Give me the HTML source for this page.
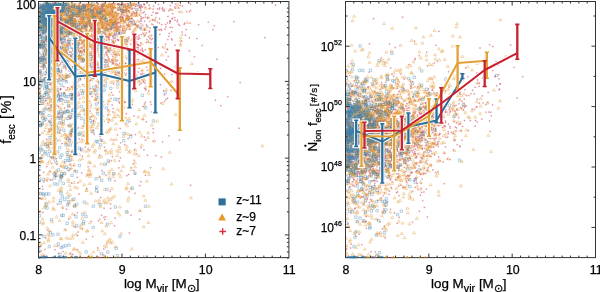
<!DOCTYPE html>
<html><head><meta charset="utf-8"><style>html,body{margin:0;padding:0;background:#fff;width:600px;height:292px;overflow:hidden}svg{display:block;filter:blur(0.25px)}</style></head><body>
<svg xmlns="http://www.w3.org/2000/svg" width="600" height="292" viewBox="0 0 600 292">
<defs><filter id="bl" x="-5%" y="-5%" width="110%" height="110%"><feGaussianBlur stdDeviation="0.45"/></filter><clipPath id="cl"><rect x="38.5" y="1.5" width="250.4" height="256.1"/></clipPath><clipPath id="cr"><rect x="345.5" y="1.5" width="250.0" height="256.1"/></clipPath></defs>
<g clip-path="url(#cl)"><g fill="none" filter="url(#bl)">
<path stroke="#cf4a64" stroke-width="0.6" opacity="0.65" d="M92.6 21.4h1.8M93.5 20.5v1.8M142.0 119.4h1.8M142.9 118.5v1.8M86.6 15.3h1.8M87.5 14.4v1.8M82.6 4.8h1.8M83.5 3.9v1.8M131.2 76.5h1.8M132.1 75.6v1.8M59.4 39.6h1.8M60.3 38.7v1.8M165.1 99.4h1.8M166.0 98.5v1.8M101.4 24.5h1.8M102.3 23.6v1.8M120.6 11.5h1.8M121.5 10.6v1.8M175.6 51.6h1.8M176.5 50.7v1.8M114.5 23.1h1.8M115.4 22.2v1.8M114.3 18.3h1.8M115.2 17.4v1.8M116.0 26.6h1.8M116.9 25.7v1.8M67.7 21.5h1.8M68.6 20.6v1.8M53.1 79.5h1.8M54.0 78.6v1.8M181.4 34.8h1.8M182.3 33.9v1.8M51.0 20.1h1.8M51.9 19.2v1.8M71.7 37.9h1.8M72.6 37.0v1.8M82.7 24.7h1.8M83.6 23.8v1.8M161.6 141.8h1.8M162.5 140.9v1.8M98.3 8.4h1.8M99.2 7.5v1.8M121.8 41.0h1.8M122.7 40.1v1.8M95.2 7.7h1.8M96.1 6.8v1.8M55.6 9.7h1.8M56.5 8.8v1.8M77.5 6.1h1.8M78.4 5.2v1.8M141.4 73.3h1.8M142.3 72.4v1.8M81.5 35.1h1.8M82.4 34.2v1.8M68.7 52.2h1.8M69.6 51.3v1.8M152.3 141.2h1.8M153.2 140.3v1.8M48.4 131.5h1.8M49.3 130.6v1.8M183.8 23.1h1.8M184.7 22.2v1.8M171.1 39.9h1.8M172.0 39.0v1.8M151.5 38.6h1.8M152.4 37.7v1.8M51.4 35.5h1.8M52.3 34.6v1.8M125.5 29.1h1.8M126.4 28.2v1.8M104.9 60.1h1.8M105.8 59.2v1.8M115.6 23.7h1.8M116.5 22.8v1.8M130.8 5.9h1.8M131.7 5.0v1.8M75.4 27.6h1.8M76.3 26.7v1.8M79.4 18.5h1.8M80.3 17.6v1.8M155.3 42.9h1.8M156.2 42.0v1.8M132.3 163.9h1.8M133.2 163.0v1.8M91.4 71.4h1.8M92.3 70.5v1.8M82.5 135.6h1.8M83.4 134.7v1.8M114.8 12.8h1.8M115.7 11.9v1.8M109.7 47.3h1.8M110.6 46.4v1.8M110.6 92.5h1.8M111.5 91.6v1.8M87.1 6.4h1.8M88.0 5.5v1.8M138.7 219.2h1.8M139.6 218.3v1.8M65.2 69.3h1.8M66.1 68.4v1.8M100.9 114.5h1.8M101.8 113.6v1.8M150.7 111.9h1.8M151.6 111.0v1.8M89.4 16.1h1.8M90.3 15.2v1.8M88.7 20.7h1.8M89.6 19.8v1.8M117.5 80.9h1.8M118.4 80.0v1.8M112.6 41.5h1.8M113.5 40.6v1.8M75.2 62.3h1.8M76.1 61.4v1.8M114.5 41.0h1.8M115.4 40.1v1.8M103.5 147.2h1.8M104.4 146.3v1.8M74.3 18.8h1.8M75.2 17.9v1.8M183.3 24.4h1.8M184.2 23.5v1.8M48.9 171.2h1.8M49.8 170.3v1.8M56.1 36.8h1.8M57.0 35.9v1.8M69.0 32.6h1.8M69.9 31.7v1.8M138.2 21.8h1.8M139.1 20.9v1.8M103.2 28.6h1.8M104.1 27.7v1.8M124.9 16.2h1.8M125.8 15.3v1.8M165.4 68.0h1.8M166.3 67.1v1.8M138.8 84.9h1.8M139.7 84.0v1.8M70.7 17.9h1.8M71.6 17.0v1.8M140.2 4.9h1.8M141.1 4.0v1.8M189.7 185.2h1.8M190.6 184.3v1.8M120.3 4.6h1.8M121.2 3.7v1.8M155.7 29.6h1.8M156.6 28.7v1.8M95.3 37.8h1.8M96.2 36.9v1.8M94.3 52.2h1.8M95.2 51.3v1.8M42.3 114.1h1.8M43.2 113.2v1.8M56.0 23.3h1.8M56.9 22.4v1.8M80.8 7.9h1.8M81.7 7.0v1.8M113.5 26.9h1.8M114.4 26.0v1.8M67.0 125.7h1.8M67.9 124.8v1.8M61.8 32.1h1.8M62.7 31.2v1.8M141.7 6.9h1.8M142.6 6.0v1.8M69.4 24.0h1.8M70.3 23.1v1.8M118.4 161.0h1.8M119.3 160.1v1.8M130.8 21.9h1.8M131.7 21.0v1.8M129.8 80.3h1.8M130.7 79.4v1.8M139.0 6.5h1.8M139.9 5.6v1.8M131.5 34.0h1.8M132.4 33.1v1.8M70.8 9.7h1.8M71.7 8.8v1.8M59.6 9.4h1.8M60.5 8.5v1.8M132.4 11.7h1.8M133.3 10.8v1.8M114.9 20.6h1.8M115.8 19.7v1.8M57.7 113.1h1.8M58.6 112.2v1.8M62.2 42.5h1.8M63.1 41.6v1.8M126.8 40.8h1.8M127.7 39.9v1.8M58.6 19.6h1.8M59.5 18.7v1.8M125.6 44.4h1.8M126.5 43.5v1.8M108.2 4.0h1.8M109.1 3.1v1.8M130.4 15.3h1.8M131.3 14.4v1.8M82.5 49.9h1.8M83.4 49.0v1.8M64.1 67.7h1.8M65.0 66.8v1.8M121.8 29.7h1.8M122.7 28.8v1.8M117.3 4.3h1.8M118.2 3.4v1.8M46.8 103.3h1.8M47.7 102.4v1.8M143.8 88.5h1.8M144.7 87.6v1.8M119.6 37.4h1.8M120.5 36.5v1.8M73.8 18.5h1.8M74.7 17.6v1.8M69.3 118.8h1.8M70.2 117.9v1.8M71.9 37.3h1.8M72.8 36.4v1.8M133.3 160.3h1.8M134.2 159.4v1.8M51.8 25.6h1.8M52.7 24.7v1.8M55.0 173.4h1.8M55.9 172.5v1.8M105.4 82.7h1.8M106.3 81.8v1.8M105.1 175.4h1.8M106.0 174.5v1.8M100.8 9.8h1.8M101.7 8.9v1.8M101.8 11.1h1.8M102.7 10.2v1.8M78.9 36.8h1.8M79.8 35.9v1.8M41.9 17.4h1.8M42.8 16.5v1.8M86.9 9.1h1.8M87.8 8.2v1.8M105.6 70.8h1.8M106.5 69.9v1.8M101.7 65.1h1.8M102.6 64.2v1.8M100.7 215.2h1.8M101.6 214.3v1.8M76.1 53.3h1.8M77.0 52.4v1.8M103.8 9.5h1.8M104.7 8.6v1.8M62.1 11.1h1.8M63.0 10.2v1.8M159.6 68.4h1.8M160.5 67.5v1.8M107.3 29.0h1.8M108.2 28.1v1.8M85.8 46.4h1.8M86.7 45.5v1.8M50.7 118.6h1.8M51.6 117.7v1.8M91.6 13.6h1.8M92.5 12.7v1.8M134.4 143.3h1.8M135.3 142.4v1.8M128.4 233.0h1.8M129.3 232.1v1.8M119.7 142.8h1.8M120.6 141.9v1.8M80.1 40.3h1.8M81.0 39.4v1.8M90.0 10.5h1.8M90.9 9.6v1.8M123.8 144.7h1.8M124.7 143.8v1.8M42.5 66.8h1.8M43.4 65.9v1.8M70.6 11.5h1.8M71.5 10.6v1.8M62.0 26.6h1.8M62.9 25.7v1.8M142.2 12.8h1.8M143.1 11.9v1.8M77.7 55.6h1.8M78.6 54.7v1.8M73.9 32.0h1.8M74.8 31.1v1.8M51.3 34.3h1.8M52.2 33.4v1.8M146.5 155.2h1.8M147.4 154.3v1.8M73.9 26.1h1.8M74.8 25.2v1.8M113.9 21.8h1.8M114.8 20.9v1.8M213.4 25.8h1.8M214.3 24.9v1.8M93.9 8.2h1.8M94.8 7.3v1.8M117.5 23.2h1.8M118.4 22.3v1.8M58.2 13.0h1.8M59.1 12.1v1.8M144.4 102.3h1.8M145.3 101.4v1.8M112.7 84.2h1.8M113.6 83.3v1.8M101.9 40.1h1.8M102.8 39.2v1.8M60.3 71.2h1.8M61.2 70.3v1.8M38.7 22.1h1.8M39.6 21.2v1.8M47.7 108.5h1.8M48.6 107.6v1.8M43.8 47.7h1.8M44.7 46.8v1.8M113.7 33.3h1.8M114.6 32.4v1.8M82.3 18.4h1.8M83.2 17.5v1.8M47.9 94.2h1.8M48.8 93.3v1.8M85.0 38.9h1.8M85.9 38.0v1.8M86.3 9.9h1.8M87.2 9.0v1.8M55.2 39.8h1.8M56.1 38.9v1.8M126.0 58.7h1.8M126.9 57.8v1.8M52.1 91.1h1.8M53.0 90.2v1.8M114.2 35.1h1.8M115.1 34.2v1.8M50.3 34.8h1.8M51.2 33.9v1.8M117.1 115.4h1.8M118.0 114.5v1.8M91.6 24.6h1.8M92.5 23.7v1.8M71.0 72.9h1.8M71.9 72.0v1.8M176.3 21.8h1.8M177.2 20.9v1.8M101.0 35.2h1.8M101.9 34.3v1.8M138.3 35.3h1.8M139.2 34.4v1.8M78.2 21.3h1.8M79.1 20.4v1.8M100.1 19.8h1.8M101.0 18.9v1.8M104.2 33.6h1.8M105.1 32.7v1.8M76.0 70.6h1.8M76.9 69.7v1.8M122.4 20.4h1.8M123.3 19.5v1.8M120.4 10.1h1.8M121.3 9.2v1.8M80.7 19.3h1.8M81.6 18.4v1.8M91.5 24.0h1.8M92.4 23.1v1.8M144.3 49.9h1.8M145.2 49.0v1.8M106.5 24.9h1.8M107.4 24.0v1.8M85.0 14.5h1.8M85.9 13.6v1.8M59.2 133.0h1.8M60.1 132.1v1.8M207.4 22.2h1.8M208.3 21.3v1.8M147.5 54.2h1.8M148.4 53.3v1.8M150.8 15.4h1.8M151.7 14.5v1.8M143.0 4.0h1.8M143.9 3.1v1.8M39.5 47.8h1.8M40.4 46.9v1.8M100.3 22.3h1.8M101.2 21.4v1.8M73.4 6.9h1.8M74.3 6.0v1.8M132.0 46.9h1.8M132.9 46.0v1.8M188.6 37.8h1.8M189.5 36.9v1.8M113.1 52.3h1.8M114.0 51.4v1.8M101.8 15.8h1.8M102.7 14.9v1.8M92.2 42.8h1.8M93.1 41.9v1.8M56.9 20.9h1.8M57.8 20.0v1.8M79.7 149.3h1.8M80.6 148.4v1.8M86.2 33.6h1.8M87.1 32.7v1.8M65.7 14.1h1.8M66.6 13.2v1.8M113.6 34.8h1.8M114.5 33.9v1.8M102.3 254.8h1.8M103.2 253.9v1.8M72.7 129.2h1.8M73.6 128.3v1.8M105.7 24.1h1.8M106.6 23.2v1.8M61.6 47.5h1.8M62.5 46.6v1.8M151.0 24.1h1.8M151.9 23.2v1.8M89.4 33.4h1.8M90.3 32.5v1.8M46.1 37.3h1.8M47.0 36.4v1.8M75.0 15.0h1.8M75.9 14.1v1.8M160.4 157.0h1.8M161.3 156.1v1.8M122.0 9.4h1.8M122.9 8.5v1.8M92.7 121.1h1.8M93.6 120.2v1.8M45.4 98.0h1.8M46.3 97.1v1.8M176.1 89.3h1.8M177.0 88.4v1.8M135.8 25.9h1.8M136.7 25.0v1.8M162.0 10.5h1.8M162.9 9.6v1.8M96.6 16.3h1.8M97.5 15.4v1.8M131.1 63.2h1.8M132.0 62.3v1.8M93.8 15.9h1.8M94.7 15.0v1.8M133.0 170.7h1.8M133.9 169.8v1.8M141.1 70.6h1.8M142.0 69.7v1.8M105.1 74.8h1.8M106.0 73.9v1.8M72.8 36.9h1.8M73.7 36.0v1.8M84.2 17.4h1.8M85.1 16.5v1.8M77.3 232.0h1.8M78.2 231.1v1.8M80.1 30.7h1.8M81.0 29.8v1.8M56.6 30.3h1.8M57.5 29.4v1.8M155.3 13.7h1.8M156.2 12.8v1.8M144.8 89.0h1.8M145.7 88.1v1.8M82.5 10.7h1.8M83.4 9.8v1.8M86.4 34.6h1.8M87.3 33.7v1.8M97.0 192.2h1.8M97.9 191.3v1.8M167.9 10.8h1.8M168.8 9.9v1.8M69.9 134.9h1.8M70.8 134.0v1.8M75.8 11.1h1.8M76.7 10.2v1.8M79.8 51.0h1.8M80.7 50.1v1.8M97.0 65.2h1.8M97.9 64.3v1.8M100.5 95.0h1.8M101.4 94.1v1.8M163.7 101.3h1.8M164.6 100.4v1.8M47.3 14.9h1.8M48.2 14.0v1.8M120.4 81.2h1.8M121.3 80.3v1.8M89.9 88.8h1.8M90.8 87.9v1.8M114.1 180.8h1.8M115.0 179.9v1.8M123.9 32.8h1.8M124.8 31.9v1.8M122.1 33.4h1.8M123.0 32.5v1.8M122.7 40.6h1.8M123.6 39.7v1.8M66.9 5.8h1.8M67.8 4.9v1.8M81.2 42.8h1.8M82.1 41.9v1.8M82.0 18.3h1.8M82.9 17.4v1.8M126.7 16.0h1.8M127.6 15.1v1.8M60.6 57.3h1.8M61.5 56.4v1.8M108.7 34.6h1.8M109.6 33.7v1.8M95.4 40.8h1.8M96.3 39.9v1.8M93.5 8.0h1.8M94.4 7.1v1.8M120.2 43.5h1.8M121.1 42.6v1.8M92.0 13.7h1.8M92.9 12.8v1.8M100.2 35.4h1.8M101.1 34.5v1.8M103.9 67.3h1.8M104.8 66.4v1.8M63.1 7.0h1.8M64.0 6.1v1.8M47.4 145.3h1.8M48.3 144.4v1.8M171.8 18.2h1.8M172.7 17.3v1.8M140.0 5.7h1.8M140.9 4.8v1.8M77.8 92.7h1.8M78.7 91.8v1.8M100.4 13.1h1.8M101.3 12.2v1.8M126.1 175.7h1.8M127.0 174.8v1.8M93.4 45.2h1.8M94.3 44.3v1.8M112.8 62.3h1.8M113.7 61.4v1.8M89.4 4.8h1.8M90.3 3.9v1.8M68.2 71.0h1.8M69.1 70.1v1.8M40.8 27.4h1.8M41.7 26.5v1.8M239.3 82.6h1.8M240.2 81.7v1.8M136.1 63.7h1.8M137.0 62.8v1.8M56.3 21.2h1.8M57.2 20.3v1.8M100.6 141.0h1.8M101.5 140.1v1.8M145.5 24.7h1.8M146.4 23.8v1.8M57.3 35.9h1.8M58.2 35.0v1.8M62.0 79.7h1.8M62.9 78.8v1.8M96.1 15.1h1.8M97.0 14.2v1.8M89.2 75.2h1.8M90.1 74.3v1.8M96.8 25.1h1.8M97.7 24.2v1.8M121.4 16.9h1.8M122.3 16.0v1.8M84.3 5.3h1.8M85.2 4.4v1.8M79.4 71.8h1.8M80.3 70.9v1.8M74.8 89.5h1.8M75.7 88.6v1.8M48.9 77.9h1.8M49.8 77.0v1.8M150.3 104.4h1.8M151.2 103.5v1.8M101.5 27.7h1.8M102.4 26.8v1.8M125.2 18.3h1.8M126.1 17.4v1.8M72.9 226.8h1.8M73.8 225.9v1.8M112.2 8.0h1.8M113.1 7.1v1.8M112.8 16.4h1.8M113.7 15.5v1.8M50.2 85.4h1.8M51.1 84.5v1.8M117.0 28.6h1.8M117.9 27.7v1.8M56.5 16.8h1.8M57.4 15.9v1.8M128.8 66.5h1.8M129.7 65.6v1.8M103.1 217.4h1.8M104.0 216.5v1.8M83.3 21.6h1.8M84.2 20.7v1.8M46.5 5.0h1.8M47.4 4.1v1.8M82.7 33.4h1.8M83.6 32.5v1.8M134.1 13.1h1.8M135.0 12.2v1.8M152.8 42.3h1.8M153.7 41.4v1.8M91.1 51.7h1.8M92.0 50.8v1.8M59.2 8.8h1.8M60.1 7.9v1.8M166.6 98.3h1.8M167.5 97.4v1.8M94.2 8.8h1.8M95.1 7.9v1.8M126.8 6.6h1.8M127.7 5.7v1.8M101.4 94.7h1.8M102.3 93.8v1.8M66.8 8.7h1.8M67.7 7.8v1.8M120.7 13.0h1.8M121.6 12.1v1.8M178.2 71.0h1.8M179.1 70.1v1.8M89.9 25.0h1.8M90.8 24.1v1.8M39.2 34.0h1.8M40.1 33.1v1.8M80.2 35.7h1.8M81.1 34.8v1.8M121.2 17.4h1.8M122.1 16.5v1.8M158.6 18.8h1.8M159.5 17.9v1.8M79.7 50.8h1.8M80.6 49.9v1.8M146.7 70.3h1.8M147.6 69.4v1.8M77.6 127.8h1.8M78.5 126.9v1.8M89.2 63.4h1.8M90.1 62.5v1.8M148.2 4.9h1.8M149.1 4.0v1.8M59.4 18.0h1.8M60.3 17.1v1.8M101.1 25.8h1.8M102.0 24.9v1.8M87.2 148.8h1.8M88.1 147.9v1.8M140.1 21.4h1.8M141.0 20.5v1.8M79.4 30.9h1.8M80.3 30.0v1.8M188.7 11.8h1.8M189.6 10.9v1.8M154.1 31.4h1.8M155.0 30.5v1.8M92.2 37.5h1.8M93.1 36.6v1.8M57.7 106.7h1.8M58.6 105.8v1.8M133.3 43.3h1.8M134.2 42.4v1.8M43.1 41.6h1.8M44.0 40.7v1.8M76.9 7.8h1.8M77.8 6.9v1.8M58.7 65.2h1.8M59.6 64.3v1.8M151.9 27.6h1.8M152.8 26.7v1.8M42.0 212.5h1.8M42.9 211.6v1.8M70.7 61.4h1.8M71.6 60.5v1.8M52.4 16.4h1.8M53.3 15.5v1.8M137.2 25.2h1.8M138.1 24.3v1.8M74.5 14.2h1.8M75.4 13.3v1.8M67.4 17.0h1.8M68.3 16.1v1.8M104.6 11.5h1.8M105.5 10.6v1.8M143.5 104.0h1.8M144.4 103.1v1.8M81.9 33.8h1.8M82.8 32.9v1.8M52.3 9.5h1.8M53.2 8.6v1.8M78.6 13.4h1.8M79.5 12.5v1.8M107.6 10.8h1.8M108.5 9.9v1.8M137.9 79.8h1.8M138.8 78.9v1.8M69.7 15.9h1.8M70.6 15.0v1.8M169.4 20.8h1.8M170.3 19.9v1.8M94.4 40.7h1.8M95.3 39.8v1.8M163.4 11.1h1.8M164.3 10.2v1.8M52.5 7.1h1.8M53.4 6.2v1.8M133.7 24.5h1.8M134.6 23.6v1.8M103.0 19.2h1.8M103.9 18.3v1.8M106.9 104.1h1.8M107.8 103.2v1.8M116.5 29.8h1.8M117.4 28.9v1.8M91.3 15.6h1.8M92.2 14.7v1.8M101.0 170.5h1.8M101.9 169.6v1.8M96.5 35.7h1.8M97.4 34.8v1.8M74.5 118.7h1.8M75.4 117.8v1.8M141.5 55.8h1.8M142.4 54.9v1.8M123.3 73.0h1.8M124.2 72.1v1.8M115.2 21.4h1.8M116.1 20.5v1.8M58.8 98.7h1.8M59.7 97.8v1.8M98.2 43.3h1.8M99.1 42.4v1.8M87.3 166.7h1.8M88.2 165.8v1.8M79.1 35.1h1.8M80.0 34.2v1.8M166.6 22.9h1.8M167.5 22.0v1.8M69.3 73.5h1.8M70.2 72.6v1.8M97.3 16.6h1.8M98.2 15.7v1.8M69.3 52.0h1.8M70.2 51.1v1.8M58.0 71.7h1.8M58.9 70.8v1.8M73.1 107.5h1.8M74.0 106.6v1.8M84.8 22.9h1.8M85.7 22.0v1.8M94.7 25.2h1.8M95.6 24.3v1.8M57.4 14.8h1.8M58.3 13.9v1.8M97.5 221.0h1.8M98.4 220.1v1.8M131.0 18.4h1.8M131.9 17.5v1.8M49.4 51.0h1.8M50.3 50.1v1.8M48.2 38.9h1.8M49.1 38.0v1.8M108.5 39.7h1.8M109.4 38.8v1.8M91.3 46.9h1.8M92.2 46.0v1.8M115.0 61.2h1.8M115.9 60.3v1.8M131.1 18.6h1.8M132.0 17.7v1.8M83.0 40.8h1.8M83.9 39.9v1.8M133.6 149.8h1.8M134.5 148.9v1.8M84.0 40.7h1.8M84.9 39.8v1.8M80.8 32.4h1.8M81.7 31.5v1.8M92.0 5.3h1.8M92.9 4.4v1.8M54.7 62.3h1.8M55.6 61.4v1.8M155.0 12.9h1.8M155.9 12.0v1.8M94.0 49.6h1.8M94.9 48.7v1.8M84.7 40.8h1.8M85.6 39.9v1.8M138.8 185.6h1.8M139.7 184.7v1.8M110.4 160.7h1.8M111.3 159.8v1.8M121.8 38.9h1.8M122.7 38.0v1.8M81.0 20.0h1.8M81.9 19.1v1.8M115.9 28.0h1.8M116.8 27.1v1.8M100.7 6.2h1.8M101.6 5.3v1.8M63.8 162.6h1.8M64.7 161.7v1.8M181.2 32.0h1.8M182.1 31.1v1.8M40.2 245.7h1.8M41.1 244.8v1.8M169.4 27.3h1.8M170.3 26.4v1.8M51.7 153.1h1.8M52.6 152.2v1.8M58.1 12.0h1.8M59.0 11.1v1.8M78.3 16.3h1.8M79.2 15.4v1.8M131.0 13.6h1.8M131.9 12.7v1.8M119.0 22.3h1.8M119.9 21.4v1.8M94.8 16.4h1.8M95.7 15.5v1.8M57.9 15.4h1.8M58.8 14.5v1.8M118.9 103.0h1.8M119.8 102.1v1.8M117.4 10.3h1.8M118.3 9.4v1.8M87.9 17.2h1.8M88.8 16.3v1.8M177.3 84.4h1.8M178.2 83.5v1.8M87.8 13.8h1.8M88.7 12.9v1.8M78.4 9.9h1.8M79.3 9.0v1.8M135.7 12.4h1.8M136.6 11.5v1.8M42.4 53.2h1.8M43.3 52.3v1.8M159.5 84.7h1.8M160.4 83.8v1.8M112.4 63.3h1.8M113.3 62.4v1.8M152.4 128.6h1.8M153.3 127.7v1.8M86.5 100.3h1.8M87.4 99.4v1.8M112.1 36.5h1.8M113.0 35.6v1.8M107.5 37.7h1.8M108.4 36.8v1.8M92.4 9.0h1.8M93.3 8.1v1.8M78.1 7.8h1.8M79.0 6.9v1.8M56.3 24.7h1.8M57.2 23.8v1.8M70.2 136.8h1.8M71.1 135.9v1.8M60.8 42.1h1.8M61.7 41.2v1.8M99.4 56.4h1.8M100.3 55.5v1.8M113.7 47.7h1.8M114.6 46.8v1.8M78.6 23.0h1.8M79.5 22.1v1.8M78.1 25.2h1.8M79.0 24.3v1.8M44.7 59.6h1.8M45.6 58.7v1.8M123.0 20.6h1.8M123.9 19.7v1.8M77.3 25.4h1.8M78.2 24.5v1.8M45.8 166.4h1.8M46.7 165.5v1.8M116.7 4.4h1.8M117.6 3.5v1.8M77.3 64.5h1.8M78.2 63.6v1.8M142.7 81.8h1.8M143.6 80.9v1.8M102.9 24.9h1.8M103.8 24.0v1.8M104.4 59.6h1.8M105.3 58.7v1.8M111.5 13.8h1.8M112.4 12.9v1.8M67.7 63.7h1.8M68.6 62.8v1.8M105.4 22.0h1.8M106.3 21.1v1.8M143.7 21.3h1.8M144.6 20.4v1.8M158.9 34.4h1.8M159.8 33.5v1.8M43.3 41.3h1.8M44.2 40.4v1.8M88.2 35.5h1.8M89.1 34.6v1.8M126.3 25.3h1.8M127.2 24.4v1.8M111.4 23.9h1.8M112.3 23.0v1.8M42.0 9.7h1.8M42.9 8.8v1.8M41.2 155.0h1.8M42.1 154.1v1.8M98.7 18.4h1.8M99.6 17.5v1.8M70.4 86.8h1.8M71.3 85.9v1.8M97.1 23.0h1.8M98.0 22.1v1.8M105.5 54.2h1.8M106.4 53.3v1.8M103.2 15.7h1.8M104.1 14.8v1.8M107.7 38.4h1.8M108.6 37.5v1.8M70.8 56.1h1.8M71.7 55.2v1.8M72.8 30.4h1.8M73.7 29.5v1.8M126.1 10.8h1.8M127.0 9.9v1.8M81.3 24.9h1.8M82.2 24.0v1.8M78.4 7.5h1.8M79.3 6.6v1.8M59.6 88.6h1.8M60.5 87.7v1.8M104.2 12.1h1.8M105.1 11.2v1.8M163.6 74.0h1.8M164.5 73.1v1.8M149.1 38.5h1.8M150.0 37.6v1.8M54.1 12.9h1.8M55.0 12.0v1.8M72.1 20.4h1.8M73.0 19.5v1.8M163.5 94.8h1.8M164.4 93.9v1.8M158.4 29.9h1.8M159.3 29.0v1.8M99.2 107.7h1.8M100.1 106.8v1.8M95.9 43.5h1.8M96.8 42.6v1.8M169.2 21.8h1.8M170.1 20.9v1.8M76.5 88.8h1.8M77.4 87.9v1.8M61.7 74.9h1.8M62.6 74.0v1.8M79.5 24.7h1.8M80.4 23.8v1.8M95.9 70.3h1.8M96.8 69.4v1.8M143.4 11.8h1.8M144.3 10.9v1.8M102.2 6.6h1.8M103.1 5.7v1.8M117.0 4.0h1.8M117.9 3.1v1.8M143.2 4.8h1.8M144.1 3.9v1.8M54.0 249.7h1.8M54.9 248.8v1.8M184.4 35.2h1.8M185.3 34.3v1.8M146.9 18.1h1.8M147.8 17.2v1.8M165.1 26.9h1.8M166.0 26.0v1.8M53.4 33.6h1.8M54.3 32.7v1.8M92.8 12.0h1.8M93.7 11.1v1.8M56.5 15.0h1.8M57.4 14.1v1.8M80.2 150.8h1.8M81.1 149.9v1.8M82.9 67.5h1.8M83.8 66.6v1.8M89.0 80.3h1.8M89.9 79.4v1.8M142.4 17.7h1.8M143.3 16.8v1.8M162.6 90.6h1.8M163.5 89.7v1.8M105.0 6.1h1.8M105.9 5.2v1.8M154.9 17.7h1.8M155.8 16.8v1.8M73.5 51.5h1.8M74.4 50.6v1.8M94.0 46.2h1.8M94.9 45.3v1.8M86.6 84.5h1.8M87.5 83.6v1.8M97.2 38.6h1.8M98.1 37.7v1.8M57.5 11.4h1.8M58.4 10.5v1.8M133.7 66.1h1.8M134.6 65.2v1.8M67.4 12.9h1.8M68.3 12.0v1.8M89.3 29.3h1.8M90.2 28.4v1.8M158.5 23.2h1.8M159.4 22.3v1.8M71.2 25.7h1.8M72.1 24.8v1.8M47.0 6.0h1.8M47.9 5.1v1.8M178.7 139.9h1.8M179.6 139.0v1.8M108.5 29.2h1.8M109.4 28.3v1.8M57.6 253.4h1.8M58.5 252.5v1.8M93.2 66.0h1.8M94.1 65.1v1.8M108.1 51.3h1.8M109.0 50.4v1.8M127.7 16.9h1.8M128.6 16.0v1.8M50.1 13.0h1.8M51.0 12.1v1.8M123.5 7.0h1.8M124.4 6.1v1.8M80.4 8.4h1.8M81.3 7.5v1.8M89.8 46.2h1.8M90.7 45.3v1.8M87.8 5.0h1.8M88.7 4.1v1.8M44.3 75.0h1.8M45.2 74.1v1.8M39.5 15.6h1.8M40.4 14.7v1.8M71.3 23.6h1.8M72.2 22.7v1.8M66.4 45.7h1.8M67.3 44.8v1.8M107.0 49.9h1.8M107.9 49.0v1.8M45.8 139.3h1.8M46.7 138.4v1.8M130.1 215.2h1.8M131.0 214.3v1.8M78.9 21.9h1.8M79.8 21.0v1.8M74.1 81.3h1.8M75.0 80.4v1.8M119.1 27.5h1.8M120.0 26.6v1.8M138.3 7.1h1.8M139.2 6.2v1.8M99.7 8.3h1.8M100.6 7.4v1.8M118.8 91.8h1.8M119.7 90.9v1.8M188.5 50.9h1.8M189.4 50.0v1.8M40.6 199.0h1.8M41.5 198.1v1.8M117.7 72.7h1.8M118.6 71.8v1.8M38.8 23.3h1.8M39.7 22.4v1.8M172.2 72.2h1.8M173.1 71.3v1.8M73.9 67.4h1.8M74.8 66.5v1.8M70.8 18.9h1.8M71.7 18.0v1.8M141.6 50.9h1.8M142.5 50.0v1.8M174.2 20.3h1.8M175.1 19.4v1.8M78.3 9.1h1.8M79.2 8.2v1.8M96.1 11.3h1.8M97.0 10.4v1.8M141.1 74.7h1.8M142.0 73.8v1.8M99.8 197.5h1.8M100.7 196.6v1.8M79.6 51.8h1.8M80.5 50.9v1.8M38.4 124.8h1.8M39.3 123.9v1.8M69.5 164.6h1.8M70.4 163.7v1.8M136.0 12.4h1.8M136.9 11.5v1.8M38.6 84.1h1.8M39.5 83.2v1.8M152.4 132.6h1.8M153.3 131.7v1.8M93.4 7.4h1.8M94.3 6.5v1.8M115.1 63.6h1.8M116.0 62.7v1.8M139.3 7.0h1.8M140.2 6.1v1.8M84.3 14.1h1.8M85.2 13.2v1.8M41.4 13.5h1.8M42.3 12.6v1.8M79.0 98.9h1.8M79.9 98.0v1.8M69.6 22.4h1.8M70.5 21.5v1.8M154.8 65.3h1.8M155.7 64.4v1.8M122.4 12.4h1.8M123.3 11.5v1.8M139.2 45.8h1.8M140.1 44.9v1.8M63.8 52.8h1.8M64.7 51.9v1.8M101.4 6.4h1.8M102.3 5.5v1.8M80.6 19.9h1.8M81.5 19.0v1.8M68.0 42.9h1.8M68.9 42.0v1.8M164.8 24.4h1.8M165.7 23.5v1.8M193.6 56.7h1.8M194.5 55.8v1.8M66.6 87.7h1.8M67.5 86.8v1.8M179.1 75.6h1.8M180.0 74.7v1.8M62.2 10.0h1.8M63.1 9.1v1.8M179.4 5.5h1.8M180.3 4.6v1.8M92.1 48.0h1.8M93.0 47.1v1.8M101.7 7.9h1.8M102.6 7.0v1.8M95.2 32.5h1.8M96.1 31.6v1.8M100.2 8.7h1.8M101.1 7.8v1.8M55.3 15.2h1.8M56.2 14.3v1.8M119.7 25.5h1.8M120.6 24.6v1.8M63.4 29.8h1.8M64.3 28.9v1.8M125.6 9.0h1.8M126.5 8.1v1.8M71.2 94.5h1.8M72.1 93.6v1.8"/>
<path stroke="#cf4a64" stroke-width="0.6" opacity="0.65" d="M141.4 50.0h1.8M142.3 49.1v1.8M165.2 52.3h1.8M166.1 51.4v1.8M118.9 32.9h1.8M119.8 32.0v1.8M57.6 93.2h1.8M58.5 92.3v1.8M125.6 11.8h1.8M126.5 10.9v1.8M55.7 12.0h1.8M56.6 11.1v1.8M96.3 25.6h1.8M97.2 24.7v1.8M47.2 54.5h1.8M48.1 53.6v1.8M121.0 49.2h1.8M121.9 48.3v1.8M144.4 175.2h1.8M145.3 174.3v1.8M133.8 23.8h1.8M134.7 22.9v1.8M39.9 77.7h1.8M40.8 76.8v1.8M124.5 30.9h1.8M125.4 30.0v1.8M63.0 56.2h1.8M63.9 55.3v1.8M127.6 25.2h1.8M128.5 24.3v1.8M114.4 21.8h1.8M115.3 20.9v1.8M56.1 4.0h1.8M57.0 3.1v1.8M161.7 47.0h1.8M162.6 46.1v1.8M119.0 29.8h1.8M119.9 28.9v1.8M80.0 23.2h1.8M80.9 22.3v1.8M112.3 22.4h1.8M113.2 21.5v1.8M59.9 62.8h1.8M60.8 61.9v1.8M152.2 25.0h1.8M153.1 24.1v1.8M81.6 42.3h1.8M82.5 41.4v1.8M107.6 36.4h1.8M108.5 35.5v1.8M75.7 39.5h1.8M76.6 38.6v1.8M58.1 16.8h1.8M59.0 15.9v1.8M146.0 26.2h1.8M146.9 25.3v1.8M226.9 96.8h1.8M227.8 95.9v1.8M144.3 7.4h1.8M145.2 6.5v1.8M123.9 102.5h1.8M124.8 101.6v1.8M122.4 7.1h1.8M123.3 6.2v1.8M95.8 11.1h1.8M96.7 10.2v1.8M61.6 16.2h1.8M62.5 15.3v1.8M129.2 4.8h1.8M130.1 3.9v1.8M134.5 134.6h1.8M135.4 133.7v1.8M137.2 47.5h1.8M138.1 46.6v1.8M82.3 62.1h1.8M83.2 61.2v1.8M201.3 45.4h1.8M202.2 44.5v1.8M142.2 106.5h1.8M143.1 105.6v1.8M39.3 14.4h1.8M40.2 13.5v1.8M84.4 60.2h1.8M85.3 59.3v1.8M77.7 49.9h1.8M78.6 49.0v1.8M123.1 15.1h1.8M124.0 14.2v1.8M143.6 30.2h1.8M144.5 29.3v1.8M73.7 47.6h1.8M74.6 46.7v1.8M97.1 7.1h1.8M98.0 6.2v1.8M131.1 59.3h1.8M132.0 58.4v1.8M107.5 15.0h1.8M108.4 14.1v1.8M95.5 70.4h1.8M96.4 69.5v1.8M120.5 16.0h1.8M121.4 15.1v1.8M80.4 43.9h1.8M81.3 43.0v1.8M73.4 33.5h1.8M74.3 32.6v1.8M74.3 6.1h1.8M75.2 5.2v1.8M82.7 23.6h1.8M83.6 22.7v1.8M134.1 193.3h1.8M135.0 192.4v1.8M149.5 79.8h1.8M150.4 78.9v1.8M154.9 155.7h1.8M155.8 154.8v1.8M122.7 12.4h1.8M123.6 11.5v1.8M96.3 109.5h1.8M97.2 108.6v1.8M86.0 40.9h1.8M86.9 40.0v1.8M138.8 38.2h1.8M139.7 37.3v1.8M46.0 4.9h1.8M46.9 4.0v1.8M153.8 29.9h1.8M154.7 29.0v1.8M119.6 19.1h1.8M120.5 18.2v1.8M137.9 4.9h1.8M138.8 4.0v1.8M156.5 60.4h1.8M157.4 59.5v1.8M61.2 7.5h1.8M62.1 6.6v1.8M72.6 93.8h1.8M73.5 92.9v1.8M103.3 33.0h1.8M104.2 32.1v1.8M105.3 36.7h1.8M106.2 35.8v1.8M55.7 51.5h1.8M56.6 50.6v1.8M48.5 60.3h1.8M49.4 59.4v1.8M122.2 17.3h1.8M123.1 16.4v1.8M149.1 27.9h1.8M150.0 27.0v1.8M108.5 119.8h1.8M109.4 118.9v1.8M169.4 5.6h1.8M170.3 4.7v1.8M59.0 36.2h1.8M59.9 35.3v1.8M178.3 11.9h1.8M179.2 11.0v1.8M139.9 181.7h1.8M140.8 180.8v1.8M117.4 29.1h1.8M118.3 28.2v1.8M57.8 17.7h1.8M58.7 16.8v1.8M158.5 9.2h1.8M159.4 8.3v1.8M63.6 108.0h1.8M64.5 107.1v1.8M76.4 14.0h1.8M77.3 13.1v1.8M80.9 17.7h1.8M81.8 16.8v1.8M134.6 6.5h1.8M135.5 5.6v1.8M103.2 73.1h1.8M104.1 72.2v1.8M55.4 104.7h1.8M56.3 103.8v1.8M101.3 18.0h1.8M102.2 17.1v1.8M149.7 101.9h1.8M150.6 101.0v1.8M137.4 72.1h1.8M138.3 71.2v1.8M65.4 57.8h1.8M66.3 56.9v1.8M40.8 41.1h1.8M41.7 40.2v1.8M111.0 39.9h1.8M111.9 39.0v1.8M114.2 7.6h1.8M115.1 6.7v1.8M58.4 48.2h1.8M59.3 47.3v1.8M94.3 90.0h1.8M95.2 89.1v1.8M98.3 6.5h1.8M99.2 5.6v1.8M126.8 18.2h1.8M127.7 17.3v1.8M101.3 66.6h1.8M102.2 65.7v1.8M118.5 98.4h1.8M119.4 97.5v1.8M93.9 26.8h1.8M94.8 25.9v1.8M110.2 98.5h1.8M111.1 97.6v1.8M101.6 26.1h1.8M102.5 25.2v1.8M101.1 59.7h1.8M102.0 58.8v1.8M49.5 157.1h1.8M50.4 156.2v1.8M112.9 26.2h1.8M113.8 25.3v1.8M121.0 84.5h1.8M121.9 83.6v1.8M143.5 29.9h1.8M144.4 29.0v1.8M89.0 23.6h1.8M89.9 22.7v1.8M122.8 48.9h1.8M123.7 48.0v1.8M106.3 55.3h1.8M107.2 54.4v1.8M97.2 81.7h1.8M98.1 80.8v1.8M92.6 120.4h1.8M93.5 119.5v1.8M56.7 246.2h1.8M57.6 245.3v1.8M99.2 136.2h1.8M100.1 135.3v1.8M126.0 24.9h1.8M126.9 24.0v1.8M113.9 7.9h1.8M114.8 7.0v1.8M88.9 46.5h1.8M89.8 45.6v1.8M60.0 166.4h1.8M60.9 165.5v1.8M143.1 74.0h1.8M144.0 73.1v1.8M49.6 41.0h1.8M50.5 40.1v1.8M60.5 14.4h1.8M61.4 13.5v1.8M61.1 143.6h1.8M62.0 142.7v1.8M139.5 210.9h1.8M140.4 210.0v1.8M151.2 79.9h1.8M152.1 79.0v1.8M81.9 19.1h1.8M82.8 18.2v1.8M161.4 8.8h1.8M162.3 7.9v1.8M92.5 129.7h1.8M93.4 128.8v1.8M68.0 170.8h1.8M68.9 169.9v1.8M98.1 67.2h1.8M99.0 66.3v1.8M62.5 35.9h1.8M63.4 35.0v1.8M73.8 20.7h1.8M74.7 19.8v1.8M111.6 11.2h1.8M112.5 10.3v1.8M76.7 30.4h1.8M77.6 29.5v1.8M78.1 194.0h1.8M79.0 193.1v1.8M90.0 27.6h1.8M90.9 26.7v1.8M38.9 12.9h1.8M39.8 12.0v1.8M68.7 7.1h1.8M69.6 6.2v1.8M154.6 55.3h1.8M155.5 54.4v1.8M73.4 58.1h1.8M74.3 57.2v1.8M96.0 40.0h1.8M96.9 39.1v1.8M133.5 8.2h1.8M134.4 7.3v1.8M174.0 6.8h1.8M174.9 5.9v1.8M78.7 36.1h1.8M79.6 35.2v1.8M66.0 46.4h1.8M66.9 45.5v1.8M120.0 5.0h1.8M120.9 4.1v1.8M58.1 99.6h1.8M59.0 98.7v1.8M79.0 51.5h1.8M79.9 50.6v1.8M115.1 25.5h1.8M116.0 24.6v1.8M41.1 25.7h1.8M42.0 24.8v1.8M100.1 8.1h1.8M101.0 7.2v1.8M73.8 39.8h1.8M74.7 38.9v1.8M62.7 112.6h1.8M63.6 111.7v1.8M91.4 96.5h1.8M92.3 95.6v1.8M56.6 58.6h1.8M57.5 57.7v1.8M119.3 9.4h1.8M120.2 8.5v1.8M156.8 13.1h1.8M157.7 12.2v1.8M124.2 10.1h1.8M125.1 9.2v1.8M77.1 182.8h1.8M78.0 181.9v1.8M44.2 40.4h1.8M45.1 39.5v1.8M84.7 72.3h1.8M85.6 71.4v1.8M96.4 67.6h1.8M97.3 66.7v1.8M103.1 4.0h1.8M104.0 3.1v1.8M133.9 84.6h1.8M134.8 83.7v1.8M150.8 35.3h1.8M151.7 34.4v1.8M136.3 38.9h1.8M137.2 38.0v1.8M82.7 6.7h1.8M83.6 5.8v1.8M122.3 74.3h1.8M123.2 73.4v1.8M135.8 41.9h1.8M136.7 41.0v1.8M122.5 26.3h1.8M123.4 25.4v1.8M86.5 72.5h1.8M87.4 71.6v1.8M112.8 139.9h1.8M113.7 139.0v1.8M86.9 175.2h1.8M87.8 174.3v1.8M91.5 14.6h1.8M92.4 13.7v1.8M96.1 42.9h1.8M97.0 42.0v1.8M88.5 101.0h1.8M89.4 100.1v1.8M104.0 219.5h1.8M104.9 218.6v1.8M106.0 37.2h1.8M106.9 36.3v1.8M109.0 35.3h1.8M109.9 34.4v1.8M151.8 19.8h1.8M152.7 18.9v1.8M126.8 20.1h1.8M127.7 19.2v1.8M63.3 168.1h1.8M64.2 167.2v1.8M74.7 44.2h1.8M75.6 43.3v1.8M42.9 172.2h1.8M43.8 171.3v1.8M99.6 20.0h1.8M100.5 19.1v1.8M55.3 24.9h1.8M56.2 24.0v1.8M77.5 51.3h1.8M78.4 50.4v1.8M94.3 38.3h1.8M95.2 37.4v1.8M166.7 49.3h1.8M167.6 48.4v1.8M43.0 96.6h1.8M43.9 95.7v1.8M166.3 49.4h1.8M167.2 48.5v1.8M139.9 23.8h1.8M140.8 22.9v1.8M77.9 59.2h1.8M78.8 58.3v1.8M111.9 16.0h1.8M112.8 15.1v1.8M140.7 7.0h1.8M141.6 6.1v1.8M133.5 21.1h1.8M134.4 20.2v1.8M78.2 28.8h1.8M79.1 27.9v1.8M78.7 5.5h1.8M79.6 4.6v1.8M103.8 64.9h1.8M104.7 64.0v1.8M89.1 25.2h1.8M90.0 24.3v1.8M51.9 124.9h1.8M52.8 124.0v1.8M74.3 51.1h1.8M75.2 50.2v1.8M41.7 14.0h1.8M42.6 13.1v1.8M68.0 15.3h1.8M68.9 14.4v1.8M116.5 134.9h1.8M117.4 134.0v1.8M105.8 48.3h1.8M106.7 47.4v1.8M67.8 137.9h1.8M68.7 137.0v1.8M101.4 14.9h1.8M102.3 14.0v1.8M51.6 82.6h1.8M52.5 81.7v1.8M69.3 24.3h1.8M70.2 23.4v1.8M64.3 18.8h1.8M65.2 17.9v1.8M58.9 42.2h1.8M59.8 41.3v1.8M138.9 7.9h1.8M139.8 7.0v1.8M42.6 69.3h1.8M43.5 68.4v1.8M145.5 32.8h1.8M146.4 31.9v1.8M127.5 23.2h1.8M128.4 22.3v1.8M142.5 81.4h1.8M143.4 80.5v1.8M49.9 40.2h1.8M50.8 39.3v1.8M174.0 45.2h1.8M174.9 44.3v1.8M47.6 23.4h1.8M48.5 22.5v1.8M169.6 82.3h1.8M170.5 81.4v1.8M84.8 13.8h1.8M85.7 12.9v1.8M70.6 134.7h1.8M71.5 133.8v1.8M151.4 19.8h1.8M152.3 18.9v1.8M91.8 56.6h1.8M92.7 55.7v1.8M84.1 26.3h1.8M85.0 25.4v1.8M124.3 10.3h1.8M125.2 9.4v1.8M160.8 24.6h1.8M161.7 23.7v1.8M81.9 4.4h1.8M82.8 3.5v1.8M74.9 47.0h1.8M75.8 46.1v1.8M85.1 27.6h1.8M86.0 26.7v1.8M102.2 22.9h1.8M103.1 22.0v1.8M134.8 24.9h1.8M135.7 24.0v1.8M61.8 23.3h1.8M62.7 22.4v1.8M83.7 51.2h1.8M84.6 50.3v1.8M112.2 77.6h1.8M113.1 76.7v1.8M86.5 4.6h1.8M87.4 3.7v1.8M93.8 40.4h1.8M94.7 39.5v1.8M63.6 27.9h1.8M64.5 27.0v1.8M73.8 5.6h1.8M74.7 4.7v1.8M102.3 6.1h1.8M103.2 5.2v1.8M80.4 47.9h1.8M81.3 47.0v1.8M59.0 27.7h1.8M59.9 26.8v1.8M71.5 23.4h1.8M72.4 22.5v1.8M65.1 8.3h1.8M66.0 7.4v1.8M216.0 59.2h1.8M216.9 58.3v1.8M72.9 59.2h1.8M73.8 58.3v1.8M128.6 18.4h1.8M129.5 17.5v1.8M84.3 32.8h1.8M85.2 31.9v1.8M88.2 20.8h1.8M89.1 19.9v1.8M106.9 24.2h1.8M107.8 23.3v1.8M85.5 29.6h1.8M86.4 28.7v1.8M94.2 5.8h1.8M95.1 4.9v1.8M130.8 23.7h1.8M131.7 22.8v1.8M80.1 12.6h1.8M81.0 11.7v1.8M65.6 209.3h1.8M66.5 208.4v1.8M58.6 31.0h1.8M59.5 30.1v1.8M63.6 14.3h1.8M64.5 13.4v1.8M91.3 28.2h1.8M92.2 27.3v1.8M57.0 30.1h1.8M57.9 29.2v1.8M109.1 12.9h1.8M110.0 12.0v1.8M165.5 60.0h1.8M166.4 59.1v1.8M103.2 208.3h1.8M104.1 207.4v1.8M47.2 78.4h1.8M48.1 77.5v1.8M54.8 19.8h1.8M55.7 18.9v1.8M73.6 14.1h1.8M74.5 13.2v1.8M166.0 81.3h1.8M166.9 80.4v1.8M115.7 69.1h1.8M116.6 68.2v1.8M63.8 12.1h1.8M64.7 11.2v1.8M39.1 56.6h1.8M40.0 55.7v1.8M78.2 4.0h1.8M79.1 3.1v1.8M46.4 17.2h1.8M47.3 16.3v1.8M65.5 52.3h1.8M66.4 51.4v1.8M52.1 10.5h1.8M53.0 9.6v1.8M113.9 20.0h1.8M114.8 19.1v1.8M84.8 78.5h1.8M85.7 77.6v1.8M71.8 62.0h1.8M72.7 61.1v1.8M111.8 4.0h1.8M112.7 3.1v1.8M52.1 7.2h1.8M53.0 6.3v1.8M95.2 12.1h1.8M96.1 11.2v1.8M67.7 27.1h1.8M68.6 26.2v1.8M93.2 134.3h1.8M94.1 133.4v1.8M144.5 17.2h1.8M145.4 16.3v1.8M62.6 26.6h1.8M63.5 25.7v1.8M57.7 4.9h1.8M58.6 4.0v1.8M37.7 138.3h1.8M38.6 137.4v1.8M133.7 4.0h1.8M134.6 3.1v1.8M76.1 40.5h1.8M77.0 39.6v1.8M106.2 21.1h1.8M107.1 20.2v1.8M65.1 90.1h1.8M66.0 89.2v1.8M67.9 34.0h1.8M68.8 33.1v1.8M92.7 15.5h1.8M93.6 14.6v1.8M87.8 8.8h1.8M88.7 7.9v1.8M171.3 27.5h1.8M172.2 26.6v1.8M130.5 134.9h1.8M131.4 134.0v1.8M90.3 27.3h1.8M91.2 26.4v1.8M111.7 63.4h1.8M112.6 62.5v1.8M219.9 105.7h1.8M220.8 104.8v1.8M126.4 15.4h1.8M127.3 14.5v1.8M112.9 43.6h1.8M113.8 42.7v1.8M148.0 90.8h1.8M148.9 89.9v1.8M143.7 28.8h1.8M144.6 27.9v1.8M131.2 104.7h1.8M132.1 103.8v1.8M106.2 7.9h1.8M107.1 7.0v1.8M139.5 74.1h1.8M140.4 73.2v1.8M50.0 105.7h1.8M50.9 104.8v1.8M136.3 76.9h1.8M137.2 76.0v1.8M111.1 59.6h1.8M112.0 58.7v1.8M57.5 117.4h1.8M58.4 116.5v1.8M137.8 45.5h1.8M138.7 44.6v1.8M154.2 20.2h1.8M155.1 19.3v1.8M152.2 12.3h1.8M153.1 11.4v1.8M77.4 13.8h1.8M78.3 12.9v1.8M127.9 11.2h1.8M128.8 10.3v1.8M90.8 49.2h1.8M91.7 48.3v1.8M95.1 188.5h1.8M96.0 187.6v1.8M128.3 26.7h1.8M129.2 25.8v1.8M140.0 16.4h1.8M140.9 15.5v1.8M114.4 22.1h1.8M115.3 21.2v1.8M114.9 54.5h1.8M115.8 53.6v1.8M68.4 16.0h1.8M69.3 15.1v1.8M96.7 247.8h1.8M97.6 246.9v1.8M98.0 54.5h1.8M98.9 53.6v1.8M74.0 23.7h1.8M74.9 22.8v1.8M102.9 76.6h1.8M103.8 75.7v1.8M59.6 64.1h1.8M60.5 63.2v1.8M111.4 11.2h1.8M112.3 10.3v1.8M77.0 81.9h1.8M77.9 81.0v1.8M122.8 4.0h1.8M123.7 3.1v1.8M88.2 73.7h1.8M89.1 72.8v1.8M104.7 18.1h1.8M105.6 17.2v1.8M97.6 12.2h1.8M98.5 11.3v1.8M119.6 16.7h1.8M120.5 15.8v1.8M115.6 15.9h1.8M116.5 15.0v1.8M93.9 14.8h1.8M94.8 13.9v1.8M127.3 63.9h1.8M128.2 63.0v1.8M98.0 45.0h1.8M98.9 44.1v1.8M135.7 14.8h1.8M136.6 13.9v1.8M71.7 23.0h1.8M72.6 22.1v1.8M160.2 29.4h1.8M161.1 28.5v1.8M127.8 10.9h1.8M128.7 10.0v1.8M106.8 115.1h1.8M107.7 114.2v1.8M139.8 8.8h1.8M140.7 7.9v1.8M134.7 36.2h1.8M135.6 35.3v1.8M79.7 9.1h1.8M80.6 8.2v1.8M114.1 4.0h1.8M115.0 3.1v1.8M139.3 50.1h1.8M140.2 49.2v1.8M85.1 31.4h1.8M86.0 30.5v1.8M78.5 31.7h1.8M79.4 30.8v1.8M99.2 29.2h1.8M100.1 28.3v1.8M42.5 33.2h1.8M43.4 32.3v1.8M114.4 38.7h1.8M115.3 37.8v1.8M51.4 148.0h1.8M52.3 147.1v1.8M67.0 30.2h1.8M67.9 29.3v1.8M81.3 28.2h1.8M82.2 27.3v1.8M59.9 11.6h1.8M60.8 10.7v1.8M144.6 14.7h1.8M145.5 13.8v1.8M65.7 139.6h1.8M66.6 138.7v1.8M105.6 40.5h1.8M106.5 39.6v1.8M63.8 39.4h1.8M64.7 38.5v1.8M51.9 54.1h1.8M52.8 53.2v1.8M148.7 83.0h1.8M149.6 82.1v1.8M82.9 17.9h1.8M83.8 17.0v1.8M133.4 32.2h1.8M134.3 31.3v1.8M118.2 102.0h1.8M119.1 101.1v1.8M76.1 104.8h1.8M77.0 103.9v1.8M85.1 58.9h1.8M86.0 58.0v1.8M40.6 6.4h1.8M41.5 5.5v1.8M160.1 103.1h1.8M161.0 102.2v1.8M76.1 94.2h1.8M77.0 93.3v1.8M135.2 4.8h1.8M136.1 3.9v1.8M125.5 113.7h1.8M126.4 112.8v1.8M114.2 12.9h1.8M115.1 12.0v1.8M167.9 36.3h1.8M168.8 35.4v1.8M160.4 30.3h1.8M161.3 29.4v1.8M68.8 44.4h1.8M69.7 43.5v1.8M60.0 17.3h1.8M60.9 16.4v1.8M71.3 39.5h1.8M72.2 38.6v1.8M156.6 8.9h1.8M157.5 8.0v1.8M67.9 219.3h1.8M68.8 218.4v1.8M96.6 20.2h1.8M97.5 19.3v1.8M127.6 38.6h1.8M128.5 37.7v1.8M68.7 31.2h1.8M69.6 30.3v1.8M55.0 22.5h1.8M55.9 21.6v1.8M85.8 188.5h1.8M86.7 187.6v1.8M55.3 6.7h1.8M56.2 5.8v1.8M101.4 10.4h1.8M102.3 9.5v1.8M71.6 38.9h1.8M72.5 38.0v1.8M102.9 249.0h1.8M103.8 248.1v1.8M98.6 155.1h1.8M99.5 154.2v1.8M48.4 121.3h1.8M49.3 120.4v1.8M86.1 17.4h1.8M87.0 16.5v1.8M119.4 128.5h1.8M120.3 127.6v1.8M154.1 57.8h1.8M155.0 56.9v1.8M52.4 10.3h1.8M53.3 9.4v1.8M117.9 167.9h1.8M118.8 167.0v1.8M91.1 5.7h1.8M92.0 4.8v1.8M41.8 41.1h1.8M42.7 40.2v1.8M101.6 27.9h1.8M102.5 27.0v1.8M54.8 22.1h1.8M55.7 21.2v1.8M74.8 73.6h1.8M75.7 72.7v1.8M42.0 48.2h1.8M42.9 47.3v1.8M61.7 99.4h1.8M62.6 98.5v1.8M85.3 29.5h1.8M86.2 28.6v1.8M124.7 75.2h1.8M125.6 74.3v1.8M103.3 41.9h1.8M104.2 41.0v1.8M94.8 95.0h1.8M95.7 94.1v1.8M127.5 11.1h1.8M128.4 10.2v1.8M140.1 29.8h1.8M141.0 28.9v1.8M97.4 28.0h1.8M98.3 27.1v1.8M50.9 163.5h1.8M51.8 162.6v1.8M71.5 95.5h1.8M72.4 94.6v1.8M139.8 27.7h1.8M140.7 26.8v1.8M105.4 164.3h1.8M106.3 163.4v1.8M90.9 36.6h1.8M91.8 35.7v1.8M148.7 8.4h1.8M149.6 7.5v1.8M51.4 17.5h1.8M52.3 16.6v1.8M83.9 5.1h1.8M84.8 4.2v1.8M127.6 174.4h1.8M128.5 173.5v1.8M60.0 39.5h1.8M60.9 38.6v1.8M83.8 7.5h1.8M84.7 6.6v1.8M48.9 49.3h1.8M49.8 48.4v1.8M104.1 10.7h1.8M105.0 9.8v1.8M166.9 39.6h1.8M167.8 38.7v1.8M101.0 5.8h1.8M101.9 4.9v1.8M89.5 80.3h1.8M90.4 79.4v1.8M121.4 49.8h1.8M122.3 48.9v1.8M78.2 138.9h1.8M79.1 138.0v1.8M58.7 75.7h1.8M59.6 74.8v1.8M48.8 30.0h1.8M49.7 29.1v1.8M45.9 50.8h1.8M46.8 49.9v1.8M121.8 101.2h1.8M122.7 100.3v1.8M70.9 17.0h1.8M71.8 16.1v1.8M87.2 21.4h1.8M88.1 20.5v1.8M132.4 20.3h1.8M133.3 19.4v1.8M76.4 235.6h1.8M77.3 234.7v1.8M103.1 10.4h1.8M104.0 9.5v1.8M112.3 108.6h1.8M113.2 107.7v1.8M63.8 36.4h1.8M64.7 35.5v1.8M78.5 32.2h1.8M79.4 31.3v1.8M178.7 25.4h1.8M179.6 24.5v1.8M102.5 91.0h1.8M103.4 90.1v1.8M56.8 13.3h1.8M57.7 12.4v1.8M114.6 74.9h1.8M115.5 74.0v1.8M112.1 7.2h1.8M113.0 6.3v1.8M163.3 9.3h1.8M164.2 8.4v1.8M82.5 45.9h1.8M83.4 45.0v1.8M90.2 117.2h1.8M91.1 116.3v1.8M137.0 44.7h1.8M137.9 43.8v1.8M147.5 63.4h1.8M148.4 62.5v1.8M58.7 50.5h1.8M59.6 49.6v1.8M119.5 66.4h1.8M120.4 65.5v1.8M82.4 126.3h1.8M83.3 125.4v1.8M64.1 57.0h1.8M65.0 56.1v1.8M66.7 53.1h1.8M67.6 52.2v1.8M118.9 55.2h1.8M119.8 54.3v1.8M49.5 180.0h1.8M50.4 179.1v1.8M74.7 80.9h1.8M75.6 80.0v1.8M71.3 152.1h1.8M72.2 151.2v1.8M120.7 4.4h1.8M121.6 3.5v1.8M171.1 18.8h1.8M172.0 17.9v1.8M91.4 6.2h1.8M92.3 5.3v1.8M63.0 19.6h1.8M63.9 18.7v1.8M52.9 28.1h1.8M53.8 27.2v1.8M100.3 58.5h1.8M101.2 57.6v1.8M76.3 26.3h1.8M77.2 25.4v1.8M129.8 44.2h1.8M130.7 43.3v1.8M112.1 95.1h1.8M113.0 94.2v1.8M139.9 10.6h1.8M140.8 9.7v1.8M164.1 29.2h1.8M165.0 28.3v1.8M111.9 4.0h1.8M112.8 3.1v1.8M78.1 8.6h1.8M79.0 7.7v1.8M124.3 5.6h1.8M125.2 4.7v1.8M137.8 37.0h1.8M138.7 36.1v1.8M110.6 10.1h1.8M111.5 9.2v1.8M46.0 28.8h1.8M46.9 27.9v1.8M42.9 41.8h1.8M43.8 40.9v1.8M38.4 134.9h1.8M39.3 134.0v1.8M176.6 20.2h1.8M177.5 19.3v1.8M110.0 50.3h1.8M110.9 49.4v1.8M128.3 191.8h1.8M129.2 190.9v1.8M126.7 85.7h1.8M127.6 84.8v1.8M95.9 50.1h1.8M96.8 49.2v1.8M90.4 221.4h1.8M91.3 220.5v1.8M95.0 85.3h1.8M95.9 84.4v1.8M71.7 66.9h1.8M72.6 66.0v1.8M77.4 8.3h1.8M78.3 7.4v1.8M170.0 90.5h1.8M170.9 89.6v1.8M128.1 37.1h1.8M129.0 36.2v1.8M88.6 23.6h1.8M89.5 22.7v1.8M71.9 9.0h1.8M72.8 8.1v1.8M131.5 32.7h1.8M132.4 31.8v1.8M174.8 4.0h1.8M175.7 3.1v1.8M78.8 94.5h1.8M79.7 93.6v1.8M134.5 44.7h1.8M135.4 43.8v1.8M90.5 28.2h1.8M91.4 27.3v1.8M95.2 54.3h1.8M96.1 53.4v1.8M70.6 98.9h1.8M71.5 98.0v1.8M110.0 6.2h1.8M110.9 5.3v1.8M119.7 55.0h1.8M120.6 54.1v1.8M169.1 21.1h1.8M170.0 20.2v1.8M111.7 41.5h1.8M112.6 40.6v1.8M60.0 33.6h1.8M60.9 32.7v1.8M114.7 27.3h1.8M115.6 26.4v1.8M74.8 61.6h1.8M75.7 60.7v1.8M131.6 8.8h1.8M132.5 7.9v1.8M81.0 67.0h1.8M81.9 66.1v1.8M46.5 45.8h1.8M47.4 44.9v1.8M125.2 7.9h1.8M126.1 7.0v1.8M145.8 67.2h1.8M146.7 66.3v1.8M52.9 59.9h1.8M53.8 59.0v1.8M110.5 28.4h1.8M111.4 27.5v1.8M116.7 60.2h1.8M117.6 59.3v1.8M133.5 13.0h1.8M134.4 12.1v1.8M51.0 24.4h1.8M51.9 23.5v1.8M89.4 94.4h1.8M90.3 93.5v1.8M78.0 15.0h1.8M78.9 14.1v1.8M85.0 7.8h1.8M85.9 6.9v1.8M94.3 26.5h1.8M95.2 25.6v1.8M128.1 97.2h1.8M129.0 96.3v1.8M84.3 48.9h1.8M85.2 48.0v1.8M111.1 68.8h1.8M112.0 67.9v1.8M125.8 17.7h1.8M126.7 16.8v1.8M52.5 46.6h1.8M53.4 45.7v1.8M95.6 13.2h1.8M96.5 12.3v1.8M73.8 52.7h1.8M74.7 51.8v1.8M91.8 236.7h1.8M92.7 235.8v1.8M168.1 135.9h1.8M169.0 135.0v1.8M131.8 33.4h1.8M132.7 32.5v1.8M54.5 176.1h1.8M55.4 175.2v1.8M97.6 42.3h1.8M98.5 41.4v1.8M189.3 23.1h1.8M190.2 22.2v1.8M76.2 249.4h1.8M77.1 248.5v1.8M97.3 8.8h1.8M98.2 7.9v1.8M185.3 29.6h1.8M186.2 28.7v1.8M109.2 19.2h1.8M110.1 18.3v1.8M124.7 63.7h1.8M125.6 62.8v1.8M140.2 147.7h1.8M141.1 146.8v1.8M64.6 229.7h1.8M65.5 228.8v1.8M65.5 78.1h1.8M66.4 77.2v1.8M170.6 38.9h1.8M171.5 38.0v1.8M123.2 21.7h1.8M124.1 20.8v1.8M91.0 5.6h1.8M91.9 4.7v1.8M57.2 114.1h1.8M58.1 113.2v1.8M64.8 32.5h1.8M65.7 31.6v1.8M114.6 28.9h1.8M115.5 28.0v1.8M115.7 31.1h1.8M116.6 30.2v1.8M132.9 56.8h1.8M133.8 55.9v1.8M71.4 25.5h1.8M72.3 24.6v1.8M59.2 58.3h1.8M60.1 57.4v1.8M180.5 41.0h1.8M181.4 40.1v1.8M77.0 8.0h1.8M77.9 7.1v1.8M61.0 18.0h1.8M61.9 17.1v1.8M109.8 21.1h1.8M110.7 20.2v1.8M101.8 16.5h1.8M102.7 15.6v1.8M43.0 17.0h1.8M43.9 16.1v1.8M53.6 172.3h1.8M54.5 171.4v1.8M136.0 44.2h1.8M136.9 43.3v1.8M71.4 15.6h1.8M72.3 14.7v1.8M59.1 12.2h1.8M60.0 11.3v1.8M66.5 40.5h1.8M67.4 39.6v1.8M41.5 186.4h1.8M42.4 185.5v1.8M51.2 18.4h1.8M52.1 17.5v1.8M127.4 67.7h1.8M128.3 66.8v1.8M86.1 23.8h1.8M87.0 22.9v1.8M147.6 42.0h1.8M148.5 41.1v1.8M112.8 28.3h1.8M113.7 27.4v1.8M122.3 9.3h1.8M123.2 8.4v1.8M113.6 225.8h1.8M114.5 224.9v1.8M56.4 204.2h1.8M57.3 203.3v1.8M127.7 64.3h1.8M128.6 63.4v1.8M76.5 108.5h1.8M77.4 107.6v1.8M137.0 44.8h1.8M137.9 43.9v1.8M137.5 59.4h1.8M138.4 58.5v1.8M39.1 102.1h1.8M40.0 101.2v1.8M38.3 11.5h1.8M39.2 10.6v1.8M121.1 13.7h1.8M122.0 12.8v1.8M110.3 4.0h1.8M111.2 3.1v1.8M68.1 10.6h1.8M69.0 9.7v1.8M99.7 84.2h1.8M100.6 83.3v1.8"/>
<path stroke="#cf4a64" stroke-width="0.6" opacity="0.65" d="M71.1 5.2h1.8M72.0 4.3v1.8M238.2 128.3h1.8M239.1 127.4v1.8M89.5 65.5h1.8M90.4 64.6v1.8M72.2 58.8h1.8M73.1 57.9v1.8M39.0 74.2h1.8M39.9 73.3v1.8M59.8 11.3h1.8M60.7 10.4v1.8M140.8 18.3h1.8M141.7 17.4v1.8M82.7 11.3h1.8M83.6 10.4v1.8M107.4 122.5h1.8M108.3 121.6v1.8M95.8 18.6h1.8M96.7 17.7v1.8M169.0 23.1h1.8M169.9 22.2v1.8M97.9 18.8h1.8M98.8 17.9v1.8M62.1 251.6h1.8M63.0 250.7v1.8M57.2 22.2h1.8M58.1 21.3v1.8M62.1 5.2h1.8M63.0 4.3v1.8M91.1 17.7h1.8M92.0 16.8v1.8M124.7 63.0h1.8M125.6 62.1v1.8M85.7 40.3h1.8M86.6 39.4v1.8M49.7 32.0h1.8M50.6 31.1v1.8M69.6 11.6h1.8M70.5 10.7v1.8M116.5 39.6h1.8M117.4 38.7v1.8M49.3 50.8h1.8M50.2 49.9v1.8M115.5 24.3h1.8M116.4 23.4v1.8M86.0 73.2h1.8M86.9 72.3v1.8M90.9 10.1h1.8M91.8 9.2v1.8M101.2 7.4h1.8M102.1 6.5v1.8M69.6 15.1h1.8M70.5 14.2v1.8M135.6 153.9h1.8M136.5 153.0v1.8M74.9 26.6h1.8M75.8 25.7v1.8M118.4 72.9h1.8M119.3 72.0v1.8M105.2 5.5h1.8M106.1 4.6v1.8M64.0 19.6h1.8M64.9 18.7v1.8M133.3 56.2h1.8M134.2 55.3v1.8M80.0 37.1h1.8M80.9 36.2v1.8M108.2 58.9h1.8M109.1 58.0v1.8M73.7 170.8h1.8M74.6 169.9v1.8M95.2 44.0h1.8M96.1 43.1v1.8M146.8 17.9h1.8M147.7 17.0v1.8M81.8 33.5h1.8M82.7 32.6v1.8M50.9 9.3h1.8M51.8 8.4v1.8M143.1 149.8h1.8M144.0 148.9v1.8M61.5 115.4h1.8M62.4 114.5v1.8M68.5 67.2h1.8M69.4 66.3v1.8M91.5 63.1h1.8M92.4 62.2v1.8M131.0 21.8h1.8M131.9 20.9v1.8M48.0 129.0h1.8M48.9 128.1v1.8M82.6 13.4h1.8M83.5 12.5v1.8M67.6 23.3h1.8M68.5 22.4v1.8M109.3 191.3h1.8M110.2 190.4v1.8M94.3 43.5h1.8M95.2 42.6v1.8M90.3 105.2h1.8M91.2 104.3v1.8M83.0 50.5h1.8M83.9 49.6v1.8M64.5 42.1h1.8M65.4 41.2v1.8M42.9 181.9h1.8M43.8 181.0v1.8M132.5 36.2h1.8M133.4 35.3v1.8M76.1 38.5h1.8M77.0 37.6v1.8M87.7 8.8h1.8M88.6 7.9v1.8M63.0 86.7h1.8M63.9 85.8v1.8M56.7 73.6h1.8M57.6 72.7v1.8M135.8 75.2h1.8M136.7 74.3v1.8M99.6 31.3h1.8M100.5 30.4v1.8M65.1 8.0h1.8M66.0 7.1v1.8M81.5 10.6h1.8M82.4 9.7v1.8M118.5 7.4h1.8M119.4 6.5v1.8M117.1 19.3h1.8M118.0 18.4v1.8M122.6 4.9h1.8M123.5 4.0v1.8M55.9 164.5h1.8M56.8 163.6v1.8M95.4 86.8h1.8M96.3 85.9v1.8M45.1 62.9h1.8M46.0 62.0v1.8M80.7 28.8h1.8M81.6 27.9v1.8M91.8 17.9h1.8M92.7 17.0v1.8M134.3 82.5h1.8M135.2 81.6v1.8M140.9 79.8h1.8M141.8 78.9v1.8M148.4 32.1h1.8M149.3 31.2v1.8M99.9 21.4h1.8M100.8 20.5v1.8M111.8 17.7h1.8M112.7 16.8v1.8M115.6 54.7h1.8M116.5 53.8v1.8M117.6 22.5h1.8M118.5 21.6v1.8M44.9 238.2h1.8M45.8 237.3v1.8M117.4 35.3h1.8M118.3 34.4v1.8M106.0 243.8h1.8M106.9 242.9v1.8M95.9 13.4h1.8M96.8 12.5v1.8M113.5 54.2h1.8M114.4 53.3v1.8M117.5 13.6h1.8M118.4 12.7v1.8M122.2 18.4h1.8M123.1 17.5v1.8M106.0 26.9h1.8M106.9 26.0v1.8M75.6 16.5h1.8M76.5 15.6v1.8M91.7 10.2h1.8M92.6 9.3v1.8M86.6 21.2h1.8M87.5 20.3v1.8M149.7 167.7h1.8M150.6 166.8v1.8M95.7 10.2h1.8M96.6 9.3v1.8M81.2 47.8h1.8M82.1 46.9v1.8M38.2 11.6h1.8M39.1 10.7v1.8M76.3 177.4h1.8M77.2 176.5v1.8M45.1 100.5h1.8M46.0 99.6v1.8M164.7 44.3h1.8M165.6 43.4v1.8M43.1 255.0h1.8M44.0 254.1v1.8M115.2 23.2h1.8M116.1 22.3v1.8M189.6 4.0h1.8M190.5 3.1v1.8M119.7 21.0h1.8M120.6 20.1v1.8M40.2 72.3h1.8M41.1 71.4v1.8M141.6 61.4h1.8M142.5 60.5v1.8M86.6 8.2h1.8M87.5 7.3v1.8M46.9 12.3h1.8M47.8 11.4v1.8M69.7 7.4h1.8M70.6 6.5v1.8M72.0 254.4h1.8M72.9 253.5v1.8M98.2 33.6h1.8M99.1 32.7v1.8M59.6 50.9h1.8M60.5 50.0v1.8M111.5 156.7h1.8M112.4 155.8v1.8M66.0 36.2h1.8M66.9 35.3v1.8M72.4 6.8h1.8M73.3 5.9v1.8M59.7 89.6h1.8M60.6 88.7v1.8M144.1 83.1h1.8M145.0 82.2v1.8M102.1 43.1h1.8M103.0 42.2v1.8M87.2 4.4h1.8M88.1 3.5v1.8M53.7 52.0h1.8M54.6 51.1v1.8M129.9 7.8h1.8M130.8 6.9v1.8M130.6 18.7h1.8M131.5 17.8v1.8M57.9 24.5h1.8M58.8 23.6v1.8M120.4 21.0h1.8M121.3 20.1v1.8M61.5 117.1h1.8M62.4 116.2v1.8M174.4 8.3h1.8M175.3 7.4v1.8M136.0 36.8h1.8M136.9 35.9v1.8M104.5 30.6h1.8M105.4 29.7v1.8M168.3 33.4h1.8M169.2 32.5v1.8M100.8 41.5h1.8M101.7 40.6v1.8M50.2 56.9h1.8M51.1 56.0v1.8M125.0 6.3h1.8M125.9 5.4v1.8M107.9 24.4h1.8M108.8 23.5v1.8M102.9 85.9h1.8M103.8 85.0v1.8M102.3 10.5h1.8M103.2 9.6v1.8M76.5 212.8h1.8M77.4 211.9v1.8M66.1 21.3h1.8M67.0 20.4v1.8M85.7 22.3h1.8M86.6 21.4v1.8M98.2 29.6h1.8M99.1 28.7v1.8M70.0 133.5h1.8M70.9 132.6v1.8M111.1 62.0h1.8M112.0 61.1v1.8M145.5 121.8h1.8M146.4 120.9v1.8M85.3 9.7h1.8M86.2 8.8v1.8M99.0 58.3h1.8M99.9 57.4v1.8M131.8 38.5h1.8M132.7 37.6v1.8M74.2 75.6h1.8M75.1 74.7v1.8M111.9 16.5h1.8M112.8 15.6v1.8M41.9 189.3h1.8M42.8 188.4v1.8M103.1 4.2h1.8M104.0 3.3v1.8M75.8 32.3h1.8M76.7 31.4v1.8M109.1 26.0h1.8M110.0 25.1v1.8M145.4 42.5h1.8M146.3 41.6v1.8M60.7 31.8h1.8M61.6 30.9v1.8M51.2 116.0h1.8M52.1 115.1v1.8M104.8 216.7h1.8M105.7 215.8v1.8M64.7 24.0h1.8M65.6 23.1v1.8M87.2 10.3h1.8M88.1 9.4v1.8M84.4 40.1h1.8M85.3 39.2v1.8M105.4 26.5h1.8M106.3 25.6v1.8M79.4 17.4h1.8M80.3 16.5v1.8M71.5 95.4h1.8M72.4 94.5v1.8M108.1 60.5h1.8M109.0 59.6v1.8M96.8 8.9h1.8M97.7 8.0v1.8M79.6 10.6h1.8M80.5 9.7v1.8M44.0 249.6h1.8M44.9 248.7v1.8M68.4 7.2h1.8M69.3 6.3v1.8M99.9 40.1h1.8M100.8 39.2v1.8M140.5 83.2h1.8M141.4 82.3v1.8M147.6 36.7h1.8M148.5 35.8v1.8M46.1 180.8h1.8M47.0 179.9v1.8M78.7 5.2h1.8M79.6 4.3v1.8M76.6 143.0h1.8M77.5 142.1v1.8M111.7 11.3h1.8M112.6 10.4v1.8M185.8 11.6h1.8M186.7 10.7v1.8M107.4 110.2h1.8M108.3 109.3v1.8M71.3 7.5h1.8M72.2 6.6v1.8M57.0 34.6h1.8M57.9 33.7v1.8M98.9 71.0h1.8M99.8 70.1v1.8M103.5 62.0h1.8M104.4 61.1v1.8M105.2 52.6h1.8M106.1 51.7v1.8M189.8 10.4h1.8M190.7 9.5v1.8M155.3 27.1h1.8M156.2 26.2v1.8M98.8 219.2h1.8M99.7 218.3v1.8M58.4 28.9h1.8M59.3 28.0v1.8M84.3 51.7h1.8M85.2 50.8v1.8M102.6 101.6h1.8M103.5 100.7v1.8M88.6 12.0h1.8M89.5 11.1v1.8M86.3 89.0h1.8M87.2 88.1v1.8M74.1 4.3h1.8M75.0 3.4v1.8M120.6 14.7h1.8M121.5 13.8v1.8M50.9 14.1h1.8M51.8 13.2v1.8M73.4 4.0h1.8M74.3 3.1v1.8M56.3 57.9h1.8M57.2 57.0v1.8M70.8 48.3h1.8M71.7 47.4v1.8M132.9 73.8h1.8M133.8 72.9v1.8M93.5 29.4h1.8M94.4 28.5v1.8M233.0 21.7h1.8M233.9 20.8v1.8M131.9 33.1h1.8M132.8 32.2v1.8M74.3 20.2h1.8M75.2 19.3v1.8M101.9 76.9h1.8M102.8 76.0v1.8M51.8 6.0h1.8M52.7 5.1v1.8M150.3 39.7h1.8M151.2 38.8v1.8M56.7 106.0h1.8M57.6 105.1v1.8M51.2 179.9h1.8M52.1 179.0v1.8M81.5 156.2h1.8M82.4 155.3v1.8M74.2 117.3h1.8M75.1 116.4v1.8M39.1 91.7h1.8M40.0 90.8v1.8M107.3 7.2h1.8M108.2 6.3v1.8M92.5 11.6h1.8M93.4 10.7v1.8M99.4 11.4h1.8M100.3 10.5v1.8M86.3 18.0h1.8M87.2 17.1v1.8M94.1 19.5h1.8M95.0 18.6v1.8M77.8 10.5h1.8M78.7 9.6v1.8M50.0 73.5h1.8M50.9 72.6v1.8M127.1 25.7h1.8M128.0 24.8v1.8M87.1 32.8h1.8M88.0 31.9v1.8M110.4 27.5h1.8M111.3 26.6v1.8M126.8 81.9h1.8M127.7 81.0v1.8M82.0 21.0h1.8M82.9 20.1v1.8M137.6 39.3h1.8M138.5 38.4v1.8M127.1 4.1h1.8M128.0 3.2v1.8M101.7 10.7h1.8M102.6 9.8v1.8M149.4 71.2h1.8M150.3 70.3v1.8M84.4 147.1h1.8M85.3 146.2v1.8M37.8 27.9h1.8M38.7 27.0v1.8M167.1 16.4h1.8M168.0 15.5v1.8M83.0 61.1h1.8M83.9 60.2v1.8M60.9 43.6h1.8M61.8 42.7v1.8M88.7 26.2h1.8M89.6 25.3v1.8M39.5 34.8h1.8M40.4 33.9v1.8M111.5 60.6h1.8M112.4 59.7v1.8M119.5 158.0h1.8M120.4 157.1v1.8M125.4 73.8h1.8M126.3 72.9v1.8M179.5 44.2h1.8M180.4 43.3v1.8M44.4 50.2h1.8M45.3 49.3v1.8M61.1 43.9h1.8M62.0 43.0v1.8M108.8 37.2h1.8M109.7 36.3v1.8M115.3 30.6h1.8M116.2 29.7v1.8M126.4 6.2h1.8M127.3 5.3v1.8M72.9 165.9h1.8M73.8 165.0v1.8M150.0 42.9h1.8M150.9 42.0v1.8M45.7 7.6h1.8M46.6 6.7v1.8M102.1 19.7h1.8M103.0 18.8v1.8M55.4 158.5h1.8M56.3 157.6v1.8M88.6 18.7h1.8M89.5 17.8v1.8M155.4 59.8h1.8M156.3 58.9v1.8M76.4 33.4h1.8M77.3 32.5v1.8M117.8 27.2h1.8M118.7 26.3v1.8M66.8 21.5h1.8M67.7 20.6v1.8M52.7 25.9h1.8M53.6 25.0v1.8M37.7 43.8h1.8M38.6 42.9v1.8M69.0 16.8h1.8M69.9 15.9v1.8M105.8 23.9h1.8M106.7 23.0v1.8M80.9 23.3h1.8M81.8 22.4v1.8M91.9 49.5h1.8M92.8 48.6v1.8M212.0 29.6h1.8M212.9 28.7v1.8M82.5 7.4h1.8M83.4 6.5v1.8M69.2 253.4h1.8M70.1 252.5v1.8M157.3 47.6h1.8M158.2 46.7v1.8M143.7 4.6h1.8M144.6 3.7v1.8M134.1 173.9h1.8M135.0 173.0v1.8M69.2 139.3h1.8M70.1 138.4v1.8M141.9 25.3h1.8M142.8 24.4v1.8M116.7 22.7h1.8M117.6 21.8v1.8M82.2 13.8h1.8M83.1 12.9v1.8M55.8 16.3h1.8M56.7 15.4v1.8M128.1 7.6h1.8M129.0 6.7v1.8M112.0 9.5h1.8M112.9 8.6v1.8M127.2 138.8h1.8M128.1 137.9v1.8M78.6 42.9h1.8M79.5 42.0v1.8M65.8 44.2h1.8M66.7 43.3v1.8M112.5 42.7h1.8M113.4 41.8v1.8M50.5 99.0h1.8M51.4 98.1v1.8M148.9 21.3h1.8M149.8 20.4v1.8M49.6 25.2h1.8M50.5 24.3v1.8M88.3 45.2h1.8M89.2 44.3v1.8M104.2 19.2h1.8M105.1 18.3v1.8M55.3 94.3h1.8M56.2 93.4v1.8M181.7 6.1h1.8M182.6 5.2v1.8M81.0 26.8h1.8M81.9 25.9v1.8M63.3 37.1h1.8M64.2 36.2v1.8M73.6 214.8h1.8M74.5 213.9v1.8M116.8 13.7h1.8M117.7 12.8v1.8M44.2 8.9h1.8M45.1 8.0v1.8M119.2 17.5h1.8M120.1 16.6v1.8M129.5 21.9h1.8M130.4 21.0v1.8M109.9 13.3h1.8M110.8 12.4v1.8M65.0 66.0h1.8M65.9 65.1v1.8M130.2 167.7h1.8M131.1 166.8v1.8M140.1 18.6h1.8M141.0 17.7v1.8M117.5 40.5h1.8M118.4 39.6v1.8M88.8 150.2h1.8M89.7 149.3v1.8M88.3 23.3h1.8M89.2 22.4v1.8M109.3 61.9h1.8M110.2 61.0v1.8M69.5 24.0h1.8M70.4 23.1v1.8M142.2 33.3h1.8M143.1 32.4v1.8M122.3 31.9h1.8M123.2 31.0v1.8M104.5 34.3h1.8M105.4 33.4v1.8M90.7 11.4h1.8M91.6 10.5v1.8M263.9 37.6h1.8M264.8 36.7v1.8M158.7 7.9h1.8M159.6 7.0v1.8M153.5 73.7h1.8M154.4 72.8v1.8M67.1 54.9h1.8M68.0 54.0v1.8M81.7 5.9h1.8M82.6 5.0v1.8M120.5 41.7h1.8M121.4 40.8v1.8M73.0 72.0h1.8M73.9 71.1v1.8M86.1 25.1h1.8M87.0 24.2v1.8M144.6 140.1h1.8M145.5 139.2v1.8M117.4 4.0h1.8M118.3 3.1v1.8M75.0 57.1h1.8M75.9 56.2v1.8M53.7 15.5h1.8M54.6 14.6v1.8M54.1 41.3h1.8M55.0 40.4v1.8M55.1 9.5h1.8M56.0 8.6v1.8M154.0 93.8h1.8M154.9 92.9v1.8M87.4 4.5h1.8M88.3 3.6v1.8M108.2 25.5h1.8M109.1 24.6v1.8M38.6 31.8h1.8M39.5 30.9v1.8M118.5 4.0h1.8M119.4 3.1v1.8M76.8 9.3h1.8M77.7 8.4v1.8M97.6 102.7h1.8M98.5 101.8v1.8M97.2 4.0h1.8M98.1 3.1v1.8M152.6 67.8h1.8M153.5 66.9v1.8M61.1 32.4h1.8M62.0 31.5v1.8M92.4 34.2h1.8M93.3 33.3v1.8M121.5 30.6h1.8M122.4 29.7v1.8M47.2 12.6h1.8M48.1 11.7v1.8M70.2 60.9h1.8M71.1 60.0v1.8M134.7 78.7h1.8M135.6 77.8v1.8M95.3 16.2h1.8M96.2 15.3v1.8M171.8 13.6h1.8M172.7 12.7v1.8M144.2 34.9h1.8M145.1 34.0v1.8M109.8 204.2h1.8M110.7 203.3v1.8M118.8 63.3h1.8M119.7 62.4v1.8M71.6 43.7h1.8M72.5 42.8v1.8M137.1 49.2h1.8M138.0 48.3v1.8M138.8 15.0h1.8M139.7 14.1v1.8M138.3 68.4h1.8M139.2 67.5v1.8M55.0 176.1h1.8M55.9 175.2v1.8M66.9 21.0h1.8M67.8 20.1v1.8M103.4 10.6h1.8M104.3 9.7v1.8M78.7 66.7h1.8M79.6 65.8v1.8M110.7 20.0h1.8M111.6 19.1v1.8M40.3 250.9h1.8M41.2 250.0v1.8M115.4 33.7h1.8M116.3 32.8v1.8M116.6 64.5h1.8M117.5 63.6v1.8M148.3 47.5h1.8M149.2 46.6v1.8M67.5 204.3h1.8M68.4 203.4v1.8M117.1 39.9h1.8M118.0 39.0v1.8M51.4 16.8h1.8M52.3 15.9v1.8M46.3 28.8h1.8M47.2 27.9v1.8M146.0 39.7h1.8M146.9 38.8v1.8M72.3 16.3h1.8M73.2 15.4v1.8M92.7 34.9h1.8M93.6 34.0v1.8M97.6 4.0h1.8M98.5 3.1v1.8M161.6 7.8h1.8M162.5 6.9v1.8M152.6 6.2h1.8M153.5 5.3v1.8M124.5 124.2h1.8M125.4 123.3v1.8M104.5 19.1h1.8M105.4 18.2v1.8M54.3 46.7h1.8M55.2 45.8v1.8M81.7 228.8h1.8M82.6 227.9v1.8M106.2 36.0h1.8M107.1 35.1v1.8M109.8 208.4h1.8M110.7 207.5v1.8M169.0 9.3h1.8M169.9 8.4v1.8M41.8 47.9h1.8M42.7 47.0v1.8M115.1 24.3h1.8M116.0 23.4v1.8M54.2 98.5h1.8M55.1 97.6v1.8M142.2 51.6h1.8M143.1 50.7v1.8M136.9 54.1h1.8M137.8 53.2v1.8M105.8 14.4h1.8M106.7 13.5v1.8M42.1 4.0h1.8M43.0 3.1v1.8M52.9 144.4h1.8M53.8 143.5v1.8M99.7 13.0h1.8M100.6 12.1v1.8M141.3 48.3h1.8M142.2 47.4v1.8M129.2 121.4h1.8M130.1 120.5v1.8M111.0 25.4h1.8M111.9 24.5v1.8M85.0 50.1h1.8M85.9 49.2v1.8M125.7 9.2h1.8M126.6 8.3v1.8M109.8 22.8h1.8M110.7 21.9v1.8M91.7 40.6h1.8M92.6 39.7v1.8M110.2 14.1h1.8M111.1 13.2v1.8M87.3 40.8h1.8M88.2 39.9v1.8M94.1 14.9h1.8M95.0 14.0v1.8M152.2 9.1h1.8M153.1 8.2v1.8M129.2 29.1h1.8M130.1 28.2v1.8M90.4 26.8h1.8M91.3 25.9v1.8M133.1 116.0h1.8M134.0 115.1v1.8M66.7 10.3h1.8M67.6 9.4v1.8M148.7 31.2h1.8M149.6 30.3v1.8M99.3 73.5h1.8M100.2 72.6v1.8M143.5 137.1h1.8M144.4 136.2v1.8M77.9 7.0h1.8M78.8 6.1v1.8M74.2 67.1h1.8M75.1 66.2v1.8M110.9 19.7h1.8M111.8 18.8v1.8M170.8 31.8h1.8M171.7 30.9v1.8M102.0 22.6h1.8M102.9 21.7v1.8M114.3 218.1h1.8M115.2 217.2v1.8M50.4 35.1h1.8M51.3 34.2v1.8M125.4 11.1h1.8M126.3 10.2v1.8M137.0 26.5h1.8M137.9 25.6v1.8M41.2 5.0h1.8M42.1 4.1v1.8M48.6 16.0h1.8M49.5 15.1v1.8M74.7 10.7h1.8M75.6 9.8v1.8M120.1 7.8h1.8M121.0 6.9v1.8M154.2 33.8h1.8M155.1 32.9v1.8M110.3 29.4h1.8M111.2 28.5v1.8M105.8 46.9h1.8M106.7 46.0v1.8M50.3 43.8h1.8M51.2 42.9v1.8M156.5 22.3h1.8M157.4 21.4v1.8M100.8 23.9h1.8M101.7 23.0v1.8M80.8 173.0h1.8M81.7 172.1v1.8M115.5 28.5h1.8M116.4 27.6v1.8M68.3 7.3h1.8M69.2 6.4v1.8M45.6 36.1h1.8M46.5 35.2v1.8M111.6 12.1h1.8M112.5 11.2v1.8M52.7 4.9h1.8M53.6 4.0v1.8M53.8 114.1h1.8M54.7 113.2v1.8M68.8 16.2h1.8M69.7 15.3v1.8M107.2 56.9h1.8M108.1 56.0v1.8M104.3 150.3h1.8M105.2 149.4v1.8M93.7 33.2h1.8M94.6 32.3v1.8M59.0 10.4h1.8M59.9 9.5v1.8M118.9 17.2h1.8M119.8 16.3v1.8M167.3 56.3h1.8M168.2 55.4v1.8M95.1 99.7h1.8M96.0 98.8v1.8M131.4 14.9h1.8M132.3 14.0v1.8M44.4 58.7h1.8M45.3 57.8v1.8M63.6 92.9h1.8M64.5 92.0v1.8M116.6 26.1h1.8M117.5 25.2v1.8M118.4 65.6h1.8M119.3 64.7v1.8M102.7 58.5h1.8M103.6 57.6v1.8M89.2 9.9h1.8M90.1 9.0v1.8M62.2 10.8h1.8M63.1 9.9v1.8M51.6 17.7h1.8M52.5 16.8v1.8M197.7 24.7h1.8M198.6 23.8v1.8M47.0 230.4h1.8M47.9 229.5v1.8M80.5 6.2h1.8M81.4 5.3v1.8M111.8 56.4h1.8M112.7 55.5v1.8M132.5 42.3h1.8M133.4 41.4v1.8M110.0 4.9h1.8M110.9 4.0v1.8M71.3 98.2h1.8M72.2 97.3v1.8M115.4 74.8h1.8M116.3 73.9v1.8M196.0 38.5h1.8M196.9 37.6v1.8M96.1 6.0h1.8M97.0 5.1v1.8M56.0 31.7h1.8M56.9 30.8v1.8M61.8 208.2h1.8M62.7 207.3v1.8M125.3 12.5h1.8M126.2 11.6v1.8M46.9 23.7h1.8M47.8 22.8v1.8M59.8 89.2h1.8M60.7 88.3v1.8M126.6 52.4h1.8M127.5 51.5v1.8M59.8 130.3h1.8M60.7 129.4v1.8M112.4 23.8h1.8M113.3 22.9v1.8M61.7 54.3h1.8M62.6 53.4v1.8M111.3 105.0h1.8M112.2 104.1v1.8M49.0 84.0h1.8M49.9 83.1v1.8M107.4 31.0h1.8M108.3 30.1v1.8M123.4 43.5h1.8M124.3 42.6v1.8M57.6 36.9h1.8M58.5 36.0v1.8M118.2 32.6h1.8M119.1 31.7v1.8M61.2 10.1h1.8M62.1 9.2v1.8M135.5 13.9h1.8M136.4 13.0v1.8M70.6 183.1h1.8M71.5 182.2v1.8M140.0 43.0h1.8M140.9 42.1v1.8M104.0 23.3h1.8M104.9 22.4v1.8M63.4 11.8h1.8M64.3 10.9v1.8M77.9 95.4h1.8M78.8 94.5v1.8M74.6 227.2h1.8M75.5 226.3v1.8M107.8 7.5h1.8M108.7 6.6v1.8M89.8 39.1h1.8M90.7 38.2v1.8M81.7 84.5h1.8M82.6 83.6v1.8M150.2 80.1h1.8M151.1 79.2v1.8M49.9 35.5h1.8M50.8 34.6v1.8M85.8 63.4h1.8M86.7 62.5v1.8M50.6 125.7h1.8M51.5 124.8v1.8M43.8 130.8h1.8M44.7 129.9v1.8M85.4 239.2h1.8M86.3 238.3v1.8M65.7 27.6h1.8M66.6 26.7v1.8M68.2 33.5h1.8M69.1 32.6v1.8M128.9 29.3h1.8M129.8 28.4v1.8M108.7 16.9h1.8M109.6 16.0v1.8M175.6 68.9h1.8M176.5 68.0v1.8M112.9 24.3h1.8M113.8 23.4v1.8M84.5 26.1h1.8M85.4 25.2v1.8M85.4 11.4h1.8M86.3 10.5v1.8M103.3 4.8h1.8M104.2 3.9v1.8M91.2 67.4h1.8M92.1 66.5v1.8M214.5 100.2h1.8M215.4 99.3v1.8M119.7 9.3h1.8M120.6 8.4v1.8M49.0 34.6h1.8M49.9 33.7v1.8M118.6 33.6h1.8M119.5 32.7v1.8M89.0 110.8h1.8M89.9 109.9v1.8M161.1 64.2h1.8M162.0 63.3v1.8M71.4 20.2h1.8M72.3 19.3v1.8M85.4 11.2h1.8M86.3 10.3v1.8M83.9 78.2h1.8M84.8 77.3v1.8M140.2 20.2h1.8M141.1 19.3v1.8M72.3 54.1h1.8M73.2 53.2v1.8M54.2 19.5h1.8M55.1 18.6v1.8M127.8 25.5h1.8M128.7 24.6v1.8M98.8 177.1h1.8M99.7 176.2v1.8M144.9 90.0h1.8M145.8 89.1v1.8M109.5 48.6h1.8M110.4 47.7v1.8M103.8 46.5h1.8M104.7 45.6v1.8M119.8 38.1h1.8M120.7 37.2v1.8M94.7 22.5h1.8M95.6 21.6v1.8M73.6 79.2h1.8M74.5 78.3v1.8M69.6 55.6h1.8M70.5 54.7v1.8M58.0 78.7h1.8M58.9 77.8v1.8M131.0 9.1h1.8M131.9 8.2v1.8M105.4 47.3h1.8M106.3 46.4v1.8M65.8 50.9h1.8M66.7 50.0v1.8M102.6 8.5h1.8M103.5 7.6v1.8M86.5 64.9h1.8M87.4 64.0v1.8M57.9 69.4h1.8M58.8 68.5v1.8M65.2 81.0h1.8M66.1 80.1v1.8M177.9 8.0h1.8M178.8 7.1v1.8M46.1 9.5h1.8M47.0 8.6v1.8M124.3 4.0h1.8M125.2 3.1v1.8M93.8 12.5h1.8M94.7 11.6v1.8M47.3 46.0h1.8M48.2 45.1v1.8M70.1 7.2h1.8M71.0 6.3v1.8M114.0 22.1h1.8M114.9 21.2v1.8M57.0 13.5h1.8M57.9 12.6v1.8M94.7 28.6h1.8M95.6 27.7v1.8M63.0 12.0h1.8M63.9 11.1v1.8M142.8 256.2h1.8M143.7 255.3v1.8M81.2 139.2h1.8M82.1 138.3v1.8M119.2 26.7h1.8M120.1 25.8v1.8M112.6 38.5h1.8M113.5 37.6v1.8M69.8 169.0h1.8M70.7 168.1v1.8M153.7 69.5h1.8M154.6 68.6v1.8M88.3 18.1h1.8M89.2 17.2v1.8M69.6 118.2h1.8M70.5 117.3v1.8M121.5 27.8h1.8M122.4 26.9v1.8M92.2 35.4h1.8M93.1 34.5v1.8M171.3 10.0h1.8M172.2 9.1v1.8M47.1 49.6h1.8M48.0 48.7v1.8M99.6 16.7h1.8M100.5 15.8v1.8M157.5 4.5h1.8M158.4 3.6v1.8M42.9 64.6h1.8M43.8 63.7v1.8M40.2 20.4h1.8M41.1 19.5v1.8M109.5 12.9h1.8M110.4 12.0v1.8M94.0 57.8h1.8M94.9 56.9v1.8M81.5 52.0h1.8M82.4 51.1v1.8M86.8 17.7h1.8M87.7 16.8v1.8M111.9 112.0h1.8M112.8 111.1v1.8M136.2 47.5h1.8M137.1 46.6v1.8M76.4 16.6h1.8M77.3 15.7v1.8M88.4 81.7h1.8M89.3 80.8v1.8M128.3 16.4h1.8M129.2 15.5v1.8M173.8 17.6h1.8M174.7 16.7v1.8M90.4 55.2h1.8M91.3 54.3v1.8M63.2 93.1h1.8M64.1 92.2v1.8M98.9 20.4h1.8M99.8 19.5v1.8M73.8 24.5h1.8M74.7 23.6v1.8M109.6 28.6h1.8M110.5 27.7v1.8M140.4 34.5h1.8M141.3 33.6v1.8M124.2 102.0h1.8M125.1 101.1v1.8M128.2 99.5h1.8M129.1 98.6v1.8M96.0 9.6h1.8M96.9 8.7v1.8M67.4 116.0h1.8M68.3 115.1v1.8M119.9 89.2h1.8M120.8 88.3v1.8M40.4 66.7h1.8M41.3 65.8v1.8M87.0 6.3h1.8M87.9 5.4v1.8M81.0 22.0h1.8M81.9 21.1v1.8M55.7 43.5h1.8M56.6 42.6v1.8M79.5 78.9h1.8M80.4 78.0v1.8M47.1 24.7h1.8M48.0 23.8v1.8M177.5 24.3h1.8M178.4 23.4v1.8M170.9 74.5h1.8M171.8 73.6v1.8M48.3 15.1h1.8M49.2 14.2v1.8M143.4 36.1h1.8M144.3 35.2v1.8M93.7 64.8h1.8M94.6 63.9v1.8M274.6 5.1h1.8M275.5 4.2v1.8M72.1 24.6h1.8M73.0 23.7v1.8M156.2 62.3h1.8M157.1 61.4v1.8M101.4 6.4h1.8M102.3 5.5v1.8M55.5 143.9h1.8M56.4 143.0v1.8M92.5 48.6h1.8M93.4 47.7v1.8M86.1 71.0h1.8M87.0 70.1v1.8M88.6 31.0h1.8M89.5 30.1v1.8M65.7 15.1h1.8M66.6 14.2v1.8M67.7 22.9h1.8M68.6 22.0v1.8M128.6 11.9h1.8M129.5 11.0v1.8M77.0 33.1h1.8M77.9 32.2v1.8M92.7 9.5h1.8M93.6 8.6v1.8"/>
<path stroke="#e0962e" stroke-width="0.6" opacity="0.62" d="M56.9 70.7l1.5 2.5h-3.0zM76.2 232.7l1.5 2.5h-3.0zM110.3 31.3l1.5 2.5h-3.0zM161.9 53.4l1.5 2.5h-3.0zM46.5 27.8l1.5 2.5h-3.0zM83.8 15.3l1.5 2.5h-3.0zM82.1 25.6l1.5 2.5h-3.0zM45.0 5.2l1.5 2.5h-3.0zM98.9 13.4l1.5 2.5h-3.0zM101.4 36.6l1.5 2.5h-3.0zM107.1 59.7l1.5 2.5h-3.0zM69.9 20.7l1.5 2.5h-3.0zM43.4 23.8l1.5 2.5h-3.0zM65.6 116.9l1.5 2.5h-3.0zM89.2 75.2l1.5 2.5h-3.0zM74.6 19.8l1.5 2.5h-3.0zM60.9 32.5l1.5 2.5h-3.0zM86.7 127.7l1.5 2.5h-3.0zM97.4 29.2l1.5 2.5h-3.0zM59.8 71.6l1.5 2.5h-3.0zM67.9 99.8l1.5 2.5h-3.0zM97.2 68.6l1.5 2.5h-3.0zM117.5 26.4l1.5 2.5h-3.0zM51.1 5.9l1.5 2.5h-3.0zM63.8 122.4l1.5 2.5h-3.0zM121.2 231.8l1.5 2.5h-3.0zM104.3 70.0l1.5 2.5h-3.0zM118.9 52.7l1.5 2.5h-3.0zM46.5 16.8l1.5 2.5h-3.0zM54.8 100.4l1.5 2.5h-3.0zM89.5 117.0l1.5 2.5h-3.0zM132.2 63.9l1.5 2.5h-3.0zM62.9 122.6l1.5 2.5h-3.0zM180.7 39.3l1.5 2.5h-3.0zM56.8 42.6l1.5 2.5h-3.0zM75.2 70.4l1.5 2.5h-3.0zM98.7 41.1l1.5 2.5h-3.0zM106.2 245.1l1.5 2.5h-3.0zM89.7 34.3l1.5 2.5h-3.0zM62.4 24.1l1.5 2.5h-3.0zM43.6 6.8l1.5 2.5h-3.0zM107.5 117.1l1.5 2.5h-3.0zM49.5 159.5l1.5 2.5h-3.0zM60.3 9.4l1.5 2.5h-3.0zM70.6 155.4l1.5 2.5h-3.0zM67.4 64.8l1.5 2.5h-3.0zM90.0 174.9l1.5 2.5h-3.0zM91.2 21.2l1.5 2.5h-3.0zM94.3 8.4l1.5 2.5h-3.0zM58.7 78.0l1.5 2.5h-3.0zM91.3 2.5l1.5 2.5h-3.0zM103.8 30.1l1.5 2.5h-3.0zM85.0 117.3l1.5 2.5h-3.0zM89.9 181.9l1.5 2.5h-3.0zM66.4 27.0l1.5 2.5h-3.0zM101.9 51.9l1.5 2.5h-3.0zM150.7 51.9l1.5 2.5h-3.0zM63.5 25.5l1.5 2.5h-3.0zM102.2 84.6l1.5 2.5h-3.0zM72.8 149.3l1.5 2.5h-3.0zM75.6 29.3l1.5 2.5h-3.0zM132.6 30.3l1.5 2.5h-3.0zM64.8 77.2l1.5 2.5h-3.0zM48.7 30.3l1.5 2.5h-3.0zM97.9 36.0l1.5 2.5h-3.0zM107.7 26.4l1.5 2.5h-3.0zM73.1 127.0l1.5 2.5h-3.0zM116.6 25.4l1.5 2.5h-3.0zM53.1 69.6l1.5 2.5h-3.0zM87.5 43.8l1.5 2.5h-3.0zM91.9 2.6l1.5 2.5h-3.0zM87.1 201.9l1.5 2.5h-3.0zM131.8 247.4l1.5 2.5h-3.0zM89.1 44.8l1.5 2.5h-3.0zM111.1 80.8l1.5 2.5h-3.0zM49.6 10.9l1.5 2.5h-3.0zM128.2 16.2l1.5 2.5h-3.0zM113.4 20.9l1.5 2.5h-3.0zM97.0 11.9l1.5 2.5h-3.0zM135.0 165.3l1.5 2.5h-3.0zM87.6 229.1l1.5 2.5h-3.0zM105.0 15.2l1.5 2.5h-3.0zM101.4 123.1l1.5 2.5h-3.0zM68.8 59.0l1.5 2.5h-3.0zM58.5 3.7l1.5 2.5h-3.0zM70.0 2.5l1.5 2.5h-3.0zM79.3 158.6l1.5 2.5h-3.0zM91.4 78.1l1.5 2.5h-3.0zM112.4 32.8l1.5 2.5h-3.0zM49.8 2.5l1.5 2.5h-3.0zM64.8 18.7l1.5 2.5h-3.0zM51.9 8.7l1.5 2.5h-3.0zM80.5 5.7l1.5 2.5h-3.0zM87.6 18.2l1.5 2.5h-3.0zM126.4 37.2l1.5 2.5h-3.0zM57.4 15.6l1.5 2.5h-3.0zM40.6 12.0l1.5 2.5h-3.0zM63.4 53.7l1.5 2.5h-3.0zM93.9 27.3l1.5 2.5h-3.0zM107.3 61.3l1.5 2.5h-3.0zM111.4 148.7l1.5 2.5h-3.0zM79.8 54.8l1.5 2.5h-3.0zM142.1 68.6l1.5 2.5h-3.0zM119.4 147.1l1.5 2.5h-3.0zM64.4 91.7l1.5 2.5h-3.0zM56.7 170.5l1.5 2.5h-3.0zM52.7 155.3l1.5 2.5h-3.0zM53.6 153.0l1.5 2.5h-3.0zM94.6 120.4l1.5 2.5h-3.0zM103.7 14.2l1.5 2.5h-3.0zM56.5 15.3l1.5 2.5h-3.0zM52.6 10.7l1.5 2.5h-3.0zM82.5 58.9l1.5 2.5h-3.0zM170.7 8.0l1.5 2.5h-3.0zM40.5 191.7l1.5 2.5h-3.0zM82.7 67.5l1.5 2.5h-3.0zM44.3 63.4l1.5 2.5h-3.0zM42.3 20.8l1.5 2.5h-3.0zM46.9 36.5l1.5 2.5h-3.0zM91.2 72.3l1.5 2.5h-3.0zM72.3 16.0l1.5 2.5h-3.0zM70.1 163.1l1.5 2.5h-3.0zM60.2 30.7l1.5 2.5h-3.0zM122.8 64.5l1.5 2.5h-3.0zM94.3 150.6l1.5 2.5h-3.0zM98.8 121.7l1.5 2.5h-3.0zM107.5 28.4l1.5 2.5h-3.0zM41.3 84.1l1.5 2.5h-3.0zM135.2 45.2l1.5 2.5h-3.0zM123.4 23.8l1.5 2.5h-3.0zM39.9 70.3l1.5 2.5h-3.0zM86.7 62.6l1.5 2.5h-3.0zM52.9 65.6l1.5 2.5h-3.0zM80.5 11.2l1.5 2.5h-3.0zM50.7 50.3l1.5 2.5h-3.0zM110.0 198.0l1.5 2.5h-3.0zM91.9 34.6l1.5 2.5h-3.0zM57.0 62.0l1.5 2.5h-3.0zM87.1 21.3l1.5 2.5h-3.0zM45.4 17.9l1.5 2.5h-3.0zM52.1 220.3l1.5 2.5h-3.0zM62.2 102.0l1.5 2.5h-3.0zM95.6 116.7l1.5 2.5h-3.0zM163.3 167.2l1.5 2.5h-3.0zM73.5 35.3l1.5 2.5h-3.0zM116.6 34.7l1.5 2.5h-3.0zM109.2 176.1l1.5 2.5h-3.0zM75.5 65.0l1.5 2.5h-3.0zM75.3 82.6l1.5 2.5h-3.0zM95.1 87.9l1.5 2.5h-3.0zM99.7 42.1l1.5 2.5h-3.0zM114.9 50.2l1.5 2.5h-3.0zM50.8 54.2l1.5 2.5h-3.0zM50.5 36.1l1.5 2.5h-3.0zM78.6 31.0l1.5 2.5h-3.0zM56.5 123.3l1.5 2.5h-3.0zM107.7 12.2l1.5 2.5h-3.0zM114.3 14.2l1.5 2.5h-3.0zM106.6 7.1l1.5 2.5h-3.0zM84.4 20.0l1.5 2.5h-3.0zM106.1 11.6l1.5 2.5h-3.0zM39.2 90.9l1.5 2.5h-3.0zM89.7 100.9l1.5 2.5h-3.0zM53.3 199.8l1.5 2.5h-3.0zM68.4 21.8l1.5 2.5h-3.0zM61.4 120.8l1.5 2.5h-3.0zM72.4 23.2l1.5 2.5h-3.0zM82.3 216.7l1.5 2.5h-3.0zM84.7 52.3l1.5 2.5h-3.0zM54.6 4.8l1.5 2.5h-3.0zM108.8 109.3l1.5 2.5h-3.0zM43.4 22.3l1.5 2.5h-3.0zM145.3 169.9l1.5 2.5h-3.0zM87.8 73.4l1.5 2.5h-3.0zM52.9 81.1l1.5 2.5h-3.0zM83.3 39.2l1.5 2.5h-3.0zM52.2 47.5l1.5 2.5h-3.0zM93.1 24.3l1.5 2.5h-3.0zM139.3 108.1l1.5 2.5h-3.0zM39.9 244.1l1.5 2.5h-3.0zM73.4 87.4l1.5 2.5h-3.0zM86.6 3.5l1.5 2.5h-3.0zM125.5 106.0l1.5 2.5h-3.0zM88.2 40.0l1.5 2.5h-3.0zM44.8 2.9l1.5 2.5h-3.0zM66.0 141.6l1.5 2.5h-3.0zM47.3 18.8l1.5 2.5h-3.0zM87.6 10.3l1.5 2.5h-3.0zM81.5 222.8l1.5 2.5h-3.0zM102.3 68.9l1.5 2.5h-3.0zM69.9 9.3l1.5 2.5h-3.0zM40.0 6.9l1.5 2.5h-3.0zM48.8 42.9l1.5 2.5h-3.0zM54.0 2.5l1.5 2.5h-3.0zM70.5 188.1l1.5 2.5h-3.0zM92.1 16.3l1.5 2.5h-3.0zM124.8 35.1l1.5 2.5h-3.0zM117.6 75.0l1.5 2.5h-3.0zM50.5 99.2l1.5 2.5h-3.0zM50.1 170.1l1.5 2.5h-3.0zM120.2 11.7l1.5 2.5h-3.0zM107.7 196.5l1.5 2.5h-3.0zM50.7 3.1l1.5 2.5h-3.0zM43.1 24.7l1.5 2.5h-3.0zM52.3 11.0l1.5 2.5h-3.0zM59.5 12.8l1.5 2.5h-3.0zM48.0 161.7l1.5 2.5h-3.0zM75.5 5.1l1.5 2.5h-3.0zM99.3 54.5l1.5 2.5h-3.0zM57.5 45.9l1.5 2.5h-3.0zM103.2 102.4l1.5 2.5h-3.0zM47.8 52.6l1.5 2.5h-3.0zM42.1 20.4l1.5 2.5h-3.0zM83.6 100.1l1.5 2.5h-3.0zM95.2 42.2l1.5 2.5h-3.0zM49.6 18.2l1.5 2.5h-3.0zM74.6 7.5l1.5 2.5h-3.0zM77.2 27.8l1.5 2.5h-3.0zM49.1 16.2l1.5 2.5h-3.0zM42.8 222.5l1.5 2.5h-3.0zM45.8 91.1l1.5 2.5h-3.0zM148.4 221.0l1.5 2.5h-3.0zM48.4 16.0l1.5 2.5h-3.0zM41.5 196.8l1.5 2.5h-3.0zM102.9 11.5l1.5 2.5h-3.0zM110.7 241.3l1.5 2.5h-3.0zM122.2 19.3l1.5 2.5h-3.0zM88.5 17.3l1.5 2.5h-3.0zM93.8 27.8l1.5 2.5h-3.0zM66.7 51.7l1.5 2.5h-3.0zM70.1 193.5l1.5 2.5h-3.0zM85.1 3.6l1.5 2.5h-3.0zM108.8 41.4l1.5 2.5h-3.0zM49.7 106.6l1.5 2.5h-3.0zM62.5 36.7l1.5 2.5h-3.0zM46.2 7.7l1.5 2.5h-3.0zM60.3 17.9l1.5 2.5h-3.0zM112.1 28.2l1.5 2.5h-3.0zM115.2 15.0l1.5 2.5h-3.0zM101.6 17.3l1.5 2.5h-3.0zM99.3 20.2l1.5 2.5h-3.0zM75.1 55.4l1.5 2.5h-3.0zM80.5 50.0l1.5 2.5h-3.0zM175.6 65.2l1.5 2.5h-3.0zM116.5 75.7l1.5 2.5h-3.0zM121.9 17.0l1.5 2.5h-3.0zM78.1 249.5l1.5 2.5h-3.0zM71.5 9.7l1.5 2.5h-3.0zM79.3 13.8l1.5 2.5h-3.0zM98.2 108.1l1.5 2.5h-3.0zM122.3 19.3l1.5 2.5h-3.0zM127.8 27.3l1.5 2.5h-3.0zM49.5 20.7l1.5 2.5h-3.0zM68.6 149.1l1.5 2.5h-3.0zM144.6 32.6l1.5 2.5h-3.0zM79.1 57.7l1.5 2.5h-3.0zM101.1 12.7l1.5 2.5h-3.0zM113.8 115.7l1.5 2.5h-3.0zM45.0 18.1l1.5 2.5h-3.0zM101.7 18.7l1.5 2.5h-3.0zM70.8 133.3l1.5 2.5h-3.0zM117.7 65.1l1.5 2.5h-3.0zM96.0 106.6l1.5 2.5h-3.0zM104.2 35.3l1.5 2.5h-3.0zM56.1 125.3l1.5 2.5h-3.0zM106.5 9.0l1.5 2.5h-3.0zM89.7 6.9l1.5 2.5h-3.0zM43.3 255.3l1.5 2.5h-3.0zM144.6 104.4l1.5 2.5h-3.0zM102.8 9.1l1.5 2.5h-3.0zM56.7 17.7l1.5 2.5h-3.0zM111.1 67.1l1.5 2.5h-3.0zM102.7 3.9l1.5 2.5h-3.0zM134.5 22.5l1.5 2.5h-3.0zM95.7 22.6l1.5 2.5h-3.0zM71.2 32.5l1.5 2.5h-3.0zM111.7 25.5l1.5 2.5h-3.0zM131.3 38.6l1.5 2.5h-3.0zM126.0 116.7l1.5 2.5h-3.0zM67.5 191.2l1.5 2.5h-3.0zM119.4 28.7l1.5 2.5h-3.0zM108.0 64.5l1.5 2.5h-3.0zM127.0 8.8l1.5 2.5h-3.0zM149.8 6.6l1.5 2.5h-3.0zM47.8 16.5l1.5 2.5h-3.0zM112.2 22.4l1.5 2.5h-3.0zM45.9 126.0l1.5 2.5h-3.0zM81.9 8.5l1.5 2.5h-3.0zM43.2 23.3l1.5 2.5h-3.0zM43.7 61.1l1.5 2.5h-3.0zM63.6 6.2l1.5 2.5h-3.0zM90.1 19.1l1.5 2.5h-3.0zM60.0 32.3l1.5 2.5h-3.0zM97.0 35.7l1.5 2.5h-3.0zM42.2 253.1l1.5 2.5h-3.0zM75.5 2.8l1.5 2.5h-3.0zM109.0 172.2l1.5 2.5h-3.0zM53.1 75.1l1.5 2.5h-3.0zM129.2 21.9l1.5 2.5h-3.0zM44.3 7.3l1.5 2.5h-3.0zM71.5 24.5l1.5 2.5h-3.0zM99.9 80.1l1.5 2.5h-3.0zM49.7 13.6l1.5 2.5h-3.0zM65.0 48.3l1.5 2.5h-3.0zM64.4 172.3l1.5 2.5h-3.0zM115.5 2.7l1.5 2.5h-3.0zM118.0 16.4l1.5 2.5h-3.0zM67.3 30.7l1.5 2.5h-3.0zM125.7 11.8l1.5 2.5h-3.0zM124.1 28.0l1.5 2.5h-3.0zM119.0 75.6l1.5 2.5h-3.0zM123.8 119.9l1.5 2.5h-3.0zM126.4 79.2l1.5 2.5h-3.0zM88.4 16.0l1.5 2.5h-3.0zM74.7 169.4l1.5 2.5h-3.0zM90.5 5.7l1.5 2.5h-3.0zM50.4 49.0l1.5 2.5h-3.0zM116.4 13.3l1.5 2.5h-3.0zM122.5 97.6l1.5 2.5h-3.0zM54.0 96.8l1.5 2.5h-3.0zM86.0 14.0l1.5 2.5h-3.0zM44.2 24.0l1.5 2.5h-3.0zM95.7 8.1l1.5 2.5h-3.0zM98.6 7.9l1.5 2.5h-3.0zM57.3 11.1l1.5 2.5h-3.0zM129.5 10.8l1.5 2.5h-3.0zM149.4 68.1l1.5 2.5h-3.0zM85.5 20.8l1.5 2.5h-3.0zM98.4 22.5l1.5 2.5h-3.0zM136.6 14.2l1.5 2.5h-3.0zM129.1 133.0l1.5 2.5h-3.0zM55.7 63.8l1.5 2.5h-3.0zM112.7 67.9l1.5 2.5h-3.0zM85.3 11.0l1.5 2.5h-3.0zM84.0 24.8l1.5 2.5h-3.0zM93.6 10.3l1.5 2.5h-3.0zM128.7 196.4l1.5 2.5h-3.0zM95.0 3.3l1.5 2.5h-3.0zM100.3 65.8l1.5 2.5h-3.0zM60.8 17.6l1.5 2.5h-3.0zM58.7 18.7l1.5 2.5h-3.0zM64.1 43.5l1.5 2.5h-3.0zM47.2 37.3l1.5 2.5h-3.0zM123.7 135.0l1.5 2.5h-3.0zM90.1 32.1l1.5 2.5h-3.0zM128.1 5.4l1.5 2.5h-3.0zM148.0 136.1l1.5 2.5h-3.0zM142.8 77.5l1.5 2.5h-3.0zM113.0 21.9l1.5 2.5h-3.0zM132.5 2.5l1.5 2.5h-3.0zM85.6 13.1l1.5 2.5h-3.0zM58.2 41.3l1.5 2.5h-3.0zM45.3 115.9l1.5 2.5h-3.0zM101.2 20.2l1.5 2.5h-3.0zM58.6 47.4l1.5 2.5h-3.0zM65.7 5.8l1.5 2.5h-3.0zM44.6 196.6l1.5 2.5h-3.0zM89.2 2.6l1.5 2.5h-3.0zM121.3 45.9l1.5 2.5h-3.0zM262.4 144.3l1.5 2.5h-3.0zM80.1 23.2l1.5 2.5h-3.0zM59.3 2.5l1.5 2.5h-3.0zM104.8 23.8l1.5 2.5h-3.0zM92.7 76.6l1.5 2.5h-3.0zM41.7 143.2l1.5 2.5h-3.0zM119.3 2.9l1.5 2.5h-3.0zM69.2 8.2l1.5 2.5h-3.0zM89.0 160.6l1.5 2.5h-3.0zM46.3 21.9l1.5 2.5h-3.0zM53.6 196.4l1.5 2.5h-3.0zM69.2 23.4l1.5 2.5h-3.0zM60.7 236.8l1.5 2.5h-3.0zM61.2 164.1l1.5 2.5h-3.0zM86.7 92.5l1.5 2.5h-3.0zM75.5 19.0l1.5 2.5h-3.0zM69.7 115.7l1.5 2.5h-3.0zM82.2 14.9l1.5 2.5h-3.0zM145.3 198.8l1.5 2.5h-3.0zM120.9 25.0l1.5 2.5h-3.0zM104.9 24.8l1.5 2.5h-3.0zM91.9 16.1l1.5 2.5h-3.0zM97.5 16.5l1.5 2.5h-3.0zM53.9 207.9l1.5 2.5h-3.0zM74.6 69.7l1.5 2.5h-3.0zM103.2 13.0l1.5 2.5h-3.0zM129.2 117.0l1.5 2.5h-3.0zM129.8 49.7l1.5 2.5h-3.0zM38.9 22.5l1.5 2.5h-3.0zM122.4 35.9l1.5 2.5h-3.0zM102.8 10.3l1.5 2.5h-3.0zM116.1 137.9l1.5 2.5h-3.0zM49.5 141.8l1.5 2.5h-3.0zM131.0 14.5l1.5 2.5h-3.0zM40.6 45.5l1.5 2.5h-3.0zM41.7 94.4l1.5 2.5h-3.0zM95.2 148.8l1.5 2.5h-3.0zM112.3 9.4l1.5 2.5h-3.0zM123.9 100.2l1.5 2.5h-3.0zM130.1 149.7l1.5 2.5h-3.0zM67.1 10.2l1.5 2.5h-3.0zM102.3 49.9l1.5 2.5h-3.0zM59.1 44.1l1.5 2.5h-3.0zM105.7 10.7l1.5 2.5h-3.0zM56.2 3.0l1.5 2.5h-3.0zM68.6 37.8l1.5 2.5h-3.0zM108.8 8.8l1.5 2.5h-3.0zM66.0 19.2l1.5 2.5h-3.0zM61.7 21.5l1.5 2.5h-3.0zM88.7 43.3l1.5 2.5h-3.0zM86.4 47.2l1.5 2.5h-3.0zM101.4 19.8l1.5 2.5h-3.0zM119.9 119.3l1.5 2.5h-3.0zM107.3 76.8l1.5 2.5h-3.0zM77.0 14.1l1.5 2.5h-3.0zM44.8 20.9l1.5 2.5h-3.0zM129.2 4.7l1.5 2.5h-3.0zM81.0 9.0l1.5 2.5h-3.0zM43.3 3.6l1.5 2.5h-3.0zM43.3 148.6l1.5 2.5h-3.0zM88.2 87.3l1.5 2.5h-3.0zM87.2 17.0l1.5 2.5h-3.0zM111.9 167.9l1.5 2.5h-3.0zM79.0 84.6l1.5 2.5h-3.0zM83.4 19.9l1.5 2.5h-3.0zM69.4 9.3l1.5 2.5h-3.0zM103.5 19.3l1.5 2.5h-3.0zM148.2 40.3l1.5 2.5h-3.0zM122.2 101.2l1.5 2.5h-3.0zM98.7 107.2l1.5 2.5h-3.0zM99.1 30.3l1.5 2.5h-3.0zM108.2 57.4l1.5 2.5h-3.0zM43.7 65.3l1.5 2.5h-3.0zM126.4 18.0l1.5 2.5h-3.0zM117.2 17.7l1.5 2.5h-3.0zM102.0 73.9l1.5 2.5h-3.0zM49.9 33.2l1.5 2.5h-3.0zM133.6 3.0l1.5 2.5h-3.0zM90.5 12.7l1.5 2.5h-3.0zM102.4 24.6l1.5 2.5h-3.0zM95.9 50.4l1.5 2.5h-3.0zM118.5 49.0l1.5 2.5h-3.0zM69.2 74.7l1.5 2.5h-3.0zM115.4 115.0l1.5 2.5h-3.0zM63.8 17.6l1.5 2.5h-3.0zM91.5 8.9l1.5 2.5h-3.0zM46.5 69.4l1.5 2.5h-3.0zM124.3 28.3l1.5 2.5h-3.0zM43.5 15.4l1.5 2.5h-3.0zM58.2 35.7l1.5 2.5h-3.0zM127.0 40.4l1.5 2.5h-3.0zM61.9 3.9l1.5 2.5h-3.0zM105.9 72.0l1.5 2.5h-3.0zM76.4 13.9l1.5 2.5h-3.0zM50.9 109.6l1.5 2.5h-3.0zM73.5 34.4l1.5 2.5h-3.0zM57.1 43.6l1.5 2.5h-3.0zM55.8 15.2l1.5 2.5h-3.0zM44.9 26.5l1.5 2.5h-3.0zM110.1 2.7l1.5 2.5h-3.0zM99.2 6.9l1.5 2.5h-3.0zM49.6 138.6l1.5 2.5h-3.0zM58.1 26.8l1.5 2.5h-3.0zM64.6 163.4l1.5 2.5h-3.0zM50.2 2.7l1.5 2.5h-3.0zM89.4 169.1l1.5 2.5h-3.0zM51.8 37.3l1.5 2.5h-3.0zM42.2 6.4l1.5 2.5h-3.0zM60.4 3.0l1.5 2.5h-3.0zM96.9 5.7l1.5 2.5h-3.0zM70.5 14.3l1.5 2.5h-3.0zM67.3 30.3l1.5 2.5h-3.0zM100.2 9.6l1.5 2.5h-3.0zM107.3 5.7l1.5 2.5h-3.0zM132.7 52.5l1.5 2.5h-3.0zM71.2 19.0l1.5 2.5h-3.0zM108.8 19.2l1.5 2.5h-3.0zM39.9 88.8l1.5 2.5h-3.0zM114.1 15.7l1.5 2.5h-3.0zM72.4 26.5l1.5 2.5h-3.0zM56.8 161.2l1.5 2.5h-3.0zM73.3 20.6l1.5 2.5h-3.0zM41.1 159.1l1.5 2.5h-3.0zM90.9 3.7l1.5 2.5h-3.0zM107.7 32.0l1.5 2.5h-3.0zM126.4 40.8l1.5 2.5h-3.0zM83.7 33.2l1.5 2.5h-3.0zM52.9 36.8l1.5 2.5h-3.0zM52.7 138.5l1.5 2.5h-3.0zM98.4 35.6l1.5 2.5h-3.0zM115.8 71.9l1.5 2.5h-3.0zM141.7 143.7l1.5 2.5h-3.0zM117.2 154.0l1.5 2.5h-3.0zM78.8 15.0l1.5 2.5h-3.0zM119.9 109.4l1.5 2.5h-3.0zM104.2 26.8l1.5 2.5h-3.0zM110.6 18.8l1.5 2.5h-3.0zM105.8 33.8l1.5 2.5h-3.0zM131.7 87.5l1.5 2.5h-3.0zM48.6 21.7l1.5 2.5h-3.0zM49.1 146.4l1.5 2.5h-3.0zM56.0 7.4l1.5 2.5h-3.0zM63.5 17.7l1.5 2.5h-3.0zM49.1 7.4l1.5 2.5h-3.0zM54.7 2.8l1.5 2.5h-3.0zM44.1 241.1l1.5 2.5h-3.0zM124.3 8.9l1.5 2.5h-3.0zM96.3 5.7l1.5 2.5h-3.0zM50.5 99.9l1.5 2.5h-3.0zM103.5 119.3l1.5 2.5h-3.0zM43.6 10.8l1.5 2.5h-3.0zM90.0 6.0l1.5 2.5h-3.0zM114.7 158.9l1.5 2.5h-3.0zM70.3 21.5l1.5 2.5h-3.0zM46.9 122.8l1.5 2.5h-3.0zM68.9 18.5l1.5 2.5h-3.0zM49.6 9.7l1.5 2.5h-3.0zM60.7 13.6l1.5 2.5h-3.0zM47.3 226.6l1.5 2.5h-3.0zM42.3 115.4l1.5 2.5h-3.0zM56.3 3.6l1.5 2.5h-3.0zM54.1 72.4l1.5 2.5h-3.0zM44.0 52.4l1.5 2.5h-3.0zM56.4 23.6l1.5 2.5h-3.0zM82.5 12.4l1.5 2.5h-3.0zM121.7 17.9l1.5 2.5h-3.0zM113.7 5.0l1.5 2.5h-3.0zM62.3 22.2l1.5 2.5h-3.0zM45.4 4.9l1.5 2.5h-3.0zM101.0 7.0l1.5 2.5h-3.0zM128.2 17.4l1.5 2.5h-3.0zM127.4 8.8l1.5 2.5h-3.0zM84.4 20.7l1.5 2.5h-3.0zM113.1 62.0l1.5 2.5h-3.0zM69.6 184.1l1.5 2.5h-3.0zM126.2 187.5l1.5 2.5h-3.0zM47.5 15.6l1.5 2.5h-3.0zM58.8 44.0l1.5 2.5h-3.0zM85.2 149.7l1.5 2.5h-3.0zM64.5 20.0l1.5 2.5h-3.0zM61.3 20.6l1.5 2.5h-3.0zM93.0 17.2l1.5 2.5h-3.0zM60.8 31.2l1.5 2.5h-3.0zM47.2 13.8l1.5 2.5h-3.0zM57.1 6.7l1.5 2.5h-3.0zM71.7 13.4l1.5 2.5h-3.0zM45.2 13.0l1.5 2.5h-3.0zM70.5 132.1l1.5 2.5h-3.0zM78.3 46.0l1.5 2.5h-3.0zM101.5 221.0l1.5 2.5h-3.0zM96.9 16.9l1.5 2.5h-3.0zM68.5 2.5l1.5 2.5h-3.0zM68.4 4.6l1.5 2.5h-3.0zM46.3 47.9l1.5 2.5h-3.0zM88.5 154.1l1.5 2.5h-3.0zM116.0 18.9l1.5 2.5h-3.0zM77.0 23.1l1.5 2.5h-3.0zM60.1 17.3l1.5 2.5h-3.0zM77.1 44.8l1.5 2.5h-3.0zM65.0 228.2l1.5 2.5h-3.0zM84.4 88.9l1.5 2.5h-3.0zM44.2 16.3l1.5 2.5h-3.0zM69.0 139.7l1.5 2.5h-3.0zM75.1 41.1l1.5 2.5h-3.0zM70.2 16.0l1.5 2.5h-3.0zM63.4 12.7l1.5 2.5h-3.0zM126.8 185.9l1.5 2.5h-3.0zM77.3 186.5l1.5 2.5h-3.0zM71.1 19.1l1.5 2.5h-3.0zM83.1 74.1l1.5 2.5h-3.0zM100.2 42.0l1.5 2.5h-3.0zM56.9 50.2l1.5 2.5h-3.0zM60.0 36.7l1.5 2.5h-3.0zM60.8 23.3l1.5 2.5h-3.0zM69.2 31.0l1.5 2.5h-3.0zM85.4 24.0l1.5 2.5h-3.0zM153.0 80.6l1.5 2.5h-3.0zM107.9 200.4l1.5 2.5h-3.0zM56.2 61.4l1.5 2.5h-3.0zM78.2 41.8l1.5 2.5h-3.0zM117.1 46.3l1.5 2.5h-3.0zM111.2 137.9l1.5 2.5h-3.0zM140.6 59.7l1.5 2.5h-3.0zM71.4 26.1l1.5 2.5h-3.0zM113.4 58.3l1.5 2.5h-3.0zM75.0 24.8l1.5 2.5h-3.0zM114.3 22.1l1.5 2.5h-3.0zM119.4 150.3l1.5 2.5h-3.0zM105.7 201.4l1.5 2.5h-3.0zM97.2 110.1l1.5 2.5h-3.0zM68.6 180.1l1.5 2.5h-3.0zM90.7 59.9l1.5 2.5h-3.0zM74.5 79.6l1.5 2.5h-3.0zM77.4 19.6l1.5 2.5h-3.0zM86.6 3.4l1.5 2.5h-3.0zM49.5 102.3l1.5 2.5h-3.0zM127.2 67.9l1.5 2.5h-3.0zM169.7 150.8l1.5 2.5h-3.0zM87.8 58.5l1.5 2.5h-3.0zM57.1 115.1l1.5 2.5h-3.0zM50.4 90.3l1.5 2.5h-3.0zM77.5 5.8l1.5 2.5h-3.0zM57.1 18.9l1.5 2.5h-3.0zM42.2 12.2l1.5 2.5h-3.0zM52.1 14.1l1.5 2.5h-3.0zM119.2 145.0l1.5 2.5h-3.0zM127.0 17.5l1.5 2.5h-3.0zM64.8 47.6l1.5 2.5h-3.0zM43.1 140.0l1.5 2.5h-3.0zM48.4 4.0l1.5 2.5h-3.0zM39.4 17.9l1.5 2.5h-3.0zM116.4 11.3l1.5 2.5h-3.0zM99.2 198.4l1.5 2.5h-3.0zM117.7 24.1l1.5 2.5h-3.0zM113.3 12.0l1.5 2.5h-3.0zM128.9 18.0l1.5 2.5h-3.0zM92.2 17.7l1.5 2.5h-3.0zM106.2 11.6l1.5 2.5h-3.0zM138.4 115.3l1.5 2.5h-3.0zM116.9 15.3l1.5 2.5h-3.0zM118.9 172.4l1.5 2.5h-3.0zM43.4 41.9l1.5 2.5h-3.0zM61.0 23.0l1.5 2.5h-3.0zM50.5 120.5l1.5 2.5h-3.0zM78.9 29.7l1.5 2.5h-3.0zM41.9 58.9l1.5 2.5h-3.0zM73.0 223.2l1.5 2.5h-3.0zM51.2 16.1l1.5 2.5h-3.0zM63.0 27.1l1.5 2.5h-3.0zM94.4 3.2l1.5 2.5h-3.0zM74.8 21.4l1.5 2.5h-3.0zM180.7 43.5l1.5 2.5h-3.0zM110.7 127.2l1.5 2.5h-3.0zM122.9 118.2l1.5 2.5h-3.0zM191.0 196.3l1.5 2.5h-3.0zM66.3 20.2l1.5 2.5h-3.0zM79.3 22.2l1.5 2.5h-3.0zM62.4 12.9l1.5 2.5h-3.0zM112.8 20.0l1.5 2.5h-3.0zM53.8 86.0l1.5 2.5h-3.0zM92.1 27.0l1.5 2.5h-3.0zM94.6 30.0l1.5 2.5h-3.0zM121.2 55.1l1.5 2.5h-3.0zM94.0 89.1l1.5 2.5h-3.0zM98.7 92.5l1.5 2.5h-3.0zM52.1 15.0l1.5 2.5h-3.0zM42.8 108.7l1.5 2.5h-3.0zM47.5 142.0l1.5 2.5h-3.0zM40.3 17.1l1.5 2.5h-3.0z"/>
<path stroke="#e0962e" stroke-width="0.6" opacity="0.62" d="M50.1 184.4l1.5 2.5h-3.0zM54.8 139.0l1.5 2.5h-3.0zM86.5 104.4l1.5 2.5h-3.0zM68.8 5.9l1.5 2.5h-3.0zM60.4 6.8l1.5 2.5h-3.0zM65.2 140.8l1.5 2.5h-3.0zM84.9 112.6l1.5 2.5h-3.0zM107.3 14.7l1.5 2.5h-3.0zM93.5 16.5l1.5 2.5h-3.0zM126.5 17.5l1.5 2.5h-3.0zM73.1 4.8l1.5 2.5h-3.0zM52.3 150.2l1.5 2.5h-3.0zM73.9 13.2l1.5 2.5h-3.0zM79.6 5.1l1.5 2.5h-3.0zM102.9 14.6l1.5 2.5h-3.0zM51.7 107.8l1.5 2.5h-3.0zM47.7 38.2l1.5 2.5h-3.0zM92.5 43.1l1.5 2.5h-3.0zM49.0 25.7l1.5 2.5h-3.0zM79.4 27.8l1.5 2.5h-3.0zM103.1 7.8l1.5 2.5h-3.0zM55.2 30.4l1.5 2.5h-3.0zM77.2 10.2l1.5 2.5h-3.0zM60.0 7.9l1.5 2.5h-3.0zM135.4 13.7l1.5 2.5h-3.0zM70.4 123.8l1.5 2.5h-3.0zM85.8 50.6l1.5 2.5h-3.0zM59.2 33.2l1.5 2.5h-3.0zM131.5 5.4l1.5 2.5h-3.0zM85.9 44.8l1.5 2.5h-3.0zM82.7 4.9l1.5 2.5h-3.0zM44.9 45.8l1.5 2.5h-3.0zM72.8 2.7l1.5 2.5h-3.0zM97.4 19.2l1.5 2.5h-3.0zM94.7 5.0l1.5 2.5h-3.0zM126.2 7.1l1.5 2.5h-3.0zM160.2 72.6l1.5 2.5h-3.0zM45.8 9.2l1.5 2.5h-3.0zM107.9 13.0l1.5 2.5h-3.0zM108.8 160.4l1.5 2.5h-3.0zM76.2 82.0l1.5 2.5h-3.0zM111.8 4.1l1.5 2.5h-3.0zM80.6 2.5l1.5 2.5h-3.0zM57.5 41.3l1.5 2.5h-3.0zM106.9 12.8l1.5 2.5h-3.0zM59.3 21.5l1.5 2.5h-3.0zM75.3 4.7l1.5 2.5h-3.0zM97.5 50.0l1.5 2.5h-3.0zM65.1 47.3l1.5 2.5h-3.0zM48.7 36.2l1.5 2.5h-3.0zM98.4 41.4l1.5 2.5h-3.0zM117.8 211.0l1.5 2.5h-3.0zM102.4 82.6l1.5 2.5h-3.0zM127.7 16.0l1.5 2.5h-3.0zM116.3 70.2l1.5 2.5h-3.0zM77.1 50.0l1.5 2.5h-3.0zM56.9 16.1l1.5 2.5h-3.0zM143.7 225.2l1.5 2.5h-3.0zM54.0 13.0l1.5 2.5h-3.0zM54.3 9.2l1.5 2.5h-3.0zM60.1 26.4l1.5 2.5h-3.0zM119.5 33.5l1.5 2.5h-3.0zM71.5 18.2l1.5 2.5h-3.0zM65.2 7.3l1.5 2.5h-3.0zM90.3 105.9l1.5 2.5h-3.0zM51.0 105.0l1.5 2.5h-3.0zM89.0 82.5l1.5 2.5h-3.0zM132.5 98.2l1.5 2.5h-3.0zM54.9 244.3l1.5 2.5h-3.0zM52.6 132.5l1.5 2.5h-3.0zM53.0 18.5l1.5 2.5h-3.0zM43.8 54.1l1.5 2.5h-3.0zM46.1 27.8l1.5 2.5h-3.0zM110.0 22.5l1.5 2.5h-3.0zM60.1 74.8l1.5 2.5h-3.0zM54.3 171.7l1.5 2.5h-3.0zM120.9 34.9l1.5 2.5h-3.0zM75.3 8.3l1.5 2.5h-3.0zM60.4 36.7l1.5 2.5h-3.0zM81.4 45.9l1.5 2.5h-3.0zM73.6 23.3l1.5 2.5h-3.0zM96.2 95.5l1.5 2.5h-3.0zM83.3 35.3l1.5 2.5h-3.0zM144.4 170.1l1.5 2.5h-3.0zM116.1 12.5l1.5 2.5h-3.0zM63.5 5.0l1.5 2.5h-3.0zM100.0 25.3l1.5 2.5h-3.0zM44.6 30.3l1.5 2.5h-3.0zM141.8 42.3l1.5 2.5h-3.0zM65.7 51.3l1.5 2.5h-3.0zM56.5 150.7l1.5 2.5h-3.0zM39.0 59.7l1.5 2.5h-3.0zM54.1 23.7l1.5 2.5h-3.0zM109.2 239.6l1.5 2.5h-3.0zM113.1 174.9l1.5 2.5h-3.0zM62.0 174.2l1.5 2.5h-3.0zM62.4 47.6l1.5 2.5h-3.0zM107.6 4.7l1.5 2.5h-3.0zM178.0 2.8l1.5 2.5h-3.0zM79.4 30.5l1.5 2.5h-3.0zM86.6 24.7l1.5 2.5h-3.0zM146.8 56.4l1.5 2.5h-3.0zM68.9 16.8l1.5 2.5h-3.0zM138.1 13.3l1.5 2.5h-3.0zM113.8 21.1l1.5 2.5h-3.0zM50.5 14.1l1.5 2.5h-3.0zM64.8 18.3l1.5 2.5h-3.0zM60.9 21.3l1.5 2.5h-3.0zM78.1 132.8l1.5 2.5h-3.0zM39.3 94.0l1.5 2.5h-3.0zM49.4 14.7l1.5 2.5h-3.0zM117.8 28.4l1.5 2.5h-3.0zM68.8 5.0l1.5 2.5h-3.0zM39.2 18.8l1.5 2.5h-3.0zM129.7 24.7l1.5 2.5h-3.0zM80.1 225.3l1.5 2.5h-3.0zM66.0 25.2l1.5 2.5h-3.0zM58.1 114.3l1.5 2.5h-3.0zM73.2 140.6l1.5 2.5h-3.0zM122.2 17.6l1.5 2.5h-3.0zM90.5 172.2l1.5 2.5h-3.0zM61.3 121.5l1.5 2.5h-3.0zM95.8 98.0l1.5 2.5h-3.0zM90.1 4.6l1.5 2.5h-3.0zM98.5 11.2l1.5 2.5h-3.0zM85.6 4.4l1.5 2.5h-3.0zM80.4 56.1l1.5 2.5h-3.0zM72.8 14.5l1.5 2.5h-3.0zM97.6 2.7l1.5 2.5h-3.0zM76.9 12.2l1.5 2.5h-3.0zM119.6 213.5l1.5 2.5h-3.0zM48.6 97.6l1.5 2.5h-3.0zM45.8 2.5l1.5 2.5h-3.0zM89.3 12.8l1.5 2.5h-3.0zM43.2 95.8l1.5 2.5h-3.0zM83.7 58.3l1.5 2.5h-3.0zM64.8 6.3l1.5 2.5h-3.0zM66.2 30.0l1.5 2.5h-3.0zM77.7 12.5l1.5 2.5h-3.0zM42.5 160.0l1.5 2.5h-3.0zM83.4 139.3l1.5 2.5h-3.0zM45.2 49.6l1.5 2.5h-3.0zM127.1 124.4l1.5 2.5h-3.0zM131.6 3.1l1.5 2.5h-3.0zM137.7 19.2l1.5 2.5h-3.0zM91.5 33.4l1.5 2.5h-3.0zM136.3 22.3l1.5 2.5h-3.0zM93.5 13.8l1.5 2.5h-3.0zM68.0 2.5l1.5 2.5h-3.0zM42.1 26.0l1.5 2.5h-3.0zM89.5 19.7l1.5 2.5h-3.0zM66.3 20.4l1.5 2.5h-3.0zM111.7 9.1l1.5 2.5h-3.0zM71.5 198.6l1.5 2.5h-3.0zM86.8 229.7l1.5 2.5h-3.0zM110.8 7.2l1.5 2.5h-3.0zM77.5 153.2l1.5 2.5h-3.0zM84.1 7.2l1.5 2.5h-3.0zM88.6 35.8l1.5 2.5h-3.0zM115.4 11.2l1.5 2.5h-3.0zM42.5 131.2l1.5 2.5h-3.0zM50.1 22.7l1.5 2.5h-3.0zM41.1 10.2l1.5 2.5h-3.0zM108.6 46.4l1.5 2.5h-3.0zM61.1 13.0l1.5 2.5h-3.0zM49.6 14.4l1.5 2.5h-3.0zM44.1 58.3l1.5 2.5h-3.0zM67.1 108.9l1.5 2.5h-3.0zM49.3 95.7l1.5 2.5h-3.0zM46.0 48.5l1.5 2.5h-3.0zM96.6 15.1l1.5 2.5h-3.0zM120.2 63.5l1.5 2.5h-3.0zM67.2 146.8l1.5 2.5h-3.0zM99.7 12.2l1.5 2.5h-3.0zM88.8 168.1l1.5 2.5h-3.0zM116.0 58.8l1.5 2.5h-3.0zM55.5 24.9l1.5 2.5h-3.0zM71.2 166.5l1.5 2.5h-3.0zM59.4 126.6l1.5 2.5h-3.0zM85.7 37.7l1.5 2.5h-3.0zM72.9 220.5l1.5 2.5h-3.0zM69.5 4.5l1.5 2.5h-3.0zM99.1 155.8l1.5 2.5h-3.0zM42.4 40.0l1.5 2.5h-3.0zM76.0 40.6l1.5 2.5h-3.0zM96.3 12.7l1.5 2.5h-3.0zM88.6 42.3l1.5 2.5h-3.0zM127.9 199.3l1.5 2.5h-3.0zM52.5 2.5l1.5 2.5h-3.0zM129.0 150.7l1.5 2.5h-3.0zM89.3 115.7l1.5 2.5h-3.0zM82.8 7.7l1.5 2.5h-3.0zM71.9 92.8l1.5 2.5h-3.0zM61.2 188.0l1.5 2.5h-3.0zM108.2 99.3l1.5 2.5h-3.0zM87.9 172.3l1.5 2.5h-3.0zM63.7 76.6l1.5 2.5h-3.0zM83.0 57.0l1.5 2.5h-3.0zM98.8 26.9l1.5 2.5h-3.0zM47.6 132.1l1.5 2.5h-3.0zM105.6 4.7l1.5 2.5h-3.0zM52.0 18.5l1.5 2.5h-3.0zM83.6 26.8l1.5 2.5h-3.0zM92.6 114.2l1.5 2.5h-3.0zM66.3 73.9l1.5 2.5h-3.0zM54.9 23.5l1.5 2.5h-3.0zM87.7 98.4l1.5 2.5h-3.0zM98.4 248.4l1.5 2.5h-3.0zM74.6 23.6l1.5 2.5h-3.0zM55.4 51.2l1.5 2.5h-3.0zM87.9 14.2l1.5 2.5h-3.0zM90.7 125.2l1.5 2.5h-3.0zM110.1 10.4l1.5 2.5h-3.0zM78.3 9.6l1.5 2.5h-3.0zM70.6 8.4l1.5 2.5h-3.0zM97.8 13.7l1.5 2.5h-3.0zM104.9 22.6l1.5 2.5h-3.0zM48.6 3.4l1.5 2.5h-3.0zM46.7 29.0l1.5 2.5h-3.0zM59.0 174.3l1.5 2.5h-3.0zM66.9 133.9l1.5 2.5h-3.0zM48.3 8.3l1.5 2.5h-3.0zM91.6 14.3l1.5 2.5h-3.0zM91.4 9.1l1.5 2.5h-3.0zM108.3 22.0l1.5 2.5h-3.0zM88.1 7.7l1.5 2.5h-3.0zM62.6 205.5l1.5 2.5h-3.0zM92.9 38.8l1.5 2.5h-3.0zM90.5 3.7l1.5 2.5h-3.0zM50.4 18.2l1.5 2.5h-3.0zM74.4 9.2l1.5 2.5h-3.0zM98.7 26.0l1.5 2.5h-3.0zM73.8 21.1l1.5 2.5h-3.0zM83.5 18.5l1.5 2.5h-3.0zM59.1 18.5l1.5 2.5h-3.0zM71.1 21.9l1.5 2.5h-3.0zM50.1 129.2l1.5 2.5h-3.0zM97.4 33.4l1.5 2.5h-3.0zM151.8 123.5l1.5 2.5h-3.0zM133.2 11.9l1.5 2.5h-3.0zM69.6 15.8l1.5 2.5h-3.0zM91.2 191.9l1.5 2.5h-3.0zM79.8 31.0l1.5 2.5h-3.0zM139.6 208.9l1.5 2.5h-3.0zM45.6 77.8l1.5 2.5h-3.0zM177.2 5.6l1.5 2.5h-3.0zM94.0 53.0l1.5 2.5h-3.0zM58.7 31.4l1.5 2.5h-3.0zM70.1 7.7l1.5 2.5h-3.0zM111.3 5.9l1.5 2.5h-3.0zM40.1 43.4l1.5 2.5h-3.0zM93.7 142.9l1.5 2.5h-3.0zM41.3 99.6l1.5 2.5h-3.0zM132.8 11.1l1.5 2.5h-3.0zM43.2 221.0l1.5 2.5h-3.0zM90.8 21.4l1.5 2.5h-3.0zM85.6 45.3l1.5 2.5h-3.0zM61.0 117.1l1.5 2.5h-3.0zM104.8 232.3l1.5 2.5h-3.0zM56.5 10.9l1.5 2.5h-3.0zM57.9 47.8l1.5 2.5h-3.0zM47.9 233.1l1.5 2.5h-3.0zM57.9 152.6l1.5 2.5h-3.0zM77.8 12.8l1.5 2.5h-3.0zM69.9 215.7l1.5 2.5h-3.0zM64.0 60.3l1.5 2.5h-3.0zM80.4 55.9l1.5 2.5h-3.0zM45.4 24.5l1.5 2.5h-3.0zM124.7 19.8l1.5 2.5h-3.0zM121.4 21.3l1.5 2.5h-3.0zM101.6 48.1l1.5 2.5h-3.0zM94.5 164.5l1.5 2.5h-3.0zM72.8 212.6l1.5 2.5h-3.0zM113.0 40.2l1.5 2.5h-3.0zM96.9 30.5l1.5 2.5h-3.0zM111.4 18.4l1.5 2.5h-3.0zM69.9 19.0l1.5 2.5h-3.0zM41.9 28.7l1.5 2.5h-3.0zM57.1 63.5l1.5 2.5h-3.0zM60.2 8.8l1.5 2.5h-3.0zM106.7 26.2l1.5 2.5h-3.0zM81.4 226.9l1.5 2.5h-3.0zM107.9 37.5l1.5 2.5h-3.0zM44.4 43.0l1.5 2.5h-3.0zM137.4 8.2l1.5 2.5h-3.0zM154.5 18.6l1.5 2.5h-3.0zM89.9 39.1l1.5 2.5h-3.0zM124.5 5.7l1.5 2.5h-3.0zM103.6 200.8l1.5 2.5h-3.0zM62.5 66.4l1.5 2.5h-3.0zM110.2 31.0l1.5 2.5h-3.0zM80.5 13.7l1.5 2.5h-3.0zM90.5 20.4l1.5 2.5h-3.0zM115.4 71.1l1.5 2.5h-3.0zM103.9 29.6l1.5 2.5h-3.0zM79.7 5.9l1.5 2.5h-3.0zM46.4 28.4l1.5 2.5h-3.0zM63.3 7.7l1.5 2.5h-3.0zM133.0 31.4l1.5 2.5h-3.0zM171.6 182.5l1.5 2.5h-3.0zM45.3 76.7l1.5 2.5h-3.0zM72.9 28.6l1.5 2.5h-3.0zM127.3 13.3l1.5 2.5h-3.0zM145.4 28.0l1.5 2.5h-3.0zM69.5 11.5l1.5 2.5h-3.0zM79.2 55.5l1.5 2.5h-3.0zM101.6 36.0l1.5 2.5h-3.0zM50.7 81.7l1.5 2.5h-3.0zM39.3 16.8l1.5 2.5h-3.0zM116.5 20.6l1.5 2.5h-3.0zM121.4 169.3l1.5 2.5h-3.0zM39.4 23.6l1.5 2.5h-3.0zM61.0 12.6l1.5 2.5h-3.0zM97.2 71.6l1.5 2.5h-3.0zM83.5 67.2l1.5 2.5h-3.0zM62.9 4.9l1.5 2.5h-3.0zM49.9 30.0l1.5 2.5h-3.0zM113.4 48.5l1.5 2.5h-3.0zM78.1 33.3l1.5 2.5h-3.0zM98.7 36.1l1.5 2.5h-3.0zM69.5 19.5l1.5 2.5h-3.0zM81.7 12.5l1.5 2.5h-3.0zM47.9 144.8l1.5 2.5h-3.0zM98.4 21.6l1.5 2.5h-3.0zM43.4 35.9l1.5 2.5h-3.0zM80.0 77.5l1.5 2.5h-3.0zM110.7 33.4l1.5 2.5h-3.0zM67.8 29.7l1.5 2.5h-3.0zM116.1 122.2l1.5 2.5h-3.0zM110.8 22.2l1.5 2.5h-3.0zM78.3 46.8l1.5 2.5h-3.0zM136.4 122.4l1.5 2.5h-3.0zM122.1 79.0l1.5 2.5h-3.0zM49.2 54.1l1.5 2.5h-3.0zM68.0 43.0l1.5 2.5h-3.0zM76.9 6.4l1.5 2.5h-3.0zM109.9 4.0l1.5 2.5h-3.0zM64.7 44.6l1.5 2.5h-3.0zM43.2 24.6l1.5 2.5h-3.0zM83.3 6.3l1.5 2.5h-3.0zM98.2 11.6l1.5 2.5h-3.0zM73.0 30.9l1.5 2.5h-3.0zM93.1 42.8l1.5 2.5h-3.0zM107.5 49.1l1.5 2.5h-3.0zM136.6 3.8l1.5 2.5h-3.0zM94.3 42.3l1.5 2.5h-3.0zM94.8 7.4l1.5 2.5h-3.0zM64.9 18.1l1.5 2.5h-3.0zM64.2 17.5l1.5 2.5h-3.0zM53.7 69.1l1.5 2.5h-3.0zM58.7 8.0l1.5 2.5h-3.0zM80.6 33.6l1.5 2.5h-3.0zM93.0 57.5l1.5 2.5h-3.0zM83.2 39.5l1.5 2.5h-3.0zM94.3 34.1l1.5 2.5h-3.0zM112.0 5.5l1.5 2.5h-3.0zM48.6 5.9l1.5 2.5h-3.0zM73.7 48.5l1.5 2.5h-3.0zM119.9 66.1l1.5 2.5h-3.0zM122.0 17.0l1.5 2.5h-3.0zM103.5 22.1l1.5 2.5h-3.0zM86.2 29.9l1.5 2.5h-3.0zM88.0 11.4l1.5 2.5h-3.0zM48.6 237.8l1.5 2.5h-3.0zM93.9 55.6l1.5 2.5h-3.0zM79.3 153.0l1.5 2.5h-3.0zM116.0 64.2l1.5 2.5h-3.0zM74.1 38.0l1.5 2.5h-3.0zM42.6 14.9l1.5 2.5h-3.0zM49.1 7.5l1.5 2.5h-3.0zM112.6 6.4l1.5 2.5h-3.0zM73.2 18.3l1.5 2.5h-3.0zM42.9 18.0l1.5 2.5h-3.0zM78.4 62.5l1.5 2.5h-3.0zM48.1 8.4l1.5 2.5h-3.0zM57.5 7.9l1.5 2.5h-3.0zM95.5 98.2l1.5 2.5h-3.0zM73.6 85.3l1.5 2.5h-3.0zM63.9 48.7l1.5 2.5h-3.0zM44.4 13.9l1.5 2.5h-3.0zM49.6 11.2l1.5 2.5h-3.0zM100.4 38.1l1.5 2.5h-3.0zM71.0 12.0l1.5 2.5h-3.0zM39.7 11.1l1.5 2.5h-3.0zM61.2 24.1l1.5 2.5h-3.0zM105.5 15.7l1.5 2.5h-3.0zM111.8 21.9l1.5 2.5h-3.0zM87.8 22.0l1.5 2.5h-3.0zM97.5 84.7l1.5 2.5h-3.0zM69.0 88.7l1.5 2.5h-3.0zM102.2 15.9l1.5 2.5h-3.0zM47.2 24.6l1.5 2.5h-3.0zM44.4 100.4l1.5 2.5h-3.0zM96.6 126.3l1.5 2.5h-3.0zM102.3 229.4l1.5 2.5h-3.0zM65.1 44.8l1.5 2.5h-3.0zM97.7 21.4l1.5 2.5h-3.0zM62.2 45.7l1.5 2.5h-3.0zM117.1 51.7l1.5 2.5h-3.0zM109.3 33.0l1.5 2.5h-3.0zM90.0 32.5l1.5 2.5h-3.0zM83.6 57.5l1.5 2.5h-3.0zM104.0 2.5l1.5 2.5h-3.0zM51.7 17.8l1.5 2.5h-3.0zM123.2 164.8l1.5 2.5h-3.0zM75.7 11.4l1.5 2.5h-3.0zM56.5 32.6l1.5 2.5h-3.0zM54.2 67.1l1.5 2.5h-3.0zM131.4 168.3l1.5 2.5h-3.0zM69.4 236.9l1.5 2.5h-3.0zM75.7 31.3l1.5 2.5h-3.0zM69.7 31.3l1.5 2.5h-3.0zM48.6 15.5l1.5 2.5h-3.0zM89.7 19.3l1.5 2.5h-3.0zM112.1 52.1l1.5 2.5h-3.0zM44.4 50.2l1.5 2.5h-3.0zM52.8 29.2l1.5 2.5h-3.0zM44.3 25.5l1.5 2.5h-3.0zM111.1 3.0l1.5 2.5h-3.0zM81.1 28.7l1.5 2.5h-3.0zM120.3 16.5l1.5 2.5h-3.0zM103.3 3.3l1.5 2.5h-3.0zM75.4 32.7l1.5 2.5h-3.0zM79.3 11.8l1.5 2.5h-3.0zM90.1 19.5l1.5 2.5h-3.0zM74.3 204.5l1.5 2.5h-3.0zM74.1 42.3l1.5 2.5h-3.0zM109.0 4.6l1.5 2.5h-3.0zM48.0 5.2l1.5 2.5h-3.0zM74.8 27.1l1.5 2.5h-3.0zM126.6 77.8l1.5 2.5h-3.0zM104.3 254.6l1.5 2.5h-3.0zM97.7 10.1l1.5 2.5h-3.0zM49.3 9.8l1.5 2.5h-3.0zM45.2 55.5l1.5 2.5h-3.0zM67.1 17.2l1.5 2.5h-3.0zM58.4 21.4l1.5 2.5h-3.0zM65.3 136.5l1.5 2.5h-3.0zM108.6 5.3l1.5 2.5h-3.0zM96.8 18.5l1.5 2.5h-3.0zM52.4 20.1l1.5 2.5h-3.0zM87.8 83.3l1.5 2.5h-3.0zM108.3 21.3l1.5 2.5h-3.0zM113.0 13.6l1.5 2.5h-3.0zM48.4 16.0l1.5 2.5h-3.0zM112.7 16.7l1.5 2.5h-3.0zM109.0 13.0l1.5 2.5h-3.0zM55.7 45.3l1.5 2.5h-3.0zM67.9 143.3l1.5 2.5h-3.0zM81.0 30.4l1.5 2.5h-3.0zM71.9 130.6l1.5 2.5h-3.0zM50.7 29.0l1.5 2.5h-3.0zM74.1 35.0l1.5 2.5h-3.0zM108.0 3.7l1.5 2.5h-3.0zM81.4 50.2l1.5 2.5h-3.0zM118.8 74.3l1.5 2.5h-3.0zM99.6 30.2l1.5 2.5h-3.0zM55.2 24.9l1.5 2.5h-3.0zM45.8 201.1l1.5 2.5h-3.0zM50.2 15.0l1.5 2.5h-3.0zM108.5 130.0l1.5 2.5h-3.0zM132.6 2.7l1.5 2.5h-3.0zM74.1 8.1l1.5 2.5h-3.0zM47.6 87.3l1.5 2.5h-3.0zM126.5 147.8l1.5 2.5h-3.0zM62.5 16.3l1.5 2.5h-3.0zM39.2 24.2l1.5 2.5h-3.0zM66.1 34.4l1.5 2.5h-3.0zM72.6 198.3l1.5 2.5h-3.0zM89.9 221.2l1.5 2.5h-3.0zM55.6 25.1l1.5 2.5h-3.0zM68.6 14.0l1.5 2.5h-3.0zM53.1 131.6l1.5 2.5h-3.0zM71.0 154.2l1.5 2.5h-3.0zM78.2 41.1l1.5 2.5h-3.0zM93.1 15.9l1.5 2.5h-3.0zM101.3 11.2l1.5 2.5h-3.0zM53.2 18.8l1.5 2.5h-3.0zM111.7 24.1l1.5 2.5h-3.0zM91.1 16.1l1.5 2.5h-3.0zM91.0 27.3l1.5 2.5h-3.0zM129.1 24.2l1.5 2.5h-3.0zM134.4 75.6l1.5 2.5h-3.0zM74.1 69.8l1.5 2.5h-3.0zM52.0 127.2l1.5 2.5h-3.0zM109.7 13.0l1.5 2.5h-3.0zM66.8 32.5l1.5 2.5h-3.0zM117.1 78.8l1.5 2.5h-3.0zM72.7 70.0l1.5 2.5h-3.0zM100.2 37.5l1.5 2.5h-3.0zM97.8 18.4l1.5 2.5h-3.0zM54.8 14.5l1.5 2.5h-3.0zM60.9 7.6l1.5 2.5h-3.0zM61.2 27.1l1.5 2.5h-3.0zM142.8 117.4l1.5 2.5h-3.0zM64.4 9.8l1.5 2.5h-3.0zM117.4 64.3l1.5 2.5h-3.0zM73.8 247.4l1.5 2.5h-3.0zM92.4 145.0l1.5 2.5h-3.0zM67.3 15.6l1.5 2.5h-3.0zM105.9 29.6l1.5 2.5h-3.0zM134.9 28.2l1.5 2.5h-3.0zM53.5 6.9l1.5 2.5h-3.0zM107.4 239.8l1.5 2.5h-3.0zM45.1 106.8l1.5 2.5h-3.0zM49.2 21.7l1.5 2.5h-3.0zM120.5 175.1l1.5 2.5h-3.0zM127.3 16.0l1.5 2.5h-3.0zM74.3 21.4l1.5 2.5h-3.0zM110.4 27.4l1.5 2.5h-3.0zM94.4 29.7l1.5 2.5h-3.0zM42.4 11.0l1.5 2.5h-3.0zM97.7 62.1l1.5 2.5h-3.0zM126.1 131.9l1.5 2.5h-3.0zM64.0 10.0l1.5 2.5h-3.0zM78.4 105.3l1.5 2.5h-3.0zM117.7 107.9l1.5 2.5h-3.0zM102.0 25.4l1.5 2.5h-3.0zM40.7 19.7l1.5 2.5h-3.0zM50.6 4.3l1.5 2.5h-3.0zM164.5 45.9l1.5 2.5h-3.0zM106.4 9.5l1.5 2.5h-3.0zM113.9 43.1l1.5 2.5h-3.0zM60.9 31.0l1.5 2.5h-3.0zM84.2 183.3l1.5 2.5h-3.0zM150.0 34.8l1.5 2.5h-3.0zM101.9 3.4l1.5 2.5h-3.0zM77.7 9.5l1.5 2.5h-3.0zM101.1 154.9l1.5 2.5h-3.0zM61.2 74.5l1.5 2.5h-3.0zM98.0 45.8l1.5 2.5h-3.0zM51.1 19.4l1.5 2.5h-3.0zM89.5 13.8l1.5 2.5h-3.0zM50.1 23.3l1.5 2.5h-3.0zM87.3 49.9l1.5 2.5h-3.0zM75.9 61.1l1.5 2.5h-3.0zM115.7 26.1l1.5 2.5h-3.0zM68.1 74.7l1.5 2.5h-3.0zM97.7 18.3l1.5 2.5h-3.0zM82.1 21.1l1.5 2.5h-3.0zM79.5 19.0l1.5 2.5h-3.0zM157.2 119.5l1.5 2.5h-3.0zM100.5 205.1l1.5 2.5h-3.0zM98.2 39.2l1.5 2.5h-3.0zM70.8 54.5l1.5 2.5h-3.0zM86.7 42.2l1.5 2.5h-3.0zM52.7 6.8l1.5 2.5h-3.0zM44.1 4.8l1.5 2.5h-3.0zM100.9 21.9l1.5 2.5h-3.0zM69.1 201.1l1.5 2.5h-3.0zM52.2 6.4l1.5 2.5h-3.0zM72.9 233.8l1.5 2.5h-3.0zM47.5 58.7l1.5 2.5h-3.0zM113.2 80.0l1.5 2.5h-3.0zM82.5 10.4l1.5 2.5h-3.0zM114.3 6.2l1.5 2.5h-3.0zM100.2 42.9l1.5 2.5h-3.0zM86.0 62.9l1.5 2.5h-3.0zM89.4 11.2l1.5 2.5h-3.0zM65.2 22.2l1.5 2.5h-3.0zM105.9 20.5l1.5 2.5h-3.0zM67.2 153.2l1.5 2.5h-3.0zM143.7 27.3l1.5 2.5h-3.0zM109.5 128.0l1.5 2.5h-3.0zM106.9 20.1l1.5 2.5h-3.0zM62.2 32.2l1.5 2.5h-3.0zM105.8 27.0l1.5 2.5h-3.0zM105.6 2.6l1.5 2.5h-3.0zM86.5 25.8l1.5 2.5h-3.0zM92.7 72.6l1.5 2.5h-3.0zM55.0 77.0l1.5 2.5h-3.0zM139.7 130.7l1.5 2.5h-3.0zM45.8 6.1l1.5 2.5h-3.0zM111.2 221.3l1.5 2.5h-3.0zM61.7 134.3l1.5 2.5h-3.0zM42.1 154.6l1.5 2.5h-3.0zM124.1 26.1l1.5 2.5h-3.0zM77.8 27.4l1.5 2.5h-3.0zM83.1 90.5l1.5 2.5h-3.0zM148.9 173.1l1.5 2.5h-3.0zM56.0 3.4l1.5 2.5h-3.0zM45.3 22.3l1.5 2.5h-3.0zM39.3 91.4l1.5 2.5h-3.0zM63.1 165.0l1.5 2.5h-3.0zM54.4 35.2l1.5 2.5h-3.0zM74.5 35.9l1.5 2.5h-3.0zM110.0 20.0l1.5 2.5h-3.0zM49.9 24.9l1.5 2.5h-3.0zM54.4 155.6l1.5 2.5h-3.0zM49.3 234.6l1.5 2.5h-3.0zM74.4 7.9l1.5 2.5h-3.0zM91.9 91.8l1.5 2.5h-3.0zM122.7 8.5l1.5 2.5h-3.0zM100.4 15.6l1.5 2.5h-3.0zM114.1 30.4l1.5 2.5h-3.0zM92.0 130.2l1.5 2.5h-3.0zM69.8 18.4l1.5 2.5h-3.0zM76.2 49.1l1.5 2.5h-3.0zM57.0 20.4l1.5 2.5h-3.0zM41.8 73.8l1.5 2.5h-3.0zM73.8 3.8l1.5 2.5h-3.0zM55.2 14.2l1.5 2.5h-3.0zM58.9 23.3l1.5 2.5h-3.0zM75.8 31.0l1.5 2.5h-3.0zM79.4 27.6l1.5 2.5h-3.0zM99.9 69.5l1.5 2.5h-3.0zM94.1 88.6l1.5 2.5h-3.0zM53.7 7.1l1.5 2.5h-3.0zM47.8 40.1l1.5 2.5h-3.0zM70.4 5.3l1.5 2.5h-3.0zM73.9 14.0l1.5 2.5h-3.0zM131.6 23.4l1.5 2.5h-3.0zM80.5 27.4l1.5 2.5h-3.0zM78.7 100.9l1.5 2.5h-3.0zM112.4 240.6l1.5 2.5h-3.0zM47.4 30.4l1.5 2.5h-3.0zM74.6 29.4l1.5 2.5h-3.0zM95.6 7.2l1.5 2.5h-3.0zM124.8 21.2l1.5 2.5h-3.0zM98.7 124.0l1.5 2.5h-3.0zM63.5 26.3l1.5 2.5h-3.0zM40.1 209.8l1.5 2.5h-3.0zM113.3 17.3l1.5 2.5h-3.0zM102.9 40.0l1.5 2.5h-3.0zM50.9 6.7l1.5 2.5h-3.0zM127.1 17.0l1.5 2.5h-3.0zM77.9 62.4l1.5 2.5h-3.0zM62.4 21.8l1.5 2.5h-3.0zM72.9 7.6l1.5 2.5h-3.0zM110.1 237.5l1.5 2.5h-3.0zM54.0 14.3l1.5 2.5h-3.0zM86.0 9.0l1.5 2.5h-3.0zM69.5 16.5l1.5 2.5h-3.0zM73.4 13.9l1.5 2.5h-3.0zM86.9 46.1l1.5 2.5h-3.0zM104.6 187.9l1.5 2.5h-3.0zM84.2 84.1l1.5 2.5h-3.0zM63.1 6.7l1.5 2.5h-3.0zM122.3 91.8l1.5 2.5h-3.0zM73.3 12.1l1.5 2.5h-3.0zM86.6 188.6l1.5 2.5h-3.0zM99.6 175.5l1.5 2.5h-3.0zM50.7 51.6l1.5 2.5h-3.0zM86.4 28.3l1.5 2.5h-3.0zM114.2 194.6l1.5 2.5h-3.0zM82.0 157.2l1.5 2.5h-3.0zM53.4 62.2l1.5 2.5h-3.0zM101.6 21.3l1.5 2.5h-3.0z"/>
<path stroke="#e0962e" stroke-width="0.6" opacity="0.62" d="M49.2 200.4l1.5 2.5h-3.0zM61.8 8.5l1.5 2.5h-3.0zM81.7 19.6l1.5 2.5h-3.0zM134.5 13.9l1.5 2.5h-3.0zM53.3 29.5l1.5 2.5h-3.0zM48.9 21.1l1.5 2.5h-3.0zM92.4 45.1l1.5 2.5h-3.0zM115.1 54.9l1.5 2.5h-3.0zM69.7 57.7l1.5 2.5h-3.0zM85.3 45.6l1.5 2.5h-3.0zM59.4 18.6l1.5 2.5h-3.0zM51.3 5.2l1.5 2.5h-3.0zM66.2 75.4l1.5 2.5h-3.0zM50.6 141.7l1.5 2.5h-3.0zM39.4 175.8l1.5 2.5h-3.0zM83.3 6.5l1.5 2.5h-3.0zM90.3 161.1l1.5 2.5h-3.0zM51.8 5.9l1.5 2.5h-3.0zM93.4 250.4l1.5 2.5h-3.0zM64.8 24.3l1.5 2.5h-3.0zM112.1 118.6l1.5 2.5h-3.0zM171.8 80.0l1.5 2.5h-3.0zM81.1 28.6l1.5 2.5h-3.0zM84.4 30.6l1.5 2.5h-3.0zM79.7 37.6l1.5 2.5h-3.0zM52.7 165.7l1.5 2.5h-3.0zM59.6 50.0l1.5 2.5h-3.0zM39.8 24.6l1.5 2.5h-3.0zM91.8 24.2l1.5 2.5h-3.0zM93.8 11.2l1.5 2.5h-3.0zM111.8 187.0l1.5 2.5h-3.0zM50.2 28.7l1.5 2.5h-3.0zM134.7 2.7l1.5 2.5h-3.0zM55.0 27.7l1.5 2.5h-3.0zM66.4 236.4l1.5 2.5h-3.0zM57.3 89.0l1.5 2.5h-3.0zM135.6 89.0l1.5 2.5h-3.0zM80.2 251.7l1.5 2.5h-3.0zM137.2 24.9l1.5 2.5h-3.0zM82.7 40.8l1.5 2.5h-3.0zM49.4 37.6l1.5 2.5h-3.0zM45.7 142.6l1.5 2.5h-3.0zM90.6 34.2l1.5 2.5h-3.0zM69.3 7.4l1.5 2.5h-3.0zM152.0 67.5l1.5 2.5h-3.0zM88.6 14.3l1.5 2.5h-3.0zM41.0 17.8l1.5 2.5h-3.0zM92.5 24.6l1.5 2.5h-3.0zM73.8 84.1l1.5 2.5h-3.0zM66.1 20.3l1.5 2.5h-3.0zM91.4 58.0l1.5 2.5h-3.0zM117.7 13.0l1.5 2.5h-3.0zM74.3 163.2l1.5 2.5h-3.0zM80.3 179.6l1.5 2.5h-3.0zM119.8 205.5l1.5 2.5h-3.0zM63.4 6.7l1.5 2.5h-3.0zM48.6 26.5l1.5 2.5h-3.0zM97.3 60.6l1.5 2.5h-3.0zM53.9 20.1l1.5 2.5h-3.0zM44.0 206.2l1.5 2.5h-3.0zM60.5 40.0l1.5 2.5h-3.0zM50.6 29.2l1.5 2.5h-3.0zM108.5 11.6l1.5 2.5h-3.0zM70.1 31.5l1.5 2.5h-3.0zM82.1 8.1l1.5 2.5h-3.0zM73.2 22.2l1.5 2.5h-3.0zM84.2 4.6l1.5 2.5h-3.0zM113.5 40.7l1.5 2.5h-3.0zM113.3 69.6l1.5 2.5h-3.0zM98.9 29.4l1.5 2.5h-3.0zM90.4 51.1l1.5 2.5h-3.0zM114.2 18.7l1.5 2.5h-3.0zM71.6 15.5l1.5 2.5h-3.0zM95.1 8.2l1.5 2.5h-3.0zM106.2 224.5l1.5 2.5h-3.0zM90.1 110.9l1.5 2.5h-3.0zM143.6 58.8l1.5 2.5h-3.0zM115.5 127.6l1.5 2.5h-3.0zM73.4 30.3l1.5 2.5h-3.0zM54.3 29.7l1.5 2.5h-3.0zM53.9 85.6l1.5 2.5h-3.0zM87.1 93.7l1.5 2.5h-3.0zM45.6 15.9l1.5 2.5h-3.0zM81.3 20.8l1.5 2.5h-3.0zM58.6 188.9l1.5 2.5h-3.0zM120.6 7.8l1.5 2.5h-3.0zM64.5 74.6l1.5 2.5h-3.0zM50.1 87.6l1.5 2.5h-3.0zM66.2 20.1l1.5 2.5h-3.0zM98.8 17.6l1.5 2.5h-3.0zM47.7 24.9l1.5 2.5h-3.0zM79.2 42.6l1.5 2.5h-3.0zM126.4 55.0l1.5 2.5h-3.0zM62.7 111.1l1.5 2.5h-3.0zM50.6 4.4l1.5 2.5h-3.0zM79.0 38.5l1.5 2.5h-3.0zM75.0 87.0l1.5 2.5h-3.0zM60.2 4.6l1.5 2.5h-3.0zM47.1 7.4l1.5 2.5h-3.0zM52.7 8.0l1.5 2.5h-3.0zM134.5 152.1l1.5 2.5h-3.0zM51.3 29.6l1.5 2.5h-3.0zM57.3 17.0l1.5 2.5h-3.0zM126.2 25.2l1.5 2.5h-3.0zM72.5 24.1l1.5 2.5h-3.0zM58.3 16.8l1.5 2.5h-3.0zM119.0 21.6l1.5 2.5h-3.0zM70.9 252.2l1.5 2.5h-3.0zM62.0 15.9l1.5 2.5h-3.0zM41.9 123.3l1.5 2.5h-3.0zM68.9 16.7l1.5 2.5h-3.0zM103.8 37.4l1.5 2.5h-3.0zM62.7 13.0l1.5 2.5h-3.0zM122.7 12.5l1.5 2.5h-3.0zM58.8 10.8l1.5 2.5h-3.0zM81.4 109.1l1.5 2.5h-3.0zM67.3 27.9l1.5 2.5h-3.0zM43.3 113.5l1.5 2.5h-3.0zM40.0 64.9l1.5 2.5h-3.0zM58.6 16.5l1.5 2.5h-3.0zM114.9 111.6l1.5 2.5h-3.0zM102.6 114.0l1.5 2.5h-3.0zM108.5 12.0l1.5 2.5h-3.0zM59.6 218.9l1.5 2.5h-3.0zM109.7 99.4l1.5 2.5h-3.0zM94.4 46.2l1.5 2.5h-3.0zM138.7 154.1l1.5 2.5h-3.0zM117.8 44.3l1.5 2.5h-3.0zM110.5 9.6l1.5 2.5h-3.0zM148.3 15.6l1.5 2.5h-3.0zM79.0 32.4l1.5 2.5h-3.0zM54.5 69.9l1.5 2.5h-3.0zM126.8 144.8l1.5 2.5h-3.0zM92.2 38.6l1.5 2.5h-3.0zM75.2 19.1l1.5 2.5h-3.0zM55.7 131.5l1.5 2.5h-3.0zM102.4 2.6l1.5 2.5h-3.0zM97.4 30.7l1.5 2.5h-3.0zM58.8 34.8l1.5 2.5h-3.0zM79.7 12.4l1.5 2.5h-3.0zM102.3 25.8l1.5 2.5h-3.0zM67.9 33.4l1.5 2.5h-3.0zM111.6 13.6l1.5 2.5h-3.0zM66.5 2.5l1.5 2.5h-3.0zM40.1 30.0l1.5 2.5h-3.0zM61.5 170.0l1.5 2.5h-3.0zM48.8 19.9l1.5 2.5h-3.0zM47.6 27.2l1.5 2.5h-3.0zM131.4 100.1l1.5 2.5h-3.0zM89.7 16.1l1.5 2.5h-3.0zM86.5 120.6l1.5 2.5h-3.0zM120.2 115.0l1.5 2.5h-3.0zM60.2 28.6l1.5 2.5h-3.0zM58.9 21.3l1.5 2.5h-3.0zM65.6 29.8l1.5 2.5h-3.0zM85.3 27.0l1.5 2.5h-3.0zM85.0 44.4l1.5 2.5h-3.0zM115.3 28.9l1.5 2.5h-3.0zM145.9 85.5l1.5 2.5h-3.0zM46.2 24.7l1.5 2.5h-3.0zM105.4 7.3l1.5 2.5h-3.0zM117.3 85.7l1.5 2.5h-3.0zM72.2 95.3l1.5 2.5h-3.0zM64.2 62.4l1.5 2.5h-3.0zM53.7 91.9l1.5 2.5h-3.0zM104.7 8.7l1.5 2.5h-3.0zM65.8 24.2l1.5 2.5h-3.0zM61.6 175.8l1.5 2.5h-3.0zM45.3 204.4l1.5 2.5h-3.0zM39.2 13.2l1.5 2.5h-3.0zM57.9 90.4l1.5 2.5h-3.0zM111.7 70.7l1.5 2.5h-3.0zM73.8 30.6l1.5 2.5h-3.0zM117.9 7.6l1.5 2.5h-3.0zM148.4 91.6l1.5 2.5h-3.0zM71.5 86.7l1.5 2.5h-3.0zM83.3 134.1l1.5 2.5h-3.0zM79.3 112.0l1.5 2.5h-3.0zM82.8 240.9l1.5 2.5h-3.0zM60.4 25.7l1.5 2.5h-3.0zM136.9 58.9l1.5 2.5h-3.0zM52.2 33.6l1.5 2.5h-3.0zM47.0 25.1l1.5 2.5h-3.0zM96.3 7.8l1.5 2.5h-3.0zM127.4 37.3l1.5 2.5h-3.0zM75.0 135.1l1.5 2.5h-3.0zM144.5 78.5l1.5 2.5h-3.0zM84.9 210.9l1.5 2.5h-3.0zM143.6 61.8l1.5 2.5h-3.0zM112.3 13.7l1.5 2.5h-3.0zM77.5 17.4l1.5 2.5h-3.0zM67.8 62.3l1.5 2.5h-3.0zM93.0 114.2l1.5 2.5h-3.0zM109.3 150.8l1.5 2.5h-3.0zM102.8 25.7l1.5 2.5h-3.0zM107.7 28.1l1.5 2.5h-3.0zM72.0 73.1l1.5 2.5h-3.0zM77.9 38.3l1.5 2.5h-3.0zM81.5 17.8l1.5 2.5h-3.0zM75.1 82.1l1.5 2.5h-3.0zM146.9 179.6l1.5 2.5h-3.0zM112.3 58.6l1.5 2.5h-3.0zM178.6 77.8l1.5 2.5h-3.0zM114.0 172.2l1.5 2.5h-3.0zM53.2 25.7l1.5 2.5h-3.0zM54.7 35.9l1.5 2.5h-3.0zM65.6 2.7l1.5 2.5h-3.0zM51.6 45.8l1.5 2.5h-3.0zM53.8 125.6l1.5 2.5h-3.0zM100.0 16.7l1.5 2.5h-3.0zM52.3 10.0l1.5 2.5h-3.0zM74.6 19.6l1.5 2.5h-3.0zM59.4 53.9l1.5 2.5h-3.0zM40.4 42.4l1.5 2.5h-3.0zM66.7 41.9l1.5 2.5h-3.0zM48.3 239.3l1.5 2.5h-3.0zM77.5 56.1l1.5 2.5h-3.0zM113.3 142.2l1.5 2.5h-3.0zM109.2 169.9l1.5 2.5h-3.0zM158.1 27.7l1.5 2.5h-3.0zM87.3 13.0l1.5 2.5h-3.0zM68.1 65.5l1.5 2.5h-3.0zM52.5 11.0l1.5 2.5h-3.0zM90.3 172.9l1.5 2.5h-3.0zM74.5 14.3l1.5 2.5h-3.0zM154.5 139.5l1.5 2.5h-3.0zM58.2 93.6l1.5 2.5h-3.0zM79.4 11.7l1.5 2.5h-3.0zM82.0 71.2l1.5 2.5h-3.0zM108.7 2.5l1.5 2.5h-3.0zM97.4 21.1l1.5 2.5h-3.0zM56.0 27.1l1.5 2.5h-3.0zM100.8 16.5l1.5 2.5h-3.0zM187.3 21.0l1.5 2.5h-3.0zM56.9 85.6l1.5 2.5h-3.0zM115.0 28.4l1.5 2.5h-3.0zM83.4 23.5l1.5 2.5h-3.0zM92.4 124.9l1.5 2.5h-3.0zM99.0 201.3l1.5 2.5h-3.0zM61.1 107.4l1.5 2.5h-3.0zM98.6 6.5l1.5 2.5h-3.0zM106.6 151.7l1.5 2.5h-3.0zM49.8 229.5l1.5 2.5h-3.0zM66.7 73.4l1.5 2.5h-3.0zM77.5 9.2l1.5 2.5h-3.0zM131.2 187.1l1.5 2.5h-3.0zM55.7 12.0l1.5 2.5h-3.0zM65.4 26.8l1.5 2.5h-3.0zM123.1 62.2l1.5 2.5h-3.0zM79.7 20.9l1.5 2.5h-3.0zM82.8 53.4l1.5 2.5h-3.0zM65.0 26.5l1.5 2.5h-3.0zM48.7 130.1l1.5 2.5h-3.0zM85.7 13.5l1.5 2.5h-3.0zM114.8 56.9l1.5 2.5h-3.0zM104.5 244.3l1.5 2.5h-3.0zM102.3 69.8l1.5 2.5h-3.0zM136.8 25.8l1.5 2.5h-3.0zM88.8 45.0l1.5 2.5h-3.0zM175.7 112.9l1.5 2.5h-3.0zM104.6 25.4l1.5 2.5h-3.0zM95.1 48.1l1.5 2.5h-3.0zM83.2 95.8l1.5 2.5h-3.0zM106.7 75.3l1.5 2.5h-3.0zM181.3 10.4l1.5 2.5h-3.0zM55.8 123.2l1.5 2.5h-3.0zM103.7 17.2l1.5 2.5h-3.0zM128.5 6.1l1.5 2.5h-3.0zM97.6 28.8l1.5 2.5h-3.0zM122.1 9.3l1.5 2.5h-3.0zM110.2 20.0l1.5 2.5h-3.0zM66.1 48.7l1.5 2.5h-3.0zM89.6 13.9l1.5 2.5h-3.0zM81.1 56.4l1.5 2.5h-3.0zM57.1 58.8l1.5 2.5h-3.0zM134.7 27.5l1.5 2.5h-3.0zM105.8 52.3l1.5 2.5h-3.0zM103.9 79.4l1.5 2.5h-3.0zM89.9 22.4l1.5 2.5h-3.0zM144.6 113.9l1.5 2.5h-3.0zM106.8 130.7l1.5 2.5h-3.0zM105.9 149.0l1.5 2.5h-3.0zM68.6 99.9l1.5 2.5h-3.0zM74.4 247.7l1.5 2.5h-3.0zM57.5 19.1l1.5 2.5h-3.0zM117.9 29.5l1.5 2.5h-3.0zM89.4 50.7l1.5 2.5h-3.0zM45.6 204.4l1.5 2.5h-3.0zM58.6 22.2l1.5 2.5h-3.0zM72.9 7.5l1.5 2.5h-3.0zM85.9 9.2l1.5 2.5h-3.0zM99.2 20.1l1.5 2.5h-3.0zM58.0 22.3l1.5 2.5h-3.0zM86.5 4.6l1.5 2.5h-3.0zM73.9 181.0l1.5 2.5h-3.0zM129.3 7.5l1.5 2.5h-3.0zM65.2 132.8l1.5 2.5h-3.0zM47.0 24.3l1.5 2.5h-3.0zM76.9 94.3l1.5 2.5h-3.0zM87.5 35.0l1.5 2.5h-3.0zM72.0 18.5l1.5 2.5h-3.0zM105.0 34.6l1.5 2.5h-3.0zM47.4 140.3l1.5 2.5h-3.0zM42.8 102.2l1.5 2.5h-3.0zM91.2 253.9l1.5 2.5h-3.0zM88.2 17.7l1.5 2.5h-3.0zM77.6 53.7l1.5 2.5h-3.0zM75.2 203.9l1.5 2.5h-3.0zM86.5 54.0l1.5 2.5h-3.0zM134.2 37.6l1.5 2.5h-3.0zM143.6 194.3l1.5 2.5h-3.0zM70.3 154.0l1.5 2.5h-3.0zM53.2 206.6l1.5 2.5h-3.0zM50.6 75.4l1.5 2.5h-3.0zM72.6 236.6l1.5 2.5h-3.0zM79.1 13.8l1.5 2.5h-3.0zM145.7 6.7l1.5 2.5h-3.0zM61.5 27.1l1.5 2.5h-3.0zM88.1 149.5l1.5 2.5h-3.0zM109.4 23.9l1.5 2.5h-3.0zM88.8 23.2l1.5 2.5h-3.0zM54.3 34.3l1.5 2.5h-3.0zM55.8 44.2l1.5 2.5h-3.0zM46.8 17.4l1.5 2.5h-3.0zM104.8 12.1l1.5 2.5h-3.0zM92.7 29.5l1.5 2.5h-3.0zM121.2 37.0l1.5 2.5h-3.0zM45.7 35.1l1.5 2.5h-3.0zM82.2 16.7l1.5 2.5h-3.0zM131.4 105.3l1.5 2.5h-3.0zM40.0 24.4l1.5 2.5h-3.0zM65.8 16.2l1.5 2.5h-3.0zM60.6 26.8l1.5 2.5h-3.0zM67.9 14.9l1.5 2.5h-3.0zM56.6 215.4l1.5 2.5h-3.0zM83.5 42.4l1.5 2.5h-3.0zM96.1 61.3l1.5 2.5h-3.0zM49.3 9.7l1.5 2.5h-3.0zM89.2 64.9l1.5 2.5h-3.0zM97.1 12.0l1.5 2.5h-3.0zM94.1 13.2l1.5 2.5h-3.0zM73.3 122.6l1.5 2.5h-3.0zM138.6 79.4l1.5 2.5h-3.0zM60.9 5.0l1.5 2.5h-3.0zM90.1 53.0l1.5 2.5h-3.0zM114.5 10.3l1.5 2.5h-3.0zM108.7 65.8l1.5 2.5h-3.0zM58.5 51.8l1.5 2.5h-3.0zM68.2 17.4l1.5 2.5h-3.0zM68.0 6.4l1.5 2.5h-3.0zM77.3 113.6l1.5 2.5h-3.0zM82.6 49.2l1.5 2.5h-3.0zM44.8 39.7l1.5 2.5h-3.0zM40.5 241.7l1.5 2.5h-3.0zM53.0 156.5l1.5 2.5h-3.0zM83.5 108.0l1.5 2.5h-3.0zM78.2 3.0l1.5 2.5h-3.0zM53.8 10.4l1.5 2.5h-3.0zM127.8 2.5l1.5 2.5h-3.0zM105.0 44.8l1.5 2.5h-3.0zM66.9 27.0l1.5 2.5h-3.0zM96.4 17.9l1.5 2.5h-3.0zM54.7 22.5l1.5 2.5h-3.0zM86.7 13.0l1.5 2.5h-3.0zM45.9 8.1l1.5 2.5h-3.0zM106.0 16.0l1.5 2.5h-3.0zM117.8 78.4l1.5 2.5h-3.0zM93.5 20.5l1.5 2.5h-3.0zM46.1 61.0l1.5 2.5h-3.0zM147.3 25.0l1.5 2.5h-3.0zM91.9 51.1l1.5 2.5h-3.0zM73.2 85.1l1.5 2.5h-3.0zM68.1 177.8l1.5 2.5h-3.0zM72.4 13.4l1.5 2.5h-3.0zM39.2 161.5l1.5 2.5h-3.0zM74.5 41.9l1.5 2.5h-3.0zM108.9 47.9l1.5 2.5h-3.0zM44.2 8.8l1.5 2.5h-3.0zM48.0 172.7l1.5 2.5h-3.0zM111.2 18.8l1.5 2.5h-3.0zM109.0 22.1l1.5 2.5h-3.0zM41.6 160.6l1.5 2.5h-3.0zM52.9 47.0l1.5 2.5h-3.0zM85.0 41.9l1.5 2.5h-3.0zM75.2 21.3l1.5 2.5h-3.0zM100.7 42.2l1.5 2.5h-3.0zM74.9 185.5l1.5 2.5h-3.0zM90.5 74.3l1.5 2.5h-3.0zM42.1 11.0l1.5 2.5h-3.0zM51.4 26.0l1.5 2.5h-3.0zM53.2 16.8l1.5 2.5h-3.0zM85.6 8.8l1.5 2.5h-3.0zM97.6 17.7l1.5 2.5h-3.0zM103.6 54.3l1.5 2.5h-3.0zM112.1 19.8l1.5 2.5h-3.0zM111.9 13.8l1.5 2.5h-3.0zM52.9 10.8l1.5 2.5h-3.0zM98.3 4.5l1.5 2.5h-3.0zM123.8 30.7l1.5 2.5h-3.0zM47.9 177.0l1.5 2.5h-3.0zM60.0 54.7l1.5 2.5h-3.0zM96.7 13.6l1.5 2.5h-3.0zM70.2 125.1l1.5 2.5h-3.0zM120.8 49.2l1.5 2.5h-3.0zM82.9 14.2l1.5 2.5h-3.0zM49.4 37.3l1.5 2.5h-3.0zM57.8 73.6l1.5 2.5h-3.0zM57.4 3.8l1.5 2.5h-3.0zM61.1 189.6l1.5 2.5h-3.0zM114.9 15.6l1.5 2.5h-3.0zM80.9 38.4l1.5 2.5h-3.0zM124.0 4.4l1.5 2.5h-3.0zM73.0 152.8l1.5 2.5h-3.0zM52.1 10.0l1.5 2.5h-3.0zM110.1 17.5l1.5 2.5h-3.0zM166.4 88.0l1.5 2.5h-3.0zM51.7 6.1l1.5 2.5h-3.0zM43.3 19.6l1.5 2.5h-3.0zM96.4 62.8l1.5 2.5h-3.0zM79.3 37.4l1.5 2.5h-3.0zM59.4 5.0l1.5 2.5h-3.0zM50.8 10.8l1.5 2.5h-3.0zM124.5 38.7l1.5 2.5h-3.0zM69.3 111.6l1.5 2.5h-3.0zM109.7 93.3l1.5 2.5h-3.0zM64.3 12.4l1.5 2.5h-3.0zM76.2 37.3l1.5 2.5h-3.0zM85.2 43.1l1.5 2.5h-3.0zM91.1 43.7l1.5 2.5h-3.0zM69.6 42.8l1.5 2.5h-3.0zM101.3 162.3l1.5 2.5h-3.0zM47.9 67.1l1.5 2.5h-3.0zM63.7 6.9l1.5 2.5h-3.0zM197.8 71.2l1.5 2.5h-3.0zM95.8 25.4l1.5 2.5h-3.0zM45.8 177.9l1.5 2.5h-3.0zM102.6 47.7l1.5 2.5h-3.0zM40.9 35.5l1.5 2.5h-3.0zM97.1 18.7l1.5 2.5h-3.0zM103.4 4.2l1.5 2.5h-3.0zM64.6 132.7l1.5 2.5h-3.0zM72.0 158.0l1.5 2.5h-3.0zM47.6 47.3l1.5 2.5h-3.0zM49.2 14.7l1.5 2.5h-3.0zM58.3 15.6l1.5 2.5h-3.0zM112.7 4.5l1.5 2.5h-3.0zM97.7 73.3l1.5 2.5h-3.0zM68.2 12.4l1.5 2.5h-3.0zM49.4 20.9l1.5 2.5h-3.0zM59.9 6.4l1.5 2.5h-3.0zM85.3 23.0l1.5 2.5h-3.0zM71.9 128.2l1.5 2.5h-3.0zM126.6 43.9l1.5 2.5h-3.0zM51.5 24.4l1.5 2.5h-3.0zM69.6 10.1l1.5 2.5h-3.0zM68.7 87.0l1.5 2.5h-3.0zM103.2 19.2l1.5 2.5h-3.0zM104.3 198.6l1.5 2.5h-3.0zM41.6 4.7l1.5 2.5h-3.0zM45.3 19.7l1.5 2.5h-3.0zM86.4 189.1l1.5 2.5h-3.0zM40.2 58.7l1.5 2.5h-3.0zM84.1 123.1l1.5 2.5h-3.0zM86.4 36.9l1.5 2.5h-3.0zM112.3 4.5l1.5 2.5h-3.0zM87.1 30.4l1.5 2.5h-3.0zM105.7 27.2l1.5 2.5h-3.0zM62.7 160.6l1.5 2.5h-3.0zM45.9 36.9l1.5 2.5h-3.0zM56.9 34.0l1.5 2.5h-3.0zM111.6 151.6l1.5 2.5h-3.0zM110.1 18.9l1.5 2.5h-3.0zM180.6 35.9l1.5 2.5h-3.0zM103.5 36.8l1.5 2.5h-3.0zM73.1 37.5l1.5 2.5h-3.0zM107.5 23.1l1.5 2.5h-3.0zM65.7 251.6l1.5 2.5h-3.0zM64.7 9.1l1.5 2.5h-3.0zM88.5 71.1l1.5 2.5h-3.0zM87.4 115.9l1.5 2.5h-3.0zM90.7 9.5l1.5 2.5h-3.0zM40.6 77.6l1.5 2.5h-3.0zM65.0 16.0l1.5 2.5h-3.0zM44.0 12.5l1.5 2.5h-3.0zM90.5 11.9l1.5 2.5h-3.0zM78.5 10.0l1.5 2.5h-3.0zM43.5 62.8l1.5 2.5h-3.0zM63.4 22.7l1.5 2.5h-3.0zM91.0 128.1l1.5 2.5h-3.0zM123.7 9.7l1.5 2.5h-3.0zM78.6 27.5l1.5 2.5h-3.0zM86.9 173.9l1.5 2.5h-3.0zM48.8 39.7l1.5 2.5h-3.0zM83.7 130.8l1.5 2.5h-3.0zM100.6 8.1l1.5 2.5h-3.0zM87.5 89.8l1.5 2.5h-3.0zM44.6 16.6l1.5 2.5h-3.0zM105.3 6.4l1.5 2.5h-3.0zM141.6 134.5l1.5 2.5h-3.0zM53.1 46.6l1.5 2.5h-3.0zM61.8 48.7l1.5 2.5h-3.0zM73.1 24.7l1.5 2.5h-3.0zM68.7 104.6l1.5 2.5h-3.0zM135.0 161.2l1.5 2.5h-3.0zM53.3 2.5l1.5 2.5h-3.0zM93.5 12.4l1.5 2.5h-3.0zM148.4 170.6l1.5 2.5h-3.0zM66.1 135.9l1.5 2.5h-3.0zM88.1 9.9l1.5 2.5h-3.0zM82.1 126.0l1.5 2.5h-3.0zM85.7 23.5l1.5 2.5h-3.0zM115.7 64.3l1.5 2.5h-3.0zM42.3 121.6l1.5 2.5h-3.0zM73.1 19.1l1.5 2.5h-3.0zM48.1 17.1l1.5 2.5h-3.0zM118.3 4.9l1.5 2.5h-3.0zM99.9 99.1l1.5 2.5h-3.0zM102.8 4.1l1.5 2.5h-3.0zM72.2 101.6l1.5 2.5h-3.0zM59.1 52.5l1.5 2.5h-3.0zM89.8 41.9l1.5 2.5h-3.0zM114.6 5.3l1.5 2.5h-3.0zM95.8 17.0l1.5 2.5h-3.0zM116.7 27.3l1.5 2.5h-3.0zM112.1 196.4l1.5 2.5h-3.0zM40.8 16.4l1.5 2.5h-3.0zM112.1 6.4l1.5 2.5h-3.0zM65.5 63.9l1.5 2.5h-3.0zM108.8 112.4l1.5 2.5h-3.0zM149.1 204.7l1.5 2.5h-3.0zM63.5 33.3l1.5 2.5h-3.0zM57.1 7.8l1.5 2.5h-3.0zM40.8 29.7l1.5 2.5h-3.0zM125.4 20.3l1.5 2.5h-3.0zM67.8 48.0l1.5 2.5h-3.0zM71.7 26.0l1.5 2.5h-3.0zM118.7 6.7l1.5 2.5h-3.0zM127.3 210.7l1.5 2.5h-3.0zM44.4 10.3l1.5 2.5h-3.0zM109.5 12.3l1.5 2.5h-3.0zM59.6 138.5l1.5 2.5h-3.0zM43.1 5.2l1.5 2.5h-3.0zM45.7 5.8l1.5 2.5h-3.0zM58.9 19.4l1.5 2.5h-3.0zM78.3 54.7l1.5 2.5h-3.0zM51.5 32.7l1.5 2.5h-3.0zM99.9 15.4l1.5 2.5h-3.0zM148.2 131.2l1.5 2.5h-3.0zM162.7 101.9l1.5 2.5h-3.0zM74.6 14.0l1.5 2.5h-3.0zM85.5 32.4l1.5 2.5h-3.0zM53.0 59.8l1.5 2.5h-3.0zM89.9 28.9l1.5 2.5h-3.0zM99.6 29.5l1.5 2.5h-3.0zM114.9 20.1l1.5 2.5h-3.0zM127.8 181.9l1.5 2.5h-3.0zM40.0 6.9l1.5 2.5h-3.0zM110.1 6.3l1.5 2.5h-3.0zM83.6 17.0l1.5 2.5h-3.0zM135.5 148.6l1.5 2.5h-3.0zM82.0 74.4l1.5 2.5h-3.0zM51.0 19.3l1.5 2.5h-3.0zM38.6 70.8l1.5 2.5h-3.0zM139.6 80.8l1.5 2.5h-3.0zM62.2 22.2l1.5 2.5h-3.0zM148.9 55.9l1.5 2.5h-3.0zM95.8 199.5l1.5 2.5h-3.0zM53.5 8.4l1.5 2.5h-3.0zM50.7 126.9l1.5 2.5h-3.0zM73.6 23.6l1.5 2.5h-3.0zM57.1 25.7l1.5 2.5h-3.0zM61.2 185.8l1.5 2.5h-3.0zM58.3 131.0l1.5 2.5h-3.0zM95.4 97.5l1.5 2.5h-3.0zM114.5 43.9l1.5 2.5h-3.0zM153.8 48.0l1.5 2.5h-3.0zM68.5 25.4l1.5 2.5h-3.0zM45.2 79.3l1.5 2.5h-3.0zM93.6 122.9l1.5 2.5h-3.0zM69.2 104.4l1.5 2.5h-3.0zM127.2 2.8l1.5 2.5h-3.0zM99.5 146.2l1.5 2.5h-3.0zM80.9 16.7l1.5 2.5h-3.0zM80.7 140.0l1.5 2.5h-3.0zM43.2 43.0l1.5 2.5h-3.0zM42.5 217.4l1.5 2.5h-3.0zM50.4 72.2l1.5 2.5h-3.0zM68.7 134.0l1.5 2.5h-3.0zM48.4 7.0l1.5 2.5h-3.0zM58.1 16.5l1.5 2.5h-3.0zM46.0 53.2l1.5 2.5h-3.0zM100.2 137.8l1.5 2.5h-3.0zM109.1 118.6l1.5 2.5h-3.0zM130.5 15.9l1.5 2.5h-3.0zM50.3 128.4l1.5 2.5h-3.0zM59.9 106.4l1.5 2.5h-3.0zM90.6 23.9l1.5 2.5h-3.0zM47.1 103.4l1.5 2.5h-3.0zM57.4 9.4l1.5 2.5h-3.0zM74.1 18.9l1.5 2.5h-3.0zM93.2 16.9l1.5 2.5h-3.0zM47.1 5.9l1.5 2.5h-3.0zM84.4 7.8l1.5 2.5h-3.0zM51.1 133.9l1.5 2.5h-3.0zM79.1 9.9l1.5 2.5h-3.0zM94.9 27.6l1.5 2.5h-3.0zM92.4 65.7l1.5 2.5h-3.0zM95.5 19.2l1.5 2.5h-3.0zM93.2 55.2l1.5 2.5h-3.0zM49.1 33.6l1.5 2.5h-3.0zM86.4 25.2l1.5 2.5h-3.0zM97.3 79.2l1.5 2.5h-3.0zM63.5 10.2l1.5 2.5h-3.0zM90.0 29.3l1.5 2.5h-3.0zM116.8 149.5l1.5 2.5h-3.0zM106.6 46.1l1.5 2.5h-3.0zM116.3 18.9l1.5 2.5h-3.0zM115.4 245.2l1.5 2.5h-3.0zM86.5 6.5l1.5 2.5h-3.0zM48.8 6.2l1.5 2.5h-3.0zM117.0 53.5l1.5 2.5h-3.0zM110.3 14.9l1.5 2.5h-3.0zM69.5 63.7l1.5 2.5h-3.0zM57.5 40.1l1.5 2.5h-3.0zM90.4 5.8l1.5 2.5h-3.0zM99.8 23.3l1.5 2.5h-3.0zM61.3 237.4l1.5 2.5h-3.0zM57.0 23.9l1.5 2.5h-3.0zM124.2 4.9l1.5 2.5h-3.0zM69.2 10.2l1.5 2.5h-3.0zM60.4 4.8l1.5 2.5h-3.0zM42.3 10.9l1.5 2.5h-3.0zM96.0 13.7l1.5 2.5h-3.0zM62.2 125.3l1.5 2.5h-3.0zM88.4 20.9l1.5 2.5h-3.0zM56.2 169.5l1.5 2.5h-3.0zM61.5 10.9l1.5 2.5h-3.0zM192.0 62.1l1.5 2.5h-3.0zM120.9 101.2l1.5 2.5h-3.0zM61.2 2.5l1.5 2.5h-3.0zM81.3 31.4l1.5 2.5h-3.0zM104.6 140.9l1.5 2.5h-3.0zM93.4 15.2l1.5 2.5h-3.0zM105.2 78.3l1.5 2.5h-3.0zM94.2 11.4l1.5 2.5h-3.0zM140.6 11.0l1.5 2.5h-3.0zM66.4 53.6l1.5 2.5h-3.0zM113.1 15.5l1.5 2.5h-3.0z"/>
<path stroke="#3b7eab" stroke-width="0.6" opacity="0.6" d="M86.0 101.0h2.4v2.4h-2.4zM69.1 143.8h2.4v2.4h-2.4zM71.5 109.1h2.4v2.4h-2.4zM92.8 16.4h2.4v2.4h-2.4zM49.0 37.2h2.4v2.4h-2.4zM144.3 106.7h2.4v2.4h-2.4zM44.8 14.2h2.4v2.4h-2.4zM44.5 5.2h2.4v2.4h-2.4zM56.8 31.8h2.4v2.4h-2.4zM59.6 37.8h2.4v2.4h-2.4zM56.0 2.8h2.4v2.4h-2.4zM50.2 12.6h2.4v2.4h-2.4zM90.8 121.6h2.4v2.4h-2.4zM80.4 148.2h2.4v2.4h-2.4zM60.4 60.0h2.4v2.4h-2.4zM53.3 42.1h2.4v2.4h-2.4zM48.5 23.2h2.4v2.4h-2.4zM49.2 25.1h2.4v2.4h-2.4zM41.8 116.8h2.4v2.4h-2.4zM51.6 50.0h2.4v2.4h-2.4zM57.1 69.1h2.4v2.4h-2.4zM54.3 14.8h2.4v2.4h-2.4zM82.5 220.5h2.4v2.4h-2.4zM46.7 18.5h2.4v2.4h-2.4zM59.6 8.8h2.4v2.4h-2.4zM78.2 164.3h2.4v2.4h-2.4zM98.6 12.2h2.4v2.4h-2.4zM47.8 11.6h2.4v2.4h-2.4zM100.4 45.9h2.4v2.4h-2.4zM54.3 14.6h2.4v2.4h-2.4zM67.3 31.5h2.4v2.4h-2.4zM45.4 93.2h2.4v2.4h-2.4zM52.6 3.9h2.4v2.4h-2.4zM77.1 63.7h2.4v2.4h-2.4zM43.8 143.4h2.4v2.4h-2.4zM54.2 70.8h2.4v2.4h-2.4zM40.4 97.9h2.4v2.4h-2.4zM131.0 186.9h2.4v2.4h-2.4zM85.0 113.5h2.4v2.4h-2.4zM75.1 116.1h2.4v2.4h-2.4zM44.0 107.7h2.4v2.4h-2.4zM71.8 13.8h2.4v2.4h-2.4zM46.2 12.0h2.4v2.4h-2.4zM55.7 46.7h2.4v2.4h-2.4zM73.3 204.8h2.4v2.4h-2.4zM77.4 37.4h2.4v2.4h-2.4zM47.8 89.6h2.4v2.4h-2.4zM58.6 146.5h2.4v2.4h-2.4zM52.2 5.3h2.4v2.4h-2.4zM66.3 203.9h2.4v2.4h-2.4zM56.4 68.5h2.4v2.4h-2.4zM75.6 224.3h2.4v2.4h-2.4zM53.2 12.3h2.4v2.4h-2.4zM53.1 173.0h2.4v2.4h-2.4zM37.8 52.5h2.4v2.4h-2.4zM43.0 64.9h2.4v2.4h-2.4zM54.9 32.1h2.4v2.4h-2.4zM52.1 12.0h2.4v2.4h-2.4zM70.9 97.0h2.4v2.4h-2.4zM62.2 7.7h2.4v2.4h-2.4zM39.5 147.0h2.4v2.4h-2.4zM48.9 4.7h2.4v2.4h-2.4zM48.3 15.9h2.4v2.4h-2.4zM54.1 46.2h2.4v2.4h-2.4zM53.1 11.0h2.4v2.4h-2.4zM105.4 18.6h2.4v2.4h-2.4zM47.9 114.4h2.4v2.4h-2.4zM76.7 12.1h2.4v2.4h-2.4zM57.3 111.0h2.4v2.4h-2.4zM53.9 4.8h2.4v2.4h-2.4zM60.8 7.8h2.4v2.4h-2.4zM43.3 19.8h2.4v2.4h-2.4zM55.1 9.2h2.4v2.4h-2.4zM44.9 12.9h2.4v2.4h-2.4zM41.1 54.0h2.4v2.4h-2.4zM89.2 57.8h2.4v2.4h-2.4zM39.2 20.3h2.4v2.4h-2.4zM37.8 157.2h2.4v2.4h-2.4zM41.9 62.7h2.4v2.4h-2.4zM63.5 198.2h2.4v2.4h-2.4zM55.3 30.7h2.4v2.4h-2.4zM73.2 23.8h2.4v2.4h-2.4zM39.9 123.0h2.4v2.4h-2.4zM44.4 41.6h2.4v2.4h-2.4zM45.0 20.8h2.4v2.4h-2.4zM73.2 93.0h2.4v2.4h-2.4zM83.3 5.7h2.4v2.4h-2.4zM65.1 9.0h2.4v2.4h-2.4zM65.2 166.0h2.4v2.4h-2.4zM39.2 124.1h2.4v2.4h-2.4zM49.4 28.9h2.4v2.4h-2.4zM61.7 79.3h2.4v2.4h-2.4zM40.8 102.1h2.4v2.4h-2.4zM41.3 23.4h2.4v2.4h-2.4zM52.6 95.1h2.4v2.4h-2.4zM67.5 41.2h2.4v2.4h-2.4zM49.9 9.2h2.4v2.4h-2.4zM65.3 61.0h2.4v2.4h-2.4zM45.4 192.8h2.4v2.4h-2.4zM112.0 25.2h2.4v2.4h-2.4zM39.5 96.1h2.4v2.4h-2.4zM48.8 29.5h2.4v2.4h-2.4zM58.5 3.5h2.4v2.4h-2.4zM49.0 25.1h2.4v2.4h-2.4zM85.6 23.9h2.4v2.4h-2.4zM49.3 25.2h2.4v2.4h-2.4zM37.5 248.5h2.4v2.4h-2.4zM88.9 119.5h2.4v2.4h-2.4zM56.7 7.2h2.4v2.4h-2.4zM41.7 12.2h2.4v2.4h-2.4zM94.6 91.5h2.4v2.4h-2.4zM47.7 13.8h2.4v2.4h-2.4zM50.1 32.6h2.4v2.4h-2.4zM40.2 20.3h2.4v2.4h-2.4zM71.7 5.1h2.4v2.4h-2.4zM112.4 172.5h2.4v2.4h-2.4zM81.1 14.0h2.4v2.4h-2.4zM43.6 37.2h2.4v2.4h-2.4zM53.8 136.6h2.4v2.4h-2.4zM77.4 67.2h2.4v2.4h-2.4zM45.0 17.4h2.4v2.4h-2.4zM68.4 40.5h2.4v2.4h-2.4zM64.9 143.7h2.4v2.4h-2.4zM62.0 7.4h2.4v2.4h-2.4zM40.7 15.0h2.4v2.4h-2.4zM57.9 36.3h2.4v2.4h-2.4zM38.4 5.0h2.4v2.4h-2.4zM49.0 5.4h2.4v2.4h-2.4zM39.8 148.6h2.4v2.4h-2.4zM66.9 95.4h2.4v2.4h-2.4zM86.0 70.1h2.4v2.4h-2.4zM54.8 10.4h2.4v2.4h-2.4zM59.8 175.5h2.4v2.4h-2.4zM95.4 189.6h2.4v2.4h-2.4zM56.7 7.2h2.4v2.4h-2.4zM42.4 111.4h2.4v2.4h-2.4zM37.7 76.7h2.4v2.4h-2.4zM45.6 28.5h2.4v2.4h-2.4zM39.3 124.5h2.4v2.4h-2.4zM73.4 12.5h2.4v2.4h-2.4zM46.6 6.0h2.4v2.4h-2.4zM125.4 210.6h2.4v2.4h-2.4zM73.3 81.5h2.4v2.4h-2.4zM47.3 6.9h2.4v2.4h-2.4zM95.5 186.1h2.4v2.4h-2.4zM66.2 58.3h2.4v2.4h-2.4zM37.3 51.1h2.4v2.4h-2.4zM78.1 147.0h2.4v2.4h-2.4zM89.0 91.4h2.4v2.4h-2.4zM59.7 112.6h2.4v2.4h-2.4zM44.4 118.1h2.4v2.4h-2.4zM79.1 26.0h2.4v2.4h-2.4zM80.1 89.3h2.4v2.4h-2.4zM69.1 93.6h2.4v2.4h-2.4zM62.0 120.3h2.4v2.4h-2.4zM51.0 104.5h2.4v2.4h-2.4zM60.6 4.1h2.4v2.4h-2.4zM58.7 47.6h2.4v2.4h-2.4zM82.0 68.4h2.4v2.4h-2.4zM50.5 12.0h2.4v2.4h-2.4zM37.7 28.3h2.4v2.4h-2.4zM57.1 30.2h2.4v2.4h-2.4zM67.1 200.5h2.4v2.4h-2.4zM44.8 17.3h2.4v2.4h-2.4zM117.6 71.2h2.4v2.4h-2.4zM40.5 20.0h2.4v2.4h-2.4zM40.3 27.8h2.4v2.4h-2.4zM50.7 33.1h2.4v2.4h-2.4zM46.4 23.5h2.4v2.4h-2.4zM48.2 20.2h2.4v2.4h-2.4zM72.0 4.9h2.4v2.4h-2.4zM49.5 30.2h2.4v2.4h-2.4zM37.6 16.2h2.4v2.4h-2.4zM38.0 59.7h2.4v2.4h-2.4zM41.0 40.2h2.4v2.4h-2.4zM84.8 215.2h2.4v2.4h-2.4zM55.0 15.9h2.4v2.4h-2.4zM57.4 99.6h2.4v2.4h-2.4zM135.4 8.4h2.4v2.4h-2.4zM45.3 34.7h2.4v2.4h-2.4zM56.0 55.7h2.4v2.4h-2.4zM42.7 22.2h2.4v2.4h-2.4zM49.1 35.1h2.4v2.4h-2.4zM61.8 59.5h2.4v2.4h-2.4zM91.0 11.1h2.4v2.4h-2.4zM47.6 4.1h2.4v2.4h-2.4zM54.3 33.2h2.4v2.4h-2.4zM48.6 11.2h2.4v2.4h-2.4zM51.9 11.8h2.4v2.4h-2.4zM74.9 27.2h2.4v2.4h-2.4zM100.5 179.0h2.4v2.4h-2.4zM52.2 4.8h2.4v2.4h-2.4zM64.4 100.1h2.4v2.4h-2.4zM66.0 151.5h2.4v2.4h-2.4zM56.9 4.1h2.4v2.4h-2.4zM64.5 244.6h2.4v2.4h-2.4zM38.0 70.2h2.4v2.4h-2.4zM79.5 53.0h2.4v2.4h-2.4zM91.5 2.8h2.4v2.4h-2.4zM41.7 27.7h2.4v2.4h-2.4zM58.4 20.7h2.4v2.4h-2.4zM51.7 12.1h2.4v2.4h-2.4zM56.5 182.9h2.4v2.4h-2.4zM59.6 70.1h2.4v2.4h-2.4zM43.6 2.8h2.4v2.4h-2.4zM47.1 9.9h2.4v2.4h-2.4zM40.1 14.2h2.4v2.4h-2.4zM47.8 17.0h2.4v2.4h-2.4zM69.1 115.6h2.4v2.4h-2.4zM63.7 3.7h2.4v2.4h-2.4zM47.2 7.1h2.4v2.4h-2.4zM87.0 53.0h2.4v2.4h-2.4zM48.3 31.2h2.4v2.4h-2.4zM57.4 95.2h2.4v2.4h-2.4zM58.0 24.0h2.4v2.4h-2.4zM49.2 25.0h2.4v2.4h-2.4zM55.9 79.3h2.4v2.4h-2.4zM100.1 16.5h2.4v2.4h-2.4zM59.5 29.8h2.4v2.4h-2.4zM76.4 6.2h2.4v2.4h-2.4zM78.6 10.8h2.4v2.4h-2.4zM43.7 13.5h2.4v2.4h-2.4zM54.5 17.1h2.4v2.4h-2.4zM64.8 5.5h2.4v2.4h-2.4zM53.1 32.9h2.4v2.4h-2.4zM48.0 51.2h2.4v2.4h-2.4zM46.6 3.3h2.4v2.4h-2.4zM47.7 95.9h2.4v2.4h-2.4zM71.0 114.8h2.4v2.4h-2.4zM65.9 222.1h2.4v2.4h-2.4zM62.5 25.2h2.4v2.4h-2.4zM60.5 46.2h2.4v2.4h-2.4zM47.0 61.6h2.4v2.4h-2.4zM61.5 92.7h2.4v2.4h-2.4zM87.0 42.4h2.4v2.4h-2.4zM56.9 34.6h2.4v2.4h-2.4zM56.8 116.9h2.4v2.4h-2.4zM43.6 87.3h2.4v2.4h-2.4zM43.7 24.2h2.4v2.4h-2.4zM44.5 44.5h2.4v2.4h-2.4zM108.6 178.7h2.4v2.4h-2.4zM90.4 10.5h2.4v2.4h-2.4zM45.5 4.5h2.4v2.4h-2.4zM116.5 31.8h2.4v2.4h-2.4zM66.1 10.3h2.4v2.4h-2.4zM45.5 91.1h2.4v2.4h-2.4zM74.7 21.9h2.4v2.4h-2.4zM83.3 8.3h2.4v2.4h-2.4zM95.3 102.8h2.4v2.4h-2.4zM47.7 10.5h2.4v2.4h-2.4zM73.1 36.7h2.4v2.4h-2.4zM46.5 17.3h2.4v2.4h-2.4zM56.0 8.3h2.4v2.4h-2.4zM84.4 49.0h2.4v2.4h-2.4zM46.8 20.8h2.4v2.4h-2.4zM62.8 25.4h2.4v2.4h-2.4zM43.7 152.6h2.4v2.4h-2.4zM109.6 87.1h2.4v2.4h-2.4zM60.4 28.7h2.4v2.4h-2.4zM50.6 10.3h2.4v2.4h-2.4zM59.8 9.2h2.4v2.4h-2.4zM54.2 8.6h2.4v2.4h-2.4zM58.7 6.9h2.4v2.4h-2.4zM57.4 4.2h2.4v2.4h-2.4zM49.9 5.4h2.4v2.4h-2.4zM37.7 45.4h2.4v2.4h-2.4zM100.2 252.6h2.4v2.4h-2.4zM47.2 26.4h2.4v2.4h-2.4zM115.1 247.0h2.4v2.4h-2.4zM66.8 195.9h2.4v2.4h-2.4zM42.3 193.5h2.4v2.4h-2.4zM38.3 94.8h2.4v2.4h-2.4zM46.2 25.1h2.4v2.4h-2.4zM41.1 5.6h2.4v2.4h-2.4zM49.1 67.7h2.4v2.4h-2.4zM46.7 15.3h2.4v2.4h-2.4zM59.6 95.9h2.4v2.4h-2.4zM82.0 58.4h2.4v2.4h-2.4zM47.6 74.4h2.4v2.4h-2.4zM73.5 59.2h2.4v2.4h-2.4zM48.3 48.2h2.4v2.4h-2.4zM43.3 53.7h2.4v2.4h-2.4zM44.1 77.5h2.4v2.4h-2.4zM52.1 13.1h2.4v2.4h-2.4zM59.9 246.4h2.4v2.4h-2.4zM61.7 245.4h2.4v2.4h-2.4zM58.5 38.5h2.4v2.4h-2.4zM55.7 20.3h2.4v2.4h-2.4zM63.6 3.5h2.4v2.4h-2.4zM51.6 12.9h2.4v2.4h-2.4zM53.6 3.8h2.4v2.4h-2.4zM56.0 13.1h2.4v2.4h-2.4zM91.3 14.8h2.4v2.4h-2.4zM71.6 59.0h2.4v2.4h-2.4zM49.4 4.2h2.4v2.4h-2.4zM50.1 9.2h2.4v2.4h-2.4zM122.5 10.1h2.4v2.4h-2.4zM50.2 21.2h2.4v2.4h-2.4zM55.8 68.4h2.4v2.4h-2.4zM41.1 8.1h2.4v2.4h-2.4zM92.2 204.9h2.4v2.4h-2.4zM46.9 39.1h2.4v2.4h-2.4zM48.9 6.1h2.4v2.4h-2.4zM60.3 114.9h2.4v2.4h-2.4zM42.2 11.8h2.4v2.4h-2.4zM49.1 231.6h2.4v2.4h-2.4zM55.1 25.4h2.4v2.4h-2.4zM50.1 3.0h2.4v2.4h-2.4zM40.6 79.6h2.4v2.4h-2.4zM68.7 159.0h2.4v2.4h-2.4zM42.3 192.7h2.4v2.4h-2.4zM47.4 4.8h2.4v2.4h-2.4zM61.9 4.9h2.4v2.4h-2.4zM51.1 28.6h2.4v2.4h-2.4zM48.7 8.7h2.4v2.4h-2.4zM68.6 124.0h2.4v2.4h-2.4z"/>
<path stroke="#3b7eab" stroke-width="0.6" opacity="0.6" d="M64.9 13.4h2.4v2.4h-2.4zM46.3 2.8h2.4v2.4h-2.4zM69.8 31.9h2.4v2.4h-2.4zM51.4 15.8h2.4v2.4h-2.4zM48.4 43.9h2.4v2.4h-2.4zM73.8 55.9h2.4v2.4h-2.4zM44.6 11.1h2.4v2.4h-2.4zM66.2 3.4h2.4v2.4h-2.4zM70.8 174.1h2.4v2.4h-2.4zM49.1 36.1h2.4v2.4h-2.4zM97.6 11.8h2.4v2.4h-2.4zM37.4 24.1h2.4v2.4h-2.4zM83.7 9.9h2.4v2.4h-2.4zM39.6 38.2h2.4v2.4h-2.4zM103.0 88.9h2.4v2.4h-2.4zM72.2 37.2h2.4v2.4h-2.4zM107.3 50.4h2.4v2.4h-2.4zM65.2 19.6h2.4v2.4h-2.4zM63.5 23.4h2.4v2.4h-2.4zM45.4 52.4h2.4v2.4h-2.4zM60.2 10.2h2.4v2.4h-2.4zM54.6 25.7h2.4v2.4h-2.4zM44.9 13.8h2.4v2.4h-2.4zM99.5 143.7h2.4v2.4h-2.4zM71.7 129.0h2.4v2.4h-2.4zM102.5 46.2h2.4v2.4h-2.4zM53.2 182.7h2.4v2.4h-2.4zM44.2 150.8h2.4v2.4h-2.4zM51.4 23.8h2.4v2.4h-2.4zM82.6 4.1h2.4v2.4h-2.4zM51.5 42.5h2.4v2.4h-2.4zM46.8 3.3h2.4v2.4h-2.4zM45.4 9.0h2.4v2.4h-2.4zM68.9 27.5h2.4v2.4h-2.4zM43.9 21.4h2.4v2.4h-2.4zM132.7 22.2h2.4v2.4h-2.4zM66.9 167.8h2.4v2.4h-2.4zM46.6 2.8h2.4v2.4h-2.4zM120.7 9.1h2.4v2.4h-2.4zM60.5 2.8h2.4v2.4h-2.4zM52.8 38.2h2.4v2.4h-2.4zM46.8 13.1h2.4v2.4h-2.4zM46.6 21.5h2.4v2.4h-2.4zM88.2 20.4h2.4v2.4h-2.4zM48.3 29.6h2.4v2.4h-2.4zM58.8 38.3h2.4v2.4h-2.4zM72.5 47.8h2.4v2.4h-2.4zM47.9 26.7h2.4v2.4h-2.4zM105.6 28.1h2.4v2.4h-2.4zM46.7 15.7h2.4v2.4h-2.4zM65.2 80.6h2.4v2.4h-2.4zM50.1 21.1h2.4v2.4h-2.4zM53.4 4.4h2.4v2.4h-2.4zM55.7 126.6h2.4v2.4h-2.4zM40.6 33.7h2.4v2.4h-2.4zM60.2 18.4h2.4v2.4h-2.4zM39.3 57.8h2.4v2.4h-2.4zM41.4 5.9h2.4v2.4h-2.4zM74.2 115.4h2.4v2.4h-2.4zM75.4 170.4h2.4v2.4h-2.4zM93.6 39.0h2.4v2.4h-2.4zM52.9 3.5h2.4v2.4h-2.4zM42.5 16.2h2.4v2.4h-2.4zM100.8 4.3h2.4v2.4h-2.4zM91.0 69.1h2.4v2.4h-2.4zM59.8 191.9h2.4v2.4h-2.4zM85.4 63.8h2.4v2.4h-2.4zM65.9 47.1h2.4v2.4h-2.4zM81.6 213.0h2.4v2.4h-2.4zM70.2 21.0h2.4v2.4h-2.4zM69.1 57.3h2.4v2.4h-2.4zM66.6 137.4h2.4v2.4h-2.4zM70.6 98.0h2.4v2.4h-2.4zM57.8 46.9h2.4v2.4h-2.4zM74.4 6.6h2.4v2.4h-2.4zM48.6 120.0h2.4v2.4h-2.4zM47.8 82.4h2.4v2.4h-2.4zM46.5 11.0h2.4v2.4h-2.4zM44.2 13.4h2.4v2.4h-2.4zM62.8 23.8h2.4v2.4h-2.4zM65.4 63.5h2.4v2.4h-2.4zM67.7 8.6h2.4v2.4h-2.4zM53.6 23.6h2.4v2.4h-2.4zM44.5 14.1h2.4v2.4h-2.4zM58.6 31.2h2.4v2.4h-2.4zM55.2 47.6h2.4v2.4h-2.4zM53.7 97.3h2.4v2.4h-2.4zM56.4 9.1h2.4v2.4h-2.4zM49.3 16.4h2.4v2.4h-2.4zM47.1 55.4h2.4v2.4h-2.4zM38.0 151.1h2.4v2.4h-2.4zM81.3 6.6h2.4v2.4h-2.4zM152.2 119.8h2.4v2.4h-2.4zM46.2 5.4h2.4v2.4h-2.4zM72.4 12.2h2.4v2.4h-2.4zM44.3 91.6h2.4v2.4h-2.4zM52.0 11.5h2.4v2.4h-2.4zM98.4 82.0h2.4v2.4h-2.4zM74.8 127.8h2.4v2.4h-2.4zM104.9 60.2h2.4v2.4h-2.4zM57.2 94.6h2.4v2.4h-2.4zM57.4 23.9h2.4v2.4h-2.4zM51.7 128.4h2.4v2.4h-2.4zM54.2 42.3h2.4v2.4h-2.4zM41.4 122.3h2.4v2.4h-2.4zM38.3 10.3h2.4v2.4h-2.4zM53.8 10.1h2.4v2.4h-2.4zM53.3 176.8h2.4v2.4h-2.4zM57.0 242.7h2.4v2.4h-2.4zM75.7 47.3h2.4v2.4h-2.4zM70.5 11.8h2.4v2.4h-2.4zM58.6 98.7h2.4v2.4h-2.4zM56.6 3.3h2.4v2.4h-2.4zM57.7 81.3h2.4v2.4h-2.4zM85.0 250.7h2.4v2.4h-2.4zM38.3 16.0h2.4v2.4h-2.4zM48.9 8.8h2.4v2.4h-2.4zM47.0 8.9h2.4v2.4h-2.4zM66.0 34.2h2.4v2.4h-2.4zM43.1 16.6h2.4v2.4h-2.4zM96.6 37.8h2.4v2.4h-2.4zM38.0 26.1h2.4v2.4h-2.4zM45.7 11.5h2.4v2.4h-2.4zM51.8 233.6h2.4v2.4h-2.4zM106.4 223.0h2.4v2.4h-2.4zM51.2 36.0h2.4v2.4h-2.4zM46.1 20.0h2.4v2.4h-2.4zM50.7 15.1h2.4v2.4h-2.4zM64.8 95.3h2.4v2.4h-2.4zM60.0 78.0h2.4v2.4h-2.4zM87.6 86.4h2.4v2.4h-2.4zM37.9 95.1h2.4v2.4h-2.4zM62.5 51.3h2.4v2.4h-2.4zM97.0 10.2h2.4v2.4h-2.4zM50.4 218.6h2.4v2.4h-2.4zM43.2 18.0h2.4v2.4h-2.4zM54.8 60.9h2.4v2.4h-2.4zM56.6 26.4h2.4v2.4h-2.4zM53.7 20.8h2.4v2.4h-2.4zM39.9 44.2h2.4v2.4h-2.4zM45.1 85.0h2.4v2.4h-2.4zM81.6 31.4h2.4v2.4h-2.4zM93.9 38.3h2.4v2.4h-2.4zM76.0 44.7h2.4v2.4h-2.4zM128.7 3.8h2.4v2.4h-2.4zM97.6 43.3h2.4v2.4h-2.4zM55.0 13.8h2.4v2.4h-2.4zM45.5 12.5h2.4v2.4h-2.4zM53.8 77.3h2.4v2.4h-2.4zM55.0 32.0h2.4v2.4h-2.4zM107.8 68.9h2.4v2.4h-2.4zM41.1 45.2h2.4v2.4h-2.4zM70.9 23.6h2.4v2.4h-2.4zM45.0 36.5h2.4v2.4h-2.4zM77.1 23.5h2.4v2.4h-2.4zM56.8 29.6h2.4v2.4h-2.4zM53.5 24.7h2.4v2.4h-2.4zM37.7 45.3h2.4v2.4h-2.4zM47.0 49.0h2.4v2.4h-2.4zM68.8 17.6h2.4v2.4h-2.4zM116.3 254.6h2.4v2.4h-2.4zM43.2 24.0h2.4v2.4h-2.4zM60.7 153.7h2.4v2.4h-2.4zM56.5 150.7h2.4v2.4h-2.4zM59.3 6.3h2.4v2.4h-2.4zM39.2 35.7h2.4v2.4h-2.4zM126.2 120.6h2.4v2.4h-2.4zM38.5 99.0h2.4v2.4h-2.4zM42.6 42.5h2.4v2.4h-2.4zM43.8 77.8h2.4v2.4h-2.4zM92.4 86.3h2.4v2.4h-2.4zM42.3 5.7h2.4v2.4h-2.4zM51.5 61.1h2.4v2.4h-2.4zM58.8 15.6h2.4v2.4h-2.4zM64.6 58.2h2.4v2.4h-2.4zM54.8 17.7h2.4v2.4h-2.4zM50.3 5.5h2.4v2.4h-2.4zM42.8 78.6h2.4v2.4h-2.4zM57.5 20.1h2.4v2.4h-2.4zM59.0 178.9h2.4v2.4h-2.4zM113.6 97.9h2.4v2.4h-2.4zM55.6 16.1h2.4v2.4h-2.4zM45.4 9.8h2.4v2.4h-2.4zM88.0 8.8h2.4v2.4h-2.4zM44.4 18.1h2.4v2.4h-2.4zM51.6 11.9h2.4v2.4h-2.4zM63.0 2.8h2.4v2.4h-2.4zM49.1 17.1h2.4v2.4h-2.4zM68.6 54.5h2.4v2.4h-2.4zM54.2 116.5h2.4v2.4h-2.4zM59.3 156.3h2.4v2.4h-2.4zM42.9 65.6h2.4v2.4h-2.4zM42.7 13.6h2.4v2.4h-2.4zM66.4 7.9h2.4v2.4h-2.4zM50.0 123.0h2.4v2.4h-2.4zM63.3 53.4h2.4v2.4h-2.4zM37.8 46.9h2.4v2.4h-2.4zM55.4 20.9h2.4v2.4h-2.4zM116.7 82.8h2.4v2.4h-2.4zM79.1 131.8h2.4v2.4h-2.4zM83.1 5.6h2.4v2.4h-2.4zM52.6 18.9h2.4v2.4h-2.4zM93.2 16.6h2.4v2.4h-2.4zM78.3 133.2h2.4v2.4h-2.4zM101.0 105.3h2.4v2.4h-2.4zM66.2 110.1h2.4v2.4h-2.4zM45.8 16.5h2.4v2.4h-2.4zM91.6 75.5h2.4v2.4h-2.4zM117.4 8.0h2.4v2.4h-2.4zM76.8 43.3h2.4v2.4h-2.4zM58.3 16.3h2.4v2.4h-2.4zM40.6 20.2h2.4v2.4h-2.4zM54.1 137.4h2.4v2.4h-2.4zM66.6 58.9h2.4v2.4h-2.4zM45.3 83.5h2.4v2.4h-2.4zM48.2 3.8h2.4v2.4h-2.4zM55.5 12.5h2.4v2.4h-2.4zM100.8 31.4h2.4v2.4h-2.4zM52.7 17.9h2.4v2.4h-2.4zM50.7 14.3h2.4v2.4h-2.4zM43.7 5.4h2.4v2.4h-2.4zM96.9 87.9h2.4v2.4h-2.4zM49.1 46.5h2.4v2.4h-2.4zM49.0 9.2h2.4v2.4h-2.4zM63.1 111.6h2.4v2.4h-2.4zM100.5 139.1h2.4v2.4h-2.4zM62.6 38.9h2.4v2.4h-2.4zM58.3 5.6h2.4v2.4h-2.4zM119.1 31.9h2.4v2.4h-2.4zM54.1 19.7h2.4v2.4h-2.4zM71.6 10.1h2.4v2.4h-2.4zM45.8 206.8h2.4v2.4h-2.4zM68.8 20.0h2.4v2.4h-2.4zM47.0 49.7h2.4v2.4h-2.4zM45.4 12.3h2.4v2.4h-2.4zM52.6 10.8h2.4v2.4h-2.4zM78.8 9.1h2.4v2.4h-2.4zM55.7 25.4h2.4v2.4h-2.4zM55.3 41.8h2.4v2.4h-2.4zM50.3 7.4h2.4v2.4h-2.4zM42.8 7.8h2.4v2.4h-2.4zM69.2 131.3h2.4v2.4h-2.4zM48.7 20.5h2.4v2.4h-2.4zM42.0 178.2h2.4v2.4h-2.4zM40.0 34.5h2.4v2.4h-2.4zM58.8 28.8h2.4v2.4h-2.4zM118.7 235.3h2.4v2.4h-2.4zM96.6 112.6h2.4v2.4h-2.4zM56.5 2.8h2.4v2.4h-2.4zM51.9 30.6h2.4v2.4h-2.4zM51.5 10.8h2.4v2.4h-2.4zM57.2 4.6h2.4v2.4h-2.4zM51.1 32.0h2.4v2.4h-2.4zM40.9 17.6h2.4v2.4h-2.4zM63.1 94.2h2.4v2.4h-2.4zM58.8 93.3h2.4v2.4h-2.4zM54.5 174.4h2.4v2.4h-2.4zM49.5 15.9h2.4v2.4h-2.4zM71.5 51.6h2.4v2.4h-2.4zM39.5 79.8h2.4v2.4h-2.4zM92.0 226.3h2.4v2.4h-2.4zM37.7 165.5h2.4v2.4h-2.4zM47.5 21.2h2.4v2.4h-2.4zM60.5 174.6h2.4v2.4h-2.4zM68.6 45.8h2.4v2.4h-2.4zM51.9 87.4h2.4v2.4h-2.4zM38.4 11.0h2.4v2.4h-2.4zM67.2 104.0h2.4v2.4h-2.4zM43.5 17.0h2.4v2.4h-2.4zM59.4 199.0h2.4v2.4h-2.4zM75.6 26.0h2.4v2.4h-2.4zM42.8 32.6h2.4v2.4h-2.4zM44.0 29.0h2.4v2.4h-2.4zM43.1 94.1h2.4v2.4h-2.4zM71.2 111.2h2.4v2.4h-2.4zM83.2 17.0h2.4v2.4h-2.4zM47.4 24.0h2.4v2.4h-2.4zM55.5 11.8h2.4v2.4h-2.4zM141.2 94.1h2.4v2.4h-2.4zM59.3 3.7h2.4v2.4h-2.4zM49.5 15.7h2.4v2.4h-2.4zM50.3 49.6h2.4v2.4h-2.4zM38.4 6.7h2.4v2.4h-2.4zM49.4 16.3h2.4v2.4h-2.4zM50.0 17.3h2.4v2.4h-2.4zM75.5 203.0h2.4v2.4h-2.4zM57.2 51.5h2.4v2.4h-2.4zM41.0 21.2h2.4v2.4h-2.4zM75.6 42.5h2.4v2.4h-2.4zM50.9 20.6h2.4v2.4h-2.4zM62.1 182.2h2.4v2.4h-2.4zM78.1 77.9h2.4v2.4h-2.4zM62.0 214.0h2.4v2.4h-2.4zM59.8 6.5h2.4v2.4h-2.4zM50.7 13.7h2.4v2.4h-2.4zM41.3 58.9h2.4v2.4h-2.4zM103.6 163.0h2.4v2.4h-2.4zM49.0 6.8h2.4v2.4h-2.4zM49.1 42.5h2.4v2.4h-2.4zM70.1 15.4h2.4v2.4h-2.4zM59.7 116.7h2.4v2.4h-2.4zM63.6 3.2h2.4v2.4h-2.4zM54.8 8.3h2.4v2.4h-2.4zM80.3 105.3h2.4v2.4h-2.4zM63.8 3.7h2.4v2.4h-2.4zM76.7 14.6h2.4v2.4h-2.4zM37.8 19.9h2.4v2.4h-2.4zM43.0 29.9h2.4v2.4h-2.4zM41.1 37.2h2.4v2.4h-2.4zM47.7 20.1h2.4v2.4h-2.4zM46.5 36.9h2.4v2.4h-2.4zM48.1 245.4h2.4v2.4h-2.4zM45.6 38.3h2.4v2.4h-2.4zM98.8 203.4h2.4v2.4h-2.4zM62.9 9.7h2.4v2.4h-2.4zM40.8 56.9h2.4v2.4h-2.4z"/>
<path stroke="#3b7eab" stroke-width="0.6" opacity="0.6" d="M46.5 19.3h2.4v2.4h-2.4zM43.0 119.1h2.4v2.4h-2.4zM51.3 19.2h2.4v2.4h-2.4zM48.7 30.0h2.4v2.4h-2.4zM106.6 250.9h2.4v2.4h-2.4zM67.7 243.9h2.4v2.4h-2.4zM73.0 54.0h2.4v2.4h-2.4zM68.3 38.1h2.4v2.4h-2.4zM47.2 57.6h2.4v2.4h-2.4zM39.6 15.3h2.4v2.4h-2.4zM77.9 73.2h2.4v2.4h-2.4zM45.1 2.8h2.4v2.4h-2.4zM45.7 17.0h2.4v2.4h-2.4zM70.9 129.6h2.4v2.4h-2.4zM57.3 6.7h2.4v2.4h-2.4zM53.1 142.8h2.4v2.4h-2.4zM119.5 4.5h2.4v2.4h-2.4zM57.9 9.9h2.4v2.4h-2.4zM56.8 233.1h2.4v2.4h-2.4zM43.4 59.6h2.4v2.4h-2.4zM92.4 29.2h2.4v2.4h-2.4zM79.4 6.7h2.4v2.4h-2.4zM46.7 67.5h2.4v2.4h-2.4zM90.0 64.4h2.4v2.4h-2.4zM72.8 198.0h2.4v2.4h-2.4zM51.0 9.9h2.4v2.4h-2.4zM42.7 44.1h2.4v2.4h-2.4zM38.0 61.3h2.4v2.4h-2.4zM46.3 27.1h2.4v2.4h-2.4zM46.3 145.3h2.4v2.4h-2.4zM59.5 19.6h2.4v2.4h-2.4zM43.9 23.6h2.4v2.4h-2.4zM38.1 221.1h2.4v2.4h-2.4zM124.4 39.2h2.4v2.4h-2.4zM53.7 49.5h2.4v2.4h-2.4zM47.8 39.0h2.4v2.4h-2.4zM61.1 10.0h2.4v2.4h-2.4zM81.3 92.4h2.4v2.4h-2.4zM109.7 26.9h2.4v2.4h-2.4zM40.9 58.2h2.4v2.4h-2.4zM60.2 83.9h2.4v2.4h-2.4zM52.6 22.9h2.4v2.4h-2.4zM83.0 200.9h2.4v2.4h-2.4zM52.2 16.4h2.4v2.4h-2.4zM42.9 235.1h2.4v2.4h-2.4zM64.3 159.3h2.4v2.4h-2.4zM57.7 27.5h2.4v2.4h-2.4zM38.1 179.1h2.4v2.4h-2.4zM49.9 39.3h2.4v2.4h-2.4zM39.3 112.5h2.4v2.4h-2.4zM50.0 58.2h2.4v2.4h-2.4zM44.6 26.0h2.4v2.4h-2.4zM40.4 14.0h2.4v2.4h-2.4zM59.4 8.2h2.4v2.4h-2.4zM46.8 50.4h2.4v2.4h-2.4zM38.4 214.5h2.4v2.4h-2.4zM60.8 59.0h2.4v2.4h-2.4zM48.2 26.5h2.4v2.4h-2.4zM104.1 84.6h2.4v2.4h-2.4zM64.0 110.4h2.4v2.4h-2.4zM60.6 172.7h2.4v2.4h-2.4zM38.2 3.8h2.4v2.4h-2.4zM57.7 11.3h2.4v2.4h-2.4zM54.8 49.6h2.4v2.4h-2.4zM39.6 4.0h2.4v2.4h-2.4zM40.2 42.2h2.4v2.4h-2.4zM50.7 53.3h2.4v2.4h-2.4zM136.9 3.3h2.4v2.4h-2.4zM122.7 132.4h2.4v2.4h-2.4zM50.0 19.6h2.4v2.4h-2.4zM83.8 108.9h2.4v2.4h-2.4zM72.4 108.4h2.4v2.4h-2.4zM48.1 150.1h2.4v2.4h-2.4zM49.4 59.8h2.4v2.4h-2.4zM63.3 64.8h2.4v2.4h-2.4zM39.4 111.5h2.4v2.4h-2.4zM122.4 139.5h2.4v2.4h-2.4zM48.7 4.0h2.4v2.4h-2.4zM113.1 44.8h2.4v2.4h-2.4zM48.8 15.9h2.4v2.4h-2.4zM41.8 7.9h2.4v2.4h-2.4zM105.6 64.6h2.4v2.4h-2.4zM43.2 23.9h2.4v2.4h-2.4zM39.4 15.7h2.4v2.4h-2.4zM42.2 7.0h2.4v2.4h-2.4zM45.6 19.1h2.4v2.4h-2.4zM58.3 9.2h2.4v2.4h-2.4zM42.0 6.8h2.4v2.4h-2.4zM59.0 19.3h2.4v2.4h-2.4zM56.7 11.5h2.4v2.4h-2.4zM50.4 23.4h2.4v2.4h-2.4zM38.9 85.3h2.4v2.4h-2.4zM98.6 67.7h2.4v2.4h-2.4zM46.7 38.9h2.4v2.4h-2.4zM44.2 16.7h2.4v2.4h-2.4zM67.2 159.2h2.4v2.4h-2.4zM67.0 110.2h2.4v2.4h-2.4zM58.8 253.1h2.4v2.4h-2.4zM53.0 101.7h2.4v2.4h-2.4zM52.3 11.5h2.4v2.4h-2.4zM37.4 82.5h2.4v2.4h-2.4zM39.2 27.6h2.4v2.4h-2.4zM61.8 41.6h2.4v2.4h-2.4zM42.0 82.8h2.4v2.4h-2.4zM60.0 175.6h2.4v2.4h-2.4zM54.1 96.2h2.4v2.4h-2.4zM43.8 79.8h2.4v2.4h-2.4zM47.0 9.2h2.4v2.4h-2.4zM90.8 7.4h2.4v2.4h-2.4zM52.8 29.8h2.4v2.4h-2.4zM63.4 172.0h2.4v2.4h-2.4zM50.1 5.5h2.4v2.4h-2.4zM42.9 19.6h2.4v2.4h-2.4zM49.9 31.0h2.4v2.4h-2.4zM47.3 153.9h2.4v2.4h-2.4zM84.0 25.0h2.4v2.4h-2.4zM58.2 4.3h2.4v2.4h-2.4zM40.6 12.0h2.4v2.4h-2.4zM51.5 11.9h2.4v2.4h-2.4zM51.1 40.3h2.4v2.4h-2.4zM42.0 57.4h2.4v2.4h-2.4zM53.9 106.4h2.4v2.4h-2.4zM100.5 9.2h2.4v2.4h-2.4zM61.0 195.2h2.4v2.4h-2.4zM65.8 13.3h2.4v2.4h-2.4zM102.2 172.0h2.4v2.4h-2.4zM46.6 51.4h2.4v2.4h-2.4zM51.6 31.9h2.4v2.4h-2.4zM58.0 121.8h2.4v2.4h-2.4zM91.7 130.6h2.4v2.4h-2.4zM48.9 18.8h2.4v2.4h-2.4zM52.3 10.9h2.4v2.4h-2.4zM43.7 21.0h2.4v2.4h-2.4zM63.2 37.7h2.4v2.4h-2.4zM86.9 47.3h2.4v2.4h-2.4zM59.4 110.6h2.4v2.4h-2.4zM45.4 203.3h2.4v2.4h-2.4zM82.0 73.0h2.4v2.4h-2.4zM72.1 66.6h2.4v2.4h-2.4zM60.7 98.8h2.4v2.4h-2.4zM65.0 3.1h2.4v2.4h-2.4zM41.1 26.8h2.4v2.4h-2.4zM46.2 86.2h2.4v2.4h-2.4zM39.9 44.4h2.4v2.4h-2.4zM42.9 30.5h2.4v2.4h-2.4zM61.7 6.2h2.4v2.4h-2.4zM41.7 12.6h2.4v2.4h-2.4zM47.0 30.9h2.4v2.4h-2.4zM47.5 44.0h2.4v2.4h-2.4zM50.5 56.1h2.4v2.4h-2.4zM39.5 61.1h2.4v2.4h-2.4zM39.2 26.2h2.4v2.4h-2.4zM58.5 31.7h2.4v2.4h-2.4zM65.0 21.2h2.4v2.4h-2.4zM62.6 129.1h2.4v2.4h-2.4zM45.6 80.3h2.4v2.4h-2.4zM48.8 136.4h2.4v2.4h-2.4zM56.2 66.1h2.4v2.4h-2.4zM41.3 27.7h2.4v2.4h-2.4zM70.4 17.4h2.4v2.4h-2.4zM65.4 22.2h2.4v2.4h-2.4zM95.8 48.0h2.4v2.4h-2.4zM54.7 24.2h2.4v2.4h-2.4zM112.6 35.1h2.4v2.4h-2.4zM68.6 139.6h2.4v2.4h-2.4zM45.4 12.8h2.4v2.4h-2.4zM83.9 120.3h2.4v2.4h-2.4zM62.4 31.1h2.4v2.4h-2.4zM50.7 12.9h2.4v2.4h-2.4zM116.3 98.5h2.4v2.4h-2.4zM66.9 117.2h2.4v2.4h-2.4zM46.2 70.6h2.4v2.4h-2.4zM52.4 24.2h2.4v2.4h-2.4zM69.3 32.5h2.4v2.4h-2.4zM53.1 12.7h2.4v2.4h-2.4zM57.8 18.7h2.4v2.4h-2.4zM47.1 27.6h2.4v2.4h-2.4zM41.5 12.8h2.4v2.4h-2.4zM43.5 98.5h2.4v2.4h-2.4zM54.2 63.4h2.4v2.4h-2.4zM87.7 91.9h2.4v2.4h-2.4zM58.7 28.4h2.4v2.4h-2.4zM37.6 30.0h2.4v2.4h-2.4zM39.9 10.0h2.4v2.4h-2.4zM60.5 214.5h2.4v2.4h-2.4zM52.1 11.0h2.4v2.4h-2.4zM63.3 31.2h2.4v2.4h-2.4zM105.2 106.7h2.4v2.4h-2.4zM82.7 26.1h2.4v2.4h-2.4zM45.6 11.0h2.4v2.4h-2.4zM51.4 67.2h2.4v2.4h-2.4zM49.3 51.3h2.4v2.4h-2.4zM114.1 205.8h2.4v2.4h-2.4zM45.7 19.7h2.4v2.4h-2.4zM133.8 172.0h2.4v2.4h-2.4zM79.8 66.2h2.4v2.4h-2.4zM144.4 205.2h2.4v2.4h-2.4zM52.5 37.7h2.4v2.4h-2.4zM49.6 73.5h2.4v2.4h-2.4zM70.3 93.3h2.4v2.4h-2.4zM60.8 8.9h2.4v2.4h-2.4zM57.8 30.0h2.4v2.4h-2.4zM107.1 159.7h2.4v2.4h-2.4zM57.2 25.5h2.4v2.4h-2.4zM103.2 15.2h2.4v2.4h-2.4zM43.8 71.9h2.4v2.4h-2.4zM47.6 192.7h2.4v2.4h-2.4zM55.1 9.0h2.4v2.4h-2.4zM92.5 38.1h2.4v2.4h-2.4zM57.3 129.9h2.4v2.4h-2.4zM97.0 96.4h2.4v2.4h-2.4zM43.7 57.9h2.4v2.4h-2.4zM70.6 18.2h2.4v2.4h-2.4zM56.6 88.7h2.4v2.4h-2.4zM66.5 75.0h2.4v2.4h-2.4zM74.9 215.6h2.4v2.4h-2.4zM45.2 86.1h2.4v2.4h-2.4zM129.5 135.5h2.4v2.4h-2.4zM55.6 19.2h2.4v2.4h-2.4zM51.7 17.2h2.4v2.4h-2.4zM54.6 32.3h2.4v2.4h-2.4zM94.8 177.6h2.4v2.4h-2.4zM59.8 36.7h2.4v2.4h-2.4zM71.1 150.9h2.4v2.4h-2.4zM49.0 5.5h2.4v2.4h-2.4zM95.0 140.0h2.4v2.4h-2.4zM112.4 22.5h2.4v2.4h-2.4zM42.0 16.8h2.4v2.4h-2.4zM43.4 31.2h2.4v2.4h-2.4zM40.3 5.1h2.4v2.4h-2.4zM42.8 6.9h2.4v2.4h-2.4zM56.6 47.4h2.4v2.4h-2.4zM43.0 46.7h2.4v2.4h-2.4zM85.0 110.5h2.4v2.4h-2.4zM42.2 49.0h2.4v2.4h-2.4zM41.7 56.2h2.4v2.4h-2.4zM38.5 43.1h2.4v2.4h-2.4zM50.1 16.7h2.4v2.4h-2.4zM46.8 72.2h2.4v2.4h-2.4zM80.3 117.2h2.4v2.4h-2.4zM43.7 16.2h2.4v2.4h-2.4zM57.2 168.7h2.4v2.4h-2.4zM99.7 11.8h2.4v2.4h-2.4zM54.1 5.4h2.4v2.4h-2.4zM37.3 39.9h2.4v2.4h-2.4zM45.0 9.9h2.4v2.4h-2.4zM164.1 91.5h2.4v2.4h-2.4zM128.6 19.2h2.4v2.4h-2.4zM50.3 142.3h2.4v2.4h-2.4zM73.5 64.7h2.4v2.4h-2.4zM42.0 9.8h2.4v2.4h-2.4zM46.5 14.3h2.4v2.4h-2.4zM39.6 22.8h2.4v2.4h-2.4zM59.8 3.7h2.4v2.4h-2.4zM53.8 15.6h2.4v2.4h-2.4zM90.8 26.2h2.4v2.4h-2.4zM104.6 18.9h2.4v2.4h-2.4zM43.1 9.5h2.4v2.4h-2.4zM105.8 188.3h2.4v2.4h-2.4zM59.7 32.4h2.4v2.4h-2.4zM92.3 74.1h2.4v2.4h-2.4zM45.8 7.8h2.4v2.4h-2.4zM39.3 192.3h2.4v2.4h-2.4zM60.0 53.9h2.4v2.4h-2.4zM69.2 30.4h2.4v2.4h-2.4zM39.4 69.6h2.4v2.4h-2.4zM77.7 114.4h2.4v2.4h-2.4zM51.2 156.0h2.4v2.4h-2.4zM42.3 31.0h2.4v2.4h-2.4zM46.3 23.4h2.4v2.4h-2.4zM48.5 23.5h2.4v2.4h-2.4zM60.4 29.7h2.4v2.4h-2.4zM42.7 9.7h2.4v2.4h-2.4zM39.6 46.0h2.4v2.4h-2.4zM39.9 15.0h2.4v2.4h-2.4zM53.2 19.2h2.4v2.4h-2.4zM66.2 20.1h2.4v2.4h-2.4zM49.9 7.9h2.4v2.4h-2.4zM38.6 19.0h2.4v2.4h-2.4zM61.6 25.8h2.4v2.4h-2.4zM50.8 22.1h2.4v2.4h-2.4zM79.6 9.6h2.4v2.4h-2.4zM82.2 222.5h2.4v2.4h-2.4zM48.9 12.4h2.4v2.4h-2.4zM47.6 53.2h2.4v2.4h-2.4zM42.6 4.6h2.4v2.4h-2.4zM92.2 76.0h2.4v2.4h-2.4zM44.8 2.9h2.4v2.4h-2.4zM69.3 6.0h2.4v2.4h-2.4zM54.2 5.6h2.4v2.4h-2.4zM50.4 28.8h2.4v2.4h-2.4zM52.1 2.9h2.4v2.4h-2.4zM54.3 159.8h2.4v2.4h-2.4zM50.5 19.6h2.4v2.4h-2.4zM47.0 4.1h2.4v2.4h-2.4zM41.2 7.4h2.4v2.4h-2.4zM55.1 20.6h2.4v2.4h-2.4zM47.6 108.4h2.4v2.4h-2.4zM89.7 54.9h2.4v2.4h-2.4zM46.8 48.3h2.4v2.4h-2.4zM80.0 59.7h2.4v2.4h-2.4zM66.8 155.3h2.4v2.4h-2.4zM40.4 73.5h2.4v2.4h-2.4zM41.3 30.4h2.4v2.4h-2.4zM74.4 131.7h2.4v2.4h-2.4zM55.0 139.5h2.4v2.4h-2.4zM50.3 36.7h2.4v2.4h-2.4zM48.2 13.3h2.4v2.4h-2.4zM96.2 140.7h2.4v2.4h-2.4zM39.6 17.7h2.4v2.4h-2.4zM76.6 6.4h2.4v2.4h-2.4zM54.7 47.5h2.4v2.4h-2.4zM46.7 37.3h2.4v2.4h-2.4zM58.9 201.8h2.4v2.4h-2.4zM139.2 26.1h2.4v2.4h-2.4z"/>
</g></g>
<g clip-path="url(#cr)"><g fill="none" filter="url(#bl)">
<path stroke="#cf4a64" stroke-width="0.6" opacity="0.65" d="M386.6 116.1h1.8M387.5 115.2v1.8M388.8 105.4h1.8M389.7 104.5v1.8M406.0 103.5h1.8M406.9 102.6v1.8M364.2 142.9h1.8M365.1 142.0v1.8M401.3 98.8h1.8M402.2 97.9v1.8M414.7 138.8h1.8M415.6 137.9v1.8M384.4 125.3h1.8M385.3 124.4v1.8M364.6 108.7h1.8M365.5 107.8v1.8M429.5 136.3h1.8M430.4 135.4v1.8M375.6 177.8h1.8M376.5 176.9v1.8M352.9 107.7h1.8M353.8 106.8v1.8M345.8 155.2h1.8M346.7 154.3v1.8M438.0 31.4h1.8M438.9 30.5v1.8M389.9 129.3h1.8M390.8 128.4v1.8M388.3 191.2h1.8M389.2 190.3v1.8M349.5 88.8h1.8M350.4 87.9v1.8M380.6 151.1h1.8M381.5 150.2v1.8M403.3 117.4h1.8M404.2 116.5v1.8M379.7 161.0h1.8M380.6 160.1v1.8M366.9 138.8h1.8M367.8 137.9v1.8M406.8 138.4h1.8M407.7 137.5v1.8M350.6 166.1h1.8M351.5 165.2v1.8M419.5 195.2h1.8M420.4 194.3v1.8M443.8 125.4h1.8M444.7 124.5v1.8M363.4 133.2h1.8M364.3 132.3v1.8M374.8 139.0h1.8M375.7 138.1v1.8M369.3 95.7h1.8M370.2 94.8v1.8M422.9 152.2h1.8M423.8 151.3v1.8M499.5 83.7h1.8M500.4 82.8v1.8M374.9 143.9h1.8M375.8 143.0v1.8M358.1 143.2h1.8M359.0 142.3v1.8M357.6 77.6h1.8M358.5 76.7v1.8M361.0 244.7h1.8M361.9 243.8v1.8M412.3 129.4h1.8M413.2 128.5v1.8M404.5 125.7h1.8M405.4 124.8v1.8M411.5 222.3h1.8M412.4 221.4v1.8M380.3 180.8h1.8M381.2 179.9v1.8M398.0 177.0h1.8M398.9 176.1v1.8M386.2 155.7h1.8M387.1 154.8v1.8M388.1 127.0h1.8M389.0 126.1v1.8M397.4 136.4h1.8M398.3 135.5v1.8M361.4 103.6h1.8M362.3 102.7v1.8M349.0 100.4h1.8M349.9 99.5v1.8M409.9 88.4h1.8M410.8 87.5v1.8M439.5 101.3h1.8M440.4 100.4v1.8M371.1 101.2h1.8M372.0 100.3v1.8M380.0 111.1h1.8M380.9 110.2v1.8M403.6 124.6h1.8M404.5 123.7v1.8M344.7 160.9h1.8M345.6 160.0v1.8M390.7 112.6h1.8M391.6 111.7v1.8M350.2 111.9h1.8M351.1 111.0v1.8M353.4 157.0h1.8M354.3 156.1v1.8M371.3 142.2h1.8M372.2 141.3v1.8M433.5 154.9h1.8M434.4 154.0v1.8M476.6 80.0h1.8M477.5 79.1v1.8M353.8 92.2h1.8M354.7 91.3v1.8M444.5 121.1h1.8M445.4 120.2v1.8M421.0 137.7h1.8M421.9 136.8v1.8M408.0 64.7h1.8M408.9 63.8v1.8M421.4 149.1h1.8M422.3 148.2v1.8M368.3 146.4h1.8M369.2 145.5v1.8M433.9 107.5h1.8M434.8 106.6v1.8M351.3 157.3h1.8M352.2 156.4v1.8M389.2 165.5h1.8M390.1 164.6v1.8M408.5 101.8h1.8M409.4 100.9v1.8M377.5 147.4h1.8M378.4 146.5v1.8M374.5 251.9h1.8M375.4 251.0v1.8M390.1 129.2h1.8M391.0 128.3v1.8M461.6 88.5h1.8M462.5 87.6v1.8M456.3 109.8h1.8M457.2 108.9v1.8M367.7 164.7h1.8M368.6 163.8v1.8M389.2 156.6h1.8M390.1 155.7v1.8M382.3 165.0h1.8M383.2 164.1v1.8M389.8 145.3h1.8M390.7 144.4v1.8M430.8 123.7h1.8M431.7 122.8v1.8M372.8 129.5h1.8M373.7 128.6v1.8M364.7 168.8h1.8M365.6 167.9v1.8M383.2 156.5h1.8M384.1 155.6v1.8M361.2 173.8h1.8M362.1 172.9v1.8M406.3 115.3h1.8M407.2 114.4v1.8M355.6 144.2h1.8M356.5 143.3v1.8M398.8 141.6h1.8M399.7 140.7v1.8M378.7 140.1h1.8M379.6 139.2v1.8M509.8 45.0h1.8M510.7 44.1v1.8M348.8 161.4h1.8M349.7 160.5v1.8M394.4 136.6h1.8M395.3 135.7v1.8M369.8 140.6h1.8M370.7 139.7v1.8M359.3 180.0h1.8M360.2 179.1v1.8M396.7 177.0h1.8M397.6 176.1v1.8M429.8 138.3h1.8M430.7 137.4v1.8M404.7 153.3h1.8M405.6 152.4v1.8M364.9 142.6h1.8M365.8 141.7v1.8M383.5 123.4h1.8M384.4 122.5v1.8M373.9 183.2h1.8M374.8 182.3v1.8M369.8 144.7h1.8M370.7 143.8v1.8M459.0 99.2h1.8M459.9 98.3v1.8M362.6 128.4h1.8M363.5 127.5v1.8M385.5 133.0h1.8M386.4 132.1v1.8M410.5 122.5h1.8M411.4 121.6v1.8M355.3 98.8h1.8M356.2 97.9v1.8M365.9 185.8h1.8M366.8 184.9v1.8M397.6 174.0h1.8M398.5 173.1v1.8M391.3 111.5h1.8M392.2 110.6v1.8M463.6 120.5h1.8M464.5 119.6v1.8M406.5 165.5h1.8M407.4 164.6v1.8M349.9 96.2h1.8M350.8 95.3v1.8M449.4 111.1h1.8M450.3 110.2v1.8M424.0 121.8h1.8M424.9 120.9v1.8M432.8 147.5h1.8M433.7 146.6v1.8M462.0 106.1h1.8M462.9 105.2v1.8M345.2 140.3h1.8M346.1 139.4v1.8M417.5 100.0h1.8M418.4 99.1v1.8M377.9 125.3h1.8M378.8 124.4v1.8M446.4 158.9h1.8M447.3 158.0v1.8M352.8 133.8h1.8M353.7 132.9v1.8M412.0 96.8h1.8M412.9 95.9v1.8M389.6 152.2h1.8M390.5 151.3v1.8M387.5 114.7h1.8M388.4 113.8v1.8M368.0 124.2h1.8M368.9 123.3v1.8M367.9 128.6h1.8M368.8 127.7v1.8M398.0 124.5h1.8M398.9 123.6v1.8M389.5 99.8h1.8M390.4 98.9v1.8M402.2 104.9h1.8M403.1 104.0v1.8M409.6 127.0h1.8M410.5 126.1v1.8M406.2 138.8h1.8M407.1 137.9v1.8M437.4 146.4h1.8M438.3 145.5v1.8M374.3 110.9h1.8M375.2 110.0v1.8M376.3 120.8h1.8M377.2 119.9v1.8M385.6 99.4h1.8M386.5 98.5v1.8M351.7 147.5h1.8M352.6 146.6v1.8M397.8 133.7h1.8M398.7 132.8v1.8M446.4 104.6h1.8M447.3 103.7v1.8M363.2 128.0h1.8M364.1 127.1v1.8M406.9 118.3h1.8M407.8 117.4v1.8M359.3 198.3h1.8M360.2 197.4v1.8M410.4 86.8h1.8M411.3 85.9v1.8M405.0 144.8h1.8M405.9 143.9v1.8M347.1 126.1h1.8M348.0 125.2v1.8M414.0 162.9h1.8M414.9 162.0v1.8M368.0 155.7h1.8M368.9 154.8v1.8M498.2 89.8h1.8M499.1 88.9v1.8M412.8 124.7h1.8M413.7 123.8v1.8M378.2 140.5h1.8M379.1 139.6v1.8M350.6 157.3h1.8M351.5 156.4v1.8M441.5 100.0h1.8M442.4 99.1v1.8M392.1 144.6h1.8M393.0 143.7v1.8M364.2 99.3h1.8M365.1 98.4v1.8M362.5 182.0h1.8M363.4 181.1v1.8M345.5 137.7h1.8M346.4 136.8v1.8M418.6 211.3h1.8M419.5 210.4v1.8M351.0 155.4h1.8M351.9 154.5v1.8M412.4 136.4h1.8M413.3 135.5v1.8M377.2 118.3h1.8M378.1 117.4v1.8M349.7 248.0h1.8M350.6 247.1v1.8M412.8 181.0h1.8M413.7 180.1v1.8M427.6 93.0h1.8M428.5 92.1v1.8M403.1 148.6h1.8M404.0 147.7v1.8M390.3 135.5h1.8M391.2 134.6v1.8M460.4 130.7h1.8M461.3 129.8v1.8M344.7 136.8h1.8M345.6 135.9v1.8M385.9 131.5h1.8M386.8 130.6v1.8M396.1 165.6h1.8M397.0 164.7v1.8M353.6 134.0h1.8M354.5 133.1v1.8M352.8 133.8h1.8M353.7 132.9v1.8M380.6 123.2h1.8M381.5 122.3v1.8M463.9 89.6h1.8M464.8 88.7v1.8M444.9 137.5h1.8M445.8 136.6v1.8M369.8 147.3h1.8M370.7 146.4v1.8M346.6 108.0h1.8M347.5 107.1v1.8M377.1 119.5h1.8M378.0 118.6v1.8M382.0 128.4h1.8M382.9 127.5v1.8M371.9 109.8h1.8M372.8 108.9v1.8M423.3 131.2h1.8M424.2 130.3v1.8M471.8 90.3h1.8M472.7 89.4v1.8M481.0 119.1h1.8M481.9 118.2v1.8M406.7 127.4h1.8M407.6 126.5v1.8M364.7 173.1h1.8M365.6 172.2v1.8M423.8 148.5h1.8M424.7 147.6v1.8M363.5 129.8h1.8M364.4 128.9v1.8M370.5 97.6h1.8M371.4 96.7v1.8M360.1 141.8h1.8M361.0 140.9v1.8M378.9 135.4h1.8M379.8 134.5v1.8M488.0 112.1h1.8M488.9 111.2v1.8M357.8 171.4h1.8M358.7 170.5v1.8M350.9 168.6h1.8M351.8 167.7v1.8M444.6 146.9h1.8M445.5 146.0v1.8M357.4 150.3h1.8M358.3 149.4v1.8M398.3 136.0h1.8M399.2 135.1v1.8M344.7 134.2h1.8M345.6 133.3v1.8M379.6 167.1h1.8M380.5 166.2v1.8M393.5 130.2h1.8M394.4 129.3v1.8M435.7 120.4h1.8M436.6 119.5v1.8M374.6 173.4h1.8M375.5 172.5v1.8M366.4 128.3h1.8M367.3 127.4v1.8M345.7 168.5h1.8M346.6 167.6v1.8M408.3 152.9h1.8M409.2 152.0v1.8M355.7 184.4h1.8M356.6 183.5v1.8M381.6 111.2h1.8M382.5 110.3v1.8M369.5 119.2h1.8M370.4 118.3v1.8M394.1 115.8h1.8M395.0 114.9v1.8M449.0 126.5h1.8M449.9 125.6v1.8M364.8 154.8h1.8M365.7 153.9v1.8M377.7 170.7h1.8M378.6 169.8v1.8M395.6 98.1h1.8M396.5 97.2v1.8M367.6 87.3h1.8M368.5 86.4v1.8M469.4 120.5h1.8M470.3 119.6v1.8M455.4 76.3h1.8M456.3 75.4v1.8M412.4 120.2h1.8M413.3 119.3v1.8M392.2 149.6h1.8M393.1 148.7v1.8M388.6 44.0h1.8M389.5 43.1v1.8M387.7 115.4h1.8M388.6 114.5v1.8M363.3 106.7h1.8M364.2 105.8v1.8M348.3 159.2h1.8M349.2 158.3v1.8M419.2 108.5h1.8M420.1 107.6v1.8M416.9 126.7h1.8M417.8 125.8v1.8M351.4 128.5h1.8M352.3 127.6v1.8M420.0 104.3h1.8M420.9 103.4v1.8M424.3 103.0h1.8M425.2 102.1v1.8M397.4 151.1h1.8M398.3 150.2v1.8M481.4 95.9h1.8M482.3 95.0v1.8M394.5 116.8h1.8M395.4 115.9v1.8M403.9 152.7h1.8M404.8 151.8v1.8M387.0 106.0h1.8M387.9 105.1v1.8M346.7 123.1h1.8M347.6 122.2v1.8M470.1 93.8h1.8M471.0 92.9v1.8M395.8 173.6h1.8M396.7 172.7v1.8M365.0 161.9h1.8M365.9 161.0v1.8M438.1 141.3h1.8M439.0 140.4v1.8M392.6 124.9h1.8M393.5 124.0v1.8M439.5 105.6h1.8M440.4 104.7v1.8M367.4 98.5h1.8M368.3 97.6v1.8M384.1 158.2h1.8M385.0 157.3v1.8M345.6 249.2h1.8M346.5 248.3v1.8M353.5 186.4h1.8M354.4 185.5v1.8M379.2 120.5h1.8M380.1 119.6v1.8M437.2 143.6h1.8M438.1 142.7v1.8M394.8 109.3h1.8M395.7 108.4v1.8M387.8 160.8h1.8M388.7 159.9v1.8M402.0 141.8h1.8M402.9 140.9v1.8M433.7 143.5h1.8M434.6 142.6v1.8M411.0 150.3h1.8M411.9 149.4v1.8M379.0 105.2h1.8M379.9 104.3v1.8M350.9 157.2h1.8M351.8 156.3v1.8M427.2 121.1h1.8M428.1 120.2v1.8M366.5 199.2h1.8M367.4 198.3v1.8M372.4 168.5h1.8M373.3 167.6v1.8M351.2 161.6h1.8M352.1 160.7v1.8M385.9 133.3h1.8M386.8 132.4v1.8M369.8 131.6h1.8M370.7 130.7v1.8M363.7 154.4h1.8M364.6 153.5v1.8M521.8 76.7h1.8M522.7 75.8v1.8M361.5 114.2h1.8M362.4 113.3v1.8M409.1 158.2h1.8M410.0 157.3v1.8M370.2 180.7h1.8M371.1 179.8v1.8M447.5 124.1h1.8M448.4 123.2v1.8M349.1 124.0h1.8M350.0 123.1v1.8M434.2 108.4h1.8M435.1 107.5v1.8M409.7 123.1h1.8M410.6 122.2v1.8M349.9 176.3h1.8M350.8 175.4v1.8M371.1 166.4h1.8M372.0 165.5v1.8M481.6 78.0h1.8M482.5 77.1v1.8M420.0 114.1h1.8M420.9 113.2v1.8M367.1 159.1h1.8M368.0 158.2v1.8M367.7 111.4h1.8M368.6 110.5v1.8M431.8 143.2h1.8M432.7 142.3v1.8M350.0 141.1h1.8M350.9 140.2v1.8M345.9 138.1h1.8M346.8 137.2v1.8M395.3 149.1h1.8M396.2 148.2v1.8M350.9 148.4h1.8M351.8 147.5v1.8M376.8 173.8h1.8M377.7 172.9v1.8M372.6 134.6h1.8M373.5 133.7v1.8M473.5 109.5h1.8M474.4 108.6v1.8M474.7 120.4h1.8M475.6 119.5v1.8M389.7 179.1h1.8M390.6 178.2v1.8M429.7 120.0h1.8M430.6 119.1v1.8M380.0 129.5h1.8M380.9 128.6v1.8M347.1 146.1h1.8M348.0 145.2v1.8M364.7 100.7h1.8M365.6 99.8v1.8M434.9 172.6h1.8M435.8 171.7v1.8M436.8 144.5h1.8M437.7 143.6v1.8M381.1 184.2h1.8M382.0 183.3v1.8M423.4 121.0h1.8M424.3 120.1v1.8M350.7 151.6h1.8M351.6 150.7v1.8M362.2 176.7h1.8M363.1 175.8v1.8M414.7 140.4h1.8M415.6 139.5v1.8M386.9 133.4h1.8M387.8 132.5v1.8M358.7 151.0h1.8M359.6 150.1v1.8M398.1 143.4h1.8M399.0 142.5v1.8M365.9 159.1h1.8M366.8 158.2v1.8M350.8 136.5h1.8M351.7 135.6v1.8M432.0 170.0h1.8M432.9 169.1v1.8M384.6 165.3h1.8M385.5 164.4v1.8M379.1 110.6h1.8M380.0 109.7v1.8M347.6 158.4h1.8M348.5 157.5v1.8M423.2 173.0h1.8M424.1 172.1v1.8M382.3 181.1h1.8M383.2 180.2v1.8M379.0 164.0h1.8M379.9 163.1v1.8M404.2 150.9h1.8M405.1 150.0v1.8M361.1 128.9h1.8M362.0 128.0v1.8M424.8 139.7h1.8M425.7 138.8v1.8M398.1 107.3h1.8M399.0 106.4v1.8M410.1 130.8h1.8M411.0 129.9v1.8M365.6 137.2h1.8M366.5 136.3v1.8M386.5 140.4h1.8M387.4 139.5v1.8M384.2 238.0h1.8M385.1 237.1v1.8M449.9 97.6h1.8M450.8 96.7v1.8M493.0 66.2h1.8M493.9 65.3v1.8M379.7 164.0h1.8M380.6 163.1v1.8M427.7 89.0h1.8M428.6 88.1v1.8M349.0 161.2h1.8M349.9 160.3v1.8M375.8 117.9h1.8M376.7 117.0v1.8M369.8 199.3h1.8M370.7 198.4v1.8M409.8 125.8h1.8M410.7 124.9v1.8M414.5 120.5h1.8M415.4 119.6v1.8M450.4 132.2h1.8M451.3 131.3v1.8M348.3 153.1h1.8M349.2 152.2v1.8M423.0 106.2h1.8M423.9 105.3v1.8M357.2 128.5h1.8M358.1 127.6v1.8M391.6 146.5h1.8M392.5 145.6v1.8M484.3 74.2h1.8M485.2 73.3v1.8M383.5 226.2h1.8M384.4 225.3v1.8M431.0 153.5h1.8M431.9 152.6v1.8M449.0 112.2h1.8M449.9 111.3v1.8M347.8 140.2h1.8M348.7 139.3v1.8M488.6 121.0h1.8M489.5 120.1v1.8M368.5 165.4h1.8M369.4 164.5v1.8M351.5 166.5h1.8M352.4 165.6v1.8M373.0 133.2h1.8M373.9 132.3v1.8M388.8 140.2h1.8M389.7 139.3v1.8M384.0 153.1h1.8M384.9 152.2v1.8M491.8 46.5h1.8M492.7 45.6v1.8M373.6 121.0h1.8M374.5 120.1v1.8M431.1 116.5h1.8M432.0 115.6v1.8M389.2 151.1h1.8M390.1 150.2v1.8M393.0 88.1h1.8M393.9 87.2v1.8M461.6 126.4h1.8M462.5 125.5v1.8M412.6 165.4h1.8M413.5 164.5v1.8M422.2 132.1h1.8M423.1 131.2v1.8M399.6 153.1h1.8M400.5 152.2v1.8M368.4 143.5h1.8M369.3 142.6v1.8M401.5 121.1h1.8M402.4 120.2v1.8M413.8 131.3h1.8M414.7 130.4v1.8M381.0 88.0h1.8M381.9 87.1v1.8M417.6 139.2h1.8M418.5 138.3v1.8M373.1 147.3h1.8M374.0 146.4v1.8M423.9 139.1h1.8M424.8 138.2v1.8M386.3 202.2h1.8M387.2 201.3v1.8M389.5 209.2h1.8M390.4 208.3v1.8M401.1 146.9h1.8M402.0 146.0v1.8M430.0 135.3h1.8M430.9 134.4v1.8M363.4 202.8h1.8M364.3 201.9v1.8M364.3 167.9h1.8M365.2 167.0v1.8M365.2 118.1h1.8M366.1 117.2v1.8M396.4 88.2h1.8M397.3 87.3v1.8M381.1 84.6h1.8M382.0 83.7v1.8M408.4 141.4h1.8M409.3 140.5v1.8M435.9 92.7h1.8M436.8 91.8v1.8M372.1 121.6h1.8M373.0 120.7v1.8M425.1 117.2h1.8M426.0 116.3v1.8M384.8 82.2h1.8M385.7 81.3v1.8M423.9 112.7h1.8M424.8 111.8v1.8M431.1 130.2h1.8M432.0 129.3v1.8M410.9 167.8h1.8M411.8 166.9v1.8M353.3 128.7h1.8M354.2 127.8v1.8M377.4 109.3h1.8M378.3 108.4v1.8M392.2 126.5h1.8M393.1 125.6v1.8M347.1 223.7h1.8M348.0 222.8v1.8M387.4 109.9h1.8M388.3 109.0v1.8M426.4 130.1h1.8M427.3 129.2v1.8M498.7 89.0h1.8M499.6 88.1v1.8M358.9 155.6h1.8M359.8 154.7v1.8M353.2 92.0h1.8M354.1 91.1v1.8M377.6 191.7h1.8M378.5 190.8v1.8M408.0 94.7h1.8M408.9 93.8v1.8M388.4 144.1h1.8M389.3 143.2v1.8M444.9 109.7h1.8M445.8 108.8v1.8M366.3 197.9h1.8M367.2 197.0v1.8M412.1 121.7h1.8M413.0 120.8v1.8M396.3 114.6h1.8M397.2 113.7v1.8M478.2 86.4h1.8M479.1 85.5v1.8M451.9 109.9h1.8M452.8 109.0v1.8M381.6 148.8h1.8M382.5 147.9v1.8M394.8 83.8h1.8M395.7 82.9v1.8M373.9 106.4h1.8M374.8 105.5v1.8M349.2 125.3h1.8M350.1 124.4v1.8M364.3 143.1h1.8M365.2 142.2v1.8M362.8 142.1h1.8M363.7 141.2v1.8M354.7 112.5h1.8M355.6 111.6v1.8M415.4 139.1h1.8M416.3 138.2v1.8M431.4 112.8h1.8M432.3 111.9v1.8M415.2 125.5h1.8M416.1 124.6v1.8M360.3 161.4h1.8M361.2 160.5v1.8M361.1 139.0h1.8M362.0 138.1v1.8M397.7 186.2h1.8M398.6 185.3v1.8M379.1 221.9h1.8M380.0 221.0v1.8M411.9 123.5h1.8M412.8 122.6v1.8M400.5 144.9h1.8M401.4 144.0v1.8M430.4 151.2h1.8M431.3 150.3v1.8M399.9 74.1h1.8M400.8 73.2v1.8M372.0 106.0h1.8M372.9 105.1v1.8M417.6 144.7h1.8M418.5 143.8v1.8M359.1 137.6h1.8M360.0 136.7v1.8M345.3 136.6h1.8M346.2 135.7v1.8M366.8 189.5h1.8M367.7 188.6v1.8M399.1 117.5h1.8M400.0 116.6v1.8M417.0 120.9h1.8M417.9 120.0v1.8M370.1 107.5h1.8M371.0 106.6v1.8M389.3 107.2h1.8M390.2 106.3v1.8M399.9 185.2h1.8M400.8 184.3v1.8M403.4 167.5h1.8M404.3 166.6v1.8M391.6 168.5h1.8M392.5 167.6v1.8M377.9 154.1h1.8M378.8 153.2v1.8M432.4 105.5h1.8M433.3 104.6v1.8M390.0 129.9h1.8M390.9 129.0v1.8M357.1 142.0h1.8M358.0 141.1v1.8M412.9 149.9h1.8M413.8 149.0v1.8M357.8 115.2h1.8M358.7 114.3v1.8M404.7 136.5h1.8M405.6 135.6v1.8M371.7 151.1h1.8M372.6 150.2v1.8M494.5 76.2h1.8M495.4 75.3v1.8M350.0 162.4h1.8M350.9 161.5v1.8M398.1 91.5h1.8M399.0 90.6v1.8M409.0 131.7h1.8M409.9 130.8v1.8M381.0 182.6h1.8M381.9 181.7v1.8M351.3 128.3h1.8M352.2 127.4v1.8M384.9 155.8h1.8M385.8 154.9v1.8M365.9 134.5h1.8M366.8 133.6v1.8M424.5 146.0h1.8M425.4 145.1v1.8M359.4 108.0h1.8M360.3 107.1v1.8M399.0 160.1h1.8M399.9 159.2v1.8M378.6 96.2h1.8M379.5 95.3v1.8M358.3 173.6h1.8M359.2 172.7v1.8M396.3 155.6h1.8M397.2 154.7v1.8M436.5 142.2h1.8M437.4 141.3v1.8M353.6 137.4h1.8M354.5 136.5v1.8M465.6 95.6h1.8M466.5 94.7v1.8M513.1 67.5h1.8M514.0 66.6v1.8M367.5 113.5h1.8M368.4 112.6v1.8M387.4 118.7h1.8M388.3 117.8v1.8M365.2 221.4h1.8M366.1 220.5v1.8M351.6 85.9h1.8M352.5 85.0v1.8M361.7 127.8h1.8M362.6 126.9v1.8M388.6 135.4h1.8M389.5 134.5v1.8M352.0 108.6h1.8M352.9 107.7v1.8M389.8 67.9h1.8M390.7 67.0v1.8M382.4 195.7h1.8M383.3 194.8v1.8M461.1 101.4h1.8M462.0 100.5v1.8M374.1 91.8h1.8M375.0 90.9v1.8M360.3 86.8h1.8M361.2 85.9v1.8M351.2 86.0h1.8M352.1 85.1v1.8M394.2 128.6h1.8M395.1 127.7v1.8M361.8 150.2h1.8M362.7 149.3v1.8M356.6 176.1h1.8M357.5 175.2v1.8M366.9 126.8h1.8M367.8 125.9v1.8M433.6 126.0h1.8M434.5 125.1v1.8M425.8 145.0h1.8M426.7 144.1v1.8M370.8 167.2h1.8M371.7 166.3v1.8M378.3 162.7h1.8M379.2 161.8v1.8M394.2 138.1h1.8M395.1 137.2v1.8M365.6 135.9h1.8M366.5 135.0v1.8M437.8 157.1h1.8M438.7 156.2v1.8M359.2 132.0h1.8M360.1 131.1v1.8M434.7 128.4h1.8M435.6 127.5v1.8M398.8 159.7h1.8M399.7 158.8v1.8M380.5 113.3h1.8M381.4 112.4v1.8M381.6 184.5h1.8M382.5 183.6v1.8M431.4 123.8h1.8M432.3 122.9v1.8M375.6 157.8h1.8M376.5 156.9v1.8M361.1 170.8h1.8M362.0 169.9v1.8M368.5 202.7h1.8M369.4 201.8v1.8M389.3 136.1h1.8M390.2 135.2v1.8M369.7 119.9h1.8M370.6 119.0v1.8M345.2 159.5h1.8M346.1 158.6v1.8M400.8 142.8h1.8M401.7 141.9v1.8M387.2 114.3h1.8M388.1 113.4v1.8M365.7 123.2h1.8M366.6 122.3v1.8M369.5 118.2h1.8M370.4 117.3v1.8M395.8 105.3h1.8M396.7 104.4v1.8M399.0 137.5h1.8M399.9 136.6v1.8M489.2 131.4h1.8M490.1 130.5v1.8M373.6 138.8h1.8M374.5 137.9v1.8M423.0 192.0h1.8M423.9 191.1v1.8M395.1 125.0h1.8M396.0 124.1v1.8M463.7 107.3h1.8M464.6 106.4v1.8M369.9 129.7h1.8M370.8 128.8v1.8M360.2 131.8h1.8M361.1 130.9v1.8M353.1 179.7h1.8M354.0 178.8v1.8M370.2 142.7h1.8M371.1 141.8v1.8M443.4 106.3h1.8M444.3 105.4v1.8M368.8 170.2h1.8M369.7 169.3v1.8M356.7 142.6h1.8M357.6 141.7v1.8M440.5 121.0h1.8M441.4 120.1v1.8M365.1 216.5h1.8M366.0 215.6v1.8M348.5 183.0h1.8M349.4 182.1v1.8M371.9 164.7h1.8M372.8 163.8v1.8M384.4 157.9h1.8M385.3 157.0v1.8M349.5 154.6h1.8M350.4 153.7v1.8M444.4 122.8h1.8M445.3 121.9v1.8M372.6 138.0h1.8M373.5 137.1v1.8M388.5 175.6h1.8M389.4 174.7v1.8M360.5 162.7h1.8M361.4 161.8v1.8M374.6 162.7h1.8M375.5 161.8v1.8M439.3 117.0h1.8M440.2 116.1v1.8M385.6 105.1h1.8M386.5 104.2v1.8M385.9 137.5h1.8M386.8 136.6v1.8M401.4 132.1h1.8M402.3 131.2v1.8M438.3 134.9h1.8M439.2 134.0v1.8M358.6 110.3h1.8M359.5 109.4v1.8M383.1 143.2h1.8M384.0 142.3v1.8M373.9 111.9h1.8M374.8 111.0v1.8M383.6 192.9h1.8M384.5 192.0v1.8M359.7 148.5h1.8M360.6 147.6v1.8M347.6 160.2h1.8M348.5 159.3v1.8M422.8 156.5h1.8M423.7 155.6v1.8M371.2 125.0h1.8M372.1 124.1v1.8M406.7 114.1h1.8M407.6 113.2v1.8M362.1 150.1h1.8M363.0 149.2v1.8M390.9 155.2h1.8M391.8 154.3v1.8M383.3 159.9h1.8M384.2 159.0v1.8M370.5 200.9h1.8M371.4 200.0v1.8M420.2 132.6h1.8M421.1 131.7v1.8M405.4 176.6h1.8M406.3 175.7v1.8M387.2 115.1h1.8M388.1 114.2v1.8M488.7 44.7h1.8M489.6 43.8v1.8M418.5 128.2h1.8M419.4 127.3v1.8M395.9 118.3h1.8M396.8 117.4v1.8M352.5 129.1h1.8M353.4 128.2v1.8M350.5 112.0h1.8M351.4 111.1v1.8M436.3 61.3h1.8M437.2 60.4v1.8M418.6 112.5h1.8M419.5 111.6v1.8M416.8 86.9h1.8M417.7 86.0v1.8M389.9 163.7h1.8M390.8 162.8v1.8M391.5 152.2h1.8M392.4 151.3v1.8M346.8 116.4h1.8M347.7 115.5v1.8M413.8 146.2h1.8M414.7 145.3v1.8M353.3 122.3h1.8M354.2 121.4v1.8M497.9 74.8h1.8M498.8 73.9v1.8M354.2 118.7h1.8M355.1 117.8v1.8M374.8 155.3h1.8M375.7 154.4v1.8M413.1 153.3h1.8M414.0 152.4v1.8M350.9 129.6h1.8M351.8 128.7v1.8M356.5 153.5h1.8M357.4 152.6v1.8M420.6 139.6h1.8M421.5 138.7v1.8M372.9 159.9h1.8M373.8 159.0v1.8M389.4 115.6h1.8M390.3 114.7v1.8M400.2 154.9h1.8M401.1 154.0v1.8M425.1 161.5h1.8M426.0 160.6v1.8"/>
<path stroke="#cf4a64" stroke-width="0.6" opacity="0.65" d="M387.0 133.8h1.8M387.9 132.9v1.8M358.9 190.9h1.8M359.8 190.0v1.8M390.9 74.1h1.8M391.8 73.2v1.8M414.2 144.6h1.8M415.1 143.7v1.8M415.9 123.8h1.8M416.8 122.9v1.8M395.7 146.3h1.8M396.6 145.4v1.8M373.6 115.6h1.8M374.5 114.7v1.8M372.0 180.8h1.8M372.9 179.9v1.8M385.0 166.2h1.8M385.9 165.3v1.8M374.8 172.6h1.8M375.7 171.7v1.8M401.5 159.0h1.8M402.4 158.1v1.8M386.9 151.7h1.8M387.8 150.8v1.8M365.1 101.1h1.8M366.0 100.2v1.8M398.1 195.8h1.8M399.0 194.9v1.8M395.6 192.7h1.8M396.5 191.8v1.8M347.5 164.4h1.8M348.4 163.5v1.8M372.7 108.7h1.8M373.6 107.8v1.8M369.7 169.1h1.8M370.6 168.2v1.8M384.5 110.5h1.8M385.4 109.6v1.8M410.5 172.3h1.8M411.4 171.4v1.8M351.8 155.6h1.8M352.7 154.7v1.8M369.8 120.1h1.8M370.7 119.2v1.8M363.3 152.4h1.8M364.2 151.5v1.8M366.9 159.0h1.8M367.8 158.1v1.8M377.6 121.3h1.8M378.5 120.4v1.8M363.9 123.7h1.8M364.8 122.8v1.8M411.5 172.5h1.8M412.4 171.6v1.8M414.8 111.8h1.8M415.7 110.9v1.8M395.7 116.5h1.8M396.6 115.6v1.8M361.3 143.4h1.8M362.2 142.5v1.8M400.1 137.8h1.8M401.0 136.9v1.8M365.1 142.9h1.8M366.0 142.0v1.8M380.7 148.2h1.8M381.6 147.3v1.8M396.6 97.5h1.8M397.5 96.6v1.8M380.5 179.8h1.8M381.4 178.9v1.8M387.8 130.4h1.8M388.7 129.5v1.8M383.4 120.0h1.8M384.3 119.1v1.8M365.2 179.3h1.8M366.1 178.4v1.8M411.1 131.2h1.8M412.0 130.3v1.8M431.6 132.5h1.8M432.5 131.6v1.8M383.4 151.2h1.8M384.3 150.3v1.8M349.2 93.0h1.8M350.1 92.1v1.8M402.2 127.9h1.8M403.1 127.0v1.8M345.5 158.6h1.8M346.4 157.7v1.8M362.3 145.8h1.8M363.2 144.9v1.8M360.0 149.7h1.8M360.9 148.8v1.8M375.6 138.6h1.8M376.5 137.7v1.8M397.9 167.7h1.8M398.8 166.8v1.8M411.7 81.7h1.8M412.6 80.8v1.8M367.7 134.7h1.8M368.6 133.8v1.8M422.1 131.6h1.8M423.0 130.7v1.8M364.1 132.0h1.8M365.0 131.1v1.8M419.9 123.9h1.8M420.8 123.0v1.8M389.6 157.8h1.8M390.5 156.9v1.8M443.7 153.1h1.8M444.6 152.2v1.8M400.2 126.3h1.8M401.1 125.4v1.8M409.4 158.5h1.8M410.3 157.6v1.8M385.4 111.9h1.8M386.3 111.0v1.8M393.7 150.4h1.8M394.6 149.5v1.8M361.4 100.7h1.8M362.3 99.8v1.8M403.4 79.2h1.8M404.3 78.3v1.8M415.2 125.0h1.8M416.1 124.1v1.8M388.0 155.4h1.8M388.9 154.5v1.8M464.3 106.4h1.8M465.2 105.5v1.8M412.5 126.8h1.8M413.4 125.9v1.8M349.1 126.7h1.8M350.0 125.8v1.8M420.1 162.4h1.8M421.0 161.5v1.8M377.0 139.1h1.8M377.9 138.2v1.8M353.1 123.2h1.8M354.0 122.3v1.8M353.5 106.7h1.8M354.4 105.8v1.8M349.9 130.7h1.8M350.8 129.8v1.8M399.7 165.6h1.8M400.6 164.7v1.8M361.9 103.6h1.8M362.8 102.7v1.8M362.6 125.0h1.8M363.5 124.1v1.8M408.2 126.3h1.8M409.1 125.4v1.8M356.5 173.4h1.8M357.4 172.5v1.8M418.5 162.5h1.8M419.4 161.6v1.8M379.2 159.2h1.8M380.1 158.3v1.8M351.1 130.7h1.8M352.0 129.8v1.8M365.5 134.2h1.8M366.4 133.3v1.8M403.4 160.2h1.8M404.3 159.3v1.8M359.0 138.5h1.8M359.9 137.6v1.8M373.6 142.6h1.8M374.5 141.7v1.8M354.2 201.9h1.8M355.1 201.0v1.8M411.0 143.4h1.8M411.9 142.5v1.8M372.9 137.9h1.8M373.8 137.0v1.8M437.1 171.7h1.8M438.0 170.8v1.8M394.0 115.4h1.8M394.9 114.5v1.8M396.3 162.0h1.8M397.2 161.1v1.8M368.3 159.0h1.8M369.2 158.1v1.8M381.7 178.9h1.8M382.6 178.0v1.8M413.1 114.7h1.8M414.0 113.8v1.8M372.8 192.9h1.8M373.7 192.0v1.8M359.2 128.0h1.8M360.1 127.1v1.8M373.7 110.7h1.8M374.6 109.8v1.8M399.6 135.5h1.8M400.5 134.6v1.8M375.7 125.4h1.8M376.6 124.5v1.8M373.8 147.6h1.8M374.7 146.7v1.8M384.9 114.6h1.8M385.8 113.7v1.8M373.8 123.8h1.8M374.7 122.9v1.8M454.0 140.5h1.8M454.9 139.6v1.8M355.0 155.3h1.8M355.9 154.4v1.8M405.5 161.0h1.8M406.4 160.1v1.8M406.8 110.7h1.8M407.7 109.8v1.8M356.5 150.5h1.8M357.4 149.6v1.8M362.0 173.3h1.8M362.9 172.4v1.8M420.3 174.0h1.8M421.2 173.1v1.8M349.6 134.9h1.8M350.5 134.0v1.8M404.4 137.4h1.8M405.3 136.5v1.8M386.2 115.7h1.8M387.1 114.8v1.8M362.6 158.7h1.8M363.5 157.8v1.8M415.7 163.1h1.8M416.6 162.2v1.8M388.7 92.2h1.8M389.6 91.3v1.8M426.2 135.1h1.8M427.1 134.2v1.8M419.1 128.9h1.8M420.0 128.0v1.8M416.6 126.0h1.8M417.5 125.1v1.8M435.4 144.9h1.8M436.3 144.0v1.8M370.0 96.8h1.8M370.9 95.9v1.8M430.4 129.2h1.8M431.3 128.3v1.8M384.7 144.5h1.8M385.6 143.6v1.8M405.5 181.0h1.8M406.4 180.1v1.8M459.4 92.3h1.8M460.3 91.4v1.8M350.2 96.3h1.8M351.1 95.4v1.8M372.5 149.5h1.8M373.4 148.6v1.8M516.2 97.9h1.8M517.1 97.0v1.8M382.6 163.3h1.8M383.5 162.4v1.8M364.7 194.1h1.8M365.6 193.2v1.8M430.0 156.4h1.8M430.9 155.5v1.8M368.3 144.1h1.8M369.2 143.2v1.8M366.4 178.1h1.8M367.3 177.2v1.8M389.4 119.4h1.8M390.3 118.5v1.8M476.0 73.1h1.8M476.9 72.2v1.8M376.9 111.8h1.8M377.8 110.9v1.8M375.6 113.8h1.8M376.5 112.9v1.8M381.5 128.3h1.8M382.4 127.4v1.8M373.9 164.8h1.8M374.8 163.9v1.8M455.3 130.9h1.8M456.2 130.0v1.8M370.5 107.3h1.8M371.4 106.4v1.8M348.7 123.4h1.8M349.6 122.5v1.8M414.5 148.9h1.8M415.4 148.0v1.8M348.2 161.6h1.8M349.1 160.7v1.8M415.2 171.4h1.8M416.1 170.5v1.8M362.2 143.9h1.8M363.1 143.0v1.8M379.8 137.3h1.8M380.7 136.4v1.8M405.1 163.4h1.8M406.0 162.5v1.8M358.8 172.7h1.8M359.7 171.8v1.8M421.5 140.7h1.8M422.4 139.8v1.8M356.0 145.4h1.8M356.9 144.5v1.8M357.0 142.8h1.8M357.9 141.9v1.8M379.0 157.3h1.8M379.9 156.4v1.8M393.2 122.7h1.8M394.1 121.8v1.8M409.0 123.6h1.8M409.9 122.7v1.8M380.9 145.0h1.8M381.8 144.1v1.8M351.8 123.1h1.8M352.7 122.2v1.8M407.8 147.8h1.8M408.7 146.9v1.8M404.8 128.0h1.8M405.7 127.1v1.8M366.2 132.8h1.8M367.1 131.9v1.8M376.8 124.8h1.8M377.7 123.9v1.8M355.3 131.1h1.8M356.2 130.2v1.8M395.8 128.5h1.8M396.7 127.6v1.8M370.0 167.8h1.8M370.9 166.9v1.8M463.4 99.1h1.8M464.3 98.2v1.8M399.8 149.4h1.8M400.7 148.5v1.8M359.9 112.4h1.8M360.8 111.5v1.8M398.2 155.7h1.8M399.1 154.8v1.8M364.7 165.7h1.8M365.6 164.8v1.8M414.9 105.2h1.8M415.8 104.3v1.8M366.0 105.8h1.8M366.9 104.9v1.8M401.2 143.3h1.8M402.1 142.4v1.8M374.4 121.4h1.8M375.3 120.5v1.8M378.8 167.8h1.8M379.7 166.9v1.8M406.3 135.3h1.8M407.2 134.4v1.8M355.0 133.0h1.8M355.9 132.1v1.8M385.1 119.5h1.8M386.0 118.6v1.8M417.5 136.8h1.8M418.4 135.9v1.8M374.6 158.1h1.8M375.5 157.2v1.8M379.5 120.9h1.8M380.4 120.0v1.8M418.3 55.7h1.8M419.2 54.8v1.8M431.6 124.0h1.8M432.5 123.1v1.8M374.6 131.8h1.8M375.5 130.9v1.8M406.7 175.5h1.8M407.6 174.6v1.8M394.3 109.8h1.8M395.2 108.9v1.8M421.3 138.0h1.8M422.2 137.1v1.8M384.7 156.1h1.8M385.6 155.2v1.8M409.8 147.9h1.8M410.7 147.0v1.8M403.5 172.3h1.8M404.4 171.4v1.8M398.7 122.9h1.8M399.6 122.0v1.8M414.0 153.6h1.8M414.9 152.7v1.8M467.9 95.6h1.8M468.8 94.7v1.8M421.0 130.2h1.8M421.9 129.3v1.8M416.3 96.7h1.8M417.2 95.8v1.8M400.4 143.2h1.8M401.3 142.3v1.8M405.7 108.6h1.8M406.6 107.7v1.8M396.0 135.9h1.8M396.9 135.0v1.8M374.9 124.6h1.8M375.8 123.7v1.8M431.7 121.2h1.8M432.6 120.3v1.8M405.9 153.5h1.8M406.8 152.6v1.8M370.9 133.6h1.8M371.8 132.7v1.8M358.4 139.9h1.8M359.3 139.0v1.8M372.4 138.0h1.8M373.3 137.1v1.8M369.1 146.7h1.8M370.0 145.8v1.8M416.9 189.2h1.8M417.8 188.3v1.8M478.4 83.2h1.8M479.3 82.3v1.8M419.2 99.4h1.8M420.1 98.5v1.8M372.2 180.7h1.8M373.1 179.8v1.8M355.9 115.4h1.8M356.8 114.5v1.8M385.8 145.1h1.8M386.7 144.2v1.8M467.5 130.6h1.8M468.4 129.7v1.8M359.7 138.4h1.8M360.6 137.5v1.8M416.5 137.2h1.8M417.4 136.3v1.8M382.0 121.8h1.8M382.9 120.9v1.8M392.8 140.4h1.8M393.7 139.5v1.8M352.4 173.1h1.8M353.3 172.2v1.8M371.4 157.3h1.8M372.3 156.4v1.8M360.5 84.1h1.8M361.4 83.2v1.8M357.4 150.0h1.8M358.3 149.1v1.8M397.3 150.0h1.8M398.2 149.1v1.8M380.7 147.4h1.8M381.6 146.5v1.8M416.4 183.5h1.8M417.3 182.6v1.8M406.8 131.6h1.8M407.7 130.7v1.8M443.7 109.4h1.8M444.6 108.5v1.8M378.6 127.5h1.8M379.5 126.6v1.8M382.8 144.1h1.8M383.7 143.2v1.8M418.9 137.0h1.8M419.8 136.1v1.8M390.7 106.8h1.8M391.6 105.9v1.8M425.4 189.3h1.8M426.3 188.4v1.8M352.5 140.2h1.8M353.4 139.3v1.8M362.3 135.0h1.8M363.2 134.1v1.8M394.6 169.8h1.8M395.5 168.9v1.8M381.5 229.0h1.8M382.4 228.1v1.8M353.9 116.8h1.8M354.8 115.9v1.8M371.7 172.2h1.8M372.6 171.3v1.8M395.9 121.0h1.8M396.8 120.1v1.8M348.0 178.3h1.8M348.9 177.4v1.8M462.7 110.1h1.8M463.6 109.2v1.8M397.0 142.0h1.8M397.9 141.1v1.8M387.6 127.6h1.8M388.5 126.7v1.8M396.6 115.7h1.8M397.5 114.8v1.8M404.3 153.3h1.8M405.2 152.4v1.8M416.7 114.9h1.8M417.6 114.0v1.8M426.0 110.1h1.8M426.9 109.2v1.8M380.4 58.1h1.8M381.3 57.2v1.8M374.0 139.2h1.8M374.9 138.3v1.8M434.5 134.3h1.8M435.4 133.4v1.8M373.4 148.5h1.8M374.3 147.6v1.8M407.3 161.1h1.8M408.2 160.2v1.8M497.4 64.9h1.8M498.3 64.0v1.8M354.8 235.9h1.8M355.7 235.0v1.8M387.8 164.2h1.8M388.7 163.3v1.8M387.8 123.3h1.8M388.7 122.4v1.8M460.0 76.6h1.8M460.9 75.7v1.8M495.2 61.5h1.8M496.1 60.6v1.8M375.5 156.5h1.8M376.4 155.6v1.8M484.9 104.6h1.8M485.8 103.7v1.8M390.1 124.6h1.8M391.0 123.7v1.8M351.9 181.6h1.8M352.8 180.7v1.8M426.2 170.4h1.8M427.1 169.5v1.8M346.3 130.6h1.8M347.2 129.7v1.8M351.9 147.1h1.8M352.8 146.2v1.8M429.4 120.2h1.8M430.3 119.3v1.8M356.0 164.4h1.8M356.9 163.5v1.8M404.6 90.5h1.8M405.5 89.6v1.8M362.8 154.7h1.8M363.7 153.8v1.8M367.7 123.5h1.8M368.6 122.6v1.8M365.2 99.8h1.8M366.1 98.9v1.8M363.5 139.5h1.8M364.4 138.6v1.8M345.1 189.9h1.8M346.0 189.0v1.8M359.0 143.2h1.8M359.9 142.3v1.8M386.5 113.5h1.8M387.4 112.6v1.8M362.9 96.2h1.8M363.8 95.3v1.8M498.1 78.9h1.8M499.0 78.0v1.8M382.2 120.6h1.8M383.1 119.7v1.8M389.0 164.8h1.8M389.9 163.9v1.8M400.1 133.4h1.8M401.0 132.5v1.8M374.6 132.0h1.8M375.5 131.1v1.8M401.7 109.7h1.8M402.6 108.8v1.8M379.4 122.6h1.8M380.3 121.7v1.8M366.8 131.8h1.8M367.7 130.9v1.8M385.2 100.8h1.8M386.1 99.9v1.8M421.9 117.4h1.8M422.8 116.5v1.8M414.2 113.3h1.8M415.1 112.4v1.8M457.9 124.5h1.8M458.8 123.6v1.8M355.9 105.3h1.8M356.8 104.4v1.8M379.9 147.6h1.8M380.8 146.7v1.8M372.1 163.8h1.8M373.0 162.9v1.8M362.5 158.5h1.8M363.4 157.6v1.8M417.1 126.7h1.8M418.0 125.8v1.8M444.4 90.7h1.8M445.3 89.8v1.8M435.2 109.2h1.8M436.1 108.3v1.8M438.8 134.4h1.8M439.7 133.5v1.8M402.9 89.1h1.8M403.8 88.2v1.8M375.8 159.6h1.8M376.7 158.7v1.8M346.1 111.8h1.8M347.0 110.9v1.8M357.1 95.5h1.8M358.0 94.6v1.8M419.6 124.2h1.8M420.5 123.3v1.8M385.9 97.4h1.8M386.8 96.5v1.8M403.5 108.9h1.8M404.4 108.0v1.8M364.8 126.1h1.8M365.7 125.2v1.8M364.8 168.0h1.8M365.7 167.1v1.8M416.9 147.1h1.8M417.8 146.2v1.8M355.2 127.2h1.8M356.1 126.3v1.8M459.5 107.5h1.8M460.4 106.6v1.8M376.9 109.1h1.8M377.8 108.2v1.8M381.6 212.8h1.8M382.5 211.9v1.8M392.7 128.4h1.8M393.6 127.5v1.8M401.7 17.2h1.8M402.6 16.3v1.8M403.1 100.6h1.8M404.0 99.7v1.8M378.8 152.5h1.8M379.7 151.6v1.8M386.7 145.2h1.8M387.6 144.3v1.8M404.3 137.2h1.8M405.2 136.3v1.8M406.3 132.6h1.8M407.2 131.7v1.8M426.7 97.0h1.8M427.6 96.1v1.8M385.1 127.3h1.8M386.0 126.4v1.8M365.5 152.3h1.8M366.4 151.4v1.8M405.2 128.7h1.8M406.1 127.8v1.8M354.9 108.1h1.8M355.8 107.2v1.8M379.7 125.5h1.8M380.6 124.6v1.8M347.2 157.2h1.8M348.1 156.3v1.8M357.1 136.0h1.8M358.0 135.1v1.8M367.2 131.7h1.8M368.1 130.8v1.8M373.8 119.9h1.8M374.7 119.0v1.8M414.3 127.9h1.8M415.2 127.0v1.8M383.4 135.3h1.8M384.3 134.4v1.8M408.8 114.0h1.8M409.7 113.1v1.8M367.4 124.9h1.8M368.3 124.0v1.8M354.1 167.8h1.8M355.0 166.9v1.8M395.6 145.8h1.8M396.5 144.9v1.8M396.4 120.7h1.8M397.3 119.8v1.8M362.2 136.4h1.8M363.1 135.5v1.8M389.0 116.2h1.8M389.9 115.3v1.8M374.3 99.9h1.8M375.2 99.0v1.8M455.6 127.9h1.8M456.5 127.0v1.8M347.1 108.1h1.8M348.0 107.2v1.8M407.4 175.8h1.8M408.3 174.9v1.8M375.8 121.9h1.8M376.7 121.0v1.8M458.2 103.8h1.8M459.1 102.9v1.8M349.4 116.4h1.8M350.3 115.5v1.8M358.3 115.3h1.8M359.2 114.4v1.8M359.3 118.4h1.8M360.2 117.5v1.8M392.3 136.3h1.8M393.2 135.4v1.8M424.7 102.9h1.8M425.6 102.0v1.8M362.3 159.2h1.8M363.2 158.3v1.8M375.7 172.4h1.8M376.6 171.5v1.8M383.7 102.6h1.8M384.6 101.7v1.8M377.2 135.8h1.8M378.1 134.9v1.8M371.4 85.6h1.8M372.3 84.7v1.8M383.0 129.6h1.8M383.9 128.7v1.8M394.3 130.2h1.8M395.2 129.3v1.8M345.3 135.2h1.8M346.2 134.3v1.8M407.4 118.1h1.8M408.3 117.2v1.8M439.2 90.2h1.8M440.1 89.3v1.8M380.9 149.6h1.8M381.8 148.7v1.8M347.9 126.1h1.8M348.8 125.2v1.8M363.8 149.7h1.8M364.7 148.8v1.8M355.8 115.4h1.8M356.7 114.5v1.8M349.1 135.7h1.8M350.0 134.8v1.8M383.3 135.3h1.8M384.2 134.4v1.8M490.4 115.9h1.8M491.3 115.0v1.8M383.9 125.1h1.8M384.8 124.2v1.8M380.8 118.1h1.8M381.7 117.2v1.8M355.4 160.6h1.8M356.3 159.7v1.8M400.0 118.7h1.8M400.9 117.8v1.8M356.2 87.6h1.8M357.1 86.7v1.8M413.1 154.7h1.8M414.0 153.8v1.8M436.9 104.0h1.8M437.8 103.1v1.8M431.4 120.5h1.8M432.3 119.6v1.8M370.3 149.9h1.8M371.2 149.0v1.8M393.7 100.8h1.8M394.6 99.9v1.8M350.3 150.4h1.8M351.2 149.5v1.8M361.7 112.1h1.8M362.6 111.2v1.8M426.9 128.5h1.8M427.8 127.6v1.8M378.3 128.1h1.8M379.2 127.2v1.8M384.8 169.4h1.8M385.7 168.5v1.8M387.9 124.9h1.8M388.8 124.0v1.8M385.0 133.1h1.8M385.9 132.2v1.8M344.8 104.6h1.8M345.7 103.7v1.8M379.0 184.7h1.8M379.9 183.8v1.8M453.3 140.4h1.8M454.2 139.5v1.8M429.1 107.8h1.8M430.0 106.9v1.8M376.0 166.8h1.8M376.9 165.9v1.8M408.2 120.5h1.8M409.1 119.6v1.8M398.4 217.3h1.8M399.3 216.4v1.8M374.1 180.7h1.8M375.0 179.8v1.8M425.5 119.5h1.8M426.4 118.6v1.8M416.0 140.7h1.8M416.9 139.8v1.8M381.5 121.8h1.8M382.4 120.9v1.8M366.9 86.9h1.8M367.8 86.0v1.8M364.4 138.8h1.8M365.3 137.9v1.8M392.6 104.1h1.8M393.5 103.2v1.8M372.7 127.9h1.8M373.6 127.0v1.8M397.1 125.5h1.8M398.0 124.6v1.8M414.3 131.1h1.8M415.2 130.2v1.8M365.5 138.1h1.8M366.4 137.2v1.8M483.4 78.1h1.8M484.3 77.2v1.8M427.6 111.0h1.8M428.5 110.1v1.8M377.6 141.8h1.8M378.5 140.9v1.8M372.5 114.3h1.8M373.4 113.4v1.8M364.3 100.5h1.8M365.2 99.6v1.8M441.4 127.5h1.8M442.3 126.6v1.8M382.9 146.7h1.8M383.8 145.8v1.8M355.0 145.9h1.8M355.9 145.0v1.8M388.2 194.4h1.8M389.1 193.5v1.8M351.7 156.2h1.8M352.6 155.3v1.8M411.9 142.4h1.8M412.8 141.5v1.8M350.3 122.6h1.8M351.2 121.7v1.8M486.9 102.4h1.8M487.8 101.5v1.8M405.5 122.4h1.8M406.4 121.5v1.8M393.1 109.4h1.8M394.0 108.5v1.8M413.9 59.8h1.8M414.8 58.9v1.8M407.6 117.7h1.8M408.5 116.8v1.8M365.2 155.9h1.8M366.1 155.0v1.8M449.3 128.2h1.8M450.2 127.3v1.8M367.4 122.1h1.8M368.3 121.2v1.8M371.2 126.2h1.8M372.1 125.3v1.8M364.7 133.7h1.8M365.6 132.8v1.8M407.2 116.1h1.8M408.1 115.2v1.8M403.7 126.6h1.8M404.6 125.7v1.8M366.2 160.2h1.8M367.1 159.3v1.8M396.0 104.0h1.8M396.9 103.1v1.8M365.7 164.4h1.8M366.6 163.5v1.8M407.2 113.5h1.8M408.1 112.6v1.8M379.3 156.4h1.8M380.2 155.5v1.8M372.3 121.0h1.8M373.2 120.1v1.8M398.2 102.2h1.8M399.1 101.3v1.8M356.9 171.5h1.8M357.8 170.6v1.8M373.1 137.2h1.8M374.0 136.3v1.8M413.4 126.4h1.8M414.3 125.5v1.8M384.4 131.4h1.8M385.3 130.5v1.8M458.0 91.6h1.8M458.9 90.7v1.8M347.1 146.4h1.8M348.0 145.5v1.8M433.1 92.9h1.8M434.0 92.0v1.8M402.1 107.5h1.8M403.0 106.6v1.8M363.4 161.3h1.8M364.3 160.4v1.8M384.6 149.4h1.8M385.5 148.5v1.8M369.0 172.4h1.8M369.9 171.5v1.8M348.7 121.5h1.8M349.6 120.6v1.8M460.2 79.4h1.8M461.1 78.5v1.8M396.3 223.4h1.8M397.2 222.5v1.8M491.9 70.6h1.8M492.8 69.7v1.8M352.7 157.7h1.8M353.6 156.8v1.8M392.0 99.2h1.8M392.9 98.3v1.8M431.8 106.4h1.8M432.7 105.5v1.8M376.6 219.8h1.8M377.5 218.9v1.8M376.0 113.9h1.8M376.9 113.0v1.8M418.7 145.3h1.8M419.6 144.4v1.8M368.0 126.1h1.8M368.9 125.2v1.8M356.5 132.7h1.8M357.4 131.8v1.8M391.4 159.8h1.8M392.3 158.9v1.8M447.0 103.7h1.8M447.9 102.8v1.8M355.5 137.2h1.8M356.4 136.3v1.8M373.7 185.2h1.8M374.6 184.3v1.8M346.2 191.2h1.8M347.1 190.3v1.8M372.5 173.3h1.8M373.4 172.4v1.8M428.1 78.2h1.8M429.0 77.3v1.8M383.7 120.4h1.8M384.6 119.5v1.8M409.7 112.4h1.8M410.6 111.5v1.8M408.5 143.5h1.8M409.4 142.6v1.8M370.9 136.4h1.8M371.8 135.5v1.8M372.6 110.5h1.8M373.5 109.6v1.8M390.9 160.5h1.8M391.8 159.6v1.8M404.6 130.1h1.8M405.5 129.2v1.8M403.0 159.0h1.8M403.9 158.1v1.8M399.0 151.0h1.8M399.9 150.1v1.8M353.4 103.9h1.8M354.3 103.0v1.8M405.0 117.9h1.8M405.9 117.0v1.8M345.4 134.9h1.8M346.3 134.0v1.8M355.9 131.6h1.8M356.8 130.7v1.8M476.0 107.0h1.8M476.9 106.1v1.8M408.0 129.4h1.8M408.9 128.5v1.8M443.0 126.7h1.8M443.9 125.8v1.8M408.4 111.2h1.8M409.3 110.3v1.8M437.6 125.7h1.8M438.5 124.8v1.8M413.6 41.0h1.8M414.5 40.1v1.8M359.5 113.9h1.8M360.4 113.0v1.8M356.7 179.1h1.8M357.6 178.2v1.8M368.7 101.0h1.8M369.6 100.1v1.8M427.1 117.9h1.8M428.0 117.0v1.8M360.5 107.1h1.8M361.4 106.2v1.8M375.3 188.3h1.8M376.2 187.4v1.8M388.1 173.7h1.8M389.0 172.8v1.8M408.7 145.1h1.8M409.6 144.2v1.8M370.9 186.8h1.8M371.8 185.9v1.8M355.0 119.2h1.8M355.9 118.3v1.8M488.5 78.6h1.8M489.4 77.7v1.8M408.2 130.7h1.8M409.1 129.8v1.8M364.8 221.8h1.8M365.7 220.9v1.8M422.3 115.9h1.8M423.2 115.0v1.8M408.3 102.8h1.8M409.2 101.9v1.8M369.1 121.8h1.8M370.0 120.9v1.8M398.2 166.2h1.8M399.1 165.3v1.8M424.1 114.7h1.8M425.0 113.8v1.8M371.4 135.6h1.8M372.3 134.7v1.8M387.0 121.6h1.8M387.9 120.7v1.8M387.8 168.6h1.8M388.7 167.7v1.8M384.0 128.1h1.8M384.9 127.2v1.8M396.4 131.4h1.8M397.3 130.5v1.8M363.8 142.8h1.8M364.7 141.9v1.8M355.5 167.5h1.8M356.4 166.6v1.8M400.8 107.7h1.8M401.7 106.8v1.8M404.9 147.2h1.8M405.8 146.3v1.8M430.9 127.7h1.8M431.8 126.8v1.8M347.0 182.1h1.8M347.9 181.2v1.8M392.8 154.6h1.8M393.7 153.7v1.8M352.6 124.7h1.8M353.5 123.8v1.8M412.0 137.5h1.8M412.9 136.6v1.8M403.2 110.6h1.8M404.1 109.7v1.8M397.0 84.1h1.8M397.9 83.2v1.8M399.1 153.6h1.8M400.0 152.7v1.8M369.2 144.4h1.8M370.1 143.5v1.8M387.1 97.9h1.8M388.0 97.0v1.8M415.5 178.1h1.8M416.4 177.2v1.8M378.9 142.8h1.8M379.8 141.9v1.8M452.5 133.5h1.8M453.4 132.6v1.8M374.6 110.9h1.8M375.5 110.0v1.8M428.1 145.9h1.8M429.0 145.0v1.8M403.4 162.5h1.8M404.3 161.6v1.8M359.9 140.2h1.8M360.8 139.3v1.8M361.0 196.5h1.8M361.9 195.6v1.8M375.9 170.0h1.8M376.8 169.1v1.8M478.5 103.4h1.8M479.4 102.5v1.8M349.0 153.8h1.8M349.9 152.9v1.8M361.2 144.7h1.8M362.1 143.8v1.8M393.5 212.9h1.8M394.4 212.0v1.8M427.0 120.6h1.8M427.9 119.7v1.8M351.5 198.0h1.8M352.4 197.1v1.8M394.3 47.6h1.8M395.2 46.7v1.8M351.5 90.5h1.8M352.4 89.6v1.8M424.7 107.6h1.8M425.6 106.7v1.8M414.3 187.3h1.8M415.2 186.4v1.8M364.1 113.8h1.8M365.0 112.9v1.8M419.5 160.7h1.8M420.4 159.8v1.8M352.1 162.6h1.8M353.0 161.7v1.8M378.8 233.4h1.8M379.7 232.5v1.8M411.1 133.5h1.8M412.0 132.6v1.8M394.8 179.9h1.8M395.7 179.0v1.8M419.6 141.4h1.8M420.5 140.5v1.8M392.8 153.3h1.8M393.7 152.4v1.8M362.3 97.3h1.8M363.2 96.4v1.8M390.4 112.3h1.8M391.3 111.4v1.8M417.6 131.8h1.8M418.5 130.9v1.8M421.6 158.7h1.8M422.5 157.8v1.8M382.5 101.6h1.8M383.4 100.7v1.8M354.5 92.4h1.8M355.4 91.5v1.8M394.2 141.0h1.8M395.1 140.1v1.8M398.2 154.4h1.8M399.1 153.5v1.8M435.0 131.0h1.8M435.9 130.1v1.8"/>
<path stroke="#cf4a64" stroke-width="0.6" opacity="0.65" d="M353.9 163.2h1.8M354.8 162.3v1.8M404.9 106.3h1.8M405.8 105.4v1.8M357.8 171.9h1.8M358.7 171.0v1.8M353.9 126.9h1.8M354.8 126.0v1.8M422.1 106.9h1.8M423.0 106.0v1.8M427.2 136.0h1.8M428.1 135.1v1.8M381.7 148.4h1.8M382.6 147.5v1.8M380.3 134.2h1.8M381.2 133.3v1.8M435.1 101.0h1.8M436.0 100.1v1.8M358.5 124.8h1.8M359.4 123.9v1.8M349.8 83.2h1.8M350.7 82.3v1.8M482.0 103.0h1.8M482.9 102.1v1.8M426.2 149.7h1.8M427.1 148.8v1.8M422.2 103.4h1.8M423.1 102.5v1.8M346.1 119.6h1.8M347.0 118.7v1.8M421.2 145.5h1.8M422.1 144.6v1.8M409.9 86.0h1.8M410.8 85.1v1.8M383.8 62.6h1.8M384.7 61.7v1.8M420.0 118.6h1.8M420.9 117.7v1.8M356.3 138.2h1.8M357.2 137.3v1.8M374.3 150.0h1.8M375.2 149.1v1.8M377.6 187.7h1.8M378.5 186.8v1.8M495.7 85.8h1.8M496.6 84.9v1.8M489.8 112.3h1.8M490.7 111.4v1.8M372.0 107.4h1.8M372.9 106.5v1.8M373.5 161.8h1.8M374.4 160.9v1.8M370.4 125.5h1.8M371.3 124.6v1.8M473.4 93.9h1.8M474.3 93.0v1.8M412.9 112.4h1.8M413.8 111.5v1.8M424.8 173.6h1.8M425.7 172.7v1.8M394.5 116.4h1.8M395.4 115.5v1.8M435.1 107.2h1.8M436.0 106.3v1.8M364.0 78.2h1.8M364.9 77.3v1.8M372.6 18.7h1.8M373.5 17.8v1.8M388.7 103.0h1.8M389.6 102.1v1.8M401.4 119.4h1.8M402.3 118.5v1.8M347.1 106.5h1.8M348.0 105.6v1.8M415.5 157.3h1.8M416.4 156.4v1.8M368.8 165.8h1.8M369.7 164.9v1.8M453.8 105.8h1.8M454.7 104.9v1.8M370.6 115.5h1.8M371.5 114.6v1.8M376.1 132.2h1.8M377.0 131.3v1.8M391.8 141.9h1.8M392.7 141.0v1.8M423.7 97.1h1.8M424.6 96.2v1.8M379.6 184.4h1.8M380.5 183.5v1.8M363.2 132.2h1.8M364.1 131.3v1.8M360.1 128.8h1.8M361.0 127.9v1.8M402.9 138.3h1.8M403.8 137.4v1.8M352.4 185.1h1.8M353.3 184.2v1.8M431.7 90.2h1.8M432.6 89.3v1.8M417.0 153.7h1.8M417.9 152.8v1.8M366.0 115.2h1.8M366.9 114.3v1.8M386.8 107.5h1.8M387.7 106.6v1.8M356.2 107.6h1.8M357.1 106.7v1.8M390.8 160.2h1.8M391.7 159.3v1.8M394.2 149.4h1.8M395.1 148.5v1.8M409.6 81.3h1.8M410.5 80.4v1.8M378.6 151.2h1.8M379.5 150.3v1.8M358.7 131.3h1.8M359.6 130.4v1.8M353.2 164.1h1.8M354.1 163.2v1.8M355.1 168.8h1.8M356.0 167.9v1.8M372.7 123.3h1.8M373.6 122.4v1.8M393.0 94.8h1.8M393.9 93.9v1.8M397.0 151.2h1.8M397.9 150.3v1.8M374.6 100.0h1.8M375.5 99.1v1.8M431.9 138.4h1.8M432.8 137.5v1.8M354.9 110.8h1.8M355.8 109.9v1.8M364.1 122.4h1.8M365.0 121.5v1.8M406.0 117.3h1.8M406.9 116.4v1.8M476.3 99.2h1.8M477.2 98.3v1.8M411.5 152.1h1.8M412.4 151.2v1.8M418.3 140.2h1.8M419.2 139.3v1.8M471.3 109.1h1.8M472.2 108.2v1.8M368.2 109.6h1.8M369.1 108.7v1.8M373.5 171.7h1.8M374.4 170.8v1.8M396.5 110.8h1.8M397.4 109.9v1.8M460.6 108.4h1.8M461.5 107.5v1.8M420.6 158.0h1.8M421.5 157.1v1.8M412.8 133.2h1.8M413.7 132.3v1.8M414.9 178.8h1.8M415.8 177.9v1.8M414.0 167.9h1.8M414.9 167.0v1.8M360.1 112.1h1.8M361.0 111.2v1.8M499.0 84.1h1.8M499.9 83.2v1.8M358.3 86.2h1.8M359.2 85.3v1.8M360.0 163.6h1.8M360.9 162.7v1.8M485.0 112.2h1.8M485.9 111.3v1.8M407.0 112.8h1.8M407.9 111.9v1.8M363.8 145.1h1.8M364.7 144.2v1.8M359.8 120.1h1.8M360.7 119.2v1.8M354.4 208.1h1.8M355.3 207.2v1.8M393.9 134.9h1.8M394.8 134.0v1.8M392.8 126.1h1.8M393.7 125.2v1.8M396.5 192.0h1.8M397.4 191.1v1.8M365.0 190.3h1.8M365.9 189.4v1.8M421.0 132.5h1.8M421.9 131.6v1.8M402.0 187.0h1.8M402.9 186.1v1.8M487.3 92.5h1.8M488.2 91.6v1.8M359.0 180.4h1.8M359.9 179.5v1.8M357.8 182.8h1.8M358.7 181.9v1.8M389.1 133.4h1.8M390.0 132.5v1.8M419.8 169.3h1.8M420.7 168.4v1.8M355.5 159.2h1.8M356.4 158.3v1.8M349.9 160.0h1.8M350.8 159.1v1.8M419.9 115.9h1.8M420.8 115.0v1.8M424.8 132.3h1.8M425.7 131.4v1.8M484.9 60.4h1.8M485.8 59.5v1.8M420.5 135.0h1.8M421.4 134.1v1.8M357.0 144.3h1.8M357.9 143.4v1.8M375.3 83.8h1.8M376.2 82.9v1.8M428.6 131.3h1.8M429.5 130.4v1.8M454.1 111.0h1.8M455.0 110.1v1.8M380.9 140.5h1.8M381.8 139.6v1.8M377.1 110.1h1.8M378.0 109.2v1.8M464.7 68.1h1.8M465.6 67.2v1.8M422.3 155.4h1.8M423.2 154.5v1.8M352.1 177.8h1.8M353.0 176.9v1.8M362.8 127.4h1.8M363.7 126.5v1.8M407.5 119.5h1.8M408.4 118.6v1.8M426.3 164.0h1.8M427.2 163.1v1.8M418.8 107.3h1.8M419.7 106.4v1.8M408.1 108.2h1.8M409.0 107.3v1.8M368.5 43.8h1.8M369.4 42.9v1.8M475.3 107.0h1.8M476.2 106.1v1.8M439.2 160.8h1.8M440.1 159.9v1.8M389.3 161.7h1.8M390.2 160.8v1.8M376.2 155.3h1.8M377.1 154.4v1.8M356.8 157.8h1.8M357.7 156.9v1.8M405.3 128.3h1.8M406.2 127.4v1.8M358.2 234.2h1.8M359.1 233.3v1.8M448.3 109.8h1.8M449.2 108.9v1.8M443.4 183.7h1.8M444.3 182.8v1.8M423.3 135.6h1.8M424.2 134.7v1.8M413.8 178.8h1.8M414.7 177.9v1.8M356.7 148.4h1.8M357.6 147.5v1.8M405.5 154.8h1.8M406.4 153.9v1.8M357.8 136.9h1.8M358.7 136.0v1.8M426.5 66.1h1.8M427.4 65.2v1.8M361.5 109.3h1.8M362.4 108.4v1.8M442.2 161.9h1.8M443.1 161.0v1.8M416.1 131.8h1.8M417.0 130.9v1.8M348.9 75.4h1.8M349.8 74.5v1.8M364.7 155.4h1.8M365.6 154.5v1.8M376.5 181.5h1.8M377.4 180.6v1.8M432.8 124.4h1.8M433.7 123.5v1.8M371.6 158.8h1.8M372.5 157.9v1.8M392.7 76.4h1.8M393.6 75.5v1.8M370.1 251.8h1.8M371.0 250.9v1.8M349.6 100.3h1.8M350.5 99.4v1.8M420.0 157.4h1.8M420.9 156.5v1.8M376.8 134.9h1.8M377.7 134.0v1.8M426.5 130.5h1.8M427.4 129.6v1.8M423.5 207.5h1.8M424.4 206.6v1.8M454.8 113.4h1.8M455.7 112.5v1.8M363.8 142.0h1.8M364.7 141.1v1.8M377.0 139.6h1.8M377.9 138.7v1.8M370.2 130.1h1.8M371.1 129.2v1.8M357.3 116.6h1.8M358.2 115.7v1.8M350.3 161.6h1.8M351.2 160.7v1.8M362.1 151.0h1.8M363.0 150.1v1.8M459.1 94.4h1.8M460.0 93.5v1.8M360.9 197.1h1.8M361.8 196.2v1.8M373.7 170.7h1.8M374.6 169.8v1.8M413.4 143.3h1.8M414.3 142.4v1.8M455.5 122.8h1.8M456.4 121.9v1.8M455.3 105.4h1.8M456.2 104.5v1.8M415.9 146.1h1.8M416.8 145.2v1.8M446.2 101.8h1.8M447.1 100.9v1.8M418.2 166.1h1.8M419.1 165.2v1.8M377.3 113.8h1.8M378.2 112.9v1.8M447.6 71.8h1.8M448.5 70.9v1.8M368.0 133.8h1.8M368.9 132.9v1.8M391.2 181.7h1.8M392.1 180.8v1.8M425.8 156.0h1.8M426.7 155.1v1.8M401.8 126.2h1.8M402.7 125.3v1.8M415.9 156.5h1.8M416.8 155.6v1.8M359.4 130.5h1.8M360.3 129.6v1.8M366.2 130.1h1.8M367.1 129.2v1.8M405.0 171.5h1.8M405.9 170.6v1.8M387.7 101.0h1.8M388.6 100.1v1.8M357.5 161.8h1.8M358.4 160.9v1.8M350.0 213.2h1.8M350.9 212.3v1.8M420.3 183.5h1.8M421.2 182.6v1.8M373.6 110.6h1.8M374.5 109.7v1.8M354.8 136.3h1.8M355.7 135.4v1.8M359.1 144.1h1.8M360.0 143.2v1.8M444.4 126.4h1.8M445.3 125.5v1.8M365.7 146.9h1.8M366.6 146.0v1.8M446.8 137.1h1.8M447.7 136.2v1.8M391.0 85.3h1.8M391.9 84.4v1.8M421.8 200.7h1.8M422.7 199.8v1.8M365.8 153.9h1.8M366.7 153.0v1.8M353.4 80.9h1.8M354.3 80.0v1.8M411.2 123.6h1.8M412.1 122.7v1.8M405.8 182.3h1.8M406.7 181.4v1.8M352.0 125.0h1.8M352.9 124.1v1.8M437.4 113.0h1.8M438.3 112.1v1.8M409.1 126.9h1.8M410.0 126.0v1.8M408.5 128.4h1.8M409.4 127.5v1.8M354.9 108.1h1.8M355.8 107.2v1.8M396.6 126.7h1.8M397.5 125.8v1.8M428.2 92.3h1.8M429.1 91.4v1.8M369.6 176.4h1.8M370.5 175.5v1.8M349.2 119.9h1.8M350.1 119.0v1.8M424.0 108.3h1.8M424.9 107.4v1.8M372.2 141.3h1.8M373.1 140.4v1.8M435.2 45.3h1.8M436.1 44.4v1.8M420.8 132.4h1.8M421.7 131.5v1.8M459.3 123.9h1.8M460.2 123.0v1.8M390.4 127.5h1.8M391.3 126.6v1.8M427.1 167.9h1.8M428.0 167.0v1.8M377.5 154.9h1.8M378.4 154.0v1.8M367.6 143.1h1.8M368.5 142.2v1.8M345.7 164.9h1.8M346.6 164.0v1.8M402.8 141.5h1.8M403.7 140.6v1.8M352.1 141.1h1.8M353.0 140.2v1.8M461.1 140.2h1.8M462.0 139.3v1.8M375.0 103.5h1.8M375.9 102.6v1.8M408.3 176.0h1.8M409.2 175.1v1.8M385.1 105.3h1.8M386.0 104.4v1.8M378.6 116.4h1.8M379.5 115.5v1.8M457.8 117.8h1.8M458.7 116.9v1.8M367.8 133.5h1.8M368.7 132.6v1.8M389.5 149.4h1.8M390.4 148.5v1.8M411.8 114.8h1.8M412.7 113.9v1.8M479.1 48.0h1.8M480.0 47.1v1.8M358.0 107.4h1.8M358.9 106.5v1.8M376.8 156.5h1.8M377.7 155.6v1.8M395.1 123.6h1.8M396.0 122.7v1.8M427.7 117.6h1.8M428.6 116.7v1.8M365.7 118.2h1.8M366.6 117.3v1.8M395.9 159.6h1.8M396.8 158.7v1.8M369.4 173.7h1.8M370.3 172.8v1.8M392.6 113.4h1.8M393.5 112.5v1.8M422.1 135.2h1.8M423.0 134.3v1.8M384.8 206.2h1.8M385.7 205.3v1.8M420.1 109.2h1.8M421.0 108.3v1.8M410.0 173.5h1.8M410.9 172.6v1.8M379.2 89.5h1.8M380.1 88.6v1.8M389.3 180.0h1.8M390.2 179.1v1.8M409.1 136.0h1.8M410.0 135.1v1.8M368.1 175.7h1.8M369.0 174.8v1.8M409.2 117.6h1.8M410.1 116.7v1.8M442.8 117.4h1.8M443.7 116.5v1.8M363.2 160.8h1.8M364.1 159.9v1.8M438.2 104.2h1.8M439.1 103.3v1.8M452.6 150.0h1.8M453.5 149.1v1.8M381.4 147.7h1.8M382.3 146.8v1.8M348.6 187.0h1.8M349.5 186.1v1.8M413.9 151.8h1.8M414.8 150.9v1.8M347.7 152.6h1.8M348.6 151.7v1.8M420.4 113.4h1.8M421.3 112.5v1.8M363.1 171.1h1.8M364.0 170.2v1.8M384.5 160.7h1.8M385.4 159.8v1.8M428.4 132.6h1.8M429.3 131.7v1.8M458.8 146.2h1.8M459.7 145.3v1.8M348.7 104.0h1.8M349.6 103.1v1.8M440.2 115.5h1.8M441.1 114.6v1.8M388.0 151.7h1.8M388.9 150.8v1.8M420.0 113.4h1.8M420.9 112.5v1.8M353.2 95.3h1.8M354.1 94.4v1.8M363.3 136.0h1.8M364.2 135.1v1.8M409.6 197.3h1.8M410.5 196.4v1.8M425.5 126.6h1.8M426.4 125.7v1.8M392.7 146.1h1.8M393.6 145.2v1.8M390.5 166.7h1.8M391.4 165.8v1.8M366.9 145.0h1.8M367.8 144.1v1.8M360.4 112.7h1.8M361.3 111.8v1.8M353.9 209.0h1.8M354.8 208.1v1.8M359.9 124.6h1.8M360.8 123.7v1.8M401.0 156.1h1.8M401.9 155.2v1.8M359.5 162.9h1.8M360.4 162.0v1.8M386.3 135.4h1.8M387.2 134.5v1.8M365.7 195.0h1.8M366.6 194.1v1.8M364.4 157.8h1.8M365.3 156.9v1.8M364.4 135.4h1.8M365.3 134.5v1.8M422.5 174.1h1.8M423.4 173.2v1.8M440.5 119.0h1.8M441.4 118.1v1.8M345.5 121.9h1.8M346.4 121.0v1.8M423.1 110.9h1.8M424.0 110.0v1.8M393.7 122.5h1.8M394.6 121.6v1.8M446.6 105.7h1.8M447.5 104.8v1.8M350.1 133.7h1.8M351.0 132.8v1.8M455.7 109.4h1.8M456.6 108.5v1.8M349.5 98.6h1.8M350.4 97.7v1.8M418.6 113.9h1.8M419.5 113.0v1.8M390.6 117.1h1.8M391.5 116.2v1.8M418.0 140.1h1.8M418.9 139.2v1.8M413.4 145.7h1.8M414.3 144.8v1.8M458.6 93.3h1.8M459.5 92.4v1.8M434.2 130.0h1.8M435.1 129.1v1.8M371.4 143.9h1.8M372.3 143.0v1.8M356.7 152.2h1.8M357.6 151.3v1.8M399.5 128.0h1.8M400.4 127.1v1.8M474.2 87.3h1.8M475.1 86.4v1.8M378.2 141.7h1.8M379.1 140.8v1.8M474.2 126.1h1.8M475.1 125.2v1.8M356.1 172.9h1.8M357.0 172.0v1.8M373.3 161.4h1.8M374.2 160.5v1.8M350.1 244.2h1.8M351.0 243.3v1.8M402.9 111.1h1.8M403.8 110.2v1.8M359.4 117.5h1.8M360.3 116.6v1.8M375.4 147.2h1.8M376.3 146.3v1.8M396.7 94.3h1.8M397.6 93.4v1.8M411.8 191.3h1.8M412.7 190.4v1.8M419.5 174.6h1.8M420.4 173.7v1.8M351.7 100.7h1.8M352.6 99.8v1.8M372.2 133.4h1.8M373.1 132.5v1.8M386.9 135.8h1.8M387.8 134.9v1.8M354.9 143.8h1.8M355.8 142.9v1.8M358.6 122.4h1.8M359.5 121.5v1.8M361.6 116.7h1.8M362.5 115.8v1.8M381.7 147.1h1.8M382.6 146.2v1.8M397.4 135.6h1.8M398.3 134.7v1.8M401.9 141.7h1.8M402.8 140.8v1.8M381.3 138.8h1.8M382.2 137.9v1.8M364.5 104.3h1.8M365.4 103.4v1.8M406.1 134.7h1.8M407.0 133.8v1.8M361.2 146.1h1.8M362.1 145.2v1.8M380.4 198.1h1.8M381.3 197.2v1.8M425.2 122.9h1.8M426.1 122.0v1.8M454.4 127.0h1.8M455.3 126.1v1.8M491.6 104.9h1.8M492.5 104.0v1.8M370.0 125.3h1.8M370.9 124.4v1.8M362.5 204.2h1.8M363.4 203.3v1.8M359.9 142.9h1.8M360.8 142.0v1.8M415.1 136.6h1.8M416.0 135.7v1.8M407.3 121.5h1.8M408.2 120.6v1.8M414.9 157.8h1.8M415.8 156.9v1.8M364.2 122.3h1.8M365.1 121.4v1.8M359.5 119.8h1.8M360.4 118.9v1.8M379.0 121.2h1.8M379.9 120.3v1.8M456.4 144.7h1.8M457.3 143.8v1.8M413.7 143.3h1.8M414.6 142.4v1.8M378.4 134.0h1.8M379.3 133.1v1.8M391.1 147.5h1.8M392.0 146.6v1.8M420.3 188.4h1.8M421.2 187.5v1.8M435.0 101.6h1.8M435.9 100.7v1.8M447.5 133.6h1.8M448.4 132.7v1.8M345.0 125.3h1.8M345.9 124.4v1.8M350.0 63.7h1.8M350.9 62.8v1.8M382.6 167.2h1.8M383.5 166.3v1.8M418.6 116.5h1.8M419.5 115.6v1.8M360.4 171.1h1.8M361.3 170.2v1.8M441.3 90.2h1.8M442.2 89.3v1.8M408.0 122.1h1.8M408.9 121.2v1.8M430.7 110.9h1.8M431.6 110.0v1.8M419.2 129.0h1.8M420.1 128.1v1.8M345.3 83.7h1.8M346.2 82.8v1.8M438.0 115.1h1.8M438.9 114.2v1.8M429.2 150.3h1.8M430.1 149.4v1.8M372.1 154.3h1.8M373.0 153.4v1.8M414.4 138.3h1.8M415.3 137.4v1.8M397.3 103.7h1.8M398.2 102.8v1.8M413.0 100.4h1.8M413.9 99.5v1.8M414.3 58.5h1.8M415.2 57.6v1.8M432.6 128.6h1.8M433.5 127.7v1.8M362.2 149.3h1.8M363.1 148.4v1.8M399.6 127.7h1.8M400.5 126.8v1.8M433.4 139.4h1.8M434.3 138.5v1.8M397.3 101.4h1.8M398.2 100.5v1.8M360.9 125.9h1.8M361.8 125.0v1.8M402.8 187.3h1.8M403.7 186.4v1.8M438.8 115.4h1.8M439.7 114.5v1.8M418.9 120.2h1.8M419.8 119.3v1.8M390.5 164.9h1.8M391.4 164.0v1.8M384.6 129.1h1.8M385.5 128.2v1.8M347.7 113.9h1.8M348.6 113.0v1.8M408.9 175.2h1.8M409.8 174.3v1.8M371.9 170.2h1.8M372.8 169.3v1.8M430.4 127.3h1.8M431.3 126.4v1.8M408.6 119.0h1.8M409.5 118.1v1.8M359.5 110.0h1.8M360.4 109.1v1.8M385.7 127.5h1.8M386.6 126.6v1.8M376.7 200.4h1.8M377.6 199.5v1.8M396.4 126.4h1.8M397.3 125.5v1.8M401.9 128.2h1.8M402.8 127.3v1.8M381.4 166.7h1.8M382.3 165.8v1.8M386.0 108.9h1.8M386.9 108.0v1.8M347.6 124.7h1.8M348.5 123.8v1.8M382.3 179.9h1.8M383.2 179.0v1.8M445.8 112.1h1.8M446.7 111.2v1.8M355.8 180.9h1.8M356.7 180.0v1.8M398.2 131.0h1.8M399.1 130.1v1.8M409.7 135.0h1.8M410.6 134.1v1.8M435.5 95.4h1.8M436.4 94.5v1.8M430.4 165.2h1.8M431.3 164.3v1.8M382.9 209.1h1.8M383.8 208.2v1.8M374.4 125.7h1.8M375.3 124.8v1.8M455.6 114.7h1.8M456.5 113.8v1.8M412.9 123.8h1.8M413.8 122.9v1.8M367.8 124.8h1.8M368.7 123.9v1.8M376.8 142.4h1.8M377.7 141.5v1.8M364.8 171.9h1.8M365.7 171.0v1.8M375.6 126.6h1.8M376.5 125.7v1.8M409.6 134.0h1.8M410.5 133.1v1.8M396.0 157.2h1.8M396.9 156.3v1.8M399.0 143.8h1.8M399.9 142.9v1.8M375.2 143.3h1.8M376.1 142.4v1.8M476.3 122.1h1.8M477.2 121.2v1.8M392.8 148.4h1.8M393.7 147.5v1.8M355.2 151.5h1.8M356.1 150.6v1.8M394.9 141.2h1.8M395.8 140.3v1.8M402.8 115.1h1.8M403.7 114.2v1.8M453.4 121.6h1.8M454.3 120.7v1.8M365.4 228.3h1.8M366.3 227.4v1.8M357.7 169.0h1.8M358.6 168.1v1.8M358.5 121.8h1.8M359.4 120.9v1.8M364.5 165.9h1.8M365.4 165.0v1.8M400.6 126.3h1.8M401.5 125.4v1.8M368.3 72.3h1.8M369.2 71.4v1.8M494.0 76.6h1.8M494.9 75.7v1.8M373.4 141.8h1.8M374.3 140.9v1.8M390.8 188.7h1.8M391.7 187.8v1.8M367.6 166.6h1.8M368.5 165.7v1.8M476.0 83.2h1.8M476.9 82.3v1.8M429.0 119.8h1.8M429.9 118.9v1.8M355.4 169.1h1.8M356.3 168.2v1.8M390.1 187.4h1.8M391.0 186.5v1.8M444.5 112.4h1.8M445.4 111.5v1.8M448.5 108.1h1.8M449.4 107.2v1.8M365.7 170.9h1.8M366.6 170.0v1.8M353.0 179.8h1.8M353.9 178.9v1.8M377.9 141.4h1.8M378.8 140.5v1.8M407.5 146.9h1.8M408.4 146.0v1.8M444.5 105.2h1.8M445.4 104.3v1.8M426.9 141.6h1.8M427.8 140.7v1.8M365.8 111.9h1.8M366.7 111.0v1.8M407.6 180.2h1.8M408.5 179.3v1.8M459.2 146.8h1.8M460.1 145.9v1.8M367.2 131.7h1.8M368.1 130.8v1.8M435.1 129.4h1.8M436.0 128.5v1.8M398.6 149.2h1.8M399.5 148.3v1.8M348.1 150.4h1.8M349.0 149.5v1.8M359.6 133.2h1.8M360.5 132.3v1.8M449.2 159.6h1.8M450.1 158.7v1.8M410.6 116.2h1.8M411.5 115.3v1.8M401.6 127.7h1.8M402.5 126.8v1.8M393.2 117.6h1.8M394.1 116.7v1.8M407.2 149.3h1.8M408.1 148.4v1.8M363.9 167.4h1.8M364.8 166.5v1.8M423.1 118.2h1.8M424.0 117.3v1.8M466.8 76.8h1.8M467.7 75.9v1.8M389.6 126.8h1.8M390.5 125.9v1.8M374.4 108.1h1.8M375.3 107.2v1.8M369.9 150.5h1.8M370.8 149.6v1.8M414.2 100.6h1.8M415.1 99.7v1.8M394.6 155.9h1.8M395.5 155.0v1.8M444.4 111.4h1.8M445.3 110.5v1.8M371.4 146.3h1.8M372.3 145.4v1.8M404.5 187.2h1.8M405.4 186.3v1.8M422.6 113.5h1.8M423.5 112.6v1.8M387.6 116.1h1.8M388.5 115.2v1.8M418.6 172.4h1.8M419.5 171.5v1.8M432.6 117.2h1.8M433.5 116.3v1.8M421.5 148.5h1.8M422.4 147.6v1.8M403.1 131.9h1.8M404.0 131.0v1.8M390.4 154.3h1.8M391.3 153.4v1.8M352.2 151.6h1.8M353.1 150.7v1.8M431.3 90.0h1.8M432.2 89.1v1.8M423.5 168.4h1.8M424.4 167.5v1.8M391.0 148.4h1.8M391.9 147.5v1.8M379.9 119.6h1.8M380.8 118.7v1.8M415.7 170.7h1.8M416.6 169.8v1.8M359.4 104.1h1.8M360.3 103.2v1.8M381.1 103.4h1.8M382.0 102.5v1.8M380.7 82.6h1.8M381.6 81.7v1.8M365.2 154.4h1.8M366.1 153.5v1.8M346.0 119.7h1.8M346.9 118.8v1.8M434.8 138.8h1.8M435.7 137.9v1.8M439.7 93.4h1.8M440.6 92.5v1.8M352.7 111.7h1.8M353.6 110.8v1.8M374.1 108.3h1.8M375.0 107.4v1.8M382.9 178.5h1.8M383.8 177.6v1.8M425.8 52.2h1.8M426.7 51.3v1.8M444.4 122.1h1.8M445.3 121.2v1.8M383.8 147.0h1.8M384.7 146.1v1.8M376.2 92.6h1.8M377.1 91.7v1.8M426.5 217.0h1.8M427.4 216.1v1.8M416.5 119.1h1.8M417.4 118.2v1.8M381.2 153.3h1.8M382.1 152.4v1.8M448.1 87.7h1.8M449.0 86.8v1.8M407.1 150.1h1.8M408.0 149.2v1.8M431.5 115.8h1.8M432.4 114.9v1.8M433.4 63.1h1.8M434.3 62.2v1.8M349.4 115.2h1.8M350.3 114.3v1.8M408.0 118.0h1.8M408.9 117.1v1.8M419.1 135.2h1.8M420.0 134.3v1.8M383.4 166.3h1.8M384.3 165.4v1.8M373.5 136.2h1.8M374.4 135.3v1.8M428.8 122.3h1.8M429.7 121.4v1.8M371.2 125.5h1.8M372.1 124.6v1.8M374.4 127.2h1.8M375.3 126.3v1.8M383.4 167.1h1.8M384.3 166.2v1.8M420.7 192.5h1.8M421.6 191.6v1.8M394.6 139.5h1.8M395.5 138.6v1.8M414.6 153.8h1.8M415.5 152.9v1.8M367.8 112.1h1.8M368.7 111.2v1.8M409.0 122.9h1.8M409.9 122.0v1.8M346.6 134.6h1.8M347.5 133.7v1.8M376.7 170.9h1.8M377.6 170.0v1.8M347.4 104.7h1.8M348.3 103.8v1.8M366.0 147.4h1.8M366.9 146.5v1.8M420.5 132.2h1.8M421.4 131.3v1.8M386.4 149.6h1.8M387.3 148.7v1.8M344.8 112.5h1.8M345.7 111.6v1.8M347.2 142.4h1.8M348.1 141.5v1.8M357.5 133.9h1.8M358.4 133.0v1.8M421.1 179.2h1.8M422.0 178.3v1.8M465.3 106.0h1.8M466.2 105.1v1.8M393.9 167.4h1.8M394.8 166.5v1.8M393.6 144.6h1.8M394.5 143.7v1.8M397.3 176.3h1.8M398.2 175.4v1.8M401.6 133.4h1.8M402.5 132.5v1.8M370.1 142.8h1.8M371.0 141.9v1.8M391.1 125.5h1.8M392.0 124.6v1.8M392.0 136.4h1.8M392.9 135.5v1.8M391.8 167.0h1.8M392.7 166.1v1.8M406.7 149.1h1.8M407.6 148.2v1.8M360.5 146.8h1.8M361.4 145.9v1.8M388.2 105.5h1.8M389.1 104.6v1.8M397.6 145.5h1.8M398.5 144.6v1.8M396.9 122.9h1.8M397.8 122.0v1.8M369.8 144.8h1.8M370.7 143.9v1.8M366.8 131.6h1.8M367.7 130.7v1.8M439.7 118.4h1.8M440.6 117.5v1.8M399.1 150.5h1.8M400.0 149.6v1.8M391.6 142.7h1.8M392.5 141.8v1.8M357.8 161.1h1.8M358.7 160.2v1.8M367.7 171.3h1.8M368.6 170.4v1.8M447.2 131.6h1.8M448.1 130.7v1.8M433.4 134.9h1.8M434.3 134.0v1.8M347.6 143.6h1.8M348.5 142.7v1.8M348.4 119.0h1.8M349.3 118.1v1.8M402.5 108.2h1.8M403.4 107.3v1.8M392.0 142.6h1.8M392.9 141.7v1.8M385.0 143.1h1.8M385.9 142.2v1.8M361.8 117.1h1.8M362.7 116.2v1.8M348.8 159.0h1.8M349.7 158.1v1.8M421.6 127.0h1.8M422.5 126.1v1.8M382.2 145.2h1.8M383.1 144.3v1.8M384.8 158.2h1.8M385.7 157.3v1.8M439.0 133.5h1.8M439.9 132.6v1.8M391.1 143.0h1.8M392.0 142.1v1.8M384.5 185.2h1.8M385.4 184.3v1.8M406.4 152.9h1.8M407.3 152.0v1.8M356.5 142.1h1.8M357.4 141.2v1.8"/>
<path stroke="#e0962e" stroke-width="0.6" opacity="0.62" d="M453.6 100.4l1.5 2.5h-3.0zM453.5 114.8l1.5 2.5h-3.0zM368.4 150.4l1.5 2.5h-3.0zM398.1 68.8l1.5 2.5h-3.0zM357.5 211.3l1.5 2.5h-3.0zM422.7 167.8l1.5 2.5h-3.0zM398.1 200.1l1.5 2.5h-3.0zM389.2 101.6l1.5 2.5h-3.0zM427.9 141.4l1.5 2.5h-3.0zM406.1 187.0l1.5 2.5h-3.0zM368.9 132.1l1.5 2.5h-3.0zM349.0 122.6l1.5 2.5h-3.0zM360.0 106.0l1.5 2.5h-3.0zM393.0 100.7l1.5 2.5h-3.0zM373.9 148.0l1.5 2.5h-3.0zM373.5 118.0l1.5 2.5h-3.0zM384.2 234.3l1.5 2.5h-3.0zM366.3 111.1l1.5 2.5h-3.0zM378.0 117.4l1.5 2.5h-3.0zM381.8 144.9l1.5 2.5h-3.0zM426.2 161.2l1.5 2.5h-3.0zM357.7 162.9l1.5 2.5h-3.0zM424.6 96.4l1.5 2.5h-3.0zM398.2 121.5l1.5 2.5h-3.0zM394.5 160.8l1.5 2.5h-3.0zM371.6 149.9l1.5 2.5h-3.0zM353.1 197.2l1.5 2.5h-3.0zM378.4 130.8l1.5 2.5h-3.0zM381.4 95.4l1.5 2.5h-3.0zM357.4 110.1l1.5 2.5h-3.0zM359.1 119.8l1.5 2.5h-3.0zM360.4 133.2l1.5 2.5h-3.0zM374.7 125.9l1.5 2.5h-3.0zM429.9 140.9l1.5 2.5h-3.0zM376.9 147.3l1.5 2.5h-3.0zM366.4 177.4l1.5 2.5h-3.0zM412.8 145.2l1.5 2.5h-3.0zM425.3 105.4l1.5 2.5h-3.0zM394.6 117.0l1.5 2.5h-3.0zM392.9 128.6l1.5 2.5h-3.0zM374.3 205.0l1.5 2.5h-3.0zM431.7 77.3l1.5 2.5h-3.0zM380.7 133.4l1.5 2.5h-3.0zM417.6 116.0l1.5 2.5h-3.0zM415.2 107.4l1.5 2.5h-3.0zM456.7 85.2l1.5 2.5h-3.0zM347.7 98.9l1.5 2.5h-3.0zM367.9 138.7l1.5 2.5h-3.0zM378.2 128.9l1.5 2.5h-3.0zM365.1 99.7l1.5 2.5h-3.0zM424.3 122.2l1.5 2.5h-3.0zM372.2 164.1l1.5 2.5h-3.0zM404.6 236.2l1.5 2.5h-3.0zM348.7 99.8l1.5 2.5h-3.0zM350.6 171.7l1.5 2.5h-3.0zM386.2 139.9l1.5 2.5h-3.0zM390.9 135.7l1.5 2.5h-3.0zM381.3 124.8l1.5 2.5h-3.0zM346.4 148.1l1.5 2.5h-3.0zM373.4 99.8l1.5 2.5h-3.0zM406.5 126.2l1.5 2.5h-3.0zM425.1 123.0l1.5 2.5h-3.0zM347.3 160.9l1.5 2.5h-3.0zM358.4 167.0l1.5 2.5h-3.0zM377.2 148.2l1.5 2.5h-3.0zM381.4 115.8l1.5 2.5h-3.0zM460.7 129.1l1.5 2.5h-3.0zM480.1 112.1l1.5 2.5h-3.0zM354.7 125.2l1.5 2.5h-3.0zM473.4 147.9l1.5 2.5h-3.0zM429.8 107.3l1.5 2.5h-3.0zM426.4 53.8l1.5 2.5h-3.0zM369.1 114.2l1.5 2.5h-3.0zM358.2 108.8l1.5 2.5h-3.0zM386.1 97.3l1.5 2.5h-3.0zM357.9 143.7l1.5 2.5h-3.0zM349.8 240.1l1.5 2.5h-3.0zM401.9 168.8l1.5 2.5h-3.0zM407.3 127.5l1.5 2.5h-3.0zM356.8 166.5l1.5 2.5h-3.0zM427.7 79.0l1.5 2.5h-3.0zM375.4 141.0l1.5 2.5h-3.0zM370.1 188.4l1.5 2.5h-3.0zM403.8 129.2l1.5 2.5h-3.0zM388.5 175.4l1.5 2.5h-3.0zM395.3 154.1l1.5 2.5h-3.0zM369.7 115.0l1.5 2.5h-3.0zM368.1 164.8l1.5 2.5h-3.0zM376.7 108.9l1.5 2.5h-3.0zM346.5 133.4l1.5 2.5h-3.0zM382.9 115.3l1.5 2.5h-3.0zM360.7 117.0l1.5 2.5h-3.0zM389.2 88.0l1.5 2.5h-3.0zM391.0 119.5l1.5 2.5h-3.0zM420.7 96.5l1.5 2.5h-3.0zM388.0 108.7l1.5 2.5h-3.0zM361.6 100.7l1.5 2.5h-3.0zM351.1 142.6l1.5 2.5h-3.0zM381.8 115.4l1.5 2.5h-3.0zM347.3 152.2l1.5 2.5h-3.0zM353.1 131.6l1.5 2.5h-3.0zM400.5 43.8l1.5 2.5h-3.0zM376.9 127.5l1.5 2.5h-3.0zM365.6 113.9l1.5 2.5h-3.0zM393.3 100.4l1.5 2.5h-3.0zM349.9 133.7l1.5 2.5h-3.0zM353.8 141.0l1.5 2.5h-3.0zM459.2 60.4l1.5 2.5h-3.0zM421.7 146.0l1.5 2.5h-3.0zM348.2 70.6l1.5 2.5h-3.0zM405.7 130.8l1.5 2.5h-3.0zM421.3 108.6l1.5 2.5h-3.0zM389.1 161.5l1.5 2.5h-3.0zM480.8 104.7l1.5 2.5h-3.0zM414.2 121.6l1.5 2.5h-3.0zM391.5 49.6l1.5 2.5h-3.0zM505.8 54.8l1.5 2.5h-3.0zM382.3 142.7l1.5 2.5h-3.0zM345.6 148.4l1.5 2.5h-3.0zM434.2 75.3l1.5 2.5h-3.0zM388.2 77.5l1.5 2.5h-3.0zM383.8 148.9l1.5 2.5h-3.0zM429.7 125.1l1.5 2.5h-3.0zM432.2 63.2l1.5 2.5h-3.0zM390.2 143.4l1.5 2.5h-3.0zM404.7 142.1l1.5 2.5h-3.0zM381.0 109.0l1.5 2.5h-3.0zM347.5 101.5l1.5 2.5h-3.0zM394.4 132.1l1.5 2.5h-3.0zM433.0 97.9l1.5 2.5h-3.0zM428.0 92.4l1.5 2.5h-3.0zM345.7 217.1l1.5 2.5h-3.0zM391.8 121.5l1.5 2.5h-3.0zM362.8 134.8l1.5 2.5h-3.0zM373.6 128.7l1.5 2.5h-3.0zM367.4 107.2l1.5 2.5h-3.0zM442.3 88.2l1.5 2.5h-3.0zM357.4 135.0l1.5 2.5h-3.0zM414.3 133.7l1.5 2.5h-3.0zM372.3 159.7l1.5 2.5h-3.0zM361.3 173.0l1.5 2.5h-3.0zM390.1 121.3l1.5 2.5h-3.0zM357.9 129.9l1.5 2.5h-3.0zM469.1 61.2l1.5 2.5h-3.0zM372.9 112.6l1.5 2.5h-3.0zM403.4 117.6l1.5 2.5h-3.0zM349.0 118.7l1.5 2.5h-3.0zM374.5 123.8l1.5 2.5h-3.0zM366.2 127.1l1.5 2.5h-3.0zM431.3 128.2l1.5 2.5h-3.0zM366.7 99.0l1.5 2.5h-3.0zM407.8 116.7l1.5 2.5h-3.0zM389.5 115.3l1.5 2.5h-3.0zM356.5 113.9l1.5 2.5h-3.0zM487.7 101.5l1.5 2.5h-3.0zM460.9 184.2l1.5 2.5h-3.0zM356.0 180.0l1.5 2.5h-3.0zM380.2 154.4l1.5 2.5h-3.0zM425.9 95.2l1.5 2.5h-3.0zM405.8 151.4l1.5 2.5h-3.0zM500.3 18.3l1.5 2.5h-3.0zM362.2 189.2l1.5 2.5h-3.0zM374.0 111.3l1.5 2.5h-3.0zM347.6 159.5l1.5 2.5h-3.0zM423.9 88.0l1.5 2.5h-3.0zM380.6 170.0l1.5 2.5h-3.0zM382.3 145.7l1.5 2.5h-3.0zM391.9 142.1l1.5 2.5h-3.0zM405.0 136.6l1.5 2.5h-3.0zM375.6 111.7l1.5 2.5h-3.0zM380.9 144.5l1.5 2.5h-3.0zM363.7 112.0l1.5 2.5h-3.0zM436.5 174.3l1.5 2.5h-3.0zM381.8 140.4l1.5 2.5h-3.0zM372.2 129.9l1.5 2.5h-3.0zM419.1 130.4l1.5 2.5h-3.0zM365.8 155.1l1.5 2.5h-3.0zM399.2 123.8l1.5 2.5h-3.0zM362.6 188.0l1.5 2.5h-3.0zM421.1 159.6l1.5 2.5h-3.0zM413.5 112.3l1.5 2.5h-3.0zM355.5 134.7l1.5 2.5h-3.0zM357.5 151.6l1.5 2.5h-3.0zM358.1 120.2l1.5 2.5h-3.0zM366.4 111.2l1.5 2.5h-3.0zM350.3 97.0l1.5 2.5h-3.0zM363.1 144.1l1.5 2.5h-3.0zM385.4 191.5l1.5 2.5h-3.0zM400.9 163.5l1.5 2.5h-3.0zM388.5 169.7l1.5 2.5h-3.0zM395.8 140.6l1.5 2.5h-3.0zM387.8 122.5l1.5 2.5h-3.0zM396.0 111.6l1.5 2.5h-3.0zM349.0 112.8l1.5 2.5h-3.0zM381.8 86.6l1.5 2.5h-3.0zM401.9 107.0l1.5 2.5h-3.0zM384.4 84.6l1.5 2.5h-3.0zM429.3 92.0l1.5 2.5h-3.0zM378.3 61.3l1.5 2.5h-3.0zM398.6 161.4l1.5 2.5h-3.0zM376.7 92.7l1.5 2.5h-3.0zM393.1 127.2l1.5 2.5h-3.0zM403.4 186.2l1.5 2.5h-3.0zM360.1 152.3l1.5 2.5h-3.0zM378.1 137.1l1.5 2.5h-3.0zM350.2 229.1l1.5 2.5h-3.0zM347.4 128.0l1.5 2.5h-3.0zM455.5 76.1l1.5 2.5h-3.0zM377.0 77.7l1.5 2.5h-3.0zM423.9 133.2l1.5 2.5h-3.0zM354.9 121.4l1.5 2.5h-3.0zM454.5 137.2l1.5 2.5h-3.0zM377.2 163.2l1.5 2.5h-3.0zM366.4 144.3l1.5 2.5h-3.0zM360.9 118.9l1.5 2.5h-3.0zM378.1 174.6l1.5 2.5h-3.0zM444.7 104.3l1.5 2.5h-3.0zM358.5 144.7l1.5 2.5h-3.0zM379.5 98.8l1.5 2.5h-3.0zM354.2 129.8l1.5 2.5h-3.0zM401.3 178.9l1.5 2.5h-3.0zM414.6 85.1l1.5 2.5h-3.0zM374.4 127.5l1.5 2.5h-3.0zM348.9 152.9l1.5 2.5h-3.0zM371.1 113.1l1.5 2.5h-3.0zM468.2 115.2l1.5 2.5h-3.0zM404.7 99.0l1.5 2.5h-3.0zM404.7 161.5l1.5 2.5h-3.0zM372.9 124.9l1.5 2.5h-3.0zM365.8 139.9l1.5 2.5h-3.0zM434.8 139.8l1.5 2.5h-3.0zM446.0 132.5l1.5 2.5h-3.0zM356.7 105.0l1.5 2.5h-3.0zM365.7 135.2l1.5 2.5h-3.0zM352.3 59.3l1.5 2.5h-3.0zM359.4 127.4l1.5 2.5h-3.0zM362.0 156.6l1.5 2.5h-3.0zM350.5 129.1l1.5 2.5h-3.0zM382.2 135.8l1.5 2.5h-3.0zM347.8 131.6l1.5 2.5h-3.0zM358.4 160.1l1.5 2.5h-3.0zM412.0 102.0l1.5 2.5h-3.0zM369.2 127.4l1.5 2.5h-3.0zM404.9 147.3l1.5 2.5h-3.0zM355.4 124.1l1.5 2.5h-3.0zM369.4 159.3l1.5 2.5h-3.0zM355.2 128.9l1.5 2.5h-3.0zM394.5 133.4l1.5 2.5h-3.0zM410.6 82.3l1.5 2.5h-3.0zM355.3 79.8l1.5 2.5h-3.0zM369.6 85.9l1.5 2.5h-3.0zM363.8 172.0l1.5 2.5h-3.0zM347.7 224.2l1.5 2.5h-3.0zM494.0 88.6l1.5 2.5h-3.0zM426.4 124.1l1.5 2.5h-3.0zM408.9 105.2l1.5 2.5h-3.0zM419.5 50.4l1.5 2.5h-3.0zM401.7 232.0l1.5 2.5h-3.0zM402.0 128.6l1.5 2.5h-3.0zM404.9 129.2l1.5 2.5h-3.0zM417.9 124.0l1.5 2.5h-3.0zM480.7 97.2l1.5 2.5h-3.0zM418.3 139.5l1.5 2.5h-3.0zM368.5 111.1l1.5 2.5h-3.0zM378.9 128.6l1.5 2.5h-3.0zM369.6 60.8l1.5 2.5h-3.0zM348.1 64.6l1.5 2.5h-3.0zM412.4 121.5l1.5 2.5h-3.0zM390.3 117.4l1.5 2.5h-3.0zM459.8 61.1l1.5 2.5h-3.0zM366.2 113.8l1.5 2.5h-3.0zM440.8 122.7l1.5 2.5h-3.0zM372.9 139.2l1.5 2.5h-3.0zM399.2 168.1l1.5 2.5h-3.0zM355.9 84.7l1.5 2.5h-3.0zM452.8 106.3l1.5 2.5h-3.0zM371.2 142.6l1.5 2.5h-3.0zM432.0 141.5l1.5 2.5h-3.0zM420.7 98.1l1.5 2.5h-3.0zM354.5 119.6l1.5 2.5h-3.0zM377.4 139.3l1.5 2.5h-3.0zM368.5 111.0l1.5 2.5h-3.0zM363.6 190.9l1.5 2.5h-3.0zM381.1 129.5l1.5 2.5h-3.0zM381.7 167.1l1.5 2.5h-3.0zM351.9 138.7l1.5 2.5h-3.0zM430.5 145.5l1.5 2.5h-3.0zM423.6 117.7l1.5 2.5h-3.0zM384.7 135.8l1.5 2.5h-3.0zM360.0 104.0l1.5 2.5h-3.0zM409.5 196.8l1.5 2.5h-3.0zM400.3 150.7l1.5 2.5h-3.0zM401.9 85.3l1.5 2.5h-3.0zM399.9 112.7l1.5 2.5h-3.0zM355.9 166.1l1.5 2.5h-3.0zM353.7 163.7l1.5 2.5h-3.0zM355.4 153.9l1.5 2.5h-3.0zM459.6 61.8l1.5 2.5h-3.0zM406.1 137.8l1.5 2.5h-3.0zM376.4 152.9l1.5 2.5h-3.0zM369.7 222.1l1.5 2.5h-3.0zM377.1 231.4l1.5 2.5h-3.0zM500.1 99.3l1.5 2.5h-3.0zM352.6 130.0l1.5 2.5h-3.0zM404.4 111.8l1.5 2.5h-3.0zM366.3 121.5l1.5 2.5h-3.0zM378.1 116.5l1.5 2.5h-3.0zM409.0 118.1l1.5 2.5h-3.0zM381.8 104.4l1.5 2.5h-3.0zM353.7 111.6l1.5 2.5h-3.0zM362.6 112.9l1.5 2.5h-3.0zM373.3 151.0l1.5 2.5h-3.0zM394.9 117.5l1.5 2.5h-3.0zM370.5 105.4l1.5 2.5h-3.0zM390.2 120.5l1.5 2.5h-3.0zM456.4 25.4l1.5 2.5h-3.0zM464.2 102.6l1.5 2.5h-3.0zM354.8 124.3l1.5 2.5h-3.0zM350.0 139.9l1.5 2.5h-3.0zM352.6 165.1l1.5 2.5h-3.0zM455.2 134.0l1.5 2.5h-3.0zM422.4 41.5l1.5 2.5h-3.0zM381.3 118.5l1.5 2.5h-3.0zM389.9 155.5l1.5 2.5h-3.0zM380.2 187.2l1.5 2.5h-3.0zM345.8 139.3l1.5 2.5h-3.0zM362.8 219.5l1.5 2.5h-3.0zM358.2 100.4l1.5 2.5h-3.0zM401.4 103.0l1.5 2.5h-3.0zM384.4 131.8l1.5 2.5h-3.0zM448.2 81.1l1.5 2.5h-3.0zM347.5 207.6l1.5 2.5h-3.0zM355.2 174.0l1.5 2.5h-3.0zM356.6 131.1l1.5 2.5h-3.0zM387.9 99.6l1.5 2.5h-3.0zM347.9 102.6l1.5 2.5h-3.0zM349.3 121.3l1.5 2.5h-3.0zM428.2 154.2l1.5 2.5h-3.0zM402.7 119.0l1.5 2.5h-3.0zM384.0 131.9l1.5 2.5h-3.0zM379.1 97.4l1.5 2.5h-3.0zM413.6 131.4l1.5 2.5h-3.0zM368.4 55.2l1.5 2.5h-3.0zM383.3 134.6l1.5 2.5h-3.0zM427.2 105.9l1.5 2.5h-3.0zM365.2 213.2l1.5 2.5h-3.0zM352.1 75.4l1.5 2.5h-3.0zM368.7 163.9l1.5 2.5h-3.0zM395.3 68.7l1.5 2.5h-3.0zM392.8 168.8l1.5 2.5h-3.0zM408.9 112.7l1.5 2.5h-3.0zM439.5 136.7l1.5 2.5h-3.0zM360.6 157.4l1.5 2.5h-3.0zM360.8 167.4l1.5 2.5h-3.0zM363.4 144.6l1.5 2.5h-3.0zM369.8 142.4l1.5 2.5h-3.0zM371.3 213.8l1.5 2.5h-3.0zM379.0 174.7l1.5 2.5h-3.0zM388.4 131.1l1.5 2.5h-3.0zM371.5 116.1l1.5 2.5h-3.0zM394.2 141.7l1.5 2.5h-3.0zM374.2 138.2l1.5 2.5h-3.0zM353.1 83.5l1.5 2.5h-3.0zM427.6 122.7l1.5 2.5h-3.0zM407.0 152.9l1.5 2.5h-3.0zM353.2 90.4l1.5 2.5h-3.0zM363.0 181.7l1.5 2.5h-3.0zM346.0 250.7l1.5 2.5h-3.0zM402.1 129.9l1.5 2.5h-3.0zM393.4 163.4l1.5 2.5h-3.0zM453.8 118.8l1.5 2.5h-3.0zM366.3 113.6l1.5 2.5h-3.0zM352.8 111.7l1.5 2.5h-3.0zM394.2 132.0l1.5 2.5h-3.0zM376.0 135.7l1.5 2.5h-3.0zM427.5 146.1l1.5 2.5h-3.0zM419.3 87.8l1.5 2.5h-3.0zM384.5 209.7l1.5 2.5h-3.0zM358.7 129.0l1.5 2.5h-3.0zM355.0 135.4l1.5 2.5h-3.0zM389.3 129.0l1.5 2.5h-3.0zM370.3 118.0l1.5 2.5h-3.0zM390.1 112.5l1.5 2.5h-3.0zM374.4 132.6l1.5 2.5h-3.0zM438.9 47.4l1.5 2.5h-3.0zM351.0 195.4l1.5 2.5h-3.0zM371.6 135.3l1.5 2.5h-3.0zM384.1 141.0l1.5 2.5h-3.0zM365.4 186.1l1.5 2.5h-3.0zM364.4 80.5l1.5 2.5h-3.0zM368.3 105.6l1.5 2.5h-3.0zM398.2 147.1l1.5 2.5h-3.0zM354.4 149.2l1.5 2.5h-3.0zM359.5 205.6l1.5 2.5h-3.0zM391.5 128.0l1.5 2.5h-3.0zM365.1 101.3l1.5 2.5h-3.0zM370.7 97.1l1.5 2.5h-3.0zM411.8 71.7l1.5 2.5h-3.0zM458.0 59.1l1.5 2.5h-3.0zM427.3 96.1l1.5 2.5h-3.0zM363.8 170.4l1.5 2.5h-3.0zM386.4 169.8l1.5 2.5h-3.0zM423.5 118.2l1.5 2.5h-3.0zM406.8 131.1l1.5 2.5h-3.0zM364.8 125.6l1.5 2.5h-3.0zM403.5 134.0l1.5 2.5h-3.0zM415.0 153.2l1.5 2.5h-3.0zM417.3 137.8l1.5 2.5h-3.0zM402.2 90.6l1.5 2.5h-3.0zM378.9 105.5l1.5 2.5h-3.0zM388.1 129.0l1.5 2.5h-3.0zM356.0 123.9l1.5 2.5h-3.0zM355.0 116.6l1.5 2.5h-3.0zM354.1 102.9l1.5 2.5h-3.0zM437.7 92.8l1.5 2.5h-3.0zM384.5 117.3l1.5 2.5h-3.0zM375.3 137.3l1.5 2.5h-3.0zM353.9 155.9l1.5 2.5h-3.0zM348.3 196.4l1.5 2.5h-3.0zM432.3 144.5l1.5 2.5h-3.0zM350.5 125.5l1.5 2.5h-3.0zM370.9 121.3l1.5 2.5h-3.0zM419.3 171.5l1.5 2.5h-3.0zM370.7 169.6l1.5 2.5h-3.0zM407.4 206.9l1.5 2.5h-3.0zM354.0 129.3l1.5 2.5h-3.0zM375.5 132.8l1.5 2.5h-3.0zM376.2 121.8l1.5 2.5h-3.0zM417.2 170.4l1.5 2.5h-3.0zM392.2 143.2l1.5 2.5h-3.0zM388.3 174.8l1.5 2.5h-3.0zM444.1 151.3l1.5 2.5h-3.0zM392.8 121.4l1.5 2.5h-3.0zM394.0 172.0l1.5 2.5h-3.0zM414.0 231.1l1.5 2.5h-3.0zM348.0 132.2l1.5 2.5h-3.0zM350.8 102.2l1.5 2.5h-3.0zM367.4 121.1l1.5 2.5h-3.0zM363.6 99.9l1.5 2.5h-3.0zM348.3 131.8l1.5 2.5h-3.0zM361.2 93.8l1.5 2.5h-3.0zM363.6 108.5l1.5 2.5h-3.0zM386.6 130.0l1.5 2.5h-3.0zM355.8 163.1l1.5 2.5h-3.0zM368.8 147.1l1.5 2.5h-3.0zM431.6 119.8l1.5 2.5h-3.0zM371.7 125.7l1.5 2.5h-3.0zM409.9 78.6l1.5 2.5h-3.0zM351.7 132.8l1.5 2.5h-3.0zM409.0 92.7l1.5 2.5h-3.0zM422.7 96.4l1.5 2.5h-3.0zM409.5 138.6l1.5 2.5h-3.0zM375.5 118.9l1.5 2.5h-3.0zM416.9 107.4l1.5 2.5h-3.0zM362.6 120.6l1.5 2.5h-3.0zM409.4 148.9l1.5 2.5h-3.0zM362.0 102.2l1.5 2.5h-3.0zM398.1 145.3l1.5 2.5h-3.0zM410.9 118.4l1.5 2.5h-3.0zM377.4 150.3l1.5 2.5h-3.0zM366.8 107.0l1.5 2.5h-3.0zM370.7 92.5l1.5 2.5h-3.0zM400.7 88.9l1.5 2.5h-3.0zM346.0 105.8l1.5 2.5h-3.0zM357.2 219.7l1.5 2.5h-3.0zM399.8 111.1l1.5 2.5h-3.0zM352.9 166.8l1.5 2.5h-3.0zM375.6 125.4l1.5 2.5h-3.0zM377.0 122.0l1.5 2.5h-3.0zM387.5 108.1l1.5 2.5h-3.0zM375.4 173.3l1.5 2.5h-3.0zM369.6 117.1l1.5 2.5h-3.0zM385.9 120.2l1.5 2.5h-3.0zM428.3 116.4l1.5 2.5h-3.0zM351.8 171.0l1.5 2.5h-3.0zM365.4 101.3l1.5 2.5h-3.0zM355.3 49.5l1.5 2.5h-3.0zM414.4 92.7l1.5 2.5h-3.0zM408.4 176.9l1.5 2.5h-3.0zM349.5 136.1l1.5 2.5h-3.0zM379.0 161.9l1.5 2.5h-3.0zM379.3 162.5l1.5 2.5h-3.0zM430.3 114.4l1.5 2.5h-3.0zM351.9 130.6l1.5 2.5h-3.0zM382.3 122.8l1.5 2.5h-3.0zM419.4 119.1l1.5 2.5h-3.0zM452.4 68.4l1.5 2.5h-3.0zM364.9 109.3l1.5 2.5h-3.0zM350.0 130.9l1.5 2.5h-3.0zM365.3 198.7l1.5 2.5h-3.0zM441.7 50.1l1.5 2.5h-3.0zM390.1 137.3l1.5 2.5h-3.0zM388.4 110.4l1.5 2.5h-3.0zM384.1 127.4l1.5 2.5h-3.0zM371.0 111.7l1.5 2.5h-3.0zM429.0 93.8l1.5 2.5h-3.0zM347.5 142.7l1.5 2.5h-3.0zM405.1 133.7l1.5 2.5h-3.0zM416.6 114.7l1.5 2.5h-3.0zM361.0 170.0l1.5 2.5h-3.0zM349.4 137.7l1.5 2.5h-3.0zM392.2 141.1l1.5 2.5h-3.0zM388.0 187.8l1.5 2.5h-3.0zM382.8 113.7l1.5 2.5h-3.0zM370.6 143.3l1.5 2.5h-3.0zM351.7 189.3l1.5 2.5h-3.0zM396.2 115.4l1.5 2.5h-3.0zM366.6 97.0l1.5 2.5h-3.0zM373.3 203.8l1.5 2.5h-3.0zM352.5 125.0l1.5 2.5h-3.0zM378.4 136.5l1.5 2.5h-3.0zM352.2 127.4l1.5 2.5h-3.0zM351.5 70.2l1.5 2.5h-3.0zM347.8 182.3l1.5 2.5h-3.0zM357.1 209.8l1.5 2.5h-3.0zM354.4 110.8l1.5 2.5h-3.0zM406.9 133.9l1.5 2.5h-3.0zM377.5 232.6l1.5 2.5h-3.0zM433.8 151.6l1.5 2.5h-3.0zM355.1 109.8l1.5 2.5h-3.0zM346.0 99.3l1.5 2.5h-3.0zM424.5 90.4l1.5 2.5h-3.0zM375.1 90.5l1.5 2.5h-3.0zM391.1 97.7l1.5 2.5h-3.0zM362.3 123.6l1.5 2.5h-3.0zM427.0 93.5l1.5 2.5h-3.0zM349.8 206.0l1.5 2.5h-3.0zM411.3 71.0l1.5 2.5h-3.0zM368.7 221.5l1.5 2.5h-3.0zM363.9 220.1l1.5 2.5h-3.0zM401.2 178.8l1.5 2.5h-3.0zM382.4 126.7l1.5 2.5h-3.0zM373.6 149.8l1.5 2.5h-3.0zM388.3 127.4l1.5 2.5h-3.0zM450.3 84.1l1.5 2.5h-3.0zM403.3 136.7l1.5 2.5h-3.0zM389.5 126.2l1.5 2.5h-3.0zM367.8 119.8l1.5 2.5h-3.0zM374.6 125.0l1.5 2.5h-3.0zM350.6 129.9l1.5 2.5h-3.0zM387.3 142.4l1.5 2.5h-3.0zM365.1 81.8l1.5 2.5h-3.0zM401.3 145.0l1.5 2.5h-3.0zM351.3 93.4l1.5 2.5h-3.0zM383.9 204.1l1.5 2.5h-3.0zM370.6 112.4l1.5 2.5h-3.0zM384.1 162.4l1.5 2.5h-3.0zM423.3 35.4l1.5 2.5h-3.0zM485.2 56.6l1.5 2.5h-3.0zM413.8 131.9l1.5 2.5h-3.0zM371.2 124.8l1.5 2.5h-3.0zM442.4 109.5l1.5 2.5h-3.0zM364.8 134.6l1.5 2.5h-3.0zM353.2 94.5l1.5 2.5h-3.0zM353.7 119.6l1.5 2.5h-3.0zM412.8 161.8l1.5 2.5h-3.0zM365.6 120.7l1.5 2.5h-3.0zM364.8 247.7l1.5 2.5h-3.0zM460.4 121.2l1.5 2.5h-3.0zM391.6 113.0l1.5 2.5h-3.0zM368.6 158.2l1.5 2.5h-3.0zM352.7 19.3l1.5 2.5h-3.0zM356.5 154.4l1.5 2.5h-3.0zM358.9 101.5l1.5 2.5h-3.0zM365.4 130.4l1.5 2.5h-3.0zM384.4 111.7l1.5 2.5h-3.0zM377.9 94.9l1.5 2.5h-3.0zM381.2 103.2l1.5 2.5h-3.0zM406.3 126.5l1.5 2.5h-3.0zM392.0 87.6l1.5 2.5h-3.0zM362.6 125.2l1.5 2.5h-3.0zM358.4 188.3l1.5 2.5h-3.0zM456.9 22.1l1.5 2.5h-3.0zM390.6 153.3l1.5 2.5h-3.0zM345.7 153.6l1.5 2.5h-3.0zM355.5 146.7l1.5 2.5h-3.0zM462.4 107.4l1.5 2.5h-3.0zM382.9 119.2l1.5 2.5h-3.0zM379.8 149.0l1.5 2.5h-3.0zM380.4 144.8l1.5 2.5h-3.0zM359.8 91.0l1.5 2.5h-3.0zM346.5 153.2l1.5 2.5h-3.0zM348.3 130.8l1.5 2.5h-3.0zM394.4 130.0l1.5 2.5h-3.0zM364.6 168.5l1.5 2.5h-3.0zM402.1 128.3l1.5 2.5h-3.0zM383.6 144.1l1.5 2.5h-3.0zM369.1 91.5l1.5 2.5h-3.0zM372.8 140.3l1.5 2.5h-3.0zM386.1 101.9l1.5 2.5h-3.0zM410.0 143.4l1.5 2.5h-3.0zM359.9 132.1l1.5 2.5h-3.0zM370.0 126.7l1.5 2.5h-3.0zM385.3 107.8l1.5 2.5h-3.0zM364.0 165.4l1.5 2.5h-3.0zM396.8 94.6l1.5 2.5h-3.0zM350.9 135.1l1.5 2.5h-3.0zM371.0 122.6l1.5 2.5h-3.0zM371.0 106.6l1.5 2.5h-3.0zM345.8 137.1l1.5 2.5h-3.0zM381.9 98.4l1.5 2.5h-3.0zM348.7 178.8l1.5 2.5h-3.0zM358.3 134.4l1.5 2.5h-3.0zM357.6 149.2l1.5 2.5h-3.0zM364.1 79.3l1.5 2.5h-3.0zM353.4 130.9l1.5 2.5h-3.0zM365.5 142.2l1.5 2.5h-3.0zM402.6 221.6l1.5 2.5h-3.0zM371.8 131.4l1.5 2.5h-3.0zM419.5 66.5l1.5 2.5h-3.0zM352.0 208.6l1.5 2.5h-3.0zM390.6 94.6l1.5 2.5h-3.0zM430.6 121.1l1.5 2.5h-3.0zM462.4 55.0l1.5 2.5h-3.0zM409.5 156.6l1.5 2.5h-3.0zM370.6 104.6l1.5 2.5h-3.0zM383.8 132.3l1.5 2.5h-3.0zM391.6 137.5l1.5 2.5h-3.0zM438.0 97.3l1.5 2.5h-3.0zM406.5 176.1l1.5 2.5h-3.0zM396.1 132.4l1.5 2.5h-3.0zM436.6 112.7l1.5 2.5h-3.0zM378.1 114.9l1.5 2.5h-3.0zM369.4 120.1l1.5 2.5h-3.0zM428.5 169.4l1.5 2.5h-3.0zM369.9 127.8l1.5 2.5h-3.0zM367.5 108.9l1.5 2.5h-3.0zM410.4 127.4l1.5 2.5h-3.0zM380.5 103.3l1.5 2.5h-3.0zM391.6 129.7l1.5 2.5h-3.0zM403.3 144.5l1.5 2.5h-3.0zM359.1 151.5l1.5 2.5h-3.0zM359.0 80.5l1.5 2.5h-3.0zM389.0 170.8l1.5 2.5h-3.0zM404.9 177.4l1.5 2.5h-3.0zM385.4 141.2l1.5 2.5h-3.0zM421.4 126.2l1.5 2.5h-3.0zM453.2 131.7l1.5 2.5h-3.0zM381.4 76.3l1.5 2.5h-3.0zM368.1 148.6l1.5 2.5h-3.0zM379.6 103.9l1.5 2.5h-3.0zM395.6 143.7l1.5 2.5h-3.0zM363.0 149.8l1.5 2.5h-3.0zM357.2 150.9l1.5 2.5h-3.0zM430.5 163.3l1.5 2.5h-3.0zM392.5 140.7l1.5 2.5h-3.0zM370.9 125.9l1.5 2.5h-3.0zM402.8 123.8l1.5 2.5h-3.0zM365.9 163.0l1.5 2.5h-3.0zM365.0 139.7l1.5 2.5h-3.0zM365.8 223.4l1.5 2.5h-3.0z"/>
<path stroke="#e0962e" stroke-width="0.6" opacity="0.62" d="M366.6 128.9l1.5 2.5h-3.0zM491.2 149.9l1.5 2.5h-3.0zM394.1 147.7l1.5 2.5h-3.0zM367.2 79.6l1.5 2.5h-3.0zM409.4 129.3l1.5 2.5h-3.0zM383.1 119.3l1.5 2.5h-3.0zM415.7 26.3l1.5 2.5h-3.0zM359.1 109.7l1.5 2.5h-3.0zM376.0 132.2l1.5 2.5h-3.0zM365.8 124.3l1.5 2.5h-3.0zM421.2 85.3l1.5 2.5h-3.0zM432.1 112.6l1.5 2.5h-3.0zM386.4 103.4l1.5 2.5h-3.0zM363.6 132.8l1.5 2.5h-3.0zM407.9 131.9l1.5 2.5h-3.0zM385.0 109.9l1.5 2.5h-3.0zM381.0 132.5l1.5 2.5h-3.0zM433.9 124.6l1.5 2.5h-3.0zM379.2 132.3l1.5 2.5h-3.0zM356.4 147.7l1.5 2.5h-3.0zM392.4 85.6l1.5 2.5h-3.0zM427.6 147.2l1.5 2.5h-3.0zM402.1 141.0l1.5 2.5h-3.0zM377.3 109.3l1.5 2.5h-3.0zM422.7 106.4l1.5 2.5h-3.0zM377.6 132.6l1.5 2.5h-3.0zM380.4 95.8l1.5 2.5h-3.0zM432.4 85.4l1.5 2.5h-3.0zM412.8 197.8l1.5 2.5h-3.0zM405.8 115.6l1.5 2.5h-3.0zM364.3 102.8l1.5 2.5h-3.0zM425.5 90.8l1.5 2.5h-3.0zM447.8 64.8l1.5 2.5h-3.0zM354.9 129.4l1.5 2.5h-3.0zM398.8 219.8l1.5 2.5h-3.0zM372.9 132.2l1.5 2.5h-3.0zM393.2 154.1l1.5 2.5h-3.0zM399.6 92.0l1.5 2.5h-3.0zM374.1 128.8l1.5 2.5h-3.0zM355.8 161.9l1.5 2.5h-3.0zM393.8 150.7l1.5 2.5h-3.0zM366.5 91.2l1.5 2.5h-3.0zM419.4 109.6l1.5 2.5h-3.0zM430.3 154.3l1.5 2.5h-3.0zM346.5 82.3l1.5 2.5h-3.0zM408.2 133.8l1.5 2.5h-3.0zM361.0 152.2l1.5 2.5h-3.0zM361.9 130.6l1.5 2.5h-3.0zM382.9 130.9l1.5 2.5h-3.0zM372.4 138.8l1.5 2.5h-3.0zM373.7 153.4l1.5 2.5h-3.0zM408.5 148.6l1.5 2.5h-3.0zM407.4 121.7l1.5 2.5h-3.0zM371.2 138.0l1.5 2.5h-3.0zM418.1 95.3l1.5 2.5h-3.0zM358.3 133.9l1.5 2.5h-3.0zM452.7 72.5l1.5 2.5h-3.0zM428.5 103.4l1.5 2.5h-3.0zM370.5 140.8l1.5 2.5h-3.0zM354.0 14.8l1.5 2.5h-3.0zM413.2 128.0l1.5 2.5h-3.0zM347.8 138.0l1.5 2.5h-3.0zM379.3 103.8l1.5 2.5h-3.0zM348.2 104.2l1.5 2.5h-3.0zM477.2 61.8l1.5 2.5h-3.0zM353.4 193.1l1.5 2.5h-3.0zM381.9 139.9l1.5 2.5h-3.0zM444.7 58.1l1.5 2.5h-3.0zM387.5 105.7l1.5 2.5h-3.0zM348.8 225.3l1.5 2.5h-3.0zM374.6 120.0l1.5 2.5h-3.0zM376.4 160.3l1.5 2.5h-3.0zM354.2 172.4l1.5 2.5h-3.0zM386.9 158.9l1.5 2.5h-3.0zM380.9 197.2l1.5 2.5h-3.0zM371.0 128.3l1.5 2.5h-3.0zM407.5 89.1l1.5 2.5h-3.0zM440.4 121.5l1.5 2.5h-3.0zM393.8 71.6l1.5 2.5h-3.0zM390.6 162.5l1.5 2.5h-3.0zM358.3 140.6l1.5 2.5h-3.0zM431.2 116.5l1.5 2.5h-3.0zM379.6 143.2l1.5 2.5h-3.0zM371.0 113.7l1.5 2.5h-3.0zM383.8 166.0l1.5 2.5h-3.0zM393.4 141.7l1.5 2.5h-3.0zM357.3 194.6l1.5 2.5h-3.0zM391.3 85.6l1.5 2.5h-3.0zM377.6 122.7l1.5 2.5h-3.0zM385.3 95.3l1.5 2.5h-3.0zM417.6 142.9l1.5 2.5h-3.0zM360.9 110.6l1.5 2.5h-3.0zM434.2 103.0l1.5 2.5h-3.0zM406.2 149.7l1.5 2.5h-3.0zM365.7 137.0l1.5 2.5h-3.0zM416.6 118.0l1.5 2.5h-3.0zM398.4 80.4l1.5 2.5h-3.0zM427.0 157.9l1.5 2.5h-3.0zM385.3 187.5l1.5 2.5h-3.0zM358.0 151.5l1.5 2.5h-3.0zM367.1 105.4l1.5 2.5h-3.0zM373.6 200.5l1.5 2.5h-3.0zM347.5 200.4l1.5 2.5h-3.0zM378.8 191.5l1.5 2.5h-3.0zM416.6 123.7l1.5 2.5h-3.0zM356.7 140.4l1.5 2.5h-3.0zM398.9 137.1l1.5 2.5h-3.0zM386.1 110.4l1.5 2.5h-3.0zM391.6 118.4l1.5 2.5h-3.0zM366.7 145.5l1.5 2.5h-3.0zM354.8 172.4l1.5 2.5h-3.0zM437.0 111.9l1.5 2.5h-3.0zM356.3 102.9l1.5 2.5h-3.0zM356.3 93.8l1.5 2.5h-3.0zM376.3 122.3l1.5 2.5h-3.0zM367.4 107.4l1.5 2.5h-3.0zM357.1 131.1l1.5 2.5h-3.0zM376.7 103.9l1.5 2.5h-3.0zM371.3 75.7l1.5 2.5h-3.0zM364.8 191.7l1.5 2.5h-3.0zM403.3 195.5l1.5 2.5h-3.0zM360.3 164.8l1.5 2.5h-3.0zM376.8 116.1l1.5 2.5h-3.0zM426.9 142.2l1.5 2.5h-3.0zM382.9 137.7l1.5 2.5h-3.0zM379.9 120.7l1.5 2.5h-3.0zM397.6 110.9l1.5 2.5h-3.0zM376.6 162.5l1.5 2.5h-3.0zM360.6 110.2l1.5 2.5h-3.0zM364.1 149.9l1.5 2.5h-3.0zM403.4 82.5l1.5 2.5h-3.0zM353.1 105.5l1.5 2.5h-3.0zM383.4 116.5l1.5 2.5h-3.0zM352.6 91.4l1.5 2.5h-3.0zM400.1 198.9l1.5 2.5h-3.0zM498.5 106.6l1.5 2.5h-3.0zM360.7 115.5l1.5 2.5h-3.0zM446.8 99.9l1.5 2.5h-3.0zM364.3 157.1l1.5 2.5h-3.0zM358.1 122.3l1.5 2.5h-3.0zM389.1 124.2l1.5 2.5h-3.0zM369.7 135.7l1.5 2.5h-3.0zM436.4 115.8l1.5 2.5h-3.0zM385.8 160.3l1.5 2.5h-3.0zM378.4 151.1l1.5 2.5h-3.0zM387.5 112.8l1.5 2.5h-3.0zM464.1 92.3l1.5 2.5h-3.0zM384.1 103.1l1.5 2.5h-3.0zM402.9 149.7l1.5 2.5h-3.0zM388.2 151.7l1.5 2.5h-3.0zM416.7 119.0l1.5 2.5h-3.0zM413.7 140.6l1.5 2.5h-3.0zM380.3 84.0l1.5 2.5h-3.0zM385.1 86.5l1.5 2.5h-3.0zM387.0 119.8l1.5 2.5h-3.0zM365.2 163.1l1.5 2.5h-3.0zM399.4 101.0l1.5 2.5h-3.0zM359.9 194.9l1.5 2.5h-3.0zM381.6 117.1l1.5 2.5h-3.0zM371.3 157.8l1.5 2.5h-3.0zM386.0 186.5l1.5 2.5h-3.0zM373.0 149.1l1.5 2.5h-3.0zM379.5 94.8l1.5 2.5h-3.0zM413.4 110.2l1.5 2.5h-3.0zM409.6 97.1l1.5 2.5h-3.0zM362.5 101.9l1.5 2.5h-3.0zM354.9 131.6l1.5 2.5h-3.0zM386.5 60.8l1.5 2.5h-3.0zM368.1 127.1l1.5 2.5h-3.0zM369.2 137.4l1.5 2.5h-3.0zM362.9 87.0l1.5 2.5h-3.0zM392.2 26.7l1.5 2.5h-3.0zM395.1 120.8l1.5 2.5h-3.0zM351.2 92.1l1.5 2.5h-3.0zM394.2 142.5l1.5 2.5h-3.0zM392.0 133.8l1.5 2.5h-3.0zM428.7 123.3l1.5 2.5h-3.0zM472.1 68.5l1.5 2.5h-3.0zM386.1 142.4l1.5 2.5h-3.0zM380.4 111.4l1.5 2.5h-3.0zM358.8 122.2l1.5 2.5h-3.0zM413.1 96.3l1.5 2.5h-3.0zM363.8 177.2l1.5 2.5h-3.0zM397.0 104.1l1.5 2.5h-3.0zM362.5 141.2l1.5 2.5h-3.0zM393.5 125.5l1.5 2.5h-3.0zM356.0 91.3l1.5 2.5h-3.0zM355.0 167.7l1.5 2.5h-3.0zM359.3 230.3l1.5 2.5h-3.0zM383.0 93.5l1.5 2.5h-3.0zM387.8 169.9l1.5 2.5h-3.0zM356.6 118.2l1.5 2.5h-3.0zM356.0 123.8l1.5 2.5h-3.0zM362.0 165.1l1.5 2.5h-3.0zM406.7 118.8l1.5 2.5h-3.0zM367.5 208.5l1.5 2.5h-3.0zM429.2 108.0l1.5 2.5h-3.0zM439.4 58.4l1.5 2.5h-3.0zM381.9 104.9l1.5 2.5h-3.0zM420.6 125.0l1.5 2.5h-3.0zM369.1 117.2l1.5 2.5h-3.0zM346.1 194.2l1.5 2.5h-3.0zM375.2 105.6l1.5 2.5h-3.0zM346.1 212.1l1.5 2.5h-3.0zM374.7 189.6l1.5 2.5h-3.0zM362.3 180.4l1.5 2.5h-3.0zM395.0 116.0l1.5 2.5h-3.0zM368.0 143.1l1.5 2.5h-3.0zM374.6 153.5l1.5 2.5h-3.0zM384.8 182.8l1.5 2.5h-3.0zM369.0 153.7l1.5 2.5h-3.0zM375.8 103.5l1.5 2.5h-3.0zM411.6 131.0l1.5 2.5h-3.0zM433.2 118.2l1.5 2.5h-3.0zM395.9 111.4l1.5 2.5h-3.0zM357.8 117.9l1.5 2.5h-3.0zM405.4 135.7l1.5 2.5h-3.0zM363.3 127.2l1.5 2.5h-3.0zM454.4 149.0l1.5 2.5h-3.0zM411.6 38.9l1.5 2.5h-3.0zM406.8 148.5l1.5 2.5h-3.0zM404.1 90.3l1.5 2.5h-3.0zM374.9 162.2l1.5 2.5h-3.0zM362.8 95.1l1.5 2.5h-3.0zM419.8 138.2l1.5 2.5h-3.0zM423.1 156.6l1.5 2.5h-3.0zM381.4 112.4l1.5 2.5h-3.0zM349.7 172.4l1.5 2.5h-3.0zM381.6 138.3l1.5 2.5h-3.0zM356.7 137.8l1.5 2.5h-3.0zM352.8 64.5l1.5 2.5h-3.0zM392.8 154.1l1.5 2.5h-3.0zM376.2 129.0l1.5 2.5h-3.0zM352.8 132.8l1.5 2.5h-3.0zM411.3 154.1l1.5 2.5h-3.0zM430.3 123.0l1.5 2.5h-3.0zM400.0 183.0l1.5 2.5h-3.0zM354.4 171.4l1.5 2.5h-3.0zM360.0 129.9l1.5 2.5h-3.0zM427.2 168.8l1.5 2.5h-3.0zM371.8 137.0l1.5 2.5h-3.0zM359.2 123.3l1.5 2.5h-3.0zM351.2 193.6l1.5 2.5h-3.0zM399.5 143.2l1.5 2.5h-3.0zM352.9 134.9l1.5 2.5h-3.0zM362.0 108.5l1.5 2.5h-3.0zM382.0 119.0l1.5 2.5h-3.0zM386.2 73.1l1.5 2.5h-3.0zM369.4 51.2l1.5 2.5h-3.0zM385.0 140.5l1.5 2.5h-3.0zM382.9 84.5l1.5 2.5h-3.0zM370.6 128.0l1.5 2.5h-3.0zM358.0 137.3l1.5 2.5h-3.0zM412.4 134.9l1.5 2.5h-3.0zM392.4 128.1l1.5 2.5h-3.0zM432.4 109.8l1.5 2.5h-3.0zM396.6 86.4l1.5 2.5h-3.0zM453.3 109.2l1.5 2.5h-3.0zM389.2 152.2l1.5 2.5h-3.0zM350.1 71.0l1.5 2.5h-3.0zM437.1 93.4l1.5 2.5h-3.0zM388.6 155.4l1.5 2.5h-3.0zM379.1 135.1l1.5 2.5h-3.0zM397.5 99.5l1.5 2.5h-3.0zM350.6 146.1l1.5 2.5h-3.0zM417.8 93.1l1.5 2.5h-3.0zM347.6 146.6l1.5 2.5h-3.0zM347.6 216.9l1.5 2.5h-3.0zM357.8 136.0l1.5 2.5h-3.0zM398.7 176.4l1.5 2.5h-3.0zM368.7 113.2l1.5 2.5h-3.0zM378.3 130.1l1.5 2.5h-3.0zM450.2 92.2l1.5 2.5h-3.0zM410.7 190.3l1.5 2.5h-3.0zM349.2 154.2l1.5 2.5h-3.0zM379.5 122.6l1.5 2.5h-3.0zM355.5 167.0l1.5 2.5h-3.0zM388.7 95.8l1.5 2.5h-3.0zM373.2 90.8l1.5 2.5h-3.0zM435.5 57.5l1.5 2.5h-3.0zM395.2 112.1l1.5 2.5h-3.0zM408.5 89.8l1.5 2.5h-3.0zM350.6 126.6l1.5 2.5h-3.0zM368.9 205.9l1.5 2.5h-3.0zM360.8 133.7l1.5 2.5h-3.0zM382.5 163.8l1.5 2.5h-3.0zM419.9 145.1l1.5 2.5h-3.0zM367.1 143.3l1.5 2.5h-3.0zM415.4 42.0l1.5 2.5h-3.0zM356.1 128.2l1.5 2.5h-3.0zM420.0 146.3l1.5 2.5h-3.0zM398.0 178.0l1.5 2.5h-3.0zM373.1 82.7l1.5 2.5h-3.0zM429.5 145.5l1.5 2.5h-3.0zM413.5 116.7l1.5 2.5h-3.0zM406.0 113.8l1.5 2.5h-3.0zM376.3 109.2l1.5 2.5h-3.0zM354.9 151.9l1.5 2.5h-3.0zM401.6 103.0l1.5 2.5h-3.0zM380.3 147.9l1.5 2.5h-3.0zM374.9 136.8l1.5 2.5h-3.0zM362.0 135.9l1.5 2.5h-3.0zM361.3 253.3l1.5 2.5h-3.0zM350.9 143.2l1.5 2.5h-3.0zM349.8 150.2l1.5 2.5h-3.0zM383.6 124.8l1.5 2.5h-3.0zM392.4 157.6l1.5 2.5h-3.0zM443.3 114.2l1.5 2.5h-3.0zM347.1 168.6l1.5 2.5h-3.0zM350.3 140.6l1.5 2.5h-3.0zM348.2 190.0l1.5 2.5h-3.0zM372.6 154.6l1.5 2.5h-3.0zM397.4 159.3l1.5 2.5h-3.0zM404.4 115.6l1.5 2.5h-3.0zM363.7 158.3l1.5 2.5h-3.0zM356.1 97.0l1.5 2.5h-3.0zM387.7 222.9l1.5 2.5h-3.0zM346.8 97.0l1.5 2.5h-3.0zM379.4 110.5l1.5 2.5h-3.0zM363.6 208.2l1.5 2.5h-3.0zM353.7 131.5l1.5 2.5h-3.0zM365.1 113.7l1.5 2.5h-3.0zM386.3 140.5l1.5 2.5h-3.0zM349.1 115.3l1.5 2.5h-3.0zM383.7 105.8l1.5 2.5h-3.0zM374.9 133.7l1.5 2.5h-3.0zM368.3 153.0l1.5 2.5h-3.0zM360.6 122.3l1.5 2.5h-3.0zM359.8 108.9l1.5 2.5h-3.0zM376.9 98.0l1.5 2.5h-3.0zM400.2 173.8l1.5 2.5h-3.0zM358.6 189.3l1.5 2.5h-3.0zM388.7 57.7l1.5 2.5h-3.0zM430.0 136.6l1.5 2.5h-3.0zM373.1 115.0l1.5 2.5h-3.0zM379.5 185.0l1.5 2.5h-3.0zM388.1 149.7l1.5 2.5h-3.0zM404.8 159.1l1.5 2.5h-3.0zM364.5 132.4l1.5 2.5h-3.0zM403.0 132.1l1.5 2.5h-3.0zM365.1 87.3l1.5 2.5h-3.0zM380.4 231.0l1.5 2.5h-3.0zM394.7 113.1l1.5 2.5h-3.0zM401.9 116.9l1.5 2.5h-3.0zM384.2 110.1l1.5 2.5h-3.0zM374.3 127.6l1.5 2.5h-3.0zM381.1 120.9l1.5 2.5h-3.0zM354.8 201.6l1.5 2.5h-3.0zM410.2 101.7l1.5 2.5h-3.0zM391.4 112.8l1.5 2.5h-3.0zM361.8 90.8l1.5 2.5h-3.0zM375.9 217.5l1.5 2.5h-3.0zM418.5 129.4l1.5 2.5h-3.0zM346.2 236.6l1.5 2.5h-3.0zM351.1 162.1l1.5 2.5h-3.0zM384.9 84.3l1.5 2.5h-3.0zM394.6 143.9l1.5 2.5h-3.0zM377.4 118.8l1.5 2.5h-3.0zM365.1 143.0l1.5 2.5h-3.0zM371.7 133.2l1.5 2.5h-3.0zM348.8 133.8l1.5 2.5h-3.0zM358.9 194.2l1.5 2.5h-3.0zM395.0 132.5l1.5 2.5h-3.0zM358.2 100.3l1.5 2.5h-3.0zM435.3 133.2l1.5 2.5h-3.0zM373.7 145.3l1.5 2.5h-3.0zM437.5 171.8l1.5 2.5h-3.0zM368.1 214.4l1.5 2.5h-3.0zM437.5 112.1l1.5 2.5h-3.0zM396.2 110.0l1.5 2.5h-3.0zM357.4 104.2l1.5 2.5h-3.0zM435.4 135.6l1.5 2.5h-3.0zM348.1 152.5l1.5 2.5h-3.0zM370.3 134.6l1.5 2.5h-3.0zM428.2 134.8l1.5 2.5h-3.0zM373.6 94.6l1.5 2.5h-3.0zM409.3 164.7l1.5 2.5h-3.0zM367.8 125.2l1.5 2.5h-3.0zM387.5 74.0l1.5 2.5h-3.0zM391.6 155.4l1.5 2.5h-3.0zM419.3 152.5l1.5 2.5h-3.0zM391.8 112.8l1.5 2.5h-3.0zM351.9 181.7l1.5 2.5h-3.0zM409.5 222.4l1.5 2.5h-3.0zM390.8 142.1l1.5 2.5h-3.0zM398.2 100.6l1.5 2.5h-3.0zM376.2 121.8l1.5 2.5h-3.0zM393.0 130.5l1.5 2.5h-3.0zM388.0 167.5l1.5 2.5h-3.0zM397.2 139.4l1.5 2.5h-3.0zM367.6 184.1l1.5 2.5h-3.0zM396.5 141.0l1.5 2.5h-3.0zM352.4 150.1l1.5 2.5h-3.0zM347.6 90.2l1.5 2.5h-3.0zM412.7 126.8l1.5 2.5h-3.0zM448.2 157.2l1.5 2.5h-3.0zM434.5 29.0l1.5 2.5h-3.0zM377.2 81.9l1.5 2.5h-3.0zM402.6 110.5l1.5 2.5h-3.0zM427.8 131.5l1.5 2.5h-3.0zM352.2 92.1l1.5 2.5h-3.0zM363.4 109.8l1.5 2.5h-3.0zM385.3 153.8l1.5 2.5h-3.0zM442.5 121.0l1.5 2.5h-3.0zM407.3 108.5l1.5 2.5h-3.0zM387.0 117.5l1.5 2.5h-3.0zM413.3 102.8l1.5 2.5h-3.0zM365.8 149.4l1.5 2.5h-3.0zM372.1 153.3l1.5 2.5h-3.0zM401.8 121.0l1.5 2.5h-3.0zM428.3 153.8l1.5 2.5h-3.0zM475.2 115.6l1.5 2.5h-3.0zM357.2 147.2l1.5 2.5h-3.0zM358.0 138.2l1.5 2.5h-3.0zM373.2 167.9l1.5 2.5h-3.0zM418.5 118.7l1.5 2.5h-3.0zM443.6 134.1l1.5 2.5h-3.0zM412.8 114.0l1.5 2.5h-3.0zM367.4 111.3l1.5 2.5h-3.0zM365.3 107.5l1.5 2.5h-3.0zM410.0 129.5l1.5 2.5h-3.0zM418.0 86.2l1.5 2.5h-3.0zM358.5 152.1l1.5 2.5h-3.0zM367.4 137.7l1.5 2.5h-3.0zM390.7 153.2l1.5 2.5h-3.0zM369.3 138.9l1.5 2.5h-3.0zM435.6 117.7l1.5 2.5h-3.0zM370.9 88.7l1.5 2.5h-3.0zM404.2 156.9l1.5 2.5h-3.0zM400.1 123.8l1.5 2.5h-3.0zM368.0 204.7l1.5 2.5h-3.0zM357.8 120.4l1.5 2.5h-3.0zM411.4 99.6l1.5 2.5h-3.0zM362.4 134.8l1.5 2.5h-3.0zM372.9 153.3l1.5 2.5h-3.0zM351.9 136.4l1.5 2.5h-3.0zM360.3 142.0l1.5 2.5h-3.0zM359.3 159.9l1.5 2.5h-3.0zM462.3 78.7l1.5 2.5h-3.0zM373.4 134.1l1.5 2.5h-3.0zM382.8 172.0l1.5 2.5h-3.0zM427.3 107.2l1.5 2.5h-3.0zM391.6 103.9l1.5 2.5h-3.0zM378.2 119.7l1.5 2.5h-3.0zM369.4 118.8l1.5 2.5h-3.0zM370.7 164.2l1.5 2.5h-3.0zM396.7 77.5l1.5 2.5h-3.0zM469.5 116.1l1.5 2.5h-3.0zM357.9 117.8l1.5 2.5h-3.0zM386.6 109.6l1.5 2.5h-3.0zM380.3 154.9l1.5 2.5h-3.0zM376.5 153.5l1.5 2.5h-3.0zM357.3 117.3l1.5 2.5h-3.0zM356.3 114.3l1.5 2.5h-3.0zM374.3 155.8l1.5 2.5h-3.0zM366.8 128.8l1.5 2.5h-3.0zM403.1 173.5l1.5 2.5h-3.0zM403.5 169.9l1.5 2.5h-3.0zM351.5 171.1l1.5 2.5h-3.0zM411.7 112.6l1.5 2.5h-3.0zM407.9 174.6l1.5 2.5h-3.0zM363.3 157.8l1.5 2.5h-3.0zM366.5 164.4l1.5 2.5h-3.0zM380.1 103.1l1.5 2.5h-3.0zM419.4 82.8l1.5 2.5h-3.0zM434.3 123.0l1.5 2.5h-3.0zM461.6 94.1l1.5 2.5h-3.0zM411.2 85.8l1.5 2.5h-3.0zM346.0 144.5l1.5 2.5h-3.0zM371.7 112.0l1.5 2.5h-3.0zM349.0 163.3l1.5 2.5h-3.0zM403.8 114.7l1.5 2.5h-3.0zM371.7 126.6l1.5 2.5h-3.0zM352.9 150.5l1.5 2.5h-3.0zM393.7 98.0l1.5 2.5h-3.0zM353.6 172.5l1.5 2.5h-3.0zM402.0 158.4l1.5 2.5h-3.0zM380.9 167.9l1.5 2.5h-3.0zM347.2 253.0l1.5 2.5h-3.0zM426.0 120.2l1.5 2.5h-3.0zM362.7 155.4l1.5 2.5h-3.0zM375.0 115.2l1.5 2.5h-3.0zM361.8 162.3l1.5 2.5h-3.0zM355.8 103.0l1.5 2.5h-3.0zM420.0 84.8l1.5 2.5h-3.0zM377.4 151.6l1.5 2.5h-3.0zM378.8 123.2l1.5 2.5h-3.0zM404.9 117.0l1.5 2.5h-3.0zM391.1 136.2l1.5 2.5h-3.0zM432.8 142.2l1.5 2.5h-3.0zM382.2 124.5l1.5 2.5h-3.0zM383.9 105.8l1.5 2.5h-3.0zM386.0 100.2l1.5 2.5h-3.0zM359.7 94.9l1.5 2.5h-3.0zM358.3 99.8l1.5 2.5h-3.0zM373.8 147.3l1.5 2.5h-3.0zM420.2 143.7l1.5 2.5h-3.0zM346.8 165.9l1.5 2.5h-3.0zM460.1 35.5l1.5 2.5h-3.0zM382.3 130.7l1.5 2.5h-3.0zM388.2 72.8l1.5 2.5h-3.0zM372.2 203.8l1.5 2.5h-3.0zM390.7 143.4l1.5 2.5h-3.0zM429.9 164.3l1.5 2.5h-3.0zM361.6 200.9l1.5 2.5h-3.0zM411.5 120.7l1.5 2.5h-3.0zM348.1 106.5l1.5 2.5h-3.0zM372.2 199.0l1.5 2.5h-3.0zM385.0 96.3l1.5 2.5h-3.0zM364.5 182.3l1.5 2.5h-3.0zM396.6 130.3l1.5 2.5h-3.0zM405.6 112.3l1.5 2.5h-3.0zM364.8 161.1l1.5 2.5h-3.0zM382.0 96.4l1.5 2.5h-3.0zM416.5 127.9l1.5 2.5h-3.0zM394.3 96.8l1.5 2.5h-3.0zM349.3 166.3l1.5 2.5h-3.0zM363.1 123.6l1.5 2.5h-3.0zM346.8 244.1l1.5 2.5h-3.0zM439.4 158.9l1.5 2.5h-3.0zM376.7 133.8l1.5 2.5h-3.0zM388.6 138.0l1.5 2.5h-3.0zM370.3 114.4l1.5 2.5h-3.0zM435.3 143.4l1.5 2.5h-3.0zM413.4 114.4l1.5 2.5h-3.0zM447.5 83.5l1.5 2.5h-3.0zM374.3 127.2l1.5 2.5h-3.0zM349.3 155.0l1.5 2.5h-3.0zM390.0 102.8l1.5 2.5h-3.0zM377.3 191.3l1.5 2.5h-3.0zM368.5 160.9l1.5 2.5h-3.0zM381.0 59.6l1.5 2.5h-3.0zM357.7 135.1l1.5 2.5h-3.0zM458.2 107.8l1.5 2.5h-3.0zM356.0 111.5l1.5 2.5h-3.0zM368.2 126.4l1.5 2.5h-3.0zM422.0 136.5l1.5 2.5h-3.0zM369.6 132.8l1.5 2.5h-3.0zM402.5 75.6l1.5 2.5h-3.0zM365.4 210.8l1.5 2.5h-3.0zM400.3 70.6l1.5 2.5h-3.0zM354.8 137.3l1.5 2.5h-3.0zM347.8 129.3l1.5 2.5h-3.0zM385.1 109.6l1.5 2.5h-3.0zM378.7 116.5l1.5 2.5h-3.0zM359.8 112.8l1.5 2.5h-3.0zM371.0 137.6l1.5 2.5h-3.0zM420.7 180.4l1.5 2.5h-3.0zM388.9 92.6l1.5 2.5h-3.0zM374.7 78.9l1.5 2.5h-3.0zM386.1 228.4l1.5 2.5h-3.0zM391.4 104.6l1.5 2.5h-3.0zM362.6 88.6l1.5 2.5h-3.0zM383.4 135.5l1.5 2.5h-3.0zM413.4 60.4l1.5 2.5h-3.0zM407.4 65.7l1.5 2.5h-3.0zM354.3 232.0l1.5 2.5h-3.0zM398.2 138.0l1.5 2.5h-3.0zM359.8 141.3l1.5 2.5h-3.0zM376.4 155.5l1.5 2.5h-3.0zM418.5 116.0l1.5 2.5h-3.0zM412.2 131.4l1.5 2.5h-3.0zM401.5 136.4l1.5 2.5h-3.0zM386.6 167.7l1.5 2.5h-3.0zM386.5 141.0l1.5 2.5h-3.0zM385.9 132.8l1.5 2.5h-3.0zM377.5 171.9l1.5 2.5h-3.0zM381.4 190.5l1.5 2.5h-3.0zM387.8 168.6l1.5 2.5h-3.0zM389.5 221.8l1.5 2.5h-3.0zM369.7 221.8l1.5 2.5h-3.0zM427.4 99.9l1.5 2.5h-3.0zM372.7 129.8l1.5 2.5h-3.0zM396.4 142.5l1.5 2.5h-3.0zM346.6 146.9l1.5 2.5h-3.0zM372.9 158.7l1.5 2.5h-3.0zM421.7 120.0l1.5 2.5h-3.0zM352.5 122.6l1.5 2.5h-3.0zM386.8 101.3l1.5 2.5h-3.0zM368.4 116.7l1.5 2.5h-3.0zM365.6 100.5l1.5 2.5h-3.0zM387.3 102.2l1.5 2.5h-3.0zM402.3 122.8l1.5 2.5h-3.0zM358.9 252.8l1.5 2.5h-3.0zM373.4 163.4l1.5 2.5h-3.0zM372.5 124.5l1.5 2.5h-3.0zM370.7 138.5l1.5 2.5h-3.0zM348.9 93.5l1.5 2.5h-3.0zM370.6 141.1l1.5 2.5h-3.0zM381.4 90.5l1.5 2.5h-3.0zM399.7 113.4l1.5 2.5h-3.0zM405.8 112.3l1.5 2.5h-3.0zM388.1 164.3l1.5 2.5h-3.0zM356.0 106.5l1.5 2.5h-3.0zM370.3 168.2l1.5 2.5h-3.0zM361.8 132.9l1.5 2.5h-3.0zM434.1 142.0l1.5 2.5h-3.0zM390.6 101.8l1.5 2.5h-3.0zM397.4 112.2l1.5 2.5h-3.0zM422.6 131.6l1.5 2.5h-3.0zM393.3 128.5l1.5 2.5h-3.0zM369.9 183.9l1.5 2.5h-3.0zM367.0 130.1l1.5 2.5h-3.0zM400.5 134.3l1.5 2.5h-3.0zM349.3 102.7l1.5 2.5h-3.0zM358.7 153.8l1.5 2.5h-3.0zM370.3 172.6l1.5 2.5h-3.0zM347.7 79.3l1.5 2.5h-3.0zM384.1 114.6l1.5 2.5h-3.0zM404.8 150.5l1.5 2.5h-3.0zM392.3 215.9l1.5 2.5h-3.0zM392.7 137.7l1.5 2.5h-3.0zM372.1 123.6l1.5 2.5h-3.0zM396.8 119.2l1.5 2.5h-3.0zM420.3 187.8l1.5 2.5h-3.0zM373.1 187.4l1.5 2.5h-3.0zM369.0 134.5l1.5 2.5h-3.0zM374.2 107.1l1.5 2.5h-3.0zM349.4 149.0l1.5 2.5h-3.0zM352.9 172.9l1.5 2.5h-3.0zM406.6 127.0l1.5 2.5h-3.0zM433.6 83.7l1.5 2.5h-3.0zM376.9 110.3l1.5 2.5h-3.0zM409.4 96.4l1.5 2.5h-3.0zM372.0 126.3l1.5 2.5h-3.0zM374.6 91.6l1.5 2.5h-3.0zM368.2 120.1l1.5 2.5h-3.0zM374.3 148.5l1.5 2.5h-3.0zM379.9 117.2l1.5 2.5h-3.0zM444.0 141.0l1.5 2.5h-3.0zM416.3 130.0l1.5 2.5h-3.0zM363.5 195.5l1.5 2.5h-3.0zM358.9 117.2l1.5 2.5h-3.0zM361.7 169.8l1.5 2.5h-3.0zM393.4 122.1l1.5 2.5h-3.0zM425.2 123.8l1.5 2.5h-3.0zM411.4 142.6l1.5 2.5h-3.0zM345.7 172.9l1.5 2.5h-3.0zM405.0 135.9l1.5 2.5h-3.0zM369.6 113.0l1.5 2.5h-3.0zM413.1 139.3l1.5 2.5h-3.0zM410.6 64.1l1.5 2.5h-3.0zM354.5 125.0l1.5 2.5h-3.0zM368.8 142.4l1.5 2.5h-3.0zM380.0 142.1l1.5 2.5h-3.0zM407.8 211.3l1.5 2.5h-3.0zM351.5 43.7l1.5 2.5h-3.0zM376.0 168.0l1.5 2.5h-3.0zM371.6 132.6l1.5 2.5h-3.0zM350.5 125.0l1.5 2.5h-3.0zM384.1 22.0l1.5 2.5h-3.0z"/>
<path stroke="#e0962e" stroke-width="0.6" opacity="0.62" d="M420.3 105.4l1.5 2.5h-3.0zM422.7 152.9l1.5 2.5h-3.0zM353.7 118.4l1.5 2.5h-3.0zM387.3 134.7l1.5 2.5h-3.0zM376.3 126.9l1.5 2.5h-3.0zM413.0 106.7l1.5 2.5h-3.0zM368.4 131.4l1.5 2.5h-3.0zM367.4 194.1l1.5 2.5h-3.0zM418.1 91.0l1.5 2.5h-3.0zM390.1 89.3l1.5 2.5h-3.0zM348.9 166.2l1.5 2.5h-3.0zM388.7 109.7l1.5 2.5h-3.0zM364.2 136.8l1.5 2.5h-3.0zM379.1 171.7l1.5 2.5h-3.0zM410.2 123.6l1.5 2.5h-3.0zM435.7 122.0l1.5 2.5h-3.0zM448.4 112.8l1.5 2.5h-3.0zM380.3 125.2l1.5 2.5h-3.0zM400.6 148.1l1.5 2.5h-3.0zM392.5 130.9l1.5 2.5h-3.0zM386.3 134.6l1.5 2.5h-3.0zM357.9 205.2l1.5 2.5h-3.0zM424.2 154.2l1.5 2.5h-3.0zM415.8 124.0l1.5 2.5h-3.0zM381.3 154.4l1.5 2.5h-3.0zM358.2 131.0l1.5 2.5h-3.0zM376.3 80.1l1.5 2.5h-3.0zM423.5 109.9l1.5 2.5h-3.0zM375.6 129.3l1.5 2.5h-3.0zM389.6 102.2l1.5 2.5h-3.0zM394.8 163.4l1.5 2.5h-3.0zM398.0 165.9l1.5 2.5h-3.0zM399.7 150.2l1.5 2.5h-3.0zM399.8 122.5l1.5 2.5h-3.0zM346.4 130.0l1.5 2.5h-3.0zM371.6 108.5l1.5 2.5h-3.0zM375.5 94.5l1.5 2.5h-3.0zM400.8 68.0l1.5 2.5h-3.0zM386.9 134.3l1.5 2.5h-3.0zM392.6 101.8l1.5 2.5h-3.0zM367.6 75.3l1.5 2.5h-3.0zM355.4 138.0l1.5 2.5h-3.0zM353.5 142.8l1.5 2.5h-3.0zM396.7 147.9l1.5 2.5h-3.0zM351.0 137.6l1.5 2.5h-3.0zM385.1 141.7l1.5 2.5h-3.0zM397.0 121.1l1.5 2.5h-3.0zM406.4 145.9l1.5 2.5h-3.0zM413.1 126.0l1.5 2.5h-3.0zM383.0 58.7l1.5 2.5h-3.0zM411.2 166.5l1.5 2.5h-3.0zM382.1 214.2l1.5 2.5h-3.0zM353.1 142.4l1.5 2.5h-3.0zM348.8 117.0l1.5 2.5h-3.0zM410.3 99.4l1.5 2.5h-3.0zM395.2 137.3l1.5 2.5h-3.0zM428.8 135.7l1.5 2.5h-3.0zM348.6 161.1l1.5 2.5h-3.0zM393.1 122.5l1.5 2.5h-3.0zM351.2 170.7l1.5 2.5h-3.0zM365.1 113.4l1.5 2.5h-3.0zM401.1 124.8l1.5 2.5h-3.0zM417.6 93.7l1.5 2.5h-3.0zM370.0 114.4l1.5 2.5h-3.0zM370.1 130.6l1.5 2.5h-3.0zM418.3 130.0l1.5 2.5h-3.0zM406.4 156.5l1.5 2.5h-3.0zM365.3 135.7l1.5 2.5h-3.0zM370.2 146.2l1.5 2.5h-3.0zM352.4 198.8l1.5 2.5h-3.0zM371.3 149.2l1.5 2.5h-3.0zM376.6 140.7l1.5 2.5h-3.0zM381.8 126.6l1.5 2.5h-3.0zM407.4 183.4l1.5 2.5h-3.0zM389.0 100.7l1.5 2.5h-3.0zM365.2 170.2l1.5 2.5h-3.0zM400.2 125.8l1.5 2.5h-3.0zM345.5 101.8l1.5 2.5h-3.0zM402.3 101.9l1.5 2.5h-3.0zM388.1 158.0l1.5 2.5h-3.0zM389.1 125.5l1.5 2.5h-3.0zM369.0 113.3l1.5 2.5h-3.0zM380.6 139.0l1.5 2.5h-3.0zM388.4 124.0l1.5 2.5h-3.0zM373.6 89.4l1.5 2.5h-3.0zM368.1 140.9l1.5 2.5h-3.0zM385.8 133.1l1.5 2.5h-3.0zM367.8 129.8l1.5 2.5h-3.0zM364.4 116.8l1.5 2.5h-3.0zM350.4 125.9l1.5 2.5h-3.0zM358.2 109.5l1.5 2.5h-3.0zM438.8 193.8l1.5 2.5h-3.0zM381.1 171.3l1.5 2.5h-3.0zM398.7 84.6l1.5 2.5h-3.0zM359.7 100.1l1.5 2.5h-3.0zM412.4 137.8l1.5 2.5h-3.0zM423.3 120.4l1.5 2.5h-3.0zM397.3 133.2l1.5 2.5h-3.0zM402.9 114.4l1.5 2.5h-3.0zM419.5 140.3l1.5 2.5h-3.0zM399.7 133.8l1.5 2.5h-3.0zM401.5 130.9l1.5 2.5h-3.0zM389.8 166.6l1.5 2.5h-3.0zM389.3 182.8l1.5 2.5h-3.0zM381.9 120.6l1.5 2.5h-3.0zM430.6 121.1l1.5 2.5h-3.0zM444.1 128.1l1.5 2.5h-3.0zM421.9 119.6l1.5 2.5h-3.0zM398.6 109.3l1.5 2.5h-3.0zM364.0 119.1l1.5 2.5h-3.0zM389.2 140.5l1.5 2.5h-3.0zM408.1 137.3l1.5 2.5h-3.0zM419.5 122.9l1.5 2.5h-3.0zM406.5 143.0l1.5 2.5h-3.0zM353.7 164.6l1.5 2.5h-3.0zM396.7 76.9l1.5 2.5h-3.0zM387.0 115.9l1.5 2.5h-3.0zM457.7 94.3l1.5 2.5h-3.0zM387.2 132.9l1.5 2.5h-3.0zM416.7 175.4l1.5 2.5h-3.0zM416.8 132.4l1.5 2.5h-3.0zM385.3 125.0l1.5 2.5h-3.0zM353.3 137.1l1.5 2.5h-3.0zM405.3 147.3l1.5 2.5h-3.0zM378.0 115.6l1.5 2.5h-3.0zM373.6 139.6l1.5 2.5h-3.0zM349.5 140.2l1.5 2.5h-3.0zM348.8 160.1l1.5 2.5h-3.0zM360.1 117.9l1.5 2.5h-3.0zM377.2 204.2l1.5 2.5h-3.0zM356.1 124.1l1.5 2.5h-3.0zM415.6 104.1l1.5 2.5h-3.0zM405.6 110.0l1.5 2.5h-3.0zM362.4 87.5l1.5 2.5h-3.0zM427.0 103.2l1.5 2.5h-3.0zM433.5 85.9l1.5 2.5h-3.0zM381.9 112.0l1.5 2.5h-3.0zM392.7 181.8l1.5 2.5h-3.0zM392.5 94.7l1.5 2.5h-3.0zM358.7 116.8l1.5 2.5h-3.0zM355.9 113.0l1.5 2.5h-3.0zM391.4 108.9l1.5 2.5h-3.0zM400.3 94.6l1.5 2.5h-3.0zM396.2 177.2l1.5 2.5h-3.0zM356.9 122.8l1.5 2.5h-3.0zM353.3 116.7l1.5 2.5h-3.0zM378.1 160.9l1.5 2.5h-3.0zM381.4 122.2l1.5 2.5h-3.0zM410.4 99.5l1.5 2.5h-3.0zM347.4 159.1l1.5 2.5h-3.0zM394.1 144.1l1.5 2.5h-3.0zM378.8 110.3l1.5 2.5h-3.0zM371.6 139.1l1.5 2.5h-3.0zM377.8 110.6l1.5 2.5h-3.0zM363.9 203.2l1.5 2.5h-3.0zM408.7 156.4l1.5 2.5h-3.0zM414.9 128.4l1.5 2.5h-3.0zM415.7 136.9l1.5 2.5h-3.0zM452.8 102.7l1.5 2.5h-3.0zM366.4 121.4l1.5 2.5h-3.0zM375.6 172.0l1.5 2.5h-3.0zM371.3 237.7l1.5 2.5h-3.0zM366.0 162.9l1.5 2.5h-3.0zM348.6 136.0l1.5 2.5h-3.0zM372.1 216.7l1.5 2.5h-3.0zM361.2 140.6l1.5 2.5h-3.0zM349.8 129.2l1.5 2.5h-3.0zM390.2 210.6l1.5 2.5h-3.0zM349.8 112.9l1.5 2.5h-3.0zM383.3 103.0l1.5 2.5h-3.0zM382.8 120.8l1.5 2.5h-3.0zM351.0 144.9l1.5 2.5h-3.0zM378.7 109.0l1.5 2.5h-3.0zM414.9 165.4l1.5 2.5h-3.0zM360.3 114.3l1.5 2.5h-3.0zM393.0 137.6l1.5 2.5h-3.0zM438.3 123.3l1.5 2.5h-3.0zM369.3 119.1l1.5 2.5h-3.0zM386.3 119.6l1.5 2.5h-3.0zM408.6 122.4l1.5 2.5h-3.0zM391.2 96.3l1.5 2.5h-3.0zM383.8 125.9l1.5 2.5h-3.0zM417.2 140.5l1.5 2.5h-3.0zM465.3 111.1l1.5 2.5h-3.0zM349.3 153.0l1.5 2.5h-3.0zM402.9 150.6l1.5 2.5h-3.0zM359.4 134.4l1.5 2.5h-3.0zM353.4 108.5l1.5 2.5h-3.0zM369.6 191.1l1.5 2.5h-3.0zM361.5 124.5l1.5 2.5h-3.0zM416.8 161.8l1.5 2.5h-3.0zM375.3 144.2l1.5 2.5h-3.0zM354.8 166.7l1.5 2.5h-3.0zM453.5 77.1l1.5 2.5h-3.0zM383.8 142.2l1.5 2.5h-3.0zM423.9 135.1l1.5 2.5h-3.0zM387.5 168.0l1.5 2.5h-3.0zM351.6 109.9l1.5 2.5h-3.0zM362.9 128.5l1.5 2.5h-3.0zM418.2 132.4l1.5 2.5h-3.0zM346.9 140.4l1.5 2.5h-3.0zM437.7 122.3l1.5 2.5h-3.0zM373.1 142.7l1.5 2.5h-3.0zM476.9 100.3l1.5 2.5h-3.0zM419.5 128.9l1.5 2.5h-3.0zM370.2 113.5l1.5 2.5h-3.0zM393.8 157.1l1.5 2.5h-3.0zM452.7 34.4l1.5 2.5h-3.0zM401.3 105.4l1.5 2.5h-3.0zM397.3 101.2l1.5 2.5h-3.0zM362.2 137.0l1.5 2.5h-3.0zM403.5 130.3l1.5 2.5h-3.0zM356.4 139.0l1.5 2.5h-3.0zM355.5 130.2l1.5 2.5h-3.0zM390.7 83.6l1.5 2.5h-3.0zM389.2 145.9l1.5 2.5h-3.0zM417.8 148.1l1.5 2.5h-3.0zM397.7 234.0l1.5 2.5h-3.0zM392.8 93.7l1.5 2.5h-3.0zM398.3 79.3l1.5 2.5h-3.0zM345.7 68.5l1.5 2.5h-3.0zM349.9 164.4l1.5 2.5h-3.0zM360.0 137.0l1.5 2.5h-3.0zM380.6 146.1l1.5 2.5h-3.0zM377.4 98.8l1.5 2.5h-3.0zM397.4 83.6l1.5 2.5h-3.0zM376.3 105.2l1.5 2.5h-3.0zM388.5 161.1l1.5 2.5h-3.0zM437.3 133.0l1.5 2.5h-3.0zM375.4 186.4l1.5 2.5h-3.0zM426.1 149.6l1.5 2.5h-3.0zM394.1 117.0l1.5 2.5h-3.0zM355.8 107.4l1.5 2.5h-3.0zM382.8 143.9l1.5 2.5h-3.0zM387.6 93.5l1.5 2.5h-3.0zM384.6 225.4l1.5 2.5h-3.0zM432.0 110.9l1.5 2.5h-3.0zM345.9 167.5l1.5 2.5h-3.0zM385.4 109.9l1.5 2.5h-3.0zM370.8 146.9l1.5 2.5h-3.0zM403.5 88.3l1.5 2.5h-3.0zM352.9 175.6l1.5 2.5h-3.0zM370.7 127.8l1.5 2.5h-3.0zM363.0 47.7l1.5 2.5h-3.0zM356.7 229.8l1.5 2.5h-3.0zM365.5 113.7l1.5 2.5h-3.0zM425.3 118.5l1.5 2.5h-3.0zM401.6 124.0l1.5 2.5h-3.0zM414.2 165.9l1.5 2.5h-3.0zM383.1 152.6l1.5 2.5h-3.0zM383.1 62.1l1.5 2.5h-3.0zM346.4 98.9l1.5 2.5h-3.0zM389.2 173.0l1.5 2.5h-3.0zM389.7 150.5l1.5 2.5h-3.0zM405.0 75.8l1.5 2.5h-3.0zM403.0 124.6l1.5 2.5h-3.0zM364.6 135.8l1.5 2.5h-3.0zM434.9 130.8l1.5 2.5h-3.0zM365.7 131.2l1.5 2.5h-3.0zM386.5 50.7l1.5 2.5h-3.0zM365.9 115.7l1.5 2.5h-3.0zM351.4 113.3l1.5 2.5h-3.0zM372.2 144.7l1.5 2.5h-3.0zM349.8 170.2l1.5 2.5h-3.0zM417.8 124.2l1.5 2.5h-3.0zM406.9 97.2l1.5 2.5h-3.0zM372.4 207.1l1.5 2.5h-3.0zM418.6 91.1l1.5 2.5h-3.0zM389.8 139.7l1.5 2.5h-3.0zM346.4 246.2l1.5 2.5h-3.0zM378.5 138.3l1.5 2.5h-3.0zM381.2 168.5l1.5 2.5h-3.0zM352.8 117.0l1.5 2.5h-3.0zM366.6 114.3l1.5 2.5h-3.0zM361.2 106.1l1.5 2.5h-3.0zM392.1 86.0l1.5 2.5h-3.0zM392.6 116.4l1.5 2.5h-3.0zM374.9 119.0l1.5 2.5h-3.0zM389.3 111.7l1.5 2.5h-3.0zM365.6 139.6l1.5 2.5h-3.0zM357.2 124.3l1.5 2.5h-3.0zM383.8 202.3l1.5 2.5h-3.0zM437.6 159.7l1.5 2.5h-3.0zM345.8 137.8l1.5 2.5h-3.0zM360.3 133.8l1.5 2.5h-3.0zM435.5 93.7l1.5 2.5h-3.0zM377.1 253.2l1.5 2.5h-3.0zM364.6 119.8l1.5 2.5h-3.0zM356.6 160.9l1.5 2.5h-3.0zM415.7 99.1l1.5 2.5h-3.0zM351.6 168.9l1.5 2.5h-3.0zM372.7 140.2l1.5 2.5h-3.0zM404.0 149.0l1.5 2.5h-3.0zM362.6 124.5l1.5 2.5h-3.0zM386.7 87.1l1.5 2.5h-3.0zM368.8 121.3l1.5 2.5h-3.0zM409.2 193.4l1.5 2.5h-3.0zM360.3 166.9l1.5 2.5h-3.0zM379.4 90.8l1.5 2.5h-3.0zM408.1 153.3l1.5 2.5h-3.0zM379.9 198.3l1.5 2.5h-3.0zM401.6 152.2l1.5 2.5h-3.0zM397.7 128.8l1.5 2.5h-3.0zM406.9 166.3l1.5 2.5h-3.0zM355.3 162.6l1.5 2.5h-3.0zM355.4 173.3l1.5 2.5h-3.0zM371.3 175.0l1.5 2.5h-3.0zM421.8 102.0l1.5 2.5h-3.0zM433.9 111.5l1.5 2.5h-3.0zM367.3 112.7l1.5 2.5h-3.0zM350.4 238.1l1.5 2.5h-3.0zM384.6 119.2l1.5 2.5h-3.0zM413.4 130.4l1.5 2.5h-3.0zM362.1 147.0l1.5 2.5h-3.0zM401.1 106.6l1.5 2.5h-3.0zM427.4 90.4l1.5 2.5h-3.0zM357.9 140.5l1.5 2.5h-3.0zM364.2 158.2l1.5 2.5h-3.0zM378.7 127.9l1.5 2.5h-3.0zM348.7 201.9l1.5 2.5h-3.0zM349.1 123.7l1.5 2.5h-3.0zM461.7 160.0l1.5 2.5h-3.0zM385.0 226.8l1.5 2.5h-3.0zM353.6 108.5l1.5 2.5h-3.0zM412.1 145.5l1.5 2.5h-3.0zM389.4 114.3l1.5 2.5h-3.0zM380.6 122.9l1.5 2.5h-3.0zM346.0 72.7l1.5 2.5h-3.0zM459.8 98.6l1.5 2.5h-3.0zM367.1 87.3l1.5 2.5h-3.0zM402.5 84.9l1.5 2.5h-3.0zM401.6 129.4l1.5 2.5h-3.0zM362.2 151.0l1.5 2.5h-3.0zM378.9 255.4l1.5 2.5h-3.0zM359.6 143.8l1.5 2.5h-3.0zM418.6 99.3l1.5 2.5h-3.0zM372.7 169.1l1.5 2.5h-3.0zM356.0 122.7l1.5 2.5h-3.0zM374.4 101.3l1.5 2.5h-3.0zM367.9 115.7l1.5 2.5h-3.0zM369.3 118.0l1.5 2.5h-3.0zM426.6 103.7l1.5 2.5h-3.0zM401.0 126.5l1.5 2.5h-3.0zM351.6 183.9l1.5 2.5h-3.0zM471.9 109.4l1.5 2.5h-3.0zM414.5 117.3l1.5 2.5h-3.0zM369.0 157.3l1.5 2.5h-3.0zM359.9 104.3l1.5 2.5h-3.0zM446.0 81.4l1.5 2.5h-3.0zM415.5 162.6l1.5 2.5h-3.0zM366.0 111.6l1.5 2.5h-3.0zM421.6 138.4l1.5 2.5h-3.0zM396.3 186.8l1.5 2.5h-3.0zM370.7 164.4l1.5 2.5h-3.0zM378.9 176.0l1.5 2.5h-3.0zM377.2 124.9l1.5 2.5h-3.0zM382.5 121.5l1.5 2.5h-3.0zM457.6 120.3l1.5 2.5h-3.0zM430.6 133.9l1.5 2.5h-3.0zM420.4 117.8l1.5 2.5h-3.0zM444.8 90.5l1.5 2.5h-3.0zM405.6 137.9l1.5 2.5h-3.0zM434.4 99.6l1.5 2.5h-3.0zM379.3 184.1l1.5 2.5h-3.0zM380.4 113.7l1.5 2.5h-3.0zM385.6 108.9l1.5 2.5h-3.0zM414.5 99.3l1.5 2.5h-3.0zM389.8 84.8l1.5 2.5h-3.0zM366.4 138.8l1.5 2.5h-3.0zM361.6 82.7l1.5 2.5h-3.0zM369.8 145.7l1.5 2.5h-3.0zM388.2 91.9l1.5 2.5h-3.0zM346.4 163.0l1.5 2.5h-3.0zM387.4 77.7l1.5 2.5h-3.0zM381.1 106.5l1.5 2.5h-3.0zM364.5 131.1l1.5 2.5h-3.0zM405.1 121.1l1.5 2.5h-3.0zM346.3 153.8l1.5 2.5h-3.0zM357.5 115.4l1.5 2.5h-3.0zM363.9 80.0l1.5 2.5h-3.0zM356.8 106.7l1.5 2.5h-3.0zM397.7 148.3l1.5 2.5h-3.0zM348.3 162.3l1.5 2.5h-3.0zM361.3 115.7l1.5 2.5h-3.0zM412.7 158.5l1.5 2.5h-3.0zM467.5 65.3l1.5 2.5h-3.0zM380.8 107.8l1.5 2.5h-3.0zM347.7 137.8l1.5 2.5h-3.0zM395.5 101.2l1.5 2.5h-3.0zM452.7 44.6l1.5 2.5h-3.0zM416.0 120.4l1.5 2.5h-3.0zM417.5 91.0l1.5 2.5h-3.0zM442.6 49.1l1.5 2.5h-3.0zM359.2 127.7l1.5 2.5h-3.0zM358.5 243.3l1.5 2.5h-3.0zM360.7 172.7l1.5 2.5h-3.0zM353.9 110.8l1.5 2.5h-3.0zM372.2 161.0l1.5 2.5h-3.0zM349.8 84.7l1.5 2.5h-3.0zM356.7 181.1l1.5 2.5h-3.0zM356.4 162.8l1.5 2.5h-3.0zM355.4 105.4l1.5 2.5h-3.0zM370.1 240.4l1.5 2.5h-3.0zM391.7 118.3l1.5 2.5h-3.0zM430.9 144.4l1.5 2.5h-3.0zM428.4 145.0l1.5 2.5h-3.0zM408.7 120.1l1.5 2.5h-3.0zM432.9 80.7l1.5 2.5h-3.0zM424.9 150.8l1.5 2.5h-3.0zM399.4 142.8l1.5 2.5h-3.0zM453.5 104.6l1.5 2.5h-3.0zM350.6 163.6l1.5 2.5h-3.0zM367.3 124.5l1.5 2.5h-3.0zM380.4 99.4l1.5 2.5h-3.0zM362.9 177.2l1.5 2.5h-3.0zM369.3 136.8l1.5 2.5h-3.0zM414.3 110.1l1.5 2.5h-3.0zM374.1 170.0l1.5 2.5h-3.0zM376.0 136.4l1.5 2.5h-3.0zM355.1 211.6l1.5 2.5h-3.0zM403.6 117.9l1.5 2.5h-3.0zM358.3 193.9l1.5 2.5h-3.0zM368.7 252.7l1.5 2.5h-3.0zM426.6 58.3l1.5 2.5h-3.0zM357.4 131.8l1.5 2.5h-3.0zM357.5 147.8l1.5 2.5h-3.0zM374.4 84.8l1.5 2.5h-3.0zM352.7 120.1l1.5 2.5h-3.0zM386.6 129.0l1.5 2.5h-3.0zM365.2 133.9l1.5 2.5h-3.0zM455.4 111.6l1.5 2.5h-3.0zM382.9 125.3l1.5 2.5h-3.0zM355.2 107.5l1.5 2.5h-3.0zM357.1 99.6l1.5 2.5h-3.0zM375.4 151.1l1.5 2.5h-3.0zM379.7 97.1l1.5 2.5h-3.0zM379.7 141.5l1.5 2.5h-3.0zM450.7 106.5l1.5 2.5h-3.0zM349.1 191.7l1.5 2.5h-3.0zM362.7 140.5l1.5 2.5h-3.0zM360.0 222.7l1.5 2.5h-3.0zM423.9 165.2l1.5 2.5h-3.0zM416.9 216.9l1.5 2.5h-3.0zM366.7 138.5l1.5 2.5h-3.0zM465.8 134.1l1.5 2.5h-3.0zM362.4 107.9l1.5 2.5h-3.0zM429.1 135.4l1.5 2.5h-3.0zM435.9 150.9l1.5 2.5h-3.0zM357.1 128.9l1.5 2.5h-3.0zM417.2 184.8l1.5 2.5h-3.0zM385.0 148.2l1.5 2.5h-3.0zM400.7 95.8l1.5 2.5h-3.0zM399.9 106.5l1.5 2.5h-3.0zM382.5 209.9l1.5 2.5h-3.0zM394.5 149.2l1.5 2.5h-3.0zM384.6 129.2l1.5 2.5h-3.0zM392.7 119.6l1.5 2.5h-3.0zM488.4 133.8l1.5 2.5h-3.0zM447.8 88.2l1.5 2.5h-3.0zM382.8 144.6l1.5 2.5h-3.0zM349.7 127.4l1.5 2.5h-3.0zM366.1 117.7l1.5 2.5h-3.0zM441.8 85.6l1.5 2.5h-3.0zM348.5 122.5l1.5 2.5h-3.0zM380.9 234.0l1.5 2.5h-3.0zM359.1 155.0l1.5 2.5h-3.0zM388.0 143.1l1.5 2.5h-3.0zM352.7 252.3l1.5 2.5h-3.0zM373.5 149.4l1.5 2.5h-3.0zM427.2 120.7l1.5 2.5h-3.0zM366.8 140.5l1.5 2.5h-3.0zM361.0 118.6l1.5 2.5h-3.0zM434.1 121.4l1.5 2.5h-3.0zM352.7 172.9l1.5 2.5h-3.0zM390.5 134.3l1.5 2.5h-3.0zM394.6 129.7l1.5 2.5h-3.0zM415.8 141.6l1.5 2.5h-3.0zM365.9 79.7l1.5 2.5h-3.0zM416.0 124.8l1.5 2.5h-3.0zM379.3 128.0l1.5 2.5h-3.0zM388.1 122.8l1.5 2.5h-3.0zM389.0 154.1l1.5 2.5h-3.0zM400.8 110.6l1.5 2.5h-3.0zM478.2 81.5l1.5 2.5h-3.0zM409.4 96.4l1.5 2.5h-3.0zM348.2 119.9l1.5 2.5h-3.0zM366.2 123.1l1.5 2.5h-3.0zM361.5 127.9l1.5 2.5h-3.0zM394.6 196.4l1.5 2.5h-3.0zM356.9 119.1l1.5 2.5h-3.0zM390.7 111.6l1.5 2.5h-3.0zM370.1 136.5l1.5 2.5h-3.0zM356.1 77.7l1.5 2.5h-3.0zM382.3 104.0l1.5 2.5h-3.0zM361.6 48.4l1.5 2.5h-3.0zM359.6 123.2l1.5 2.5h-3.0zM370.4 136.3l1.5 2.5h-3.0zM431.0 84.3l1.5 2.5h-3.0zM367.2 125.3l1.5 2.5h-3.0zM364.8 166.0l1.5 2.5h-3.0zM376.7 86.5l1.5 2.5h-3.0zM357.4 99.4l1.5 2.5h-3.0zM374.6 96.4l1.5 2.5h-3.0zM347.2 168.9l1.5 2.5h-3.0zM346.2 154.8l1.5 2.5h-3.0zM386.6 124.6l1.5 2.5h-3.0zM457.4 113.2l1.5 2.5h-3.0zM399.6 137.7l1.5 2.5h-3.0zM351.6 138.0l1.5 2.5h-3.0zM435.0 53.3l1.5 2.5h-3.0zM431.0 76.9l1.5 2.5h-3.0zM354.1 113.4l1.5 2.5h-3.0zM406.8 103.6l1.5 2.5h-3.0zM422.8 171.9l1.5 2.5h-3.0zM365.6 167.6l1.5 2.5h-3.0zM367.1 148.5l1.5 2.5h-3.0zM391.6 132.3l1.5 2.5h-3.0zM355.7 122.6l1.5 2.5h-3.0zM413.8 115.8l1.5 2.5h-3.0zM397.4 112.3l1.5 2.5h-3.0zM367.9 113.1l1.5 2.5h-3.0zM349.3 121.4l1.5 2.5h-3.0zM423.3 122.8l1.5 2.5h-3.0zM381.3 74.7l1.5 2.5h-3.0zM430.6 183.4l1.5 2.5h-3.0zM406.8 115.0l1.5 2.5h-3.0zM417.3 170.7l1.5 2.5h-3.0zM393.5 145.0l1.5 2.5h-3.0zM433.9 91.9l1.5 2.5h-3.0zM454.5 129.7l1.5 2.5h-3.0zM377.9 134.3l1.5 2.5h-3.0zM352.7 142.2l1.5 2.5h-3.0zM404.6 150.7l1.5 2.5h-3.0zM353.1 200.8l1.5 2.5h-3.0zM426.3 104.9l1.5 2.5h-3.0zM348.7 134.2l1.5 2.5h-3.0zM412.2 90.8l1.5 2.5h-3.0zM390.6 136.6l1.5 2.5h-3.0zM374.6 144.5l1.5 2.5h-3.0zM359.5 117.8l1.5 2.5h-3.0zM354.4 143.1l1.5 2.5h-3.0zM402.5 138.7l1.5 2.5h-3.0zM415.8 127.1l1.5 2.5h-3.0zM399.4 157.5l1.5 2.5h-3.0zM396.2 131.0l1.5 2.5h-3.0zM389.9 155.6l1.5 2.5h-3.0zM410.4 169.6l1.5 2.5h-3.0zM350.6 90.7l1.5 2.5h-3.0zM390.5 109.1l1.5 2.5h-3.0zM386.8 182.2l1.5 2.5h-3.0zM382.7 145.8l1.5 2.5h-3.0zM377.3 159.6l1.5 2.5h-3.0zM351.1 111.6l1.5 2.5h-3.0zM399.5 175.1l1.5 2.5h-3.0zM367.5 193.1l1.5 2.5h-3.0zM351.3 112.4l1.5 2.5h-3.0zM384.9 64.1l1.5 2.5h-3.0zM385.9 121.1l1.5 2.5h-3.0zM389.7 115.0l1.5 2.5h-3.0zM389.9 115.2l1.5 2.5h-3.0zM407.7 142.4l1.5 2.5h-3.0zM397.5 124.8l1.5 2.5h-3.0zM374.8 140.5l1.5 2.5h-3.0zM423.3 160.6l1.5 2.5h-3.0zM357.8 112.0l1.5 2.5h-3.0zM398.3 124.2l1.5 2.5h-3.0zM345.6 146.5l1.5 2.5h-3.0zM348.3 134.7l1.5 2.5h-3.0zM356.0 90.4l1.5 2.5h-3.0zM394.3 93.8l1.5 2.5h-3.0zM426.8 114.6l1.5 2.5h-3.0zM404.8 173.2l1.5 2.5h-3.0zM403.8 192.0l1.5 2.5h-3.0zM365.8 127.3l1.5 2.5h-3.0zM389.6 99.9l1.5 2.5h-3.0zM355.3 142.3l1.5 2.5h-3.0zM387.6 105.2l1.5 2.5h-3.0zM369.3 157.6l1.5 2.5h-3.0zM346.4 158.7l1.5 2.5h-3.0zM413.0 134.5l1.5 2.5h-3.0zM397.5 111.0l1.5 2.5h-3.0zM395.4 111.8l1.5 2.5h-3.0zM361.9 105.4l1.5 2.5h-3.0zM380.4 129.9l1.5 2.5h-3.0zM383.9 98.1l1.5 2.5h-3.0zM371.5 159.8l1.5 2.5h-3.0zM364.8 177.0l1.5 2.5h-3.0zM425.1 127.5l1.5 2.5h-3.0zM397.3 167.9l1.5 2.5h-3.0zM392.4 118.0l1.5 2.5h-3.0zM347.7 147.4l1.5 2.5h-3.0zM355.2 133.4l1.5 2.5h-3.0zM355.8 157.4l1.5 2.5h-3.0zM396.4 164.6l1.5 2.5h-3.0zM378.3 119.4l1.5 2.5h-3.0zM356.5 202.4l1.5 2.5h-3.0zM429.4 63.0l1.5 2.5h-3.0zM357.9 85.8l1.5 2.5h-3.0zM466.4 128.5l1.5 2.5h-3.0zM366.0 118.9l1.5 2.5h-3.0zM346.0 178.3l1.5 2.5h-3.0zM390.7 175.6l1.5 2.5h-3.0zM387.3 106.6l1.5 2.5h-3.0zM400.9 121.3l1.5 2.5h-3.0zM363.2 143.6l1.5 2.5h-3.0zM382.3 92.8l1.5 2.5h-3.0zM377.3 63.9l1.5 2.5h-3.0zM365.5 147.7l1.5 2.5h-3.0zM408.1 117.8l1.5 2.5h-3.0zM420.8 56.5l1.5 2.5h-3.0zM406.8 162.5l1.5 2.5h-3.0zM392.2 158.8l1.5 2.5h-3.0zM391.5 155.1l1.5 2.5h-3.0zM362.5 165.0l1.5 2.5h-3.0zM363.3 169.6l1.5 2.5h-3.0zM359.7 109.7l1.5 2.5h-3.0zM400.5 141.5l1.5 2.5h-3.0zM394.4 169.5l1.5 2.5h-3.0zM430.9 33.8l1.5 2.5h-3.0zM375.0 110.5l1.5 2.5h-3.0zM371.5 190.0l1.5 2.5h-3.0zM370.7 121.4l1.5 2.5h-3.0zM357.4 153.5l1.5 2.5h-3.0zM394.4 102.7l1.5 2.5h-3.0zM381.9 104.5l1.5 2.5h-3.0zM381.7 127.3l1.5 2.5h-3.0zM438.4 189.8l1.5 2.5h-3.0zM399.9 115.3l1.5 2.5h-3.0zM390.5 105.5l1.5 2.5h-3.0zM398.7 110.3l1.5 2.5h-3.0zM415.6 155.5l1.5 2.5h-3.0zM356.8 143.2l1.5 2.5h-3.0zM369.9 121.8l1.5 2.5h-3.0zM355.0 106.2l1.5 2.5h-3.0zM441.9 141.6l1.5 2.5h-3.0zM370.4 133.5l1.5 2.5h-3.0zM353.0 161.4l1.5 2.5h-3.0zM357.5 129.0l1.5 2.5h-3.0zM393.3 115.1l1.5 2.5h-3.0zM379.8 139.2l1.5 2.5h-3.0zM359.4 136.6l1.5 2.5h-3.0zM372.6 125.9l1.5 2.5h-3.0zM347.4 113.5l1.5 2.5h-3.0zM410.4 124.4l1.5 2.5h-3.0zM356.1 246.1l1.5 2.5h-3.0zM366.5 149.0l1.5 2.5h-3.0zM357.1 148.5l1.5 2.5h-3.0zM392.1 173.9l1.5 2.5h-3.0zM380.5 138.6l1.5 2.5h-3.0zM399.6 121.7l1.5 2.5h-3.0zM374.7 169.4l1.5 2.5h-3.0z"/>
<path stroke="#3b7eab" stroke-width="0.6" opacity="0.6" d="M409.1 124.9h2.4v2.4h-2.4zM365.7 139.1h2.4v2.4h-2.4zM388.4 110.6h2.4v2.4h-2.4zM351.4 68.3h2.4v2.4h-2.4zM356.5 123.4h2.4v2.4h-2.4zM350.3 130.8h2.4v2.4h-2.4zM349.7 111.8h2.4v2.4h-2.4zM378.9 116.1h2.4v2.4h-2.4zM372.6 153.9h2.4v2.4h-2.4zM353.2 121.1h2.4v2.4h-2.4zM355.6 116.7h2.4v2.4h-2.4zM413.0 76.0h2.4v2.4h-2.4zM352.8 149.9h2.4v2.4h-2.4zM373.0 139.7h2.4v2.4h-2.4zM364.6 118.4h2.4v2.4h-2.4zM354.1 135.6h2.4v2.4h-2.4zM378.9 163.2h2.4v2.4h-2.4zM367.1 110.6h2.4v2.4h-2.4zM349.5 168.8h2.4v2.4h-2.4zM413.1 94.6h2.4v2.4h-2.4zM368.4 130.5h2.4v2.4h-2.4zM344.6 134.6h2.4v2.4h-2.4zM363.6 133.5h2.4v2.4h-2.4zM378.0 59.2h2.4v2.4h-2.4zM356.5 92.2h2.4v2.4h-2.4zM354.0 158.8h2.4v2.4h-2.4zM375.7 133.8h2.4v2.4h-2.4zM346.8 149.2h2.4v2.4h-2.4zM355.5 137.7h2.4v2.4h-2.4zM462.1 103.3h2.4v2.4h-2.4zM387.8 150.5h2.4v2.4h-2.4zM353.6 128.6h2.4v2.4h-2.4zM364.6 95.5h2.4v2.4h-2.4zM357.7 129.6h2.4v2.4h-2.4zM393.5 136.7h2.4v2.4h-2.4zM395.7 147.5h2.4v2.4h-2.4zM356.4 200.9h2.4v2.4h-2.4zM370.0 164.2h2.4v2.4h-2.4zM345.0 182.6h2.4v2.4h-2.4zM345.3 101.6h2.4v2.4h-2.4zM357.2 133.6h2.4v2.4h-2.4zM373.9 136.3h2.4v2.4h-2.4zM362.3 132.3h2.4v2.4h-2.4zM356.5 102.2h2.4v2.4h-2.4zM382.1 141.4h2.4v2.4h-2.4zM381.1 120.9h2.4v2.4h-2.4zM360.0 180.6h2.4v2.4h-2.4zM356.4 134.1h2.4v2.4h-2.4zM352.8 143.6h2.4v2.4h-2.4zM348.2 132.0h2.4v2.4h-2.4zM358.0 158.2h2.4v2.4h-2.4zM375.6 200.3h2.4v2.4h-2.4zM353.6 134.0h2.4v2.4h-2.4zM348.4 98.0h2.4v2.4h-2.4zM415.8 142.1h2.4v2.4h-2.4zM345.6 148.7h2.4v2.4h-2.4zM350.2 132.1h2.4v2.4h-2.4zM362.0 147.3h2.4v2.4h-2.4zM362.3 139.6h2.4v2.4h-2.4zM408.7 185.3h2.4v2.4h-2.4zM370.5 132.1h2.4v2.4h-2.4zM364.3 199.4h2.4v2.4h-2.4zM352.7 129.0h2.4v2.4h-2.4zM385.0 149.3h2.4v2.4h-2.4zM360.5 171.0h2.4v2.4h-2.4zM369.3 69.1h2.4v2.4h-2.4zM377.5 122.5h2.4v2.4h-2.4zM348.9 84.3h2.4v2.4h-2.4zM372.7 185.5h2.4v2.4h-2.4zM348.5 110.7h2.4v2.4h-2.4zM420.5 133.4h2.4v2.4h-2.4zM384.3 84.4h2.4v2.4h-2.4zM373.6 134.2h2.4v2.4h-2.4zM357.7 132.0h2.4v2.4h-2.4zM348.0 114.6h2.4v2.4h-2.4zM396.7 168.6h2.4v2.4h-2.4zM429.4 110.1h2.4v2.4h-2.4zM366.3 117.2h2.4v2.4h-2.4zM380.9 151.9h2.4v2.4h-2.4zM346.0 160.8h2.4v2.4h-2.4zM362.0 101.3h2.4v2.4h-2.4zM368.5 118.8h2.4v2.4h-2.4zM348.7 98.1h2.4v2.4h-2.4zM355.3 124.9h2.4v2.4h-2.4zM361.6 170.7h2.4v2.4h-2.4zM352.0 128.5h2.4v2.4h-2.4zM396.7 165.2h2.4v2.4h-2.4zM348.2 187.6h2.4v2.4h-2.4zM354.2 116.6h2.4v2.4h-2.4zM352.3 119.7h2.4v2.4h-2.4zM356.4 157.6h2.4v2.4h-2.4zM352.5 156.3h2.4v2.4h-2.4zM344.8 168.4h2.4v2.4h-2.4zM346.0 146.8h2.4v2.4h-2.4zM370.1 117.9h2.4v2.4h-2.4zM362.6 141.9h2.4v2.4h-2.4zM385.5 200.9h2.4v2.4h-2.4zM398.1 124.6h2.4v2.4h-2.4zM359.7 180.0h2.4v2.4h-2.4zM345.1 149.6h2.4v2.4h-2.4zM364.4 135.3h2.4v2.4h-2.4zM358.8 115.6h2.4v2.4h-2.4zM495.2 74.3h2.4v2.4h-2.4zM391.1 138.5h2.4v2.4h-2.4zM383.1 162.3h2.4v2.4h-2.4zM351.9 145.5h2.4v2.4h-2.4zM349.3 123.4h2.4v2.4h-2.4zM377.4 159.5h2.4v2.4h-2.4zM361.4 135.4h2.4v2.4h-2.4zM360.8 126.2h2.4v2.4h-2.4zM370.6 116.4h2.4v2.4h-2.4zM384.3 169.9h2.4v2.4h-2.4zM348.4 102.3h2.4v2.4h-2.4zM384.1 111.8h2.4v2.4h-2.4zM360.7 127.7h2.4v2.4h-2.4zM369.2 156.3h2.4v2.4h-2.4zM349.7 106.3h2.4v2.4h-2.4zM418.9 136.1h2.4v2.4h-2.4zM415.1 130.4h2.4v2.4h-2.4zM403.3 160.9h2.4v2.4h-2.4zM345.4 151.9h2.4v2.4h-2.4zM356.7 105.0h2.4v2.4h-2.4zM367.9 127.6h2.4v2.4h-2.4zM381.0 200.4h2.4v2.4h-2.4zM350.8 129.5h2.4v2.4h-2.4zM350.2 149.2h2.4v2.4h-2.4zM405.0 157.5h2.4v2.4h-2.4zM351.9 146.0h2.4v2.4h-2.4zM346.9 109.6h2.4v2.4h-2.4zM358.1 129.6h2.4v2.4h-2.4zM368.1 152.5h2.4v2.4h-2.4zM356.9 144.5h2.4v2.4h-2.4zM370.4 123.9h2.4v2.4h-2.4zM363.7 195.7h2.4v2.4h-2.4zM348.2 210.1h2.4v2.4h-2.4zM354.7 174.3h2.4v2.4h-2.4zM347.1 126.7h2.4v2.4h-2.4zM391.7 137.6h2.4v2.4h-2.4zM345.8 104.4h2.4v2.4h-2.4zM369.3 146.8h2.4v2.4h-2.4zM351.5 119.4h2.4v2.4h-2.4zM349.1 90.0h2.4v2.4h-2.4zM360.2 130.5h2.4v2.4h-2.4zM345.1 77.2h2.4v2.4h-2.4zM420.6 84.1h2.4v2.4h-2.4zM376.0 103.7h2.4v2.4h-2.4zM351.1 138.6h2.4v2.4h-2.4zM352.6 91.5h2.4v2.4h-2.4zM351.2 110.5h2.4v2.4h-2.4zM359.3 125.2h2.4v2.4h-2.4zM368.2 123.5h2.4v2.4h-2.4zM345.5 102.8h2.4v2.4h-2.4zM347.4 97.0h2.4v2.4h-2.4zM370.1 209.7h2.4v2.4h-2.4zM354.4 91.7h2.4v2.4h-2.4zM414.0 178.4h2.4v2.4h-2.4zM364.6 139.4h2.4v2.4h-2.4zM360.1 176.4h2.4v2.4h-2.4zM355.4 76.8h2.4v2.4h-2.4zM378.0 150.1h2.4v2.4h-2.4zM372.5 172.3h2.4v2.4h-2.4zM352.2 136.4h2.4v2.4h-2.4zM431.5 106.3h2.4v2.4h-2.4zM351.6 114.4h2.4v2.4h-2.4zM387.9 126.5h2.4v2.4h-2.4zM346.8 140.8h2.4v2.4h-2.4zM412.2 125.9h2.4v2.4h-2.4zM448.1 103.9h2.4v2.4h-2.4zM356.6 123.4h2.4v2.4h-2.4zM398.3 151.4h2.4v2.4h-2.4zM393.0 80.2h2.4v2.4h-2.4zM366.5 133.5h2.4v2.4h-2.4zM347.2 149.9h2.4v2.4h-2.4zM378.4 155.8h2.4v2.4h-2.4zM367.9 149.5h2.4v2.4h-2.4zM348.6 145.8h2.4v2.4h-2.4zM353.7 119.7h2.4v2.4h-2.4zM360.9 122.8h2.4v2.4h-2.4zM378.3 251.5h2.4v2.4h-2.4zM367.2 109.3h2.4v2.4h-2.4zM370.5 115.0h2.4v2.4h-2.4zM372.6 121.4h2.4v2.4h-2.4zM374.8 155.5h2.4v2.4h-2.4zM347.9 102.2h2.4v2.4h-2.4zM377.5 123.2h2.4v2.4h-2.4zM351.9 117.1h2.4v2.4h-2.4zM423.5 114.3h2.4v2.4h-2.4zM396.3 213.4h2.4v2.4h-2.4zM356.2 122.0h2.4v2.4h-2.4zM361.8 125.6h2.4v2.4h-2.4zM377.0 147.0h2.4v2.4h-2.4zM345.0 143.6h2.4v2.4h-2.4zM355.0 167.1h2.4v2.4h-2.4zM424.8 140.2h2.4v2.4h-2.4zM355.9 142.7h2.4v2.4h-2.4zM345.6 203.6h2.4v2.4h-2.4zM383.1 211.2h2.4v2.4h-2.4zM348.3 159.7h2.4v2.4h-2.4zM359.9 131.7h2.4v2.4h-2.4zM359.8 118.9h2.4v2.4h-2.4zM353.3 147.3h2.4v2.4h-2.4zM346.3 148.5h2.4v2.4h-2.4zM371.4 187.5h2.4v2.4h-2.4zM383.2 231.4h2.4v2.4h-2.4zM361.5 136.4h2.4v2.4h-2.4zM347.8 104.9h2.4v2.4h-2.4zM357.8 149.4h2.4v2.4h-2.4zM346.1 143.2h2.4v2.4h-2.4zM349.5 174.7h2.4v2.4h-2.4zM351.1 143.6h2.4v2.4h-2.4zM367.8 144.0h2.4v2.4h-2.4zM358.1 105.5h2.4v2.4h-2.4zM357.5 106.4h2.4v2.4h-2.4zM358.9 216.9h2.4v2.4h-2.4zM365.2 162.2h2.4v2.4h-2.4zM377.3 139.2h2.4v2.4h-2.4zM349.4 157.1h2.4v2.4h-2.4zM364.9 129.3h2.4v2.4h-2.4zM362.6 160.1h2.4v2.4h-2.4zM368.1 107.2h2.4v2.4h-2.4zM365.7 123.2h2.4v2.4h-2.4zM357.4 174.1h2.4v2.4h-2.4zM368.6 180.8h2.4v2.4h-2.4zM361.4 150.4h2.4v2.4h-2.4zM372.9 152.7h2.4v2.4h-2.4zM345.6 102.9h2.4v2.4h-2.4zM350.6 107.5h2.4v2.4h-2.4zM348.7 131.5h2.4v2.4h-2.4zM348.6 127.5h2.4v2.4h-2.4zM349.2 135.0h2.4v2.4h-2.4zM377.1 150.1h2.4v2.4h-2.4zM372.5 129.1h2.4v2.4h-2.4zM386.8 175.8h2.4v2.4h-2.4zM384.8 158.1h2.4v2.4h-2.4zM349.6 150.2h2.4v2.4h-2.4zM349.4 158.9h2.4v2.4h-2.4zM383.7 132.0h2.4v2.4h-2.4zM366.3 145.7h2.4v2.4h-2.4zM368.2 191.6h2.4v2.4h-2.4zM372.9 125.6h2.4v2.4h-2.4zM432.6 114.6h2.4v2.4h-2.4zM352.1 128.9h2.4v2.4h-2.4zM391.9 104.7h2.4v2.4h-2.4zM392.2 141.9h2.4v2.4h-2.4zM353.0 131.4h2.4v2.4h-2.4zM348.1 130.5h2.4v2.4h-2.4zM360.4 130.2h2.4v2.4h-2.4zM363.2 119.3h2.4v2.4h-2.4zM389.1 101.3h2.4v2.4h-2.4zM363.1 136.0h2.4v2.4h-2.4zM344.5 118.0h2.4v2.4h-2.4zM354.8 105.4h2.4v2.4h-2.4zM378.3 93.4h2.4v2.4h-2.4zM350.3 135.7h2.4v2.4h-2.4zM347.9 125.0h2.4v2.4h-2.4zM371.6 123.6h2.4v2.4h-2.4zM353.7 125.7h2.4v2.4h-2.4zM351.5 130.7h2.4v2.4h-2.4zM365.7 142.6h2.4v2.4h-2.4zM350.6 110.5h2.4v2.4h-2.4zM354.0 117.4h2.4v2.4h-2.4zM369.3 135.9h2.4v2.4h-2.4zM348.0 110.2h2.4v2.4h-2.4zM348.9 119.8h2.4v2.4h-2.4zM404.9 148.8h2.4v2.4h-2.4zM347.7 115.6h2.4v2.4h-2.4zM347.1 126.0h2.4v2.4h-2.4zM362.0 164.3h2.4v2.4h-2.4zM367.0 96.7h2.4v2.4h-2.4zM366.6 99.4h2.4v2.4h-2.4zM363.9 110.8h2.4v2.4h-2.4zM371.9 164.1h2.4v2.4h-2.4zM396.1 98.3h2.4v2.4h-2.4zM344.3 145.2h2.4v2.4h-2.4zM364.6 105.1h2.4v2.4h-2.4zM365.1 114.2h2.4v2.4h-2.4zM346.7 134.3h2.4v2.4h-2.4zM348.0 145.4h2.4v2.4h-2.4zM357.9 136.3h2.4v2.4h-2.4zM347.3 110.9h2.4v2.4h-2.4zM365.5 153.7h2.4v2.4h-2.4zM350.2 162.3h2.4v2.4h-2.4zM398.2 128.2h2.4v2.4h-2.4zM345.2 69.5h2.4v2.4h-2.4zM357.2 113.0h2.4v2.4h-2.4zM357.6 115.5h2.4v2.4h-2.4zM375.3 129.8h2.4v2.4h-2.4zM354.9 164.0h2.4v2.4h-2.4zM346.3 110.7h2.4v2.4h-2.4zM349.0 156.1h2.4v2.4h-2.4z"/>
<path stroke="#3b7eab" stroke-width="0.6" opacity="0.6" d="M351.0 144.4h2.4v2.4h-2.4zM347.8 111.3h2.4v2.4h-2.4zM345.9 145.2h2.4v2.4h-2.4zM362.0 108.5h2.4v2.4h-2.4zM345.6 164.8h2.4v2.4h-2.4zM354.2 125.8h2.4v2.4h-2.4zM354.2 164.1h2.4v2.4h-2.4zM347.0 179.5h2.4v2.4h-2.4zM368.7 124.0h2.4v2.4h-2.4zM358.8 115.8h2.4v2.4h-2.4zM350.9 129.7h2.4v2.4h-2.4zM362.2 125.1h2.4v2.4h-2.4zM387.5 101.6h2.4v2.4h-2.4zM369.6 140.2h2.4v2.4h-2.4zM349.1 132.9h2.4v2.4h-2.4zM370.7 140.5h2.4v2.4h-2.4zM370.2 109.7h2.4v2.4h-2.4zM390.7 52.1h2.4v2.4h-2.4zM375.5 98.7h2.4v2.4h-2.4zM348.6 170.7h2.4v2.4h-2.4zM417.8 168.7h2.4v2.4h-2.4zM354.2 99.0h2.4v2.4h-2.4zM356.1 162.0h2.4v2.4h-2.4zM358.1 112.5h2.4v2.4h-2.4zM393.5 103.6h2.4v2.4h-2.4zM374.3 127.1h2.4v2.4h-2.4zM349.1 137.0h2.4v2.4h-2.4zM364.4 136.0h2.4v2.4h-2.4zM349.0 139.3h2.4v2.4h-2.4zM350.1 110.9h2.4v2.4h-2.4zM358.4 94.1h2.4v2.4h-2.4zM369.4 140.0h2.4v2.4h-2.4zM352.4 147.7h2.4v2.4h-2.4zM359.6 114.9h2.4v2.4h-2.4zM349.9 125.8h2.4v2.4h-2.4zM400.5 152.3h2.4v2.4h-2.4zM365.7 78.3h2.4v2.4h-2.4zM352.8 245.3h2.4v2.4h-2.4zM375.9 209.4h2.4v2.4h-2.4zM351.9 136.1h2.4v2.4h-2.4zM397.3 132.2h2.4v2.4h-2.4zM351.0 157.2h2.4v2.4h-2.4zM354.3 131.8h2.4v2.4h-2.4zM367.9 121.2h2.4v2.4h-2.4zM352.9 125.6h2.4v2.4h-2.4zM380.0 170.6h2.4v2.4h-2.4zM360.8 166.8h2.4v2.4h-2.4zM376.8 93.3h2.4v2.4h-2.4zM433.3 128.9h2.4v2.4h-2.4zM363.1 152.5h2.4v2.4h-2.4zM353.0 146.6h2.4v2.4h-2.4zM367.7 136.9h2.4v2.4h-2.4zM405.8 120.4h2.4v2.4h-2.4zM348.4 138.9h2.4v2.4h-2.4zM346.2 138.7h2.4v2.4h-2.4zM352.1 63.3h2.4v2.4h-2.4zM409.0 133.9h2.4v2.4h-2.4zM359.4 176.5h2.4v2.4h-2.4zM410.9 116.5h2.4v2.4h-2.4zM346.5 93.1h2.4v2.4h-2.4zM385.7 148.6h2.4v2.4h-2.4zM347.2 174.6h2.4v2.4h-2.4zM365.1 116.5h2.4v2.4h-2.4zM373.7 145.9h2.4v2.4h-2.4zM354.1 134.9h2.4v2.4h-2.4zM347.9 114.2h2.4v2.4h-2.4zM353.3 109.4h2.4v2.4h-2.4zM384.9 136.1h2.4v2.4h-2.4zM401.2 151.6h2.4v2.4h-2.4zM370.7 193.4h2.4v2.4h-2.4zM346.9 154.7h2.4v2.4h-2.4zM370.6 130.1h2.4v2.4h-2.4zM393.5 100.1h2.4v2.4h-2.4zM381.3 142.8h2.4v2.4h-2.4zM391.5 79.3h2.4v2.4h-2.4zM389.9 165.0h2.4v2.4h-2.4zM399.3 163.8h2.4v2.4h-2.4zM354.7 156.5h2.4v2.4h-2.4zM350.3 153.9h2.4v2.4h-2.4zM354.2 146.8h2.4v2.4h-2.4zM385.4 94.4h2.4v2.4h-2.4zM368.6 226.9h2.4v2.4h-2.4zM364.4 129.7h2.4v2.4h-2.4zM381.3 133.3h2.4v2.4h-2.4zM391.0 106.8h2.4v2.4h-2.4zM444.6 77.9h2.4v2.4h-2.4zM348.1 108.6h2.4v2.4h-2.4zM348.7 127.7h2.4v2.4h-2.4zM385.4 90.7h2.4v2.4h-2.4zM408.8 178.6h2.4v2.4h-2.4zM352.7 120.0h2.4v2.4h-2.4zM354.0 143.4h2.4v2.4h-2.4zM366.1 135.5h2.4v2.4h-2.4zM344.6 169.3h2.4v2.4h-2.4zM370.2 104.9h2.4v2.4h-2.4zM353.4 197.7h2.4v2.4h-2.4zM400.0 155.8h2.4v2.4h-2.4zM356.4 109.8h2.4v2.4h-2.4zM366.5 166.3h2.4v2.4h-2.4zM366.4 134.3h2.4v2.4h-2.4zM358.3 69.2h2.4v2.4h-2.4zM399.9 120.2h2.4v2.4h-2.4zM348.7 132.7h2.4v2.4h-2.4zM379.0 110.6h2.4v2.4h-2.4zM383.2 164.0h2.4v2.4h-2.4zM416.6 119.7h2.4v2.4h-2.4zM361.7 114.3h2.4v2.4h-2.4zM346.6 141.5h2.4v2.4h-2.4zM385.1 141.5h2.4v2.4h-2.4zM349.1 115.9h2.4v2.4h-2.4zM349.1 126.6h2.4v2.4h-2.4zM367.2 132.3h2.4v2.4h-2.4zM427.2 150.4h2.4v2.4h-2.4zM383.8 135.8h2.4v2.4h-2.4zM379.1 144.6h2.4v2.4h-2.4zM359.6 111.6h2.4v2.4h-2.4zM354.4 108.8h2.4v2.4h-2.4zM344.5 131.9h2.4v2.4h-2.4zM371.0 107.1h2.4v2.4h-2.4zM345.4 141.5h2.4v2.4h-2.4zM364.2 211.0h2.4v2.4h-2.4zM397.9 141.9h2.4v2.4h-2.4zM349.0 109.2h2.4v2.4h-2.4zM373.0 128.8h2.4v2.4h-2.4zM369.7 129.0h2.4v2.4h-2.4zM359.3 140.2h2.4v2.4h-2.4zM348.7 163.9h2.4v2.4h-2.4zM400.1 210.0h2.4v2.4h-2.4zM354.0 124.5h2.4v2.4h-2.4zM377.8 97.8h2.4v2.4h-2.4zM346.3 133.1h2.4v2.4h-2.4zM361.3 140.0h2.4v2.4h-2.4zM378.9 148.4h2.4v2.4h-2.4zM375.9 189.1h2.4v2.4h-2.4zM354.5 110.3h2.4v2.4h-2.4zM363.1 96.4h2.4v2.4h-2.4zM350.4 124.8h2.4v2.4h-2.4zM376.1 173.3h2.4v2.4h-2.4zM398.0 144.1h2.4v2.4h-2.4zM367.7 159.1h2.4v2.4h-2.4zM346.5 112.0h2.4v2.4h-2.4zM354.9 138.2h2.4v2.4h-2.4zM370.3 159.6h2.4v2.4h-2.4zM374.8 175.6h2.4v2.4h-2.4zM360.4 146.5h2.4v2.4h-2.4zM390.6 125.4h2.4v2.4h-2.4zM376.2 109.8h2.4v2.4h-2.4zM349.8 113.9h2.4v2.4h-2.4zM388.8 120.9h2.4v2.4h-2.4zM356.2 121.2h2.4v2.4h-2.4zM393.2 160.4h2.4v2.4h-2.4zM345.0 98.9h2.4v2.4h-2.4zM390.3 154.8h2.4v2.4h-2.4zM371.9 122.8h2.4v2.4h-2.4zM419.0 107.1h2.4v2.4h-2.4zM353.8 236.2h2.4v2.4h-2.4zM348.5 150.6h2.4v2.4h-2.4zM362.2 112.7h2.4v2.4h-2.4zM345.0 137.8h2.4v2.4h-2.4zM391.7 107.6h2.4v2.4h-2.4zM355.2 109.4h2.4v2.4h-2.4zM356.2 220.6h2.4v2.4h-2.4zM357.7 101.8h2.4v2.4h-2.4zM357.4 148.8h2.4v2.4h-2.4zM370.8 137.2h2.4v2.4h-2.4zM358.1 126.4h2.4v2.4h-2.4zM349.5 129.6h2.4v2.4h-2.4zM347.5 164.8h2.4v2.4h-2.4zM345.4 130.1h2.4v2.4h-2.4zM375.4 105.9h2.4v2.4h-2.4zM372.8 78.5h2.4v2.4h-2.4zM384.1 128.5h2.4v2.4h-2.4zM350.4 156.8h2.4v2.4h-2.4zM355.5 154.7h2.4v2.4h-2.4zM417.9 108.0h2.4v2.4h-2.4zM346.3 132.4h2.4v2.4h-2.4zM391.1 107.1h2.4v2.4h-2.4zM356.5 80.2h2.4v2.4h-2.4zM385.9 75.4h2.4v2.4h-2.4zM346.1 83.7h2.4v2.4h-2.4zM383.7 200.3h2.4v2.4h-2.4zM351.3 210.4h2.4v2.4h-2.4zM375.1 157.9h2.4v2.4h-2.4zM356.9 154.7h2.4v2.4h-2.4zM375.3 109.9h2.4v2.4h-2.4zM358.4 135.0h2.4v2.4h-2.4zM374.1 136.1h2.4v2.4h-2.4zM346.0 128.0h2.4v2.4h-2.4zM347.7 135.5h2.4v2.4h-2.4zM358.8 140.6h2.4v2.4h-2.4zM369.3 141.6h2.4v2.4h-2.4zM346.0 111.6h2.4v2.4h-2.4zM428.8 116.0h2.4v2.4h-2.4zM363.2 148.3h2.4v2.4h-2.4zM349.3 104.0h2.4v2.4h-2.4zM353.2 156.7h2.4v2.4h-2.4zM394.8 167.1h2.4v2.4h-2.4zM348.6 115.6h2.4v2.4h-2.4zM372.5 155.2h2.4v2.4h-2.4zM345.9 132.0h2.4v2.4h-2.4zM362.2 183.6h2.4v2.4h-2.4zM354.8 142.8h2.4v2.4h-2.4zM347.9 131.8h2.4v2.4h-2.4zM377.7 133.6h2.4v2.4h-2.4zM408.2 158.1h2.4v2.4h-2.4zM363.2 89.6h2.4v2.4h-2.4zM384.1 101.5h2.4v2.4h-2.4zM350.6 138.6h2.4v2.4h-2.4zM427.3 117.5h2.4v2.4h-2.4zM368.5 118.3h2.4v2.4h-2.4zM347.0 143.5h2.4v2.4h-2.4zM380.0 108.2h2.4v2.4h-2.4zM370.9 131.5h2.4v2.4h-2.4zM373.7 158.1h2.4v2.4h-2.4zM358.0 113.9h2.4v2.4h-2.4zM401.8 88.0h2.4v2.4h-2.4zM357.5 114.9h2.4v2.4h-2.4zM359.2 132.1h2.4v2.4h-2.4zM361.1 126.1h2.4v2.4h-2.4zM350.9 106.9h2.4v2.4h-2.4zM351.6 137.3h2.4v2.4h-2.4zM356.1 132.8h2.4v2.4h-2.4zM349.0 155.6h2.4v2.4h-2.4zM350.1 112.9h2.4v2.4h-2.4zM353.9 112.6h2.4v2.4h-2.4zM380.4 128.3h2.4v2.4h-2.4zM365.0 138.0h2.4v2.4h-2.4zM355.2 144.9h2.4v2.4h-2.4zM425.0 107.3h2.4v2.4h-2.4zM366.4 131.0h2.4v2.4h-2.4zM355.5 152.5h2.4v2.4h-2.4zM349.7 129.6h2.4v2.4h-2.4zM354.0 138.0h2.4v2.4h-2.4zM367.5 120.6h2.4v2.4h-2.4zM381.7 138.9h2.4v2.4h-2.4zM356.6 149.6h2.4v2.4h-2.4zM350.3 145.4h2.4v2.4h-2.4zM377.7 113.2h2.4v2.4h-2.4zM358.2 160.7h2.4v2.4h-2.4zM359.3 151.0h2.4v2.4h-2.4zM363.0 131.2h2.4v2.4h-2.4zM407.4 77.3h2.4v2.4h-2.4zM355.4 142.1h2.4v2.4h-2.4zM371.3 117.0h2.4v2.4h-2.4zM347.7 177.4h2.4v2.4h-2.4zM352.7 200.0h2.4v2.4h-2.4zM394.1 122.1h2.4v2.4h-2.4zM429.3 92.9h2.4v2.4h-2.4zM344.5 123.4h2.4v2.4h-2.4zM351.2 140.9h2.4v2.4h-2.4zM386.8 102.0h2.4v2.4h-2.4zM399.3 140.3h2.4v2.4h-2.4zM391.5 157.1h2.4v2.4h-2.4zM346.7 150.1h2.4v2.4h-2.4zM391.3 104.3h2.4v2.4h-2.4zM347.0 159.7h2.4v2.4h-2.4zM360.3 138.3h2.4v2.4h-2.4zM409.0 119.0h2.4v2.4h-2.4zM356.9 166.3h2.4v2.4h-2.4zM358.9 44.8h2.4v2.4h-2.4zM383.9 115.5h2.4v2.4h-2.4zM349.2 149.6h2.4v2.4h-2.4zM346.4 131.7h2.4v2.4h-2.4zM380.4 135.2h2.4v2.4h-2.4zM350.0 148.1h2.4v2.4h-2.4zM378.1 139.7h2.4v2.4h-2.4zM357.7 132.1h2.4v2.4h-2.4zM344.4 90.1h2.4v2.4h-2.4zM371.1 127.6h2.4v2.4h-2.4zM355.5 143.1h2.4v2.4h-2.4zM363.8 121.0h2.4v2.4h-2.4zM403.1 117.4h2.4v2.4h-2.4zM357.5 128.3h2.4v2.4h-2.4zM368.7 137.8h2.4v2.4h-2.4zM360.7 187.3h2.4v2.4h-2.4zM354.7 215.9h2.4v2.4h-2.4zM359.7 122.3h2.4v2.4h-2.4zM346.7 165.1h2.4v2.4h-2.4zM361.3 156.8h2.4v2.4h-2.4zM366.5 139.4h2.4v2.4h-2.4zM349.9 148.9h2.4v2.4h-2.4zM395.7 130.8h2.4v2.4h-2.4zM351.0 156.9h2.4v2.4h-2.4zM352.1 91.5h2.4v2.4h-2.4zM347.5 104.3h2.4v2.4h-2.4zM345.6 138.7h2.4v2.4h-2.4zM370.1 173.6h2.4v2.4h-2.4zM358.4 87.4h2.4v2.4h-2.4zM353.8 147.2h2.4v2.4h-2.4zM355.7 117.3h2.4v2.4h-2.4z"/>
<path stroke="#3b7eab" stroke-width="0.6" opacity="0.6" d="M368.8 225.7h2.4v2.4h-2.4zM345.3 147.8h2.4v2.4h-2.4zM347.2 136.8h2.4v2.4h-2.4zM345.1 112.9h2.4v2.4h-2.4zM372.7 146.3h2.4v2.4h-2.4zM361.2 82.1h2.4v2.4h-2.4zM355.8 123.3h2.4v2.4h-2.4zM363.0 111.5h2.4v2.4h-2.4zM360.4 122.5h2.4v2.4h-2.4zM453.3 115.1h2.4v2.4h-2.4zM384.3 127.8h2.4v2.4h-2.4zM370.2 155.6h2.4v2.4h-2.4zM352.9 111.0h2.4v2.4h-2.4zM425.5 88.0h2.4v2.4h-2.4zM360.6 143.7h2.4v2.4h-2.4zM357.1 165.0h2.4v2.4h-2.4zM366.5 161.8h2.4v2.4h-2.4zM383.5 152.3h2.4v2.4h-2.4zM352.0 149.5h2.4v2.4h-2.4zM349.6 129.7h2.4v2.4h-2.4zM347.4 118.4h2.4v2.4h-2.4zM357.8 108.2h2.4v2.4h-2.4zM425.3 122.5h2.4v2.4h-2.4zM352.8 131.3h2.4v2.4h-2.4zM382.2 111.5h2.4v2.4h-2.4zM353.5 103.7h2.4v2.4h-2.4zM390.9 138.3h2.4v2.4h-2.4zM363.2 88.9h2.4v2.4h-2.4zM365.9 131.4h2.4v2.4h-2.4zM362.8 140.0h2.4v2.4h-2.4zM345.1 150.7h2.4v2.4h-2.4zM352.3 152.7h2.4v2.4h-2.4zM358.5 148.3h2.4v2.4h-2.4zM347.6 136.4h2.4v2.4h-2.4zM346.8 133.3h2.4v2.4h-2.4zM414.1 180.8h2.4v2.4h-2.4zM379.5 167.9h2.4v2.4h-2.4zM394.2 152.9h2.4v2.4h-2.4zM378.4 103.2h2.4v2.4h-2.4zM354.1 171.2h2.4v2.4h-2.4zM349.2 161.2h2.4v2.4h-2.4zM344.7 138.9h2.4v2.4h-2.4zM349.0 154.2h2.4v2.4h-2.4zM380.0 97.8h2.4v2.4h-2.4zM386.1 165.6h2.4v2.4h-2.4zM367.4 118.9h2.4v2.4h-2.4zM436.1 116.9h2.4v2.4h-2.4zM349.6 139.8h2.4v2.4h-2.4zM347.1 128.0h2.4v2.4h-2.4zM364.4 109.4h2.4v2.4h-2.4zM373.1 125.0h2.4v2.4h-2.4zM347.9 132.5h2.4v2.4h-2.4zM349.7 134.2h2.4v2.4h-2.4zM373.5 120.8h2.4v2.4h-2.4zM354.1 230.9h2.4v2.4h-2.4zM345.1 101.8h2.4v2.4h-2.4zM344.9 130.4h2.4v2.4h-2.4zM414.9 90.9h2.4v2.4h-2.4zM353.0 125.2h2.4v2.4h-2.4zM347.8 110.6h2.4v2.4h-2.4zM356.0 184.8h2.4v2.4h-2.4zM362.2 151.9h2.4v2.4h-2.4zM388.1 160.9h2.4v2.4h-2.4zM407.7 150.6h2.4v2.4h-2.4zM354.0 115.0h2.4v2.4h-2.4zM366.3 141.5h2.4v2.4h-2.4zM364.6 103.3h2.4v2.4h-2.4zM373.9 141.9h2.4v2.4h-2.4zM351.7 105.4h2.4v2.4h-2.4zM346.7 117.3h2.4v2.4h-2.4zM357.8 140.5h2.4v2.4h-2.4zM358.4 134.1h2.4v2.4h-2.4zM356.4 192.2h2.4v2.4h-2.4zM359.4 150.7h2.4v2.4h-2.4zM377.1 139.0h2.4v2.4h-2.4zM345.1 164.2h2.4v2.4h-2.4zM344.7 94.9h2.4v2.4h-2.4zM346.7 97.9h2.4v2.4h-2.4zM351.9 168.6h2.4v2.4h-2.4zM357.9 107.1h2.4v2.4h-2.4zM365.7 119.1h2.4v2.4h-2.4zM373.4 159.8h2.4v2.4h-2.4zM379.6 153.7h2.4v2.4h-2.4zM383.7 162.7h2.4v2.4h-2.4zM381.1 156.3h2.4v2.4h-2.4zM345.8 118.9h2.4v2.4h-2.4zM350.7 106.9h2.4v2.4h-2.4zM364.5 169.4h2.4v2.4h-2.4zM352.3 170.6h2.4v2.4h-2.4zM383.6 142.6h2.4v2.4h-2.4zM407.0 145.9h2.4v2.4h-2.4zM376.6 173.1h2.4v2.4h-2.4zM344.8 180.3h2.4v2.4h-2.4zM381.9 103.4h2.4v2.4h-2.4zM386.2 78.4h2.4v2.4h-2.4zM372.3 140.2h2.4v2.4h-2.4zM345.5 140.3h2.4v2.4h-2.4zM360.1 188.1h2.4v2.4h-2.4zM352.9 120.3h2.4v2.4h-2.4zM347.7 156.4h2.4v2.4h-2.4zM346.7 116.4h2.4v2.4h-2.4zM347.1 121.7h2.4v2.4h-2.4zM346.7 180.0h2.4v2.4h-2.4zM385.0 197.6h2.4v2.4h-2.4zM364.4 100.4h2.4v2.4h-2.4zM356.2 154.1h2.4v2.4h-2.4zM353.8 195.8h2.4v2.4h-2.4zM351.7 130.8h2.4v2.4h-2.4zM384.7 127.3h2.4v2.4h-2.4zM358.2 140.0h2.4v2.4h-2.4zM391.6 116.3h2.4v2.4h-2.4zM365.8 104.4h2.4v2.4h-2.4zM374.0 178.3h2.4v2.4h-2.4zM367.3 130.4h2.4v2.4h-2.4zM346.4 155.0h2.4v2.4h-2.4zM407.4 137.3h2.4v2.4h-2.4zM349.9 121.7h2.4v2.4h-2.4zM347.4 87.8h2.4v2.4h-2.4zM400.9 106.5h2.4v2.4h-2.4zM366.8 113.5h2.4v2.4h-2.4zM369.1 160.3h2.4v2.4h-2.4zM366.0 125.9h2.4v2.4h-2.4zM370.6 101.9h2.4v2.4h-2.4zM349.8 106.6h2.4v2.4h-2.4zM351.9 106.1h2.4v2.4h-2.4zM364.1 147.3h2.4v2.4h-2.4zM375.5 254.7h2.4v2.4h-2.4zM377.5 219.4h2.4v2.4h-2.4zM351.6 130.4h2.4v2.4h-2.4zM357.4 124.6h2.4v2.4h-2.4zM356.1 142.4h2.4v2.4h-2.4zM420.5 69.7h2.4v2.4h-2.4zM366.1 123.2h2.4v2.4h-2.4zM350.9 132.7h2.4v2.4h-2.4zM351.4 130.6h2.4v2.4h-2.4zM349.6 133.2h2.4v2.4h-2.4zM350.2 127.6h2.4v2.4h-2.4zM354.8 88.8h2.4v2.4h-2.4zM403.5 133.5h2.4v2.4h-2.4zM391.4 155.8h2.4v2.4h-2.4zM348.4 140.2h2.4v2.4h-2.4zM347.7 139.8h2.4v2.4h-2.4zM347.2 93.1h2.4v2.4h-2.4zM352.2 159.1h2.4v2.4h-2.4zM392.4 137.1h2.4v2.4h-2.4zM361.6 137.9h2.4v2.4h-2.4zM361.7 69.3h2.4v2.4h-2.4zM373.7 118.8h2.4v2.4h-2.4zM357.6 98.5h2.4v2.4h-2.4zM374.6 117.8h2.4v2.4h-2.4zM364.7 152.5h2.4v2.4h-2.4zM353.4 135.4h2.4v2.4h-2.4zM345.9 124.3h2.4v2.4h-2.4zM429.2 134.1h2.4v2.4h-2.4zM388.0 107.8h2.4v2.4h-2.4zM353.4 141.2h2.4v2.4h-2.4zM370.3 127.9h2.4v2.4h-2.4zM354.9 169.4h2.4v2.4h-2.4zM382.7 139.2h2.4v2.4h-2.4zM395.9 121.0h2.4v2.4h-2.4zM358.6 117.8h2.4v2.4h-2.4zM346.9 120.8h2.4v2.4h-2.4zM362.8 219.6h2.4v2.4h-2.4zM346.3 93.5h2.4v2.4h-2.4zM374.4 147.7h2.4v2.4h-2.4zM351.5 107.3h2.4v2.4h-2.4zM344.4 120.0h2.4v2.4h-2.4zM346.2 109.7h2.4v2.4h-2.4zM351.9 106.3h2.4v2.4h-2.4zM346.9 158.2h2.4v2.4h-2.4zM361.1 133.1h2.4v2.4h-2.4zM372.7 170.8h2.4v2.4h-2.4zM367.8 152.2h2.4v2.4h-2.4zM389.7 164.8h2.4v2.4h-2.4zM353.5 132.5h2.4v2.4h-2.4zM422.3 132.0h2.4v2.4h-2.4zM352.0 167.5h2.4v2.4h-2.4zM346.6 123.0h2.4v2.4h-2.4zM345.6 221.9h2.4v2.4h-2.4zM375.1 234.0h2.4v2.4h-2.4zM363.1 114.7h2.4v2.4h-2.4zM359.7 115.2h2.4v2.4h-2.4zM378.4 124.9h2.4v2.4h-2.4zM355.5 105.6h2.4v2.4h-2.4zM367.7 167.3h2.4v2.4h-2.4zM382.8 142.8h2.4v2.4h-2.4zM354.4 146.7h2.4v2.4h-2.4zM345.7 122.3h2.4v2.4h-2.4zM345.1 119.6h2.4v2.4h-2.4zM397.7 148.0h2.4v2.4h-2.4zM364.1 103.7h2.4v2.4h-2.4zM458.4 159.0h2.4v2.4h-2.4zM369.0 186.3h2.4v2.4h-2.4zM348.1 148.1h2.4v2.4h-2.4zM345.8 138.3h2.4v2.4h-2.4zM354.5 128.3h2.4v2.4h-2.4zM391.3 127.4h2.4v2.4h-2.4zM349.2 104.6h2.4v2.4h-2.4zM380.0 144.6h2.4v2.4h-2.4zM380.5 151.0h2.4v2.4h-2.4zM360.0 105.1h2.4v2.4h-2.4zM358.6 117.1h2.4v2.4h-2.4zM356.1 141.3h2.4v2.4h-2.4zM352.6 142.3h2.4v2.4h-2.4zM390.0 142.8h2.4v2.4h-2.4zM348.0 168.0h2.4v2.4h-2.4zM378.0 161.4h2.4v2.4h-2.4zM352.0 149.6h2.4v2.4h-2.4zM362.8 90.2h2.4v2.4h-2.4zM359.2 147.1h2.4v2.4h-2.4zM345.2 155.7h2.4v2.4h-2.4zM370.6 133.2h2.4v2.4h-2.4zM352.9 115.7h2.4v2.4h-2.4zM363.5 153.2h2.4v2.4h-2.4zM355.0 134.0h2.4v2.4h-2.4zM379.8 113.8h2.4v2.4h-2.4zM406.5 167.6h2.4v2.4h-2.4zM356.9 101.3h2.4v2.4h-2.4zM361.9 111.5h2.4v2.4h-2.4zM355.5 152.3h2.4v2.4h-2.4zM351.6 121.5h2.4v2.4h-2.4zM350.9 129.4h2.4v2.4h-2.4zM384.8 208.7h2.4v2.4h-2.4zM346.1 130.1h2.4v2.4h-2.4zM346.9 129.2h2.4v2.4h-2.4zM397.9 135.1h2.4v2.4h-2.4zM354.6 104.5h2.4v2.4h-2.4zM354.4 147.3h2.4v2.4h-2.4zM384.7 203.6h2.4v2.4h-2.4zM362.3 84.8h2.4v2.4h-2.4zM358.6 146.4h2.4v2.4h-2.4zM346.2 156.5h2.4v2.4h-2.4zM357.5 140.8h2.4v2.4h-2.4zM353.5 108.1h2.4v2.4h-2.4zM378.0 121.0h2.4v2.4h-2.4zM371.3 82.5h2.4v2.4h-2.4zM349.2 168.7h2.4v2.4h-2.4zM372.0 104.8h2.4v2.4h-2.4zM362.2 126.4h2.4v2.4h-2.4zM376.5 140.5h2.4v2.4h-2.4zM372.9 205.6h2.4v2.4h-2.4zM421.7 98.4h2.4v2.4h-2.4zM370.8 123.1h2.4v2.4h-2.4zM391.1 152.4h2.4v2.4h-2.4zM355.5 151.2h2.4v2.4h-2.4zM359.9 119.4h2.4v2.4h-2.4zM355.2 83.1h2.4v2.4h-2.4zM353.4 101.2h2.4v2.4h-2.4zM408.4 134.3h2.4v2.4h-2.4zM357.4 108.5h2.4v2.4h-2.4zM392.2 167.6h2.4v2.4h-2.4zM349.0 131.8h2.4v2.4h-2.4zM393.1 132.2h2.4v2.4h-2.4zM351.1 118.4h2.4v2.4h-2.4zM346.0 164.0h2.4v2.4h-2.4zM359.6 160.0h2.4v2.4h-2.4zM385.4 113.1h2.4v2.4h-2.4zM382.8 174.4h2.4v2.4h-2.4zM378.6 113.6h2.4v2.4h-2.4zM391.0 136.6h2.4v2.4h-2.4zM355.3 128.7h2.4v2.4h-2.4zM352.6 164.7h2.4v2.4h-2.4zM352.3 171.8h2.4v2.4h-2.4zM344.4 128.5h2.4v2.4h-2.4zM390.7 124.8h2.4v2.4h-2.4zM366.1 176.5h2.4v2.4h-2.4zM366.6 114.0h2.4v2.4h-2.4zM367.0 124.0h2.4v2.4h-2.4zM373.5 138.3h2.4v2.4h-2.4zM348.7 115.6h2.4v2.4h-2.4zM364.2 175.2h2.4v2.4h-2.4zM411.3 82.2h2.4v2.4h-2.4zM364.6 79.6h2.4v2.4h-2.4zM380.7 125.3h2.4v2.4h-2.4zM373.5 122.4h2.4v2.4h-2.4zM347.3 149.9h2.4v2.4h-2.4zM360.5 155.3h2.4v2.4h-2.4zM369.1 204.7h2.4v2.4h-2.4zM371.6 170.1h2.4v2.4h-2.4zM346.1 160.2h2.4v2.4h-2.4zM394.4 128.7h2.4v2.4h-2.4zM353.6 118.1h2.4v2.4h-2.4zM369.9 95.1h2.4v2.4h-2.4zM367.3 103.0h2.4v2.4h-2.4zM355.0 75.7h2.4v2.4h-2.4zM358.7 149.2h2.4v2.4h-2.4zM457.6 85.8h2.4v2.4h-2.4zM373.4 138.0h2.4v2.4h-2.4zM378.7 149.1h2.4v2.4h-2.4zM358.8 105.8h2.4v2.4h-2.4z"/>
</g></g>
<g clip-path="url(#cl)">
<polyline points="49.2,37.6 75.3,76.5 101.4,74.2 129.5,81.0 155.4,72.5" fill="none" stroke="#fff" stroke-width="3.8" stroke-linejoin="round"/>
<path d="M49.2 15.8V79.7M75.3 38.2V154.4M101.4 36.6V134.3M129.5 50.3V107.8M155.4 27.1V112.6" stroke="#fff" stroke-width="4.1" fill="none"/>
<path d="M47.1 15.8h4.2M47.1 79.7h4.2M73.2 38.2h4.2M73.2 154.4h4.2M99.3 36.6h4.2M99.3 134.3h4.2M127.4 50.3h4.2M127.4 107.8h4.2M153.3 27.1h4.2M153.3 112.6h4.2" stroke="#fff" stroke-width="3.4000000000000004" fill="none" stroke-linecap="square"/>
<polyline points="54.5,47.3 87.2,72.8 122.0,67.0 150.6,62.0 179.8,96.0" fill="none" stroke="#fff" stroke-width="3.8" stroke-linejoin="round"/>
<path d="M54.5 15.9V154.4M87.2 33.5V143.6M122.0 36.8V120.8M150.6 48.9V86.7M179.8 67.9V130.2" stroke="#fff" stroke-width="4.1" fill="none"/>
<path d="M52.4 15.9h4.2M52.4 154.4h4.2M85.1 33.5h4.2M85.1 143.6h4.2M119.9 36.8h4.2M119.9 120.8h4.2M148.5 48.9h4.2M148.5 86.7h4.2M177.7 67.9h4.2M177.7 130.2h4.2" stroke="#fff" stroke-width="3.4000000000000004" fill="none" stroke-linecap="square"/>
<polyline points="57.5,21.3 94.8,41.8 134.3,50.2 177.7,73.5 210.3,74.3" fill="none" stroke="#fff" stroke-width="3.8" stroke-linejoin="round"/>
<path d="M57.5 7.8V60.7M94.8 20.5V76.2M134.3 34.3V88.6M177.7 50.4V98.6M210.3 68.8V88.5" stroke="#fff" stroke-width="4.1" fill="none"/>
<path d="M55.4 7.8h4.2M55.4 60.7h4.2M92.7 20.5h4.2M92.7 76.2h4.2M132.2 34.3h4.2M132.2 88.6h4.2M175.6 50.4h4.2M175.6 98.6h4.2M208.2 68.8h4.2M208.2 88.5h4.2" stroke="#fff" stroke-width="3.4000000000000004" fill="none" stroke-linecap="square"/>
<path d="M49.2 15.8V79.7M75.3 38.2V154.4M101.4 36.6V134.3M129.5 50.3V107.8M155.4 27.1V112.6" stroke="#2b6e9b" stroke-width="2.3" fill="none"/>
<path d="M47.1 15.8h4.2M47.1 79.7h4.2M73.2 38.2h4.2M73.2 154.4h4.2M99.3 36.6h4.2M99.3 134.3h4.2M127.4 50.3h4.2M127.4 107.8h4.2M153.3 27.1h4.2M153.3 112.6h4.2" stroke="#2b6e9b" stroke-width="1.6" fill="none"/>
<polyline points="49.2,37.6 75.3,76.5 101.4,74.2 129.5,81.0 155.4,72.5" fill="none" stroke="#2b6e9b" stroke-width="2.0" stroke-linejoin="round"/>
<path d="M54.5 15.9V154.4M87.2 33.5V143.6M122.0 36.8V120.8M150.6 48.9V86.7M179.8 67.9V130.2" stroke="#e2a035" stroke-width="2.3" fill="none"/>
<path d="M52.4 15.9h4.2M52.4 154.4h4.2M85.1 33.5h4.2M85.1 143.6h4.2M119.9 36.8h4.2M119.9 120.8h4.2M148.5 48.9h4.2M148.5 86.7h4.2M177.7 67.9h4.2M177.7 130.2h4.2" stroke="#e2a035" stroke-width="1.6" fill="none"/>
<polyline points="54.5,47.3 87.2,72.8 122.0,67.0 150.6,62.0 179.8,96.0" fill="none" stroke="#e2a035" stroke-width="2.0" stroke-linejoin="round"/>
<path d="M57.5 7.8V60.7M94.8 20.5V76.2M134.3 34.3V88.6M177.7 50.4V98.6M210.3 68.8V88.5" stroke="#c8202e" stroke-width="2.3" fill="none"/>
<path d="M55.4 7.8h4.2M55.4 60.7h4.2M92.7 20.5h4.2M92.7 76.2h4.2M132.2 34.3h4.2M132.2 88.6h4.2M175.6 50.4h4.2M175.6 98.6h4.2M208.2 68.8h4.2M208.2 88.5h4.2" stroke="#c8202e" stroke-width="1.6" fill="none"/>
<polyline points="57.5,21.3 94.8,41.8 134.3,50.2 177.7,73.5 210.3,74.3" fill="none" stroke="#c8202e" stroke-width="2.0" stroke-linejoin="round"/>
</g><g clip-path="url(#cr)">
<polyline points="356.2,131.0 382.3,141.5 408.4,126.7 436.5,120.5 462.4,78.0" fill="none" stroke="#fff" stroke-width="3.8" stroke-linejoin="round"/>
<path d="M356.2 120.3V146.5M382.3 123.8V183.0M408.4 113.0V143.3M436.5 99.0V122.8M462.4 73.8V78.5" stroke="#fff" stroke-width="4.1" fill="none"/>
<path d="M354.1 120.3h4.2M354.1 146.5h4.2M380.2 123.8h4.2M380.2 183.0h4.2M406.3 113.0h4.2M406.3 143.3h4.2M434.4 99.0h4.2M434.4 122.8h4.2M460.3 73.8h4.2M460.3 78.5h4.2" stroke="#fff" stroke-width="3.4000000000000004" fill="none" stroke-linecap="square"/>
<polyline points="361.5,136.2 394.2,136.4 429.0,115.8 457.6,62.9 486.8,60.8" fill="none" stroke="#fff" stroke-width="3.8" stroke-linejoin="round"/>
<path d="M361.5 122.4V166.3M394.2 116.2V170.8M429.0 98.8V136.3M457.6 45.8V89.0M486.8 52.2V78.3" stroke="#fff" stroke-width="4.1" fill="none"/>
<path d="M359.4 122.4h4.2M359.4 166.3h4.2M392.1 116.2h4.2M392.1 170.8h4.2M426.9 98.8h4.2M426.9 136.3h4.2M455.5 45.8h4.2M455.5 89.0h4.2M484.7 52.2h4.2M484.7 78.3h4.2" stroke="#fff" stroke-width="3.4000000000000004" fill="none" stroke-linecap="square"/>
<polyline points="364.5,131.0 401.8,130.4 441.3,103.5 484.7,70.0 517.3,53.1" fill="none" stroke="#fff" stroke-width="3.8" stroke-linejoin="round"/>
<path d="M364.5 122.2V148.0M401.8 116.4V149.8M441.3 87.7V123.0M484.7 60.8V86.5M517.3 24.4V59.3" stroke="#fff" stroke-width="4.1" fill="none"/>
<path d="M362.4 122.2h4.2M362.4 148.0h4.2M399.7 116.4h4.2M399.7 149.8h4.2M439.2 87.7h4.2M439.2 123.0h4.2M482.6 60.8h4.2M482.6 86.5h4.2M515.2 24.4h4.2M515.2 59.3h4.2" stroke="#fff" stroke-width="3.4000000000000004" fill="none" stroke-linecap="square"/>
<path d="M356.2 120.3V146.5M382.3 123.8V183.0M408.4 113.0V143.3M436.5 99.0V122.8M462.4 73.8V78.5" stroke="#2b6e9b" stroke-width="2.3" fill="none"/>
<path d="M354.1 120.3h4.2M354.1 146.5h4.2M380.2 123.8h4.2M380.2 183.0h4.2M406.3 113.0h4.2M406.3 143.3h4.2M434.4 99.0h4.2M434.4 122.8h4.2M460.3 73.8h4.2M460.3 78.5h4.2" stroke="#2b6e9b" stroke-width="1.6" fill="none"/>
<polyline points="356.2,131.0 382.3,141.5 408.4,126.7 436.5,120.5 462.4,78.0" fill="none" stroke="#2b6e9b" stroke-width="2.0" stroke-linejoin="round"/>
<path d="M361.5 122.4V166.3M394.2 116.2V170.8M429.0 98.8V136.3M457.6 45.8V89.0M486.8 52.2V78.3" stroke="#e2a035" stroke-width="2.3" fill="none"/>
<path d="M359.4 122.4h4.2M359.4 166.3h4.2M392.1 116.2h4.2M392.1 170.8h4.2M426.9 98.8h4.2M426.9 136.3h4.2M455.5 45.8h4.2M455.5 89.0h4.2M484.7 52.2h4.2M484.7 78.3h4.2" stroke="#e2a035" stroke-width="1.6" fill="none"/>
<polyline points="361.5,136.2 394.2,136.4 429.0,115.8 457.6,62.9 486.8,60.8" fill="none" stroke="#e2a035" stroke-width="2.0" stroke-linejoin="round"/>
<path d="M364.5 122.2V148.0M401.8 116.4V149.8M441.3 87.7V123.0M484.7 60.8V86.5M517.3 24.4V59.3" stroke="#c8202e" stroke-width="2.3" fill="none"/>
<path d="M362.4 122.2h4.2M362.4 148.0h4.2M399.7 116.4h4.2M399.7 149.8h4.2M439.2 87.7h4.2M439.2 123.0h4.2M482.6 60.8h4.2M482.6 86.5h4.2M515.2 24.4h4.2M515.2 59.3h4.2" stroke="#c8202e" stroke-width="1.6" fill="none"/>
<polyline points="364.5,131.0 401.8,130.4 441.3,103.5 484.7,70.0 517.3,53.1" fill="none" stroke="#c8202e" stroke-width="2.0" stroke-linejoin="round"/>
</g>
<rect x="38.50" y="1.50" width="250.40" height="256.10" fill="none" stroke="#333333" stroke-width="1.0"/>
<path d="M46.85 257.60v-2.0M46.85 1.50v2.0M55.19 257.60v-2.0M55.19 1.50v2.0M63.54 257.60v-2.0M63.54 1.50v2.0M71.89 257.60v-2.0M71.89 1.50v2.0M80.23 257.60v-2.0M80.23 1.50v2.0M88.58 257.60v-2.0M88.58 1.50v2.0M96.93 257.60v-2.0M96.93 1.50v2.0M105.27 257.60v-2.0M105.27 1.50v2.0M113.62 257.60v-2.0M113.62 1.50v2.0M121.97 257.60v-4.0M121.97 1.50v4.0M130.31 257.60v-2.0M130.31 1.50v2.0M138.66 257.60v-2.0M138.66 1.50v2.0M147.01 257.60v-2.0M147.01 1.50v2.0M155.35 257.60v-2.0M155.35 1.50v2.0M163.70 257.60v-2.0M163.70 1.50v2.0M172.05 257.60v-2.0M172.05 1.50v2.0M180.39 257.60v-2.0M180.39 1.50v2.0M188.74 257.60v-2.0M188.74 1.50v2.0M197.09 257.60v-2.0M197.09 1.50v2.0M205.43 257.60v-4.0M205.43 1.50v4.0M213.78 257.60v-2.0M213.78 1.50v2.0M222.13 257.60v-2.0M222.13 1.50v2.0M230.47 257.60v-2.0M230.47 1.50v2.0M238.82 257.60v-2.0M238.82 1.50v2.0M247.17 257.60v-2.0M247.17 1.50v2.0M255.51 257.60v-2.0M255.51 1.50v2.0M263.86 257.60v-2.0M263.86 1.50v2.0M272.21 257.60v-2.0M272.21 1.50v2.0M280.55 257.60v-2.0M280.55 1.50v2.0M38.50 258.02h2.0M288.90 258.02h-2.0M38.50 251.94h2.0M288.90 251.94h-2.0M38.50 246.80h2.0M288.90 246.80h-2.0M38.50 242.35h2.0M288.90 242.35h-2.0M38.50 238.42h2.0M288.90 238.42h-2.0M38.50 234.91h4.0M288.90 234.91h-4.0M38.50 211.80h2.0M288.90 211.80h-2.0M38.50 198.28h2.0M288.90 198.28h-2.0M38.50 188.69h2.0M288.90 188.69h-2.0M38.50 181.25h2.0M288.90 181.25h-2.0M38.50 175.17h2.0M288.90 175.17h-2.0M38.50 170.03h2.0M288.90 170.03h-2.0M38.50 165.58h2.0M288.90 165.58h-2.0M38.50 161.65h2.0M288.90 161.65h-2.0M38.50 158.14h4.0M288.90 158.14h-4.0M38.50 135.03h2.0M288.90 135.03h-2.0M38.50 121.51h2.0M288.90 121.51h-2.0M38.50 111.92h2.0M288.90 111.92h-2.0M38.50 104.48h2.0M288.90 104.48h-2.0M38.50 98.40h2.0M288.90 98.40h-2.0M38.50 93.26h2.0M288.90 93.26h-2.0M38.50 88.81h2.0M288.90 88.81h-2.0M38.50 84.88h2.0M288.90 84.88h-2.0M38.50 81.37h4.0M288.90 81.37h-4.0M38.50 58.26h2.0M288.90 58.26h-2.0M38.50 44.74h2.0M288.90 44.74h-2.0M38.50 35.15h2.0M288.90 35.15h-2.0M38.50 27.71h2.0M288.90 27.71h-2.0M38.50 21.63h2.0M288.90 21.63h-2.0M38.50 16.49h2.0M288.90 16.49h-2.0M38.50 12.04h2.0M288.90 12.04h-2.0M38.50 8.11h2.0M288.90 8.11h-2.0" stroke="#333333" stroke-width="1.0" fill="none"/>
<rect x="345.50" y="1.50" width="250.00" height="256.10" fill="none" stroke="#333333" stroke-width="1.0"/>
<path d="M353.83 257.60v-2.0M353.83 1.50v2.0M362.17 257.60v-2.0M362.17 1.50v2.0M370.50 257.60v-2.0M370.50 1.50v2.0M378.83 257.60v-2.0M378.83 1.50v2.0M387.17 257.60v-2.0M387.17 1.50v2.0M395.50 257.60v-2.0M395.50 1.50v2.0M403.83 257.60v-2.0M403.83 1.50v2.0M412.17 257.60v-2.0M412.17 1.50v2.0M420.50 257.60v-2.0M420.50 1.50v2.0M428.83 257.60v-4.0M428.83 1.50v4.0M437.17 257.60v-2.0M437.17 1.50v2.0M445.50 257.60v-2.0M445.50 1.50v2.0M453.83 257.60v-2.0M453.83 1.50v2.0M462.17 257.60v-2.0M462.17 1.50v2.0M470.50 257.60v-2.0M470.50 1.50v2.0M478.83 257.60v-2.0M478.83 1.50v2.0M487.17 257.60v-2.0M487.17 1.50v2.0M495.50 257.60v-2.0M495.50 1.50v2.0M503.83 257.60v-2.0M503.83 1.50v2.0M512.17 257.60v-4.0M512.17 1.50v4.0M520.50 257.60v-2.0M520.50 1.50v2.0M528.83 257.60v-2.0M528.83 1.50v2.0M537.17 257.60v-2.0M537.17 1.50v2.0M545.50 257.60v-2.0M545.50 1.50v2.0M553.83 257.60v-2.0M553.83 1.50v2.0M562.17 257.60v-2.0M562.17 1.50v2.0M570.50 257.60v-2.0M570.50 1.50v2.0M578.83 257.60v-2.0M578.83 1.50v2.0M587.17 257.60v-2.0M587.17 1.50v2.0M345.50 227.40h4.0M595.50 227.40h-4.0M345.50 197.20h2.0M595.50 197.20h-2.0M345.50 167.00h4.0M595.50 167.00h-4.0M345.50 136.80h2.0M595.50 136.80h-2.0M345.50 106.60h4.0M595.50 106.60h-4.0M345.50 76.40h2.0M595.50 76.40h-2.0M345.50 46.20h4.0M595.50 46.20h-4.0M345.50 16.00h2.0M595.50 16.00h-2.0" stroke="#333333" stroke-width="1.0" fill="none"/>
<clipPath id="cb"><rect x="30" y="240" width="570" height="18.3"/></clipPath>
<g clip-path="url(#cb)" fill="none">
<path stroke="#cf4a64" stroke-width="0.7" opacity="0.8" d="M83.1 257.6h1.8M84.0 256.7v1.8M61.7 257.6h1.8M62.6 256.7v1.8M95.7 257.6h1.8M96.6 256.7v1.8M99.6 257.6h1.8M100.5 256.7v1.8M405.4 257.6h1.8M406.3 256.7v1.8M389.9 257.6h1.8M390.8 256.7v1.8M373.1 257.6h1.8M374.0 256.7v1.8M373.6 257.6h1.8M374.5 256.7v1.8"/>
<path stroke="#e0962e" stroke-width="0.7" opacity="0.8" d="M75.0 256.1l1.5 2.5h-3.0zM66.8 256.1l1.5 2.5h-3.0zM105.8 256.1l1.5 2.5h-3.0zM98.7 256.1l1.5 2.5h-3.0zM89.2 256.1l1.5 2.5h-3.0zM107.5 256.1l1.5 2.5h-3.0zM91.4 256.1l1.5 2.5h-3.0zM117.4 256.1l1.5 2.5h-3.0zM70.8 256.1l1.5 2.5h-3.0zM91.7 256.1l1.5 2.5h-3.0zM87.5 256.1l1.5 2.5h-3.0zM79.7 256.1l1.5 2.5h-3.0zM386.2 256.1l1.5 2.5h-3.0zM393.6 256.1l1.5 2.5h-3.0zM419.9 256.1l1.5 2.5h-3.0zM407.3 256.1l1.5 2.5h-3.0zM385.9 256.1l1.5 2.5h-3.0zM366.5 256.1l1.5 2.5h-3.0zM375.1 256.1l1.5 2.5h-3.0zM425.3 256.1l1.5 2.5h-3.0zM393.1 256.1l1.5 2.5h-3.0zM407.0 256.1l1.5 2.5h-3.0zM368.8 256.1l1.5 2.5h-3.0zM367.5 256.1l1.5 2.5h-3.0z"/>
<path stroke="#3b7eab" stroke-width="0.7" opacity="0.8" d="M43.3 256.4h2.4v2.4h-2.4zM57.8 256.4h2.4v2.4h-2.4zM61.8 256.4h2.4v2.4h-2.4zM39.4 256.4h2.4v2.4h-2.4zM44.1 256.4h2.4v2.4h-2.4zM74.5 256.4h2.4v2.4h-2.4zM41.0 256.4h2.4v2.4h-2.4zM43.4 256.4h2.4v2.4h-2.4zM75.3 256.4h2.4v2.4h-2.4zM62.6 256.4h2.4v2.4h-2.4zM52.7 256.4h2.4v2.4h-2.4zM58.2 256.4h2.4v2.4h-2.4zM64.2 256.4h2.4v2.4h-2.4zM350.3 256.4h2.4v2.4h-2.4zM363.5 256.4h2.4v2.4h-2.4zM356.1 256.4h2.4v2.4h-2.4zM348.5 256.4h2.4v2.4h-2.4zM380.2 256.4h2.4v2.4h-2.4zM362.1 256.4h2.4v2.4h-2.4zM351.1 256.4h2.4v2.4h-2.4zM371.6 256.4h2.4v2.4h-2.4zM353.2 256.4h2.4v2.4h-2.4zM380.5 256.4h2.4v2.4h-2.4zM353.8 256.4h2.4v2.4h-2.4zM346.6 256.4h2.4v2.4h-2.4zM353.1 256.4h2.4v2.4h-2.4z"/>
</g>
<rect x="218.5" y="198.4" width="7.2" height="7" fill="#2f6f98"/>
<path d="M222.1 213.6L226 220.6H218.2Z" fill="#e8982a"/>
<path d="M219.4 231.5h6.6M222.7 228.2v6.6" stroke="#d8303c" stroke-width="1.4"/>
<g font-family="Liberation Sans, sans-serif" fill="#000" stroke="#000" stroke-width="0.25" font-size="12">
<text x="236.3" y="204.3" font-size="12">z~11</text>
<text x="236.3" y="220.7" font-size="12">z~9</text>
<text x="236.3" y="235.1" font-size="12">z~7</text>
<text x="36.3" y="9.2" text-anchor="end">100</text>
<text x="36.3" y="86.0" text-anchor="end">10</text>
<text x="36.3" y="162.7" text-anchor="end">1</text>
<text x="36.3" y="239.5" text-anchor="end">0.1</text>
<text x="38.8" y="273.6" text-anchor="middle" font-size="12.4">8</text>
<text x="122.2" y="273.6" text-anchor="middle" font-size="12.4">9</text>
<text x="205.7" y="273.6" text-anchor="middle" font-size="12.4">10</text>
<text x="289.1" y="273.6" text-anchor="middle" font-size="12.4">11</text>
<text x="123.9" y="287.9" font-size="13.4">log M<tspan font-size="10.8" dy="3.6">vir</tspan><tspan dy="-3.6"> [M</tspan><tspan font-size="10.8" dy="3.6">&#x2299;</tspan><tspan dy="-3.6">]</tspan></text>
<text x="345.9" y="273.6" text-anchor="middle" font-size="12.4">8</text>
<text x="429.3" y="273.6" text-anchor="middle" font-size="12.4">9</text>
<text x="512.8" y="273.6" text-anchor="middle" font-size="12.4">10</text>
<text x="596.2" y="273.6" text-anchor="middle" font-size="12.4">11</text>
<text x="431.0" y="287.9" font-size="13.4">log M<tspan font-size="10.8" dy="3.6">vir</tspan><tspan dy="-3.6"> [M</tspan><tspan font-size="10.8" dy="3.6">&#x2299;</tspan><tspan dy="-3.6">]</tspan></text>
<text x="341.8" y="231.7" text-anchor="end">10<tspan font-size="7" dy="-5.8">46</tspan></text>
<text x="341.8" y="171.3" text-anchor="end">10<tspan font-size="7" dy="-5.8">48</tspan></text>
<text x="341.8" y="110.9" text-anchor="end">10<tspan font-size="7" dy="-5.8">50</tspan></text>
<text x="341.8" y="50.5" text-anchor="end">10<tspan font-size="7" dy="-5.8">52</tspan></text>
<text transform="translate(11.2,143.8) rotate(-90)" font-size="14.5">f<tspan font-size="10" dy="3.6">esc</tspan><tspan dy="-3.6" letter-spacing="1.3"> [%]</tspan></text>
<text transform="translate(317.4,151.4) rotate(-90)" font-size="13.3">N<tspan font-size="9" dy="3.4">ion</tspan><tspan dy="-3.4"> f</tspan><tspan font-size="9" dy="3.4">esc</tspan><tspan dy="-3.4" dx="-1.5" font-size="9.8" letter-spacing="0.9"> [#/s]</tspan></text>
<circle cx="305.4" cy="145.8" r="1.0" fill="#000"/>
</g>
</svg>
</body></html>
